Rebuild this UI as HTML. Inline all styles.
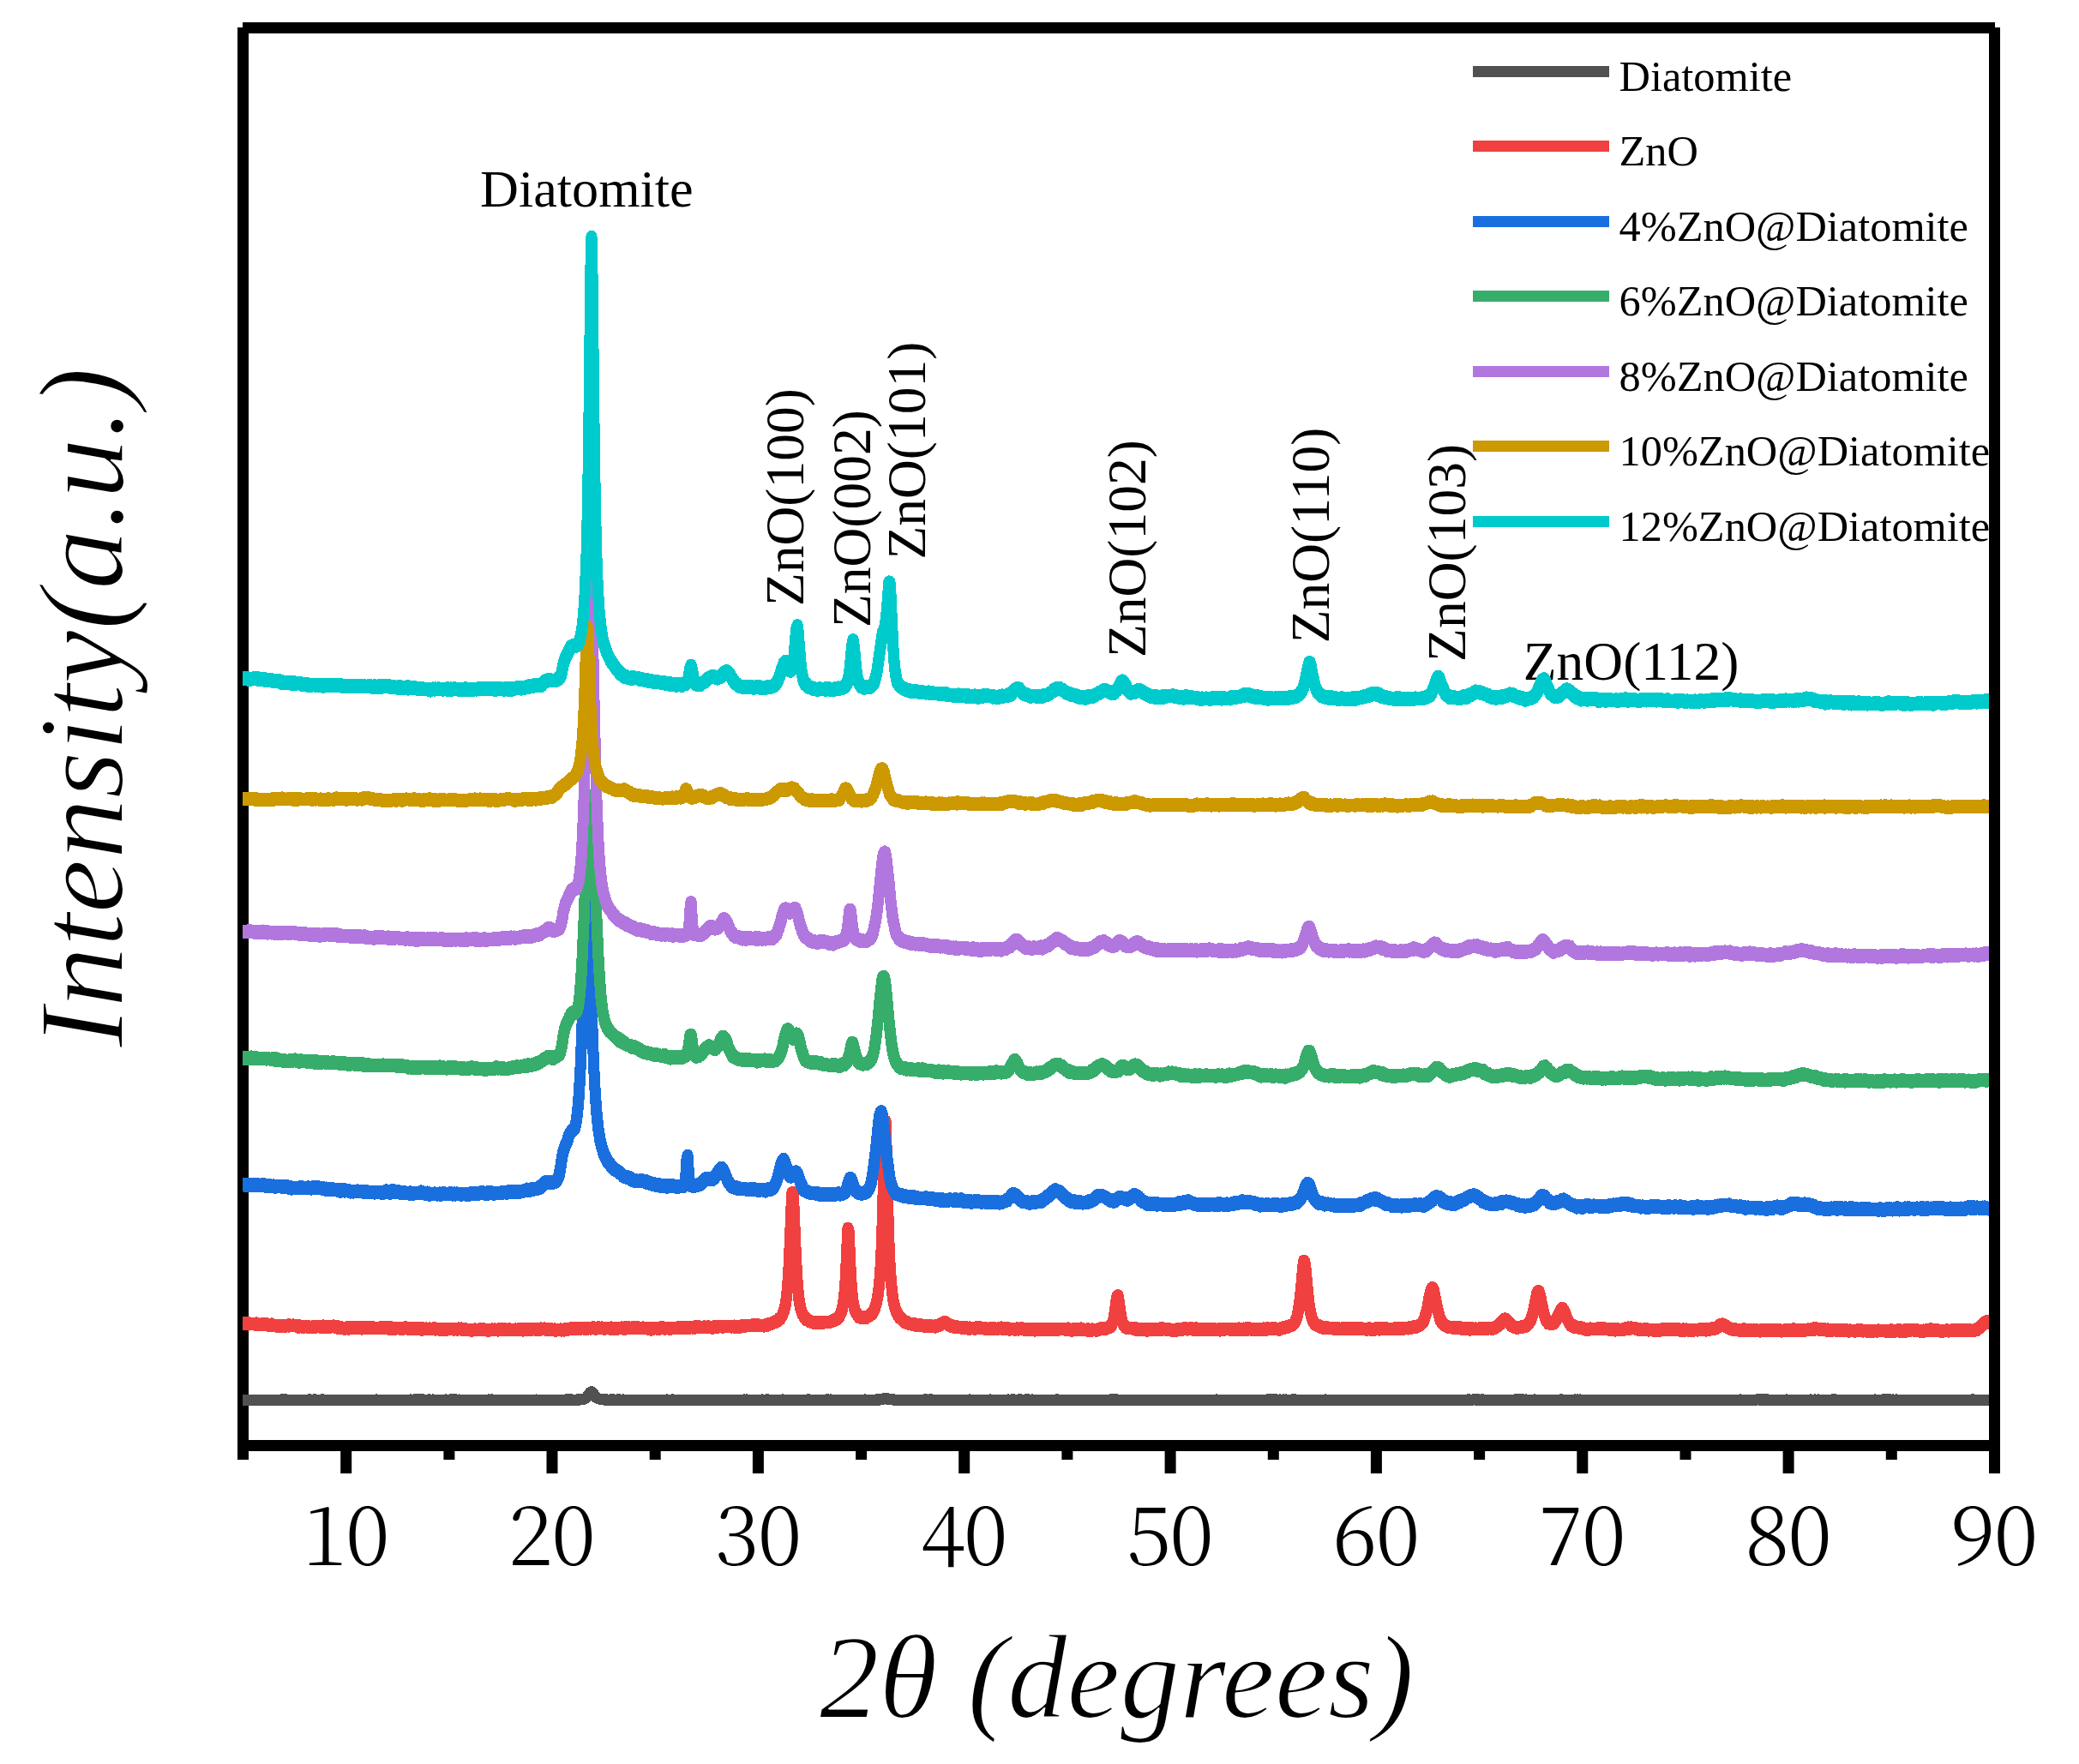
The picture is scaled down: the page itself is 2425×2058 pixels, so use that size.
<!DOCTYPE html>
<html lang="en"><head><meta charset="utf-8"><title>XRD patterns</title>
<style>
html,body{margin:0;padding:0;background:#fff}
svg{display:block}
text{font-family:"Liberation Serif",serif;fill:#000}
.tk text{font-family:"Noto Serif CJK SC","Liberation Serif",serif;font-weight:300}
.it{font-style:italic;stroke:#fff;stroke-width:2px;stroke-linejoin:round}
.ax{stroke:#000;stroke-width:13;fill:none;stroke-linecap:butt}
.cv{fill:none;stroke-width:13;stroke-linejoin:round;stroke-linecap:butt;shape-rendering:crispEdges}
</style></head><body>
<svg width="2425" height="2058" viewBox="0 0 2425 2058">
<rect x="0" y="0" width="2425" height="2058" fill="#fff"/>

<g font-size="63.5">
<text x="560" y="241.3" font-size="62.2">Diatomite</text>
<text transform="translate(937 707.1) rotate(-90)">ZnO(100)</text>
<text transform="translate(1014.6 732.1) rotate(-90)">ZnO(002)</text>
<text transform="translate(1078.5 652.6) rotate(-90)">ZnO(101)</text>
<text transform="translate(1336.2 767.1) rotate(-90)">ZnO(102)</text>
<text transform="translate(1549.5 750.3) rotate(-90)">ZnO(110)</text>
<text transform="translate(1709 771.9) rotate(-90)">ZnO(103)</text>
<text x="1776.8" y="793.3">ZnO(112)</text>
</g>

<g font-size="50.4">
<line x1="1718" x2="1877" y1="83.5" y2="83.5" stroke="#515151" stroke-width="13"/>
<text x="1888.5" y="106.0">Diatomite</text>
<line x1="1718" x2="1877" y1="170.5" y2="170.5" stroke="#F14040" stroke-width="13"/>
<text x="1888.5" y="193.0">ZnO</text>
<line x1="1718" x2="1877" y1="258.5" y2="258.5" stroke="#1A6FDF" stroke-width="13"/>
<text x="1888.5" y="281.0">4%ZnO@Diatomite</text>
<line x1="1718" x2="1877" y1="345.5" y2="345.5" stroke="#37AD6B" stroke-width="13"/>
<text x="1888.5" y="368.0">6%ZnO@Diatomite</text>
<line x1="1718" x2="1877" y1="433.5" y2="433.5" stroke="#B177DE" stroke-width="13"/>
<text x="1888.5" y="456.0">8%ZnO@Diatomite</text>
<line x1="1718" x2="1877" y1="520.5" y2="520.5" stroke="#CC9900" stroke-width="13"/>
<text x="1888.5" y="543.0">10%ZnO@Diatomite</text>
<line x1="1718" x2="1877" y1="608.5" y2="608.5" stroke="#00CBCC" stroke-width="13"/>
<text x="1888.5" y="631.0">12%ZnO@Diatomite</text>
</g>

<g class="tk" font-size="96" letter-spacing="-2" text-anchor="middle">
<text x="402.7" y="1826">10</text>
<text x="643.0" y="1826">20</text>
<text x="883.4" y="1826">30</text>
<text x="1123.7" y="1826">40</text>
<text x="1364.1" y="1826">50</text>
<text x="1604.4" y="1826">60</text>
<text x="1844.8" y="1826">70</text>
<text x="2085.1" y="1826">80</text>
<text x="2325.5" y="1826">90</text>
</g>

<text class="it" font-size="139.3" x="1302.5" y="2004" text-anchor="middle">2θ (degrees)</text>
<text class="it" font-size="141.5" transform="translate(143 825.5) rotate(-90)" text-anchor="middle">Intensity(a.u.)</text>

<g class="ax">
<path d="M283.5 32V1703M283 32.5H2327M2326.5 32V1719M283 1686.5H2327"/>
<path d="M403.7 1686V1719M644.0 1686V1719M884.4 1686V1719M1124.7 1686V1719M1365.1 1686V1719M1605.4 1686V1719M1845.8 1686V1719M2086.1 1686V1719M523.9 1686V1703M764.2 1686V1703M1004.6 1686V1703M1244.9 1686V1703M1485.3 1686V1703M1725.6 1686V1703M1966.0 1686V1703M2206.3 1686V1703"/>
</g>

<clipPath id="plotclip"><rect x="283" y="39" width="2037" height="1641"/></clipPath>
<g class="cv" clip-path="url(#plotclip)">
<path d="M281 1633.3l1 0l1 0l1 -0.3l1 0.3l1 0l1 0l1 0l1 0l1 -0.2l1 0.1l1 0l1 -0.1l1 0.3l1 0.1l1 -0.3l1 0.2l1 0.1l1 0.2l1 -0.2l1 0l1 0.2l1 -0.3l1 0.1l1 -0.1l1 -0.2l1 0.3l1 -0.3l1 0l1 -0.1l1 0.2l1 -0.2l1 -0.1l1 0.1l1 0.2l1 -0.1l1 0.1l1 -0.1l1 0.1l1 0.1l1 0l1 -0.3l1 0.3l1 -0.3l1 0.1l1 -0.1l1 -0.1l1 0.4l1 -0.6l1 0.2l1 -0.1l1 0l1 -0.1l1 0.3l1 0.1l1 0l1 -0.2l1 0.2l1 0.4l1 -0.5l1 0.2l1 0.2l1 -0.1l1 0.1l1 -0.1l1 0l1 -0.1l1 0.1l1 0.1l1 0l1 -0.2l1 0.1l1 -0.2l1 0.3l1 -0.2l1 -0.1l1 0.1l1 0.1l1 0l1 -0.2l1 -0.5l1 0.4l1 0l1 0.1l1 -0.2l1 -0.1l1 0.2l1 -0.2l1 0.2l1 0l1 0.1l1 -0.1l1 0.2l1 -0.3l1 0.1l1 -0.3l1 0.3l1 0.1l1 0.1l1 -0.1l1 0.2l1 -0.3l1 0l1 0.2l1 -0.1l1 0.1l1 0.3l1 -0.3l1 0.1l1 0.2l1 -0.2l1 -0.1l1 0.1l1 -0.1l1 0.3l1 -0.2l1 0.1l1 -0.1l1 -0.1l1 -0.1l1 0.1l1 0l1 -0.1l1 0.1l1 -0.2l1 0.3l1 -0.2l1 0.1l1 -0.1l1 0l1 0l1 0l1 -0.1l1 0.2l1 0l1 -0.1l1 0.1l1 0l1 -0.2l1 0l1 0l1 0l1 0.1l1 0l1 0l1 -0.1l1 0.1l1 -0.1l1 0.1l1 0l1 0.1l1 -0.3l1 0.2l1 0l1 0l1 0.1l1 -0.1l1 -0.1l1 -0.2l1 0.2l1 0.1l1 -0.1l1 0l1 0.1l1 0l1 0.1l1 0l1 0.2l1 -0.2l1 0l1 0.1l1 -0.1l1 0.1l1 -0.2l1 0.1l1 -0.1l1 0.1l1 0.1l1 -0.2l1 0.1l1 -0.1l1 0l1 -0.2l1 0.1l1 0.2l1 -0.3l1 0.1l1 0.1l1 -0.1l1 0.2l1 -0.1l1 -0.1l1 0.3l1 -0.3l1 -0.1l1 0.2l1 0l1 -0.2l1 0l1 0l1 0.1l1 -0.1l1 0l1 0l1 -0.1l1 0.1l1 -0.1l1 0l1 0.1l1 0l1 -0.2l1 0.4l1 -0.2l1 -0.1l1 0.2l1 0l1 0l1 0l1 0l1 -0.2l1 0l1 0.1l1 0l1 0.2l1 -0.3l1 0.3l1 -0.1l1 -0.1l1 0.2l1 -0.1l1 0.2l1 -0.1l1 0.1l1 0l1 0l1 -0.1l1 -0.2l1 0.2l1 0l1 -0.3l1 0.2l1 -0.1l1 0.2l1 -0.2l1 0l1 0l1 0.2l1 -0.4l1 0.1l1 0.2l1 -0.3l1 0.3l1 0l1 0l1 -0.1l1 0l1 0.1l1 0l1 0.1l1 -0.2l1 0.1l1 0.2l1 0l1 -0.1l1 0.1l1 0l1 -0.2l1 0.1l1 -0.1l1 0.1l1 0.1l1 -0.2l1 0.1l1 0l1 -0.2l1 0.2l1 -0.1l1 0.2l1 0.1l1 -0.3l1 0.3l1 0l1 -0.1l1 -0.2l1 0.1l1 -0.1l1 0.3l1 -0.1l1 0l1 -0.4l1 0.2l1 0.1l1 -0.3l1 0l1 0.3l1 -0.2l1 0.1l1 0.3l1 -0.2l1 0l1 -0.1l1 0.1l1 -0.2l1 0.3l1 -0.1l1 -0.2l1 0.2l1 -0.2l1 0.5l1 0.1l1 -0.5l1 0.2l1 0.1l1 -0.1l1 0.1l1 -0.1l1 0.2l1 -0.3l1 0.1l1 0l1 0l1 -0.2l1 0.1l1 0l1 -0.1l1 0.2l1 0l1 -0.2l1 0.1l1 0l1 0l1 0.1l1 0.1l1 0.1l1 -0.3l1 0l1 -0.1l1 0.1l1 0.1l1 -0.1l1 -0.1l1 0.1l1 0l1 -0.1l1 -0.1l1 0l1 0.2l1 0.1l1 0.1l1 -0.1l1 0l1 -0.2l1 0.1l1 0l1 0.1l1 0.1l1 -0.2l1 0l1 0.3l1 -0.1l1 -0.1l1 -0.2l1 0.3l1 -0.1l1 -0.1l1 0.1l1 -0.2l1 0.1l1 -0.2l1 0.2l1 -0.2l1 0l1 0.1l1 0l1 0l1 -0.1l1 0.1l1 -0.1l1 0.1l1 -0.2l1 -0.1l1 0l1 0.1l1 -0.1l1 0.3l1 0l1 -0.2l1 0.1l1 0l1 0l1 0.1l1 -0.1l1 -0.1l1 0.1l1 0l1 -0.2l1 0l1 -0.2l1 -0.1l1 -0.2l1 -0.2l1 -0.4l1 -0.5l1 -0.8l1 -1l1 -1.5l1 -1.4l1 -1.4l1 -1.1l1 -0.4l1 0.7l1 1.5l1 1.3l1 1.4l1 1.2l1 1l1 0.5l1 0.6l1 0.1l1 0.3l1 0.2l1 -0.1l1 0.3l1 0.1l1 0.2l1 0l1 0.1l1 -0.1l1 0.2l1 0.1l1 -0.2l1 -0.1l1 0.3l1 -0.4l1 0.3l1 -0.2l1 0.2l1 -0.1l1 0l1 -0.1l1 0l1 -0.1l1 0.4l1 -0.2l1 0l1 0.2l1 -0.3l1 0.1l1 0.1l1 -0.1l1 0.2l1 0l1 0.1l1 -0.1l1 -0.2l1 0.1l1 0.1l1 -0.1l1 -0.1l1 0.2l1 0l1 -0.1l1 0.1l1 0l1 0.2l1 -0.4l1 0.2l1 -0.1l1 0.1l1 0.2l1 -0.1l1 -0.2l1 0.3l1 -0.2l1 0l1 0.1l1 -0.1l1 0.1l1 -0.1l1 -0.1l1 0.2l1 -0.1l1 -0.1l1 0l1 0.1l1 0l1 0l1 0.1l1 -0.2l1 0.2l1 0l1 -0.1l1 0.1l1 -0.1l1 0l1 0l1 -0.2l1 -0.1l1 0.1l1 0l1 0l1 0l1 0l1 -0.1l1 0l1 0.2l1 0.1l1 -0.2l1 0l1 0.1l1 0.1l1 0l1 -0.1l1 0.2l1 0l1 -0.1l1 0l1 0l1 0.3l1 0l1 -0.2l1 0.2l1 -0.2l1 0l1 0l1 -0.1l1 0l1 0l1 0.1l1 -0.1l1 0l1 0l1 0l1 0.1l1 -0.1l1 0.2l1 -0.1l1 -0.1l1 0.2l1 -0.1l1 -0.1l1 0.5l1 -0.4l1 -0.2l1 0.1l1 0.2l1 0l1 -0.2l1 0.2l1 0.1l1 0l1 -0.1l1 -0.1l1 0l1 -0.1l1 0.2l1 -0.2l1 0l1 -0.1l1 0.3l1 -0.3l1 0.1l1 0l1 0.1l1 0l1 0l1 -0.3l1 0l1 0.3l1 0l1 -0.2l1 0.1l1 -0.1l1 0.3l1 0l1 -0.1l1 0l1 -0.1l1 0.1l1 -0.2l1 0.2l1 0l1 0.1l1 -0.2l1 0l1 0.2l1 -0.3l1 -0.2l1 0.1l1 0l1 -0.1l1 0.3l1 0l1 0l1 -0.1l1 0l1 0.4l1 -0.2l1 0.2l1 -0.2l1 0.1l1 0l1 -0.4l1 0.2l1 0.1l1 -0.1l1 -0.2l1 0l1 -0.1l1 0.2l1 0l1 0l1 -0.1l1 -0.1l1 0.1l1 -0.1l1 0.2l1 0l1 0l1 0l1 0.1l1 -0.1l1 0.2l1 0l1 0l1 -0.2l1 0.2l1 -0.1l1 -0.1l1 0l1 0l1 0.1l1 -0.3l1 0.3l1 -0.2l1 0.3l1 -0.1l1 -0.1l1 0.1l1 -0.2l1 0.1l1 0l1 0.1l1 -0.1l1 0.2l1 -0.2l1 0l1 0.1l1 -0.1l1 0l1 0.1l1 0.1l1 -0.2l1 0l1 0.1l1 0l1 -0.1l1 0l1 0.1l1 0.2l1 -0.4l1 -0.1l1 0.2l1 -0.2l1 0.4l1 -0.2l1 0l1 0.2l1 -0.1l1 0l1 -0.1l1 0.4l1 -0.3l1 -0.1l1 0l1 0l1 0l1 0.1l1 0l1 -0.1l1 0.2l1 -0.1l1 -0.1l1 0.1l1 -0.4l1 0.4l1 0l1 -0.2l1 -0.1l1 0.1l1 0.3l1 -0.2l1 0l1 0l1 0.1l1 0l1 -0.1l1 0l1 0.3l1 -0.3l1 0l1 0.2l1 -0.1l1 -0.2l1 0l1 0.1l1 0.2l1 0.1l1 0l1 -0.1l1 0l1 0l1 0.1l1 0l1 -0.2l1 0.1l1 0l1 0.1l1 0.2l1 -0.3l1 0l1 0.2l1 -0.2l1 0.3l1 -0.1l1 -0.3l1 0.1l1 -0.1l1 -0.3l1 0.4l1 -0.3l1 0l1 0.2l1 -0.1l1 -0.1l1 0.1l1 0.2l1 0l1 -0.2l1 0.2l1 -0.2l1 -0.2l1 0.3l1 -0.4l1 0.2l1 -0.5l1 -0.1l1 -0.2l1 -0.1l1 0l1 -0.3l1 0l1 -0.2l1 0.3l1 -0.1l1 0.1l1 0.3l1 0l1 0.3l1 0.1l1 0.2l1 0l1 0.3l1 0.1l1 -0.1l1 0l1 0.1l1 0.1l1 0l1 -0.1l1 0.2l1 0l1 -0.3l1 0.1l1 0.1l1 -0.1l1 0l1 0l1 -0.1l1 0l1 0.1l1 -0.2l1 0.3l1 -0.2l1 0.1l1 -0.2l1 0.4l1 0l1 0l1 -0.2l1 -0.1l1 0l1 -0.1l1 0.2l1 0l1 -0.1l1 0l1 -0.2l1 -0.1l1 0.1l1 0l1 0.1l1 0l1 -0.1l1 0.2l1 -0.3l1 0.3l1 0.1l1 0.1l1 0.1l1 -0.3l1 0.1l1 0l1 -0.1l1 0l1 0.2l1 -0.1l1 -0.1l1 0.2l1 -0.1l1 0l1 0l1 -0.2l1 0.3l1 -0.2l1 0.1l1 0l1 -0.1l1 0.2l1 0l1 -0.2l1 -0.1l1 0.2l1 0.1l1 -0.2l1 -0.1l1 0.4l1 0l1 0l1 0l1 0l1 0l1 -0.4l1 0.3l1 0l1 -0.3l1 0.1l1 0.2l1 -0.1l1 -0.1l1 -0.2l1 0.2l1 0.2l1 -0.2l1 0.1l1 -0.1l1 -0.1l1 0.1l1 0.1l1 0.1l1 0.2l1 -0.1l1 -0.2l1 0l1 0.1l1 -0.1l1 0l1 0.1l1 -0.1l1 0.1l1 0l1 -0.1l1 0l1 0l1 -0.3l1 0.2l1 0.2l1 -0.2l1 0.1l1 0l1 0l1 0l1 0.2l1 -0.3l1 0l1 0l1 0l1 0.1l1 -0.2l1 0.2l1 -0.1l1 0.2l1 -0.3l1 0.1l1 0.1l1 -0.3l1 0.1l1 0.1l1 -0.1l1 -0.1l1 0.3l1 -0.4l1 0.1l1 0.1l1 0.1l1 -0.1l1 0l1 0l1 -0.2l1 0.1l1 0l1 0.2l1 0l1 -0.1l1 0.1l1 -0.1l1 -0.2l1 0.2l1 -0.2l1 0.2l1 0l1 0.3l1 -0.2l1 -0.2l1 0.2l1 -0.1l1 0l1 0.1l1 0.2l1 -0.1l1 -0.1l1 0l1 0.1l1 0l1 -0.2l1 0.3l1 -0.2l1 -0.1l1 0l1 0.2l1 -0.2l1 0l1 0.2l1 0l1 0.1l1 -0.2l1 0l1 -0.1l1 0l1 0.2l1 -0.1l1 0.1l1 -0.4l1 0.2l1 0.1l1 0l1 0.3l1 -0.2l1 0.1l1 -0.2l1 0.2l1 0l1 -0.3l1 0.3l1 -0.3l1 0.1l1 0.2l1 -0.1l1 0.2l1 0l1 -0.1l1 -0.1l1 0.2l1 0l1 0l1 -0.1l1 0l1 0.4l1 0l1 -0.1l1 -0.2l1 0.2l1 0l1 0l1 -0.2l1 0.1l1 -0.1l1 0l1 -0.2l1 0l1 0l1 -0.1l1 0.1l1 0l1 0l1 0l1 0.2l1 -0.1l1 -0.1l1 0.2l1 -0.2l1 0l1 0.2l1 -0.2l1 0l1 0l1 0l1 0l1 0.1l1 -0.1l1 0l1 0l1 0l1 0l1 -0.3l1 0.1l1 0.1l1 -0.3l1 0l1 0.1l1 0.3l1 -0.4l1 0.4l1 -0.1l1 0l1 0l1 0.1l1 -0.1l1 0.1l1 0l1 0.2l1 0l1 -0.2l1 0l1 -0.1l1 0.1l1 0.2l1 0l1 0.1l1 -0.1l1 0l1 0l1 -0.1l1 0l1 -0.1l1 0.2l1 -0.4l1 0.2l1 0.2l1 -0.1l1 0.1l1 -0.1l1 -0.2l1 0.2l1 -0.1l1 -0.1l1 0.2l1 0.1l1 -0.1l1 -0.2l1 0.1l1 0l1 0.2l1 -0.1l1 -0.2l1 0.2l1 0l1 -0.3l1 0.4l1 -0.2l1 0.1l1 -0.1l1 0.3l1 -0.2l1 -0.2l1 0.2l1 -0.2l1 0.1l1 0l1 0.1l1 -0.1l1 0l1 0.1l1 -0.2l1 0.1l1 0.1l1 0l1 -0.1l1 0.1l1 0l1 -0.1l1 0.1l1 0l1 0.1l1 0l1 0l1 0l1 0l1 0l1 0l1 0l1 0.1l1 -0.1l1 0l1 0.1l1 -0.1l1 -0.4l1 0.3l1 -0.2l1 0.2l1 -0.2l1 0l1 0.1l1 -0.1l1 0.1l1 0l1 0.1l1 -0.1l1 0l1 -0.1l1 -0.1l1 0.2l1 0.1l1 0l1 -0.2l1 0.1l1 0.1l1 -0.1l1 -0.1l1 0l1 -0.1l1 0.1l1 0l1 -0.1l1 0l1 0.1l1 0l1 0.2l1 -0.4l1 0.4l1 0l1 0l1 -0.2l1 0.2l1 0l1 0l1 -0.1l1 0.1l1 -0.1l1 0.2l1 0.2l1 -0.5l1 0.3l1 0l1 -0.1l1 -0.2l1 0l1 0.2l1 0.2l1 -0.2l1 -0.3l1 0.1l1 0.3l1 -0.2l1 0.2l1 0.1l1 -0.2l1 -0.1l1 0.1l1 0l1 -0.1l1 0l1 0.1l1 -0.3l1 0.2l1 -0.1l1 0.1l1 0.1l1 0l1 -0.1l1 -0.1l1 0.2l1 0.1l1 -0.3l1 0.2l1 -0.1l1 0.2l1 -0.2l1 0.1l1 0l1 -0.1l1 0.1l1 0.1l1 -0.2l1 -0.1l1 0.1l1 -0.1l1 -0.2l1 0.2l1 -0.2l1 -0.1l1 0.1l1 -0.1l1 0.1l1 0l1 0.1l1 0.2l1 -0.4l1 0.2l1 0.4l1 -0.3l1 0l1 -0.2l1 0.4l1 -0.1l1 -0.1l1 -0.2l1 0.1l1 0.2l1 -0.3l1 0.1l1 0l1 0.1l1 0l1 -0.1l1 0.1l1 0l1 -0.3l1 0.4l1 -0.1l1 -0.2l1 0.3l1 0.1l1 -0.2l1 0l1 0l1 -0.1l1 0.1l1 0l1 0l1 0.3l1 -0.2l1 0.1l1 -0.1l1 0.3l1 -0.4l1 0l1 0l1 0l1 0.2l1 0l1 -0.1l1 -0.1l1 -0.1l1 0.2l1 -0.2l1 0.1l1 0.1l1 0.1l1 0l1 0l1 0l1 -0.3l1 0.2l1 0.1l1 -0.4l1 0.5l1 -0.3l1 0.1l1 0.1l1 -0.1l1 -0.1l1 0.1l1 0l1 0.1l1 0l1 0l1 -0.2l1 0.1l1 0.1l1 -0.1l1 0.1l1 0l1 0l1 -0.1l1 0l1 0l1 0.1l1 -0.2l1 0.3l1 -0.1l1 -0.2l1 0l1 0l1 0.2l1 0.1l1 -0.2l1 0l1 0.2l1 0l1 -0.1l1 0.2l1 -0.1l1 -0.1l1 0.1l1 -0.1l1 -0.1l1 0l1 0.1l1 -0.1l1 0l1 0.1l1 0l1 -0.2l1 0.2l1 -0.1l1 -0.1l1 0.2l1 -0.1l1 0l1 0l1 0.1l1 -0.1l1 0.2l1 0l1 -0.1l1 -0.1l1 0.2l1 -0.3l1 0.1l1 0l1 -0.1l1 0.1l1 0l1 0.2l1 -0.3l1 0.2l1 -0.1l1 0.1l1 0.1l1 -0.1l1 0l1 0.1l1 -0.1l1 0.1l1 0l1 -0.2l1 0.3l1 -0.2l1 -0.2l1 0.3l1 0.1l1 -0.1l1 -0.1l1 -0.2l1 0.3l1 0.1l1 -0.5l1 0.3l1 -0.2l1 0.2l1 -0.3l1 0.3l1 -0.2l1 0.2l1 0l1 0.1l1 -0.2l1 0.1l1 0l1 0l1 0.2l1 -0.1l1 0.1l1 -0.1l1 -0.1l1 0l1 0.1l1 -0.2l1 0.1l1 0l1 0.1l1 0.1l1 -0.3l1 -0.1l1 0.2l1 0l1 -0.1l1 0l1 -0.2l1 0.1l1 0.1l1 0.1l1 0l1 0l1 -0.2l1 0.1l1 0.1l1 -0.1l1 0l1 0.1l1 0.2l1 -0.3l1 0l1 0.1l1 -0.1l1 -0.1l1 0.3l1 -0.2l1 0.2l1 -0.2l1 0.1l1 -0.2l1 0.2l1 0l1 0l1 0l1 0l1 0l1 0l1 0.3l1 -0.4l1 0.2l1 0l1 -0.2l1 0.2l1 -0.2l1 0.1l1 -0.1l1 -0.2l1 0.3l1 -0.1l1 -0.4l1 0.1l1 0.2l1 0l1 0l1 -0.2l1 -0.1l1 -0.1l1 0.2l1 -0.1l1 0l1 0.1l1 0l1 0.1l1 0l1 -0.1l1 0l1 0l1 0.2l1 0l1 0.1l1 0l1 -0.1l1 -0.1l1 0.3l1 0.1l1 -0.3l1 0.2l1 0.3l1 -0.4l1 0l1 0l1 0.1l1 -0.1l1 0.1l1 0.1l1 -0.3l1 0.1l1 0l1 0.2l1 -0.2l1 0.1l1 -0.3l1 0.4l1 -0.2l1 0l1 -0.1l1 0l1 0.1l1 -0.1l1 0l1 -0.1l1 0.1l1 -0.1l1 -0.1l1 0l1 0.1l1 -0.2l1 0l1 0l1 0.2l1 0.2l1 0l1 -0.4l1 0.4l1 -0.1l1 -0.1l1 -0.1l1 0.2l1 0.1l1 0l1 -0.2l1 0l1 0.2l1 -0.2l1 0.1l1 0.1l1 -0.3l1 0.2l1 0.3l1 -0.1l1 -0.3l1 0.3l1 -0.1l1 -0.1l1 0l1 0.1l1 0.1l1 0.1l1 -0.2l1 0l1 0.1l1 -0.1l1 0.2l1 -0.1l1 0.2l1 -0.1l1 0.1l1 0l1 0l1 -0.2l1 0.1l1 -0.1l1 0.1l1 -0.3l1 0.1l1 -0.2l1 0l1 -0.3l1 0.3l1 0.1l1 0l1 -0.1l1 0.1l1 0.1l1 -0.1l1 0.3l1 0l1 0l1 -0.2l1 0.2l1 0.1l1 -0.4l1 0.2l1 -0.4l1 0.2l1 0.1l1 -0.3l1 0.3l1 -0.2l1 0l1 0l1 0.1l1 0.2l1 -0.1l1 -0.2l1 0.3l1 -0.2l1 0l1 0l1 0l1 -0.1l1 0.1l1 0l1 0.1l1 0.1l1 0l1 0l1 -0.1l1 0.1l1 0.2l1 -0.3l1 0.1l1 -0.2l1 0.2l1 0.1l1 -0.1l1 0l1 0.1l1 -0.2l1 0.1l1 0.3l1 -0.2l1 -0.2l1 0.1l1 -0.2l1 0.3l1 -0.3l1 0.1l1 0.1l1 -0.1l1 0.3l1 -0.1l1 -0.1l1 0.1l1 -0.1l1 0l1 0.1l1 0.2l1 -0.2l1 0l1 0l1 -0.2l1 0.4l1 -0.2l1 0l1 0l1 0l1 -0.1l1 -0.1l1 0.1l1 0.1l1 0l1 0l1 0l1 0l1 0l1 -0.1l1 0.2l1 0.1l1 -0.2l1 0l1 -0.1l1 0l1 0.1l1 -0.2l1 -0.1l1 0.1l1 -0.2l1 0.1l1 0.2l1 -0.1l1 0l1 0l1 -0.1l1 0.1l1 -0.2l1 0l1 0.1l1 0l1 0.2l1 0l1 -0.1l1 -0.1l1 0.3l1 -0.3l1 0.3l1 0l1 -0.2l1 -0.1l1 0.2l1 -0.2l1 0l1 0l1 -0.1l1 0.2l1 -0.1l1 0l1 0l1 0l1 0l1 0.1l1 -0.2l1 0.2l1 0l1 -0.1l1 0.3l1 -0.1l1 0l1 0.1l1 -0.1l1 0.2l1 -0.2l1 0.1l1 0.1l1 -0.2l1 -0.1l1 0.1l1 0.2l1 -0.1l1 0l1 -0.1l1 0l1 -0.1l1 0.1l1 -0.2l1 0.1l1 0l1 0.2l1 -0.2l1 0.2l1 -0.1l1 -0.1l1 0.1l1 -0.1l1 0.2l1 -0.2l1 0l1 0.2l1 -0.2l1 0l1 0.1l1 -0.1l1 0l1 -0.2l1 0l1 0l1 0.3l1 -0.1l1 0l1 0.2l1 -0.1l1 -0.2l1 0.2l1 -0.3l1 0.3l1 -0.1l1 0.1l1 -0.1l1 0.1l1 0.1l1 -0.1l1 -0.1l1 0l1 0.1l1 0l1 0l1 0l1 0.1l1 -0.1l1 -0.1l1 0l1 -0.1l1 0.2l1 -0.1l1 0.2l1 -0.3l1 -0.2l1 0.1l1 0.2l1 -0.1l1 -0.1l1 0.3l1 0l1 -0.2l1 0l1 0l1 0.1l1 0.2l1 -0.3l1 -0.1l1 0.1l1 -0.1l1 0l1 0l1 0.2l1 -0.3l1 -0.1l1 -0.1l1 0l1 0.4l1 0l1 -0.3l1 0l1 0.2l1 -0.2l1 0.1l1 0.1l1 -0.1l1 0l1 0.2l1 0.1l1 -0.2l1 0l1 0.2l1 0l1 -0.2l1 0.1l1 0.1l1 0l1 0l1 0.2l1 -0.2l1 -0.2l1 0l1 0l1 0.2l1 0l1 0l1 0.1l1 0l1 -0.4l1 0.4l1 -0.2l1 0l1 0l1 0.2l1 -0.1l1 -0.1l1 0l1 0l1 0.1l1 0l1 0.1l1 -0.1l1 -0.1l1 0.2l1 0.2l1 0l1 -0.2l1 0.1l1 -0.2l1 0.1l1 -0.2l1 0.1l1 0.2l1 -0.3l1 0.1l1 -0.2l1 -0.1l1 0.3l1 0l1 0l1 -0.1l1 -0.2l1 0.3l1 0.3l1 -0.3l1 -0.3l1 0.2l1 0.1l1 0l1 0l1 -0.2l1 0.3l1 0l1 -0.1l1 -0.1l1 0l1 0l1 0.2l1 -0.3l1 0.1l1 -0.1l1 -0.1l1 0.1l1 0.1l1 -0.3l1 0.1l1 0.1l1 0l1 0.1l1 0l1 0.3l1 -0.3l1 0l1 0.2l1 0.1l1 -0.1l1 -0.2l1 0.1l1 0.2l1 -0.1l1 0l1 -0.1l1 -0.2l1 0.3l1 0.2l1 0l1 -0.1l1 -0.1l1 0l1 0.2l1 0.2l1 -0.3l1 0l1 0.1l1 0.1l1 0l1 -0.2l1 0.1l1 0l1 -0.3l1 0.2l1 -0.1l1 -0.2l1 0.2l1 -0.2l1 -0.1l1 0.1l1 0l1 -0.1l1 0l1 0.1l1 -0.2l1 0.1l1 0.3l1 -0.3l1 0l1 0.2l1 -0.1l1 0l1 0l1 -0.2l1 0l1 0.3l1 -0.3l1 0.1l1 -0.1l1 0.2l1 -0.2l1 -0.1l1 0.2l1 0l1 0l1 -0.1l1 0.2l1 0l1 0.1l1 -0.3l1 0.4l1 0l1 -0.1l1 -0.2l1 0.4l1 -0.1l1 0.1l1 -0.2l1 0.2l1 0l1 -0.1l1 -0.1l1 -0.1l1 0l1 0l1 0.2l1 -0.1l1 -0.1l1 0l1 0l1 0l1 0l1 0l1 0l1 0.1l1 0.2l1 -0.1l1 -0.1l1 -0.2l1 0.3l1 0l1 0l1 -0.1l1 0.1l1 0l1 -0.2l1 -0.1l1 0.2l1 -0.2l1 0.1l1 -0.1l1 0l1 0l1 0.3l1 -0.3l1 0.1l1 0.1l1 0l1 -0.2l1 0l1 0.1l1 0l1 -0.1l1 0.2l1 0.1l1 -0.2l1 -0.1l1 0.1l1 -0.1l1 0.3l1 0l1 0l1 0l1 0.1l1 0l1 -0.1l1 0.2l1 0l1 0l1 0.1l1 -0.1l1 0l1 0.1l1 -0.1l1 0l1 -0.1l1 0l1 0.3l1 -0.2l1 -0.2l1 0.2l1 -0.2l1 -0.2l1 0.1l1 -0.1l1 0l1 0.1l1 -0.3l1 0.1l1 -0.1l1 0.2l1 0.1l1 0.1l1 0l1 0l1 -0.1l1 -0.1l1 0.4l1 -0.1l1 -0.2l1 0.2l1 -0.1l1 0.1l1 0l1 0l1 0l1 0l1 -0.2l1 0l1 0M281 1633.5l1 0l1 0l1 -0.3l1 0.3l1 0l1 0l1 0l1 0l1 -0.2l1 0.1l1 0l1 -0.1l1 0.3l1 0.1l1 -0.3l1 0.2l1 0.1l1 0.2l1 -0.2l1 0l1 0.2l1 -0.3l1 0.1l1 -0.1l1 -0.2l1 0.3l1 -0.3l1 0l1 -0.1l1 0.2l1 -0.2l1 -0.1l1 0.1l1 0.2l1 -0.1l1 0.1l1 -0.1l1 0.1l1 0.1l1 0l1 -0.3l1 0.3l1 -0.3l1 0.1l1 -0.1l1 -0.1l1 0.4l1 -0.6l1 0.2l1 -0.1l1 0l1 -0.1l1 0.3l1 0.1l1 0l1 -0.2l1 0.2l1 0.4l1 -0.5l1 0.2l1 0.2l1 -0.1l1 0.1l1 -0.1l1 0l1 -0.1l1 0.1l1 0.1l1 0l1 -0.2l1 0.1l1 -0.2l1 0.3l1 -0.2l1 -0.1l1 0.1l1 0.1l1 0l1 -0.2l1 -0.5l1 0.4l1 0l1 0.1l1 -0.2l1 -0.1l1 0.2l1 -0.2l1 0.2l1 0l1 0.1l1 -0.1l1 0.2l1 -0.3l1 0.1l1 -0.3l1 0.3l1 0.1l1 0.1l1 -0.1l1 0.2l1 -0.3l1 0l1 0.2l1 -0.1l1 0.1l1 0.3l1 -0.3l1 0.1l1 0.2l1 -0.2l1 -0.1l1 0.1l1 -0.1l1 0.3l1 -0.2l1 0.1l1 -0.1l1 -0.1l1 -0.1l1 0.1l1 0l1 -0.1l1 0.1l1 -0.2l1 0.3l1 -0.2l1 0.1l1 -0.1l1 0l1 0l1 0l1 -0.1l1 0.2l1 0l1 -0.1l1 0.1l1 0l1 -0.2l1 0l1 0l1 0l1 0.1l1 0l1 0l1 -0.1l1 0.1l1 -0.1l1 0.1l1 0l1 0.1l1 -0.3l1 0.2l1 0l1 0l1 0.1l1 -0.1l1 -0.1l1 -0.2l1 0.2l1 0.1l1 -0.1l1 0l1 0.1l1 0l1 0.1l1 0l1 0.2l1 -0.2l1 0l1 0.1l1 -0.1l1 0.1l1 -0.2l1 0.1l1 -0.1l1 0.1l1 0.1l1 -0.2l1 0.1l1 -0.1l1 0l1 -0.2l1 0.1l1 0.2l1 -0.3l1 0.1l1 0.1l1 -0.1l1 0.2l1 -0.1l1 -0.1l1 0.3l1 -0.3l1 -0.1l1 0.2l1 0l1 -0.2l1 0l1 0l1 0.1l1 -0.1l1 0l1 0l1 -0.1l1 0.1l1 -0.1l1 0l1 0.1l1 0l1 -0.2l1 0.4l1 -0.2l1 -0.1l1 0.2l1 0l1 0l1 0l1 0l1 -0.2l1 0l1 0.1l1 0l1 0.2l1 -0.3l1 0.3l1 -0.1l1 -0.1l1 0.2l1 -0.1l1 0.2l1 -0.1l1 0.1l1 0l1 0l1 -0.1l1 -0.2l1 0.2l1 0l1 -0.3l1 0.2l1 -0.1l1 0.2l1 -0.2l1 0l1 0l1 0.2l1 -0.4l1 0.1l1 0.2l1 -0.3l1 0.3l1 0l1 0l1 -0.1l1 0l1 0.1l1 0l1 0.1l1 -0.2l1 0.1l1 0.2l1 0l1 -0.1l1 0.1l1 0l1 -0.2l1 0.1l1 -0.1l1 0.1l1 0.1l1 -0.2l1 0.1l1 0l1 -0.2l1 0.2l1 -0.1l1 0.2l1 0.1l1 -0.3l1 0.3l1 0l1 -0.1l1 -0.2l1 0.1l1 -0.1l1 0.3l1 -0.1l1 0l1 -0.4l1 0.2l1 0.1l1 -0.3l1 0l1 0.3l1 -0.2l1 0.1l1 0.3l1 -0.2l1 0l1 -0.1l1 0.1l1 -0.2l1 0.3l1 -0.1l1 -0.2l1 0.2l1 -0.2l1 0.5l1 0.1l1 -0.5l1 0.2l1 0.1l1 -0.1l1 0.1l1 -0.1l1 0.2l1 -0.3l1 0.1l1 0l1 0l1 -0.2l1 0.1l1 0l1 -0.1l1 0.2l1 0l1 -0.2l1 0.1l1 0l1 0l1 0.1l1 0.1l1 0.1l1 -0.3l1 0l1 -0.1l1 0.1l1 0.1l1 -0.1l1 -0.1l1 0.1l1 0l1 -0.1l1 -0.1l1 0l1 0.2l1 0.1l1 0.1l1 -0.1l1 0l1 -0.2l1 0.1l1 0l1 0.1l1 0.1l1 -0.2l1 0l1 0.3l1 -0.1l1 -0.1l1 -0.2l1 0.3l1 -0.1l1 -0.1l1 0.1l1 -0.2l1 0.1l1 -0.2l1 0.2l1 -0.2l1 0l1 0.1l1 0l1 0l1 -0.1l1 0.1l1 -0.1l1 0.1l1 -0.2l1 -0.1l1 0l1 0.1l1 -0.1l1 0.3l1 0l1 -0.2l1 0.1l1 0l1 0l1 0.1l1 -0.1l1 -0.1l1 0.1l1 0l1 -0.2l1 0l1 -0.2l1 -0.1l1 -0.2l1 -0.2l1 -0.4l1 -0.5l1 -0.8l1 -1l1 -1.5l1 -1.4l1 -1.4l1 -1.1l1 -0.4l1 0.7l1 1.5l1 1.3l1 1.4l1 1.2l1 1l1 0.5l1 0.6l1 0.1l1 0.3l1 0.2l1 -0.1l1 0.3l1 0.1l1 0.2l1 0l1 0.1l1 -0.1l1 0.2l1 0.1l1 -0.2l1 -0.1l1 0.3l1 -0.4l1 0.3l1 -0.2l1 0.2l1 -0.1l1 0l1 -0.1l1 0l1 -0.1l1 0.4l1 -0.2l1 0l1 0.2l1 -0.3l1 0.1l1 0.1l1 -0.1l1 0.2l1 0l1 0.1l1 -0.1l1 -0.2l1 0.1l1 0.1l1 -0.1l1 -0.1l1 0.2l1 0l1 -0.1l1 0.1l1 0l1 0.2l1 -0.4l1 0.2l1 -0.1l1 0.1l1 0.2l1 -0.1l1 -0.2l1 0.3l1 -0.2l1 0l1 0.1l1 -0.1l1 0.1l1 -0.1l1 -0.1l1 0.2l1 -0.1l1 -0.1l1 0l1 0.1l1 0l1 0l1 0.1l1 -0.2l1 0.2l1 0l1 -0.1l1 0.1l1 -0.1l1 0l1 0l1 -0.2l1 -0.1l1 0.1l1 0l1 0l1 0l1 0l1 -0.1l1 0l1 0.2l1 0.1l1 -0.2l1 0l1 0.1l1 0.1l1 0l1 -0.1l1 0.2l1 0l1 -0.1l1 0l1 0l1 0.3l1 0l1 -0.2l1 0.2l1 -0.2l1 0l1 0l1 -0.1l1 0l1 0l1 0.1l1 -0.1l1 0l1 0l1 0l1 0.1l1 -0.1l1 0.2l1 -0.1l1 -0.1l1 0.2l1 -0.1l1 -0.1l1 0.5l1 -0.4l1 -0.2l1 0.1l1 0.2l1 0l1 -0.2l1 0.2l1 0.1l1 0l1 -0.1l1 -0.1l1 0l1 -0.1l1 0.2l1 -0.2l1 0l1 -0.1l1 0.3l1 -0.3l1 0.1l1 0l1 0.1l1 0l1 0l1 -0.3l1 0l1 0.3l1 0l1 -0.2l1 0.1l1 -0.1l1 0.3l1 0l1 -0.1l1 0l1 -0.1l1 0.1l1 -0.2l1 0.2l1 0l1 0.1l1 -0.2l1 0l1 0.2l1 -0.3l1 -0.2l1 0.1l1 0l1 -0.1l1 0.3l1 0l1 0l1 -0.1l1 0l1 0.4l1 -0.2l1 0.2l1 -0.2l1 0.1l1 0l1 -0.4l1 0.2l1 0.1l1 -0.1l1 -0.2l1 0l1 -0.1l1 0.2l1 0l1 0l1 -0.1l1 -0.1l1 0.1l1 -0.1l1 0.2l1 0l1 0l1 0l1 0.1l1 -0.1l1 0.2l1 0l1 0l1 -0.2l1 0.2l1 -0.1l1 -0.1l1 0l1 0l1 0.1l1 -0.3l1 0.3l1 -0.2l1 0.3l1 -0.1l1 -0.1l1 0.1l1 -0.2l1 0.1l1 0l1 0.1l1 -0.1l1 0.2l1 -0.2l1 0l1 0.1l1 -0.1l1 0l1 0.1l1 0.1l1 -0.2l1 0l1 0.1l1 0l1 -0.1l1 0l1 0.1l1 0.2l1 -0.4l1 -0.1l1 0.2l1 -0.2l1 0.4l1 -0.2l1 0l1 0.2l1 -0.1l1 0l1 -0.1l1 0.4l1 -0.3l1 -0.1l1 0l1 0l1 0l1 0.1l1 0l1 -0.1l1 0.2l1 -0.1l1 -0.1l1 0.1l1 -0.4l1 0.4l1 0l1 -0.2l1 -0.1l1 0.1l1 0.3l1 -0.2l1 0l1 0l1 0.1l1 0l1 -0.1l1 0l1 0.3l1 -0.3l1 0l1 0.2l1 -0.1l1 -0.2l1 0l1 0.1l1 0.2l1 0.1l1 0l1 -0.1l1 0l1 0l1 0.1l1 0l1 -0.2l1 0.1l1 0l1 0.1l1 0.2l1 -0.3l1 0l1 0.2l1 -0.2l1 0.3l1 -0.1l1 -0.3l1 0.1l1 -0.1l1 -0.3l1 0.4l1 -0.3l1 0l1 0.2l1 -0.1l1 -0.1l1 0.1l1 0.2l1 0l1 -0.2l1 0.2l1 -0.2l1 -0.2l1 0.3l1 -0.4l1 0.2l1 -0.5l1 -0.1l1 -0.2l1 -0.1l1 0l1 -0.3l1 0l1 -0.2l1 0.3l1 -0.1l1 0.1l1 0.3l1 0l1 0.3l1 0.1l1 0.2l1 0l1 0.3l1 0.1l1 -0.1l1 0l1 0.1l1 0.1l1 0l1 -0.1l1 0.2l1 0l1 -0.3l1 0.1l1 0.1l1 -0.1l1 0l1 0l1 -0.1l1 0l1 0.1l1 -0.2l1 0.3l1 -0.2l1 0.1l1 -0.2l1 0.4l1 0l1 0l1 -0.2l1 -0.1l1 0l1 -0.1l1 0.2l1 0l1 -0.1l1 0l1 -0.2l1 -0.1l1 0.1l1 0l1 0.1l1 0l1 -0.1l1 0.2l1 -0.3l1 0.3l1 0.1l1 0.1l1 0.1l1 -0.3l1 0.1l1 0l1 -0.1l1 0l1 0.2l1 -0.1l1 -0.1l1 0.2l1 -0.1l1 0l1 0l1 -0.2l1 0.3l1 -0.2l1 0.1l1 0l1 -0.1l1 0.2l1 0l1 -0.2l1 -0.1l1 0.2l1 0.1l1 -0.2l1 -0.1l1 0.4l1 0l1 0l1 0l1 0l1 0l1 -0.4l1 0.3l1 0l1 -0.3l1 0.1l1 0.2l1 -0.1l1 -0.1l1 -0.2l1 0.2l1 0.2l1 -0.2l1 0.1l1 -0.1l1 -0.1l1 0.1l1 0.1l1 0.1l1 0.2l1 -0.1l1 -0.2l1 0l1 0.1l1 -0.1l1 0l1 0.1l1 -0.1l1 0.1l1 0l1 -0.1l1 0l1 0l1 -0.3l1 0.2l1 0.2l1 -0.2l1 0.1l1 0l1 0l1 0l1 0.2l1 -0.3l1 0l1 0l1 0l1 0.1l1 -0.2l1 0.2l1 -0.1l1 0.2l1 -0.3l1 0.1l1 0.1l1 -0.3l1 0.1l1 0.1l1 -0.1l1 -0.1l1 0.3l1 -0.4l1 0.1l1 0.1l1 0.1l1 -0.1l1 0l1 0l1 -0.2l1 0.1l1 0l1 0.2l1 0l1 -0.1l1 0.1l1 -0.1l1 -0.2l1 0.2l1 -0.2l1 0.2l1 0l1 0.3l1 -0.2l1 -0.2l1 0.2l1 -0.1l1 0l1 0.1l1 0.2l1 -0.1l1 -0.1l1 0l1 0.1l1 0l1 -0.2l1 0.3l1 -0.2l1 -0.1l1 0l1 0.2l1 -0.2l1 0l1 0.2l1 0l1 0.1l1 -0.2l1 0l1 -0.1l1 0l1 0.2l1 -0.1l1 0.1l1 -0.4l1 0.2l1 0.1l1 0l1 0.3l1 -0.2l1 0.1l1 -0.2l1 0.2l1 0l1 -0.3l1 0.3l1 -0.3l1 0.1l1 0.2l1 -0.1l1 0.2l1 0l1 -0.1l1 -0.1l1 0.2l1 0l1 0l1 -0.1l1 0l1 0.4l1 0l1 -0.1l1 -0.2l1 0.2l1 0l1 0l1 -0.2l1 0.1l1 -0.1l1 0l1 -0.2l1 0l1 0l1 -0.1l1 0.1l1 0l1 0l1 0l1 0.2l1 -0.1l1 -0.1l1 0.2l1 -0.2l1 0l1 0.2l1 -0.2l1 0l1 0l1 0l1 0l1 0.1l1 -0.1l1 0l1 0l1 0l1 0l1 -0.3l1 0.1l1 0.1l1 -0.3l1 0l1 0.1l1 0.3l1 -0.4l1 0.4l1 -0.1l1 0l1 0l1 0.1l1 -0.1l1 0.1l1 0l1 0.2l1 0l1 -0.2l1 0l1 -0.1l1 0.1l1 0.2l1 0l1 0.1l1 -0.1l1 0l1 0l1 -0.1l1 0l1 -0.1l1 0.2l1 -0.4l1 0.2l1 0.2l1 -0.1l1 0.1l1 -0.1l1 -0.2l1 0.2l1 -0.1l1 -0.1l1 0.2l1 0.1l1 -0.1l1 -0.2l1 0.1l1 0l1 0.2l1 -0.1l1 -0.2l1 0.2l1 0l1 -0.3l1 0.4l1 -0.2l1 0.1l1 -0.1l1 0.3l1 -0.2l1 -0.2l1 0.2l1 -0.2l1 0.1l1 0l1 0.1l1 -0.1l1 0l1 0.1l1 -0.2l1 0.1l1 0.1l1 0l1 -0.1l1 0.1l1 0l1 -0.1l1 0.1l1 0l1 0.1l1 0l1 0l1 0l1 0l1 0l1 0l1 0l1 0.1l1 -0.1l1 0l1 0.1l1 -0.1l1 -0.4l1 0.3l1 -0.2l1 0.2l1 -0.2l1 0l1 0.1l1 -0.1l1 0.1l1 0l1 0.1l1 -0.1l1 0l1 -0.1l1 -0.1l1 0.2l1 0.1l1 0l1 -0.2l1 0.1l1 0.1l1 -0.1l1 -0.1l1 0l1 -0.1l1 0.1l1 0l1 -0.1l1 0l1 0.1l1 0l1 0.2l1 -0.4l1 0.4l1 0l1 0l1 -0.2l1 0.2l1 0l1 0l1 -0.1l1 0.1l1 -0.1l1 0.2l1 0.2l1 -0.5l1 0.3l1 0l1 -0.1l1 -0.2l1 0l1 0.2l1 0.2l1 -0.2l1 -0.3l1 0.1l1 0.3l1 -0.2l1 0.2l1 0.1l1 -0.2l1 -0.1l1 0.1l1 0l1 -0.1l1 0l1 0.1l1 -0.3l1 0.2l1 -0.1l1 0.1l1 0.1l1 0l1 -0.1l1 -0.1l1 0.2l1 0.1l1 -0.3l1 0.2l1 -0.1l1 0.2l1 -0.2l1 0.1l1 0l1 -0.1l1 0.1l1 0.1l1 -0.2l1 -0.1l1 0.1l1 -0.1l1 -0.2l1 0.2l1 -0.2l1 -0.1l1 0.1l1 -0.1l1 0.1l1 0l1 0.1l1 0.2l1 -0.4l1 0.2l1 0.4l1 -0.3l1 0l1 -0.2l1 0.4l1 -0.1l1 -0.1l1 -0.2l1 0.1l1 0.2l1 -0.3l1 0.1l1 0l1 0.1l1 0l1 -0.1l1 0.1l1 0l1 -0.3l1 0.4l1 -0.1l1 -0.2l1 0.3l1 0.1l1 -0.2l1 0l1 0l1 -0.1l1 0.1l1 0l1 0l1 0.3l1 -0.2l1 0.1l1 -0.1l1 0.3l1 -0.4l1 0l1 0l1 0l1 0.2l1 0l1 -0.1l1 -0.1l1 -0.1l1 0.2l1 -0.2l1 0.1l1 0.1l1 0.1l1 0l1 0l1 0l1 -0.3l1 0.2l1 0.1l1 -0.4l1 0.5l1 -0.3l1 0.1l1 0.1l1 -0.1l1 -0.1l1 0.1l1 0l1 0.1l1 0l1 0l1 -0.2l1 0.1l1 0.1l1 -0.1l1 0.1l1 0l1 0l1 -0.1l1 0l1 0l1 0.1l1 -0.2l1 0.3l1 -0.1l1 -0.2l1 0l1 0l1 0.2l1 0.1l1 -0.2l1 0l1 0.2l1 0l1 -0.1l1 0.2l1 -0.1l1 -0.1l1 0.1l1 -0.1l1 -0.1l1 0l1 0.1l1 -0.1l1 0l1 0.1l1 0l1 -0.2l1 0.2l1 -0.1l1 -0.1l1 0.2l1 -0.1l1 0l1 0l1 0.1l1 -0.1l1 0.2l1 0l1 -0.1l1 -0.1l1 0.2l1 -0.3l1 0.1l1 0l1 -0.1l1 0.1l1 0l1 0.2l1 -0.3l1 0.2l1 -0.1l1 0.1l1 0.1l1 -0.1l1 0l1 0.1l1 -0.1l1 0.1l1 0l1 -0.2l1 0.3l1 -0.2l1 -0.2l1 0.3l1 0.1l1 -0.1l1 -0.1l1 -0.2l1 0.3l1 0.1l1 -0.5l1 0.3l1 -0.2l1 0.2l1 -0.3l1 0.3l1 -0.2l1 0.2l1 0l1 0.1l1 -0.2l1 0.1l1 0l1 0l1 0.2l1 -0.1l1 0.1l1 -0.1l1 -0.1l1 0l1 0.1l1 -0.2l1 0.1l1 0l1 0.1l1 0.1l1 -0.3l1 -0.1l1 0.2l1 0l1 -0.1l1 0l1 -0.2l1 0.1l1 0.1l1 0.1l1 0l1 0l1 -0.2l1 0.1l1 0.1l1 -0.1l1 0l1 0.1l1 0.2l1 -0.3l1 0l1 0.1l1 -0.1l1 -0.1l1 0.3l1 -0.2l1 0.2l1 -0.2l1 0.1l1 -0.2l1 0.2l1 0l1 0l1 0l1 0l1 0l1 0l1 0.3l1 -0.4l1 0.2l1 0l1 -0.2l1 0.2l1 -0.2l1 0.1l1 -0.1l1 -0.2l1 0.3l1 -0.1l1 -0.4l1 0.1l1 0.2l1 0l1 0l1 -0.2l1 -0.1l1 -0.1l1 0.2l1 -0.1l1 0l1 0.1l1 0l1 0.1l1 0l1 -0.1l1 0l1 0l1 0.2l1 0l1 0.1l1 0l1 -0.1l1 -0.1l1 0.3l1 0.1l1 -0.3l1 0.2l1 0.3l1 -0.4l1 0l1 0l1 0.1l1 -0.1l1 0.1l1 0.1l1 -0.3l1 0.1l1 0l1 0.2l1 -0.2l1 0.1l1 -0.3l1 0.4l1 -0.2l1 0l1 -0.1l1 0l1 0.1l1 -0.1l1 0l1 -0.1l1 0.1l1 -0.1l1 -0.1l1 0l1 0.1l1 -0.2l1 0l1 0l1 0.2l1 0.2l1 0l1 -0.4l1 0.4l1 -0.1l1 -0.1l1 -0.1l1 0.2l1 0.1l1 0l1 -0.2l1 0l1 0.2l1 -0.2l1 0.1l1 0.1l1 -0.3l1 0.2l1 0.3l1 -0.1l1 -0.3l1 0.3l1 -0.1l1 -0.1l1 0l1 0.1l1 0.1l1 0.1l1 -0.2l1 0l1 0.1l1 -0.1l1 0.2l1 -0.1l1 0.2l1 -0.1l1 0.1l1 0l1 0l1 -0.2l1 0.1l1 -0.1l1 0.1l1 -0.3l1 0.1l1 -0.2l1 0l1 -0.3l1 0.3l1 0.1l1 0l1 -0.1l1 0.1l1 0.1l1 -0.1l1 0.3l1 0l1 0l1 -0.2l1 0.2l1 0.1l1 -0.4l1 0.2l1 -0.4l1 0.2l1 0.1l1 -0.3l1 0.3l1 -0.2l1 0l1 0l1 0.1l1 0.2l1 -0.1l1 -0.2l1 0.3l1 -0.2l1 0l1 0l1 0l1 -0.1l1 0.1l1 0l1 0.1l1 0.1l1 0l1 0l1 -0.1l1 0.1l1 0.2l1 -0.3l1 0.1l1 -0.2l1 0.2l1 0.1l1 -0.1l1 0l1 0.1l1 -0.2l1 0.1l1 0.3l1 -0.2l1 -0.2l1 0.1l1 -0.2l1 0.3l1 -0.3l1 0.1l1 0.1l1 -0.1l1 0.3l1 -0.1l1 -0.1l1 0.1l1 -0.1l1 0l1 0.1l1 0.2l1 -0.2l1 0l1 0l1 -0.2l1 0.4l1 -0.2l1 0l1 0l1 0l1 -0.1l1 -0.1l1 0.1l1 0.1l1 0l1 0l1 0l1 0l1 0l1 -0.1l1 0.2l1 0.1l1 -0.2l1 0l1 -0.1l1 0l1 0.1l1 -0.2l1 -0.1l1 0.1l1 -0.2l1 0.1l1 0.2l1 -0.1l1 0l1 0l1 -0.1l1 0.1l1 -0.2l1 0l1 0.1l1 0l1 0.2l1 0l1 -0.1l1 -0.1l1 0.3l1 -0.3l1 0.3l1 0l1 -0.2l1 -0.1l1 0.2l1 -0.2l1 0l1 0l1 -0.1l1 0.2l1 -0.1l1 0l1 0l1 0l1 0l1 0.1l1 -0.2l1 0.2l1 0l1 -0.1l1 0.3l1 -0.1l1 0l1 0.1l1 -0.1l1 0.2l1 -0.2l1 0.1l1 0.1l1 -0.2l1 -0.1l1 0.1l1 0.2l1 -0.1l1 0l1 -0.1l1 0l1 -0.1l1 0.1l1 -0.2l1 0.1l1 0l1 0.2l1 -0.2l1 0.2l1 -0.1l1 -0.1l1 0.1l1 -0.1l1 0.2l1 -0.2l1 0l1 0.2l1 -0.2l1 0l1 0.1l1 -0.1l1 0l1 -0.2l1 0l1 0l1 0.3l1 -0.1l1 0l1 0.2l1 -0.1l1 -0.2l1 0.2l1 -0.3l1 0.3l1 -0.1l1 0.1l1 -0.1l1 0.1l1 0.1l1 -0.1l1 -0.1l1 0l1 0.1l1 0l1 0l1 0l1 0.1l1 -0.1l1 -0.1l1 0l1 -0.1l1 0.2l1 -0.1l1 0.2l1 -0.3l1 -0.2l1 0.1l1 0.2l1 -0.1l1 -0.1l1 0.3l1 0l1 -0.2l1 0l1 0l1 0.1l1 0.2l1 -0.3l1 -0.1l1 0.1l1 -0.1l1 0l1 0l1 0.2l1 -0.3l1 -0.1l1 -0.1l1 0l1 0.4l1 0l1 -0.3l1 0l1 0.2l1 -0.2l1 0.1l1 0.1l1 -0.1l1 0l1 0.2l1 0.1l1 -0.2l1 0l1 0.2l1 0l1 -0.2l1 0.1l1 0.1l1 0l1 0l1 0.2l1 -0.2l1 -0.2l1 0l1 0l1 0.2l1 0l1 0l1 0.1l1 0l1 -0.4l1 0.4l1 -0.2l1 0l1 0l1 0.2l1 -0.1l1 -0.1l1 0l1 0l1 0.1l1 0l1 0.1l1 -0.1l1 -0.1l1 0.2l1 0.2l1 0l1 -0.2l1 0.1l1 -0.2l1 0.1l1 -0.2l1 0.1l1 0.2l1 -0.3l1 0.1l1 -0.2l1 -0.1l1 0.3l1 0l1 0l1 -0.1l1 -0.2l1 0.3l1 0.3l1 -0.3l1 -0.3l1 0.2l1 0.1l1 0l1 0l1 -0.2l1 0.3l1 0l1 -0.1l1 -0.1l1 0l1 0l1 0.2l1 -0.3l1 0.1l1 -0.1l1 -0.1l1 0.1l1 0.1l1 -0.3l1 0.1l1 0.1l1 0l1 0.1l1 0l1 0.3l1 -0.3l1 0l1 0.2l1 0.1l1 -0.1l1 -0.2l1 0.1l1 0.2l1 -0.1l1 0l1 -0.1l1 -0.2l1 0.3l1 0.2l1 0l1 -0.1l1 -0.1l1 0l1 0.2l1 0.2l1 -0.3l1 0l1 0.1l1 0.1l1 0l1 -0.2l1 0.1l1 0l1 -0.3l1 0.2l1 -0.1l1 -0.2l1 0.2l1 -0.2l1 -0.1l1 0.1l1 0l1 -0.1l1 0l1 0.1l1 -0.2l1 0.1l1 0.3l1 -0.3l1 0l1 0.2l1 -0.1l1 0l1 0l1 -0.2l1 0l1 0.3l1 -0.3l1 0.1l1 -0.1l1 0.2l1 -0.2l1 -0.1l1 0.2l1 0l1 0l1 -0.1l1 0.2l1 0l1 0.1l1 -0.3l1 0.4l1 0l1 -0.1l1 -0.2l1 0.4l1 -0.1l1 0.1l1 -0.2l1 0.2l1 0l1 -0.1l1 -0.1l1 -0.1l1 0l1 0l1 0.2l1 -0.1l1 -0.1l1 0l1 0l1 0l1 0l1 0l1 0l1 0.1l1 0.2l1 -0.1l1 -0.1l1 -0.2l1 0.3l1 0l1 0l1 -0.1l1 0.1l1 0l1 -0.2l1 -0.1l1 0.2l1 -0.2l1 0.1l1 -0.1l1 0l1 0l1 0.3l1 -0.3l1 0.1l1 0.1l1 0l1 -0.2l1 0l1 0.1l1 0l1 -0.1l1 0.2l1 0.1l1 -0.2l1 -0.1l1 0.1l1 -0.1l1 0.3l1 0l1 0l1 0l1 0.1l1 0l1 -0.1l1 0.2l1 0l1 0l1 0.1l1 -0.1l1 0l1 0.1l1 -0.1l1 0l1 -0.1l1 0l1 0.3l1 -0.2l1 -0.2l1 0.2l1 -0.2l1 -0.2l1 0.1l1 -0.1l1 0l1 0.1l1 -0.3l1 0.1l1 -0.1l1 0.2l1 0.1l1 0.1l1 0l1 0l1 -0.1l1 -0.1l1 0.4l1 -0.1l1 -0.2l1 0.2l1 -0.1l1 0.1l1 0l1 0l1 0l1 0l1 -0.2l1 0l1 0" stroke="#515151"/>
<path d="M281 1542.8l1 0l1 0l1 0.4l1 0l1 -0.6l1 0.3l1 -0.3l1 0l1 1.2l1 -0.8l1 0.5l1 -0.1l1 -0.1l1 -0.3l1 0.1l1 0.5l1 0.3l1 -1l1 0.4l1 0.3l1 0.5l1 -0.1l1 0.1l1 -0.1l1 -0.4l1 0.3l1 0.6l1 -0.4l1 -0.5l1 1l1 -0.2l1 0.2l1 0.6l1 -0.8l1 0.1l1 -0.5l1 1l1 0.3l1 -0.1l1 0.1l1 0.4l1 -0.1l1 0.1l1 -0.2l1 0.1l1 0.4l1 -0.3l1 -0.1l1 0l1 0.2l1 0.1l1 0l1 -0.2l1 -0.3l1 -0.5l1 0.7l1 -0.7l1 0.3l1 0.4l1 -0.5l1 -0.2l1 0.6l1 -0.2l1 0l1 0.7l1 -0.1l1 1l1 -1.4l1 0.5l1 0.3l1 0.4l1 -0.5l1 0.8l1 -0.5l1 -0.2l1 0.3l1 0.1l1 0.1l1 -0.1l1 0.2l1 0.4l1 -0.1l1 0.3l1 -1l1 -0.2l1 1.1l1 -0.7l1 0l1 -0.6l1 0.4l1 -0.1l1 0.1l1 0.4l1 -0.7l1 0.4l1 -0.6l1 0.8l1 -0.5l1 1l1 -1.1l1 1.1l1 -0.9l1 -0.2l1 0.6l1 0l1 -0.4l1 -0.1l1 -0.4l1 0.7l1 0.3l1 -0.7l1 1l1 0.7l1 -1l1 1l1 0.2l1 -0.3l1 0.5l1 -0.3l1 0.7l1 0.4l1 -0.8l1 -0.2l1 -0.6l1 1.3l1 0l1 -1l1 0.2l1 -0.2l1 0.4l1 -1l1 0.9l1 -1l1 1l1 -0.4l1 0.7l1 -0.2l1 -0.4l1 0l1 -0.1l1 1l1 -0.3l1 -0.6l1 -0.3l1 0.7l1 -0.2l1 -0.2l1 0.2l1 0.1l1 -0.2l1 0.2l1 -0.2l1 0.2l1 -0.3l1 0.6l1 -0.2l1 -0.1l1 0.2l1 -0.1l1 0l1 0.3l1 0.1l1 -0.9l1 0.5l1 0.1l1 -0.5l1 0.6l1 -0.2l1 -0.2l1 -0.4l1 0.1l1 0.6l1 0.7l1 -0.8l1 -0.5l1 1.2l1 -0.3l1 0.4l1 -0.6l1 0.6l1 -0.3l1 -0.6l1 0.3l1 0.2l1 -0.4l1 0.7l1 -0.6l1 0.5l1 -0.5l1 0.3l1 0l1 -0.8l1 0.6l1 0.4l1 -0.4l1 0.7l1 0l1 -0.7l1 0.4l1 0.1l1 -0.4l1 0.9l1 -0.2l1 -0.2l1 -0.3l1 0l1 0.1l1 0.6l1 -0.6l1 0.7l1 0.5l1 -1.3l1 0.3l1 0.6l1 -0.3l1 -0.4l1 0.3l1 0l1 0.3l1 -0.6l1 0.3l1 0l1 0.2l1 -0.2l1 -0.5l1 0.1l1 0.9l1 -0.6l1 0.2l1 0l1 0.2l1 0.4l1 -0.5l1 0.4l1 -0.1l1 0l1 -0.5l1 0.3l1 0.6l1 -0.4l1 -0.1l1 0l1 -0.4l1 0.1l1 0.3l1 -0.4l1 -0.2l1 0.7l1 0l1 -0.4l1 -0.3l1 0.8l1 -0.2l1 -0.7l1 0.3l1 -0.1l1 -0.2l1 1.2l1 0.1l1 -1.2l1 1l1 -0.2l1 0.3l1 0.2l1 0.1l1 -0.2l1 -0.2l1 0.5l1 0.5l1 -1l1 0.1l1 0.2l1 -0.4l1 0.2l1 0.4l1 -0.3l1 -0.2l1 -0.1l1 -0.3l1 0.5l1 -0.4l1 -0.2l1 0.3l1 0.2l1 0.6l1 -0.5l1 -0.1l1 0.9l1 -0.7l1 0.5l1 -0.3l1 0.1l1 -0.6l1 0.5l1 -0.3l1 -0.2l1 0.5l1 -0.2l1 0.1l1 0.4l1 -1.2l1 0.9l1 -0.7l1 -0.1l1 0.6l1 -0.2l1 -0.7l1 0.8l1 0l1 0.4l1 -0.1l1 -0.3l1 -0.6l1 0.5l1 0.3l1 0l1 0.1l1 -0.2l1 0.1l1 -0.4l1 0.1l1 0.3l1 0.1l1 -0.8l1 0.2l1 0.1l1 0.3l1 -0.3l1 0.8l1 -0.8l1 -0.3l1 0.1l1 -0.2l1 0.2l1 0.1l1 0.4l1 -0.1l1 -0.3l1 -0.6l1 0.5l1 -0.5l1 0.3l1 0.2l1 -0.2l1 0.8l1 -0.7l1 -0.1l1 0l1 0.4l1 -0.9l1 0.4l1 -0.2l1 0.3l1 -0.6l1 0.5l1 0.4l1 -0.6l1 0.7l1 -0.7l1 0.2l1 -0.3l1 0.8l1 0.1l1 0l1 0.4l1 -0.4l1 0.9l1 -0.5l1 -0.2l1 0.3l1 0l1 -0.5l1 -0.1l1 0.8l1 -0.5l1 0.1l1 0.4l1 -0.8l1 -0.6l1 0.5l1 -0.6l1 0.5l1 -0.2l1 0.1l1 -0.8l1 -0.4l1 0.7l1 0l1 -0.3l1 -0.2l1 0l1 -0.1l1 0.4l1 -0.7l1 0.4l1 0.3l1 -0.3l1 -0.2l1 0.1l1 0.2l1 0.2l1 -0.9l1 1.3l1 -0.6l1 -0.2l1 -0.4l1 0.1l1 0.5l1 -0.1l1 -0.8l1 0.3l1 0.2l1 -0.3l1 1l1 -0.3l1 -0.5l1 -0.5l1 0.6l1 -0.2l1 0l1 -0.2l1 0.6l1 -0.2l1 0.5l1 -0.1l1 -0.4l1 0.2l1 -0.2l1 0.3l1 -0.3l1 0.6l1 -1l1 0.9l1 -0.2l1 0.3l1 -0.6l1 0.4l1 0.2l1 -0.2l1 0l1 -0.1l1 -0.2l1 -0.1l1 -0.4l1 0.6l1 -0.2l1 0.5l1 -0.9l1 0.8l1 -0.2l1 -1.2l1 0.7l1 0.5l1 -0.5l1 0.2l1 0.1l1 -0.6l1 0.4l1 -0.3l1 0.5l1 -1.3l1 0.8l1 -0.2l1 0.4l1 0.2l1 0l1 -0.1l1 0.4l1 -0.6l1 0.6l1 -0.1l1 -0.4l1 0.6l1 0.1l1 0l1 -0.4l1 0.5l1 0.9l1 0l1 -0.9l1 0.1l1 -0.2l1 -0.4l1 -0.2l1 0.4l1 0.4l1 -0.3l1 0l1 0.2l1 -1.1l1 0.3l1 -0.4l1 0.5l1 0.4l1 0.3l1 -0.7l1 0.3l1 0.2l1 0.1l1 -0.4l1 0.7l1 -0.5l1 -0.1l1 -0.2l1 0.1l1 -0.3l1 0.1l1 0.3l1 -0.5l1 0l1 -0.1l1 -0.5l1 -0.2l1 0.8l1 -0.4l1 0.1l1 -0.1l1 -0.3l1 1l1 0.4l1 -0.5l1 -0.9l1 0.2l1 0.3l1 -0.6l1 0.3l1 0.2l1 0.5l1 -1.2l1 0.5l1 -0.4l1 -0.5l1 1l1 -0.9l1 0.5l1 0.4l1 -0.2l1 -0.2l1 0.4l1 -0.6l1 0l1 0.7l1 -0.4l1 -0.3l1 -0.1l1 0.2l1 0.6l1 -0.5l1 0.2l1 0.5l1 -0.1l1 -1l1 0.8l1 -1.4l1 1.1l1 -0.8l1 0.1l1 0l1 -0.1l1 0.1l1 -0.1l1 0.7l1 -0.8l1 -0.3l1 0.4l1 -0.3l1 0.2l1 -0.2l1 0.1l1 0.1l1 0.2l1 0.2l1 -0.1l1 -0.3l1 -0.1l1 -0.2l1 1l1 -0.6l1 0l1 0.3l1 0.1l1 0.1l1 -0.5l1 -0.7l1 0.5l1 -0.4l1 -0.2l1 0.4l1 -0.5l1 -0.1l1 0.2l1 -0.1l1 0l1 -0.2l1 -0.3l1 -0.1l1 0.1l1 0l1 0.3l1 -0.9l1 0.6l1 -0.8l1 1.3l1 -0.1l1 -0.4l1 0.1l1 0.2l1 -0.3l1 0.4l1 0.3l1 -0.9l1 0.2l1 -0.6l1 0.5l1 -1.3l1 0.1l1 -0.1l1 -0.4l1 -0.6l1 0l1 -0.7l1 0l1 -1.2l1 -0.3l1 0l1 -0.6l1 -0.8l1 -1.8l1 0.3l1 -2.3l1 -0.7l1 -2.5l1 -3l1 -2.6l1 -4.7l1 -6l1 -9.1l1 -11.9l1 -16.3l1 -21.4l1 -24.4l1 -25.1l1 -16.7l1 -0.7l1 16.6l1 24.2l1 24.2l1 21.4l1 17l1 12.2l1 9l1 6.1l1 4.9l1 3.3l1 2.8l1 1.6l1 2.1l1 0.6l1 1.4l1 1.2l1 -0.4l1 1l1 1l1 -0.1l1 0.3l1 1l1 0.2l1 -0.2l1 -0.1l1 0.5l1 -0.3l1 0.8l1 -1l1 0l1 -0.1l1 0.4l1 0.5l1 -0.5l1 0.3l1 -0.3l1 -0.1l1 -0.1l1 -0.2l1 -0.3l1 0.3l1 -0.2l1 -0.1l1 -0.5l1 -0.1l1 -0.7l1 0.1l1 -0.9l1 -0.6l1 0.4l1 -1.1l1 -0.6l1 -1.1l1 -1.2l1 -2.6l1 -1.6l1 -3l1 -4.6l1 -6l1 -9.4l1 -13.3l1 -19.1l1 -24.1l1 -18.9l1 2.8l1 20.3l1 23l1 18.1l1 12.1l1 8.8l1 5.7l1 4l1 2.5l1 1.4l1 1.6l1 1.4l1 1.6l1 -0.2l1 0.7l1 0l1 0.4l1 -0.1l1 -0.4l1 0.2l1 0.2l1 -1.2l1 -0.1l1 -0.3l1 -0.7l1 -0.6l1 -1.4l1 -0.1l1 -1.8l1 -1.7l1 -2l1 -3.3l1 -2.8l1 -4.7l1 -5.5l1 -7.1l1 -10.1l1 -14.5l1 -19.9l1 -27.6l1 -36.5l1 -44.3l1 -37.2l1 -5.6l1 28l1 42.9l1 40.4l1 31.6l1 23l1 15.6l1 11.3l1 9.5l1 6.9l1 3.9l1 4.3l1 2.9l1 2.5l1 1.9l1 1.9l1 1.8l1 1l1 0.1l1 1.2l1 1.1l1 1.1l1 0.7l1 0.9l1 0.3l1 -0.7l1 0.9l1 0.9l1 0.3l1 -0.3l1 0.7l1 0.2l1 -0.2l1 0l1 0.8l1 -0.7l1 0.5l1 0.6l1 -0.5l1 -0.4l1 0.8l1 -0.3l1 0.3l1 0.2l1 0.4l1 0.4l1 -0.7l1 0l1 0.4l1 0.8l1 -0.3l1 -0.8l1 0.5l1 -0.1l1 0.2l1 0.1l1 0l1 0.1l1 0.6l1 -1.3l1 -0.2l1 0.5l1 -0.7l1 0l1 -1.2l1 -0.6l1 -0.5l1 -0.7l1 -0.2l1 0.4l1 -0.5l1 0.7l1 1.2l1 0.3l1 0.8l1 0.8l1 0.5l1 0.1l1 0.1l1 -0.3l1 1l1 0.3l1 0.1l1 -0.7l1 0.7l1 0.3l1 -0.1l1 -0.5l1 0.3l1 -0.1l1 1l1 0.3l1 -0.6l1 -0.4l1 0.4l1 0.7l1 -0.2l1 0.4l1 -0.8l1 0.7l1 -0.5l1 0.2l1 0.2l1 -0.3l1 0.5l1 -0.8l1 0l1 -0.7l1 0.6l1 -0.5l1 0.8l1 -0.3l1 0.5l1 -0.1l1 0l1 -0.1l1 0.4l1 0.9l1 -0.6l1 0.2l1 0.4l1 0l1 -0.7l1 -0.4l1 -0.3l1 1.1l1 -0.8l1 0.7l1 0.1l1 -0.2l1 0.5l1 -0.4l1 -0.6l1 0.1l1 -0.1l1 -0.5l1 1l1 -0.2l1 0.2l1 -0.4l1 0.1l1 -0.1l1 0.5l1 -0.4l1 0.7l1 0.4l1 -0.3l1 -0.3l1 0.3l1 -0.2l1 0.1l1 0.5l1 -0.6l1 -0.4l1 0l1 0.8l1 -0.5l1 0.1l1 -0.5l1 0.2l1 -0.2l1 0.9l1 -0.6l1 0.9l1 -0.6l1 0.4l1 -0.3l1 -0.2l1 0.6l1 -0.2l1 -0.2l1 0.6l1 0l1 -0.5l1 1l1 -0.5l1 -0.7l1 1.1l1 -0.4l1 -0.4l1 0l1 0.5l1 0.1l1 -0.9l1 0.4l1 -0.4l1 0.8l1 -1l1 0l1 0.5l1 0.5l1 -0.4l1 0.3l1 -0.3l1 0l1 0.4l1 -0.2l1 0.2l1 -0.4l1 0.4l1 -0.1l1 -0.1l1 -0.2l1 -0.6l1 0.3l1 -0.2l1 0.1l1 0l1 -0.2l1 0.6l1 0.1l1 -0.4l1 0.2l1 -0.8l1 1.1l1 -0.2l1 0.8l1 0.4l1 -1.1l1 0.2l1 -0.3l1 -0.1l1 0.7l1 -0.5l1 -0.2l1 0.1l1 0.3l1 -0.1l1 -1.1l1 0.9l1 -0.1l1 0.5l1 -0.2l1 0.3l1 -0.3l1 0.7l1 -0.8l1 0.9l1 -0.6l1 0.1l1 0.5l1 -0.9l1 0.2l1 -0.1l1 0l1 0.5l1 0.5l1 -1l1 0.4l1 -1.2l1 0.3l1 -0.5l1 -0.7l1 0.7l1 -0.3l1 0.5l1 0.1l1 -0.9l1 0l1 -0.7l1 -0.2l1 -0.1l1 -1.7l1 0.6l1 -2.5l1 -3.1l1 -3l1 -5.7l1 -7.1l1 -8l1 -5.8l1 -0.5l1 5.5l1 7.8l1 6.7l1 6.6l1 4l1 2.2l1 1.5l1 0.9l1 1.6l1 -0.1l1 1l1 0.1l1 0l1 -0.1l1 0l1 -0.3l1 0.8l1 -0.2l1 0.5l1 0.2l1 -0.6l1 1.4l1 -0.5l1 0.3l1 -0.6l1 0.7l1 0l1 -0.2l1 0.1l1 0.3l1 0.2l1 -1.1l1 0.7l1 0.8l1 -0.5l1 -0.4l1 -0.7l1 0.7l1 -0.3l1 -0.2l1 1.1l1 -0.7l1 -0.1l1 0.4l1 -0.9l1 0.1l1 0.2l1 0.4l1 -0.1l1 -0.9l1 0.7l1 0.2l1 -0.9l1 0.6l1 0.3l1 0l1 -0.7l1 0.2l1 0.6l1 -0.2l1 0.2l1 0.5l1 0.4l1 0.2l1 -1l1 0l1 0.2l1 0.6l1 -1.2l1 -0.5l1 0.6l1 0l1 -0.3l1 0l1 0.5l1 -0.3l1 -0.6l1 -0.6l1 1l1 -0.3l1 0.6l1 -0.2l1 -0.3l1 -0.7l1 0.8l1 0.2l1 -0.6l1 1l1 -0.7l1 -0.3l1 -0.2l1 1.5l1 -1l1 0.8l1 -0.8l1 1.2l1 0.2l1 -1.2l1 0l1 0.7l1 -0.4l1 0.1l1 -0.5l1 0.5l1 -0.4l1 0.8l1 -1l1 0.3l1 0.8l1 -0.5l1 -0.2l1 0.3l1 -0.1l1 0.1l1 0.4l1 -0.1l1 -0.2l1 -0.3l1 1l1 -0.6l1 -0.2l1 -0.2l1 0.1l1 -0.1l1 0l1 -0.1l1 -0.2l1 0.2l1 -0.2l1 0.1l1 0.3l1 -0.1l1 -0.2l1 0.6l1 0l1 -0.4l1 0.4l1 0l1 -0.3l1 0.3l1 -1.2l1 0.7l1 -0.4l1 -0.1l1 0.8l1 0.7l1 -1.5l1 0.4l1 0.3l1 -1.1l1 0.9l1 0.2l1 -1.3l1 1.2l1 0l1 -0.3l1 0.4l1 -0.6l1 0.2l1 0.3l1 -0.1l1 0.2l1 -0.5l1 0.1l1 -0.1l1 0.6l1 0.2l1 0.4l1 -0.2l1 -1.4l1 0.6l1 0.6l1 -1.3l1 0.7l1 -0.9l1 0.4l1 0.1l1 0.3l1 -0.4l1 -0.3l1 -0.5l1 0.2l1 1l1 -0.3l1 -0.1l1 0.2l1 0.1l1 0.5l1 -1l1 0.2l1 -0.4l1 -0.3l1 -0.6l1 0.3l1 -0.8l1 -0.3l1 0.6l1 -1l1 -0.5l1 -0.1l1 -0.2l1 -0.8l1 0.2l1 -0.9l1 -0.9l1 -1.1l1 -2.2l1 -1.8l1 -3.7l1 -4.5l1 -6.1l1 -7.1l1 -9.6l1 -10.1l1 -11.4l1 -10.3l1 -5.4l1 2l1 6.9l1 10.9l1 11.2l1 10.4l1 8.5l1 6.9l1 5.2l1 3.9l1 2.9l1 1.9l1 1.7l1 1.6l1 0.6l1 0l1 0.8l1 0.6l1 -0.4l1 0.6l1 1l1 -0.1l1 0.8l1 -0.6l1 0.7l1 -0.3l1 -0.3l1 0.6l1 0.3l1 -0.2l1 0l1 0.4l1 -0.5l1 0.4l1 0l1 0.7l1 -0.6l1 0.6l1 -0.2l1 -0.6l1 1l1 -0.4l1 0.3l1 0.2l1 0.2l1 -0.9l1 0.3l1 0.6l1 -0.4l1 -0.5l1 0.4l1 0.2l1 -0.2l1 -0.6l1 0.6l1 -0.3l1 0l1 0.2l1 0l1 -0.2l1 0.2l1 0.2l1 -0.8l1 0.2l1 0.9l1 0l1 -0.3l1 -0.6l1 0.9l1 -0.2l1 0.2l1 -0.2l1 -0.2l1 0.7l1 -0.6l1 0.3l1 -0.8l1 0.6l1 0.6l1 -0.5l1 0.1l1 0.1l1 0.2l1 -0.6l1 -0.4l1 0.7l1 -0.8l1 0.1l1 0.8l1 -0.9l1 0.1l1 0.4l1 -0.7l1 0.3l1 0.5l1 -0.5l1 -0.1l1 0.2l1 0.7l1 -0.4l1 0.3l1 -0.1l1 -0.1l1 -0.1l1 0.1l1 -0.4l1 0.7l1 -0.1l1 -0.8l1 0.1l1 0.4l1 0.1l1 -0.5l1 0.1l1 0.2l1 0.2l1 -0.8l1 0.2l1 -0.5l1 0.2l1 -0.3l1 0.5l1 -0.8l1 -0.1l1 -0.4l1 0.3l1 0.2l1 -0.8l1 -0.4l1 0.4l1 -0.8l1 0.7l1 -1.1l1 0l1 -0.4l1 -0.7l1 -0.5l1 -0.9l1 -1.2l1 -1.4l1 -2l1 -3.1l1 -3.1l1 -3.8l1 -4.2l1 -5.4l1 -6.5l1 -3.7l1 -4.5l1 -2.5l1 -0.5l1 1.6l1 4.9l1 4.7l1 5.3l1 4.5l1 4.9l1 3.8l1 3.4l1 4.2l1 0.8l1 2.2l1 1.3l1 0.6l1 1.1l1 1l1 0.1l1 0.8l1 0.5l1 0.2l1 0.2l1 0.1l1 -0.1l1 -0.2l1 0.7l1 0.2l1 -0.4l1 0l1 0.2l1 -0.2l1 -0.7l1 0.5l1 0l1 0.8l1 0.5l1 -0.5l1 0.8l1 -0.6l1 0.2l1 -0.1l1 -0.2l1 0.5l1 0.2l1 -0.2l1 0.9l1 -1.1l1 0.4l1 -0.3l1 0.2l1 -0.1l1 -0.1l1 0.1l1 0.1l1 -0.1l1 0.1l1 0.1l1 -0.9l1 1.1l1 -0.5l1 -0.8l1 0.4l1 0l1 0.8l1 -0.1l1 -0.4l1 -0.4l1 0.1l1 -0.4l1 0.4l1 0.5l1 -0.1l1 -0.8l1 0.1l1 -0.5l1 -0.5l1 -1.1l1 -0.2l1 -1.3l1 -0.7l1 -0.3l1 -2l1 -0.8l1 -1l1 -1.6l1 -0.3l1 -0.1l1 0.9l1 0.6l1 0.9l1 1.5l1 0.7l1 1.4l1 1.8l1 -0.4l1 0.9l1 0.8l1 0.5l1 0.1l1 0.4l1 -0.2l1 0l1 -0.1l1 -0.4l1 0l1 -0.4l1 0.1l1 -0.9l1 0l1 0.5l1 -1l1 -0.8l1 -0.3l1 -1l1 -2.1l1 -1.1l1 -3.1l1 -2.6l1 -3l1 -4.8l1 -4.9l1 -4.7l1 -5.4l1 -4.7l1 -1.5l1 0.2l1 3.2l1 3.6l1 5.7l1 4.8l1 5l1 3.5l1 3.3l1 2.8l1 2.1l1 1.2l1 1.7l1 -0.1l1 0.6l1 0.4l1 -0.3l1 -0.4l1 -1l1 0.2l1 -2.1l1 -0.8l1 -2.1l1 -2.3l1 -1.9l1 -2.5l1 -2.3l1 -1.4l1 -1.2l1 0.5l1 1.8l1 2.3l1 1.8l1 3l1 2.4l1 1.8l1 2.3l1 1.6l1 1.4l1 1.3l1 -0.3l1 1l1 -0.5l1 1.5l1 -0.3l1 -0.1l1 0.5l1 0.2l1 0.1l1 0.7l1 -0.6l1 0.1l1 0.2l1 0.8l1 0.2l1 0.4l1 0.6l1 -0.1l1 -0.4l1 0l1 0.1l1 -0.7l1 0.5l1 -0.1l1 -0.1l1 0.1l1 -0.4l1 0.3l1 0.1l1 -0.4l1 -0.5l1 0.1l1 0.3l1 0.7l1 -0.3l1 -0.5l1 0.2l1 -0.5l1 0.7l1 -0.1l1 -0.1l1 0.6l1 -0.3l1 0.7l1 0.2l1 0.2l1 -0.6l1 0l1 0.3l1 -0.2l1 0.9l1 -0.9l1 -0.5l1 0.6l1 -0.1l1 0.4l1 0.1l1 -0.2l1 -0.3l1 0.2l1 -0.6l1 0.2l1 -0.7l1 -0.6l1 0.5l1 -1l1 0.1l1 0.8l1 -0.9l1 0l1 0.2l1 0.3l1 0.1l1 0l1 0.4l1 0.7l1 -0.1l1 0.2l1 0.7l1 -0.9l1 0.6l1 0.1l1 -0.2l1 -0.1l1 0.3l1 0.1l1 -0.7l1 1l1 -0.3l1 0.4l1 -0.2l1 0l1 -0.2l1 0.3l1 0.1l1 -0.4l1 0.8l1 -0.5l1 0.1l1 0.1l1 -0.5l1 0.1l1 0.6l1 -0.4l1 -0.7l1 0.1l1 0.3l1 -0.8l1 0.8l1 0l1 -0.4l1 0.2l1 -0.4l1 0.1l1 0.4l1 -0.5l1 -0.1l1 0.4l1 0.2l1 -0.4l1 0.2l1 0.4l1 0l1 -1.3l1 1.3l1 0.4l1 -0.1l1 -0.4l1 0.6l1 -1l1 0.6l1 0l1 0.3l1 -0.9l1 0.5l1 0.1l1 0.5l1 -0.3l1 0l1 -0.2l1 0.2l1 0.3l1 -0.5l1 -0.2l1 -0.1l1 0.4l1 0.1l1 -0.6l1 0.2l1 -0.5l1 0.6l1 -0.1l1 -0.7l1 0.4l1 0.1l1 -0.6l1 1.1l1 -0.6l1 -0.7l1 -0.2l1 0.7l1 -0.3l1 0.1l1 -0.3l1 -0.8l1 0.7l1 -0.3l1 0l1 -1.1l1 -0.3l1 -0.6l1 -1.1l1 -0.9l1 -0.6l1 0l1 -0.4l1 0.6l1 0.5l1 0.4l1 0.8l1 0.2l1 1.2l1 0.2l1 0.8l1 0l1 1l1 -0.2l1 0.6l1 -0.6l1 0.2l1 0.4l1 -0.1l1 0.7l1 -0.4l1 0.1l1 0.5l1 0.2l1 0.4l1 -0.8l1 -0.1l1 -0.8l1 1.2l1 -0.4l1 0.6l1 0l1 -0.1l1 -0.6l1 0.2l1 0.1l1 0.4l1 -0.3l1 0l1 0.2l1 -0.1l1 -0.1l1 0.6l1 -0.5l1 0.1l1 0l1 0.7l1 -1.2l1 0.7l1 -0.1l1 -0.2l1 0.1l1 0l1 0.3l1 -0.8l1 0.4l1 -0.8l1 0.3l1 0.8l1 0.1l1 -1l1 -0.3l1 0.2l1 0.4l1 0.7l1 -0.9l1 0.2l1 0.3l1 0l1 -0.2l1 0.2l1 0.7l1 -0.6l1 0.1l1 -0.2l1 0.1l1 -0.2l1 0.1l1 0.1l1 0.3l1 -0.8l1 0.7l1 -0.4l1 -0.6l1 0.2l1 -0.6l1 1.5l1 -1.3l1 0.7l1 0.3l1 0.1l1 0l1 -0.1l1 -0.7l1 0.8l1 0.3l1 -0.2l1 0.1l1 -0.8l1 -0.4l1 0.2l1 -0.1l1 -0.3l1 0.4l1 0.2l1 -0.2l1 -0.2l1 0.1l1 -1.3l1 0.9l1 -0.1l1 -1l1 0.9l1 -0.1l1 -0.3l1 0.8l1 0l1 0.4l1 -0.6l1 0.6l1 -1.1l1 1.3l1 -0.7l1 0.9l1 -0.3l1 -0.6l1 0.9l1 -0.4l1 -0.3l1 0.2l1 0.5l1 -0.6l1 0.2l1 0.2l1 0.1l1 0.2l1 -0.1l1 0.7l1 -0.5l1 -0.5l1 0.4l1 0.7l1 -0.2l1 -0.4l1 0.1l1 -0.7l1 0.5l1 -0.1l1 0.1l1 0.8l1 0l1 -0.8l1 0.3l1 0.4l1 -0.1l1 -0.4l1 0.6l1 0l1 -0.4l1 -0.4l1 0.3l1 0.1l1 -0.8l1 0.8l1 -0.1l1 -0.3l1 0.7l1 -0.6l1 0.1l1 0.1l1 -0.1l1 0.8l1 0.1l1 0.3l1 -0.1l1 -0.7l1 0.5l1 0.2l1 -0.8l1 0l1 -0.2l1 0.3l1 0.3l1 0l1 -0.8l1 0.5l1 -0.1l1 -0.3l1 -0.1l1 0.5l1 -0.5l1 0.2l1 0.6l1 0.2l1 -0.2l1 0.2l1 -0.4l1 0.2l1 -0.6l1 -0.5l1 1.3l1 -0.5l1 0.6l1 -1l1 0.2l1 -0.2l1 0.2l1 -0.7l1 0.7l1 0.6l1 -0.9l1 0.7l1 -0.6l1 0.7l1 -0.3l1 -0.6l1 1l1 -1l1 0.1l1 -0.4l1 1l1 -0.8l1 -0.3l1 -0.1l1 0l1 0.3l1 -0.1l1 0.3l1 -0.6l1 1.1l1 -0.5l1 0.4l1 0.2l1 0.5l1 0.2l1 -0.9l1 1.3l1 -1.5l1 0.4l1 -0.2l1 -0.8l1 1l1 -0.6l1 -0.5l1 0.4l1 -1.3l1 1.1l1 0.2l1 0.1l1 0.4l1 -0.1l1 -0.9l1 0.9l1 -0.4l1 0.1l1 0.6l1 0l1 0.3l1 -0.5l1 0.6l1 -0.8l1 0.3l1 0l1 -0.2l1 -0.4l1 0.1l1 0.8l1 -0.4l1 0.3l1 -0.8l1 0.1l1 0.1l1 0l1 -0.1l1 0.3l1 -0.9l1 0.8l1 -0.4l1 0.1l1 -0.6l1 0.4l1 0.2l1 -0.8l1 1l1 -0.9l1 0.5l1 -0.3l1 0.5l1 0.4l1 -1l1 0.4l1 0.6l1 -0.2l1 0l1 0.4l1 -0.2l1 -0.5l1 -0.6l1 0.3l1 -0.1l1 -1.4l1 -0.6l1 -0.2l1 -1.4l1 -0.9l1 -1.2l1 -0.9l1 -0.6l1 -1l1 -1l1 -0.4l1 -0.3l1 -0.1l1 1.6l1 0l1 0M281 1545.2l1 0l1 0l1 0.4l1 0l1 -0.6l1 0.3l1 -0.3l1 0l1 1.2l1 -0.8l1 0.5l1 -0.1l1 -0.1l1 -0.3l1 0.1l1 0.5l1 0.3l1 -1l1 0.4l1 0.3l1 0.5l1 -0.1l1 0.1l1 -0.1l1 -0.4l1 0.3l1 0.6l1 -0.4l1 -0.5l1 1l1 -0.2l1 0.2l1 0.6l1 -0.8l1 0.1l1 -0.5l1 1l1 0.3l1 -0.1l1 0.1l1 0.4l1 -0.1l1 0.1l1 -0.2l1 0.1l1 0.4l1 -0.3l1 -0.1l1 0l1 0.2l1 0.1l1 0l1 -0.2l1 -0.3l1 -0.5l1 0.7l1 -0.7l1 0.3l1 0.4l1 -0.5l1 -0.2l1 0.6l1 -0.2l1 0l1 0.7l1 -0.1l1 1l1 -1.4l1 0.5l1 0.3l1 0.4l1 -0.5l1 0.8l1 -0.5l1 -0.2l1 0.3l1 0.1l1 0.1l1 -0.1l1 0.2l1 0.4l1 -0.1l1 0.3l1 -1l1 -0.2l1 1.1l1 -0.7l1 0l1 -0.6l1 0.4l1 -0.1l1 0.1l1 0.4l1 -0.7l1 0.4l1 -0.6l1 0.8l1 -0.5l1 1l1 -1.1l1 1.1l1 -0.9l1 -0.2l1 0.6l1 0l1 -0.4l1 -0.1l1 -0.4l1 0.7l1 0.3l1 -0.7l1 1l1 0.7l1 -1l1 1l1 0.2l1 -0.3l1 0.5l1 -0.3l1 0.7l1 0.4l1 -0.8l1 -0.2l1 -0.6l1 1.3l1 0l1 -1l1 0.2l1 -0.2l1 0.4l1 -1l1 0.9l1 -1l1 1l1 -0.4l1 0.7l1 -0.2l1 -0.4l1 0l1 -0.1l1 1l1 -0.3l1 -0.6l1 -0.3l1 0.7l1 -0.2l1 -0.2l1 0.2l1 0.1l1 -0.2l1 0.2l1 -0.2l1 0.2l1 -0.3l1 0.6l1 -0.2l1 -0.1l1 0.2l1 -0.1l1 0l1 0.3l1 0.1l1 -0.9l1 0.5l1 0.1l1 -0.5l1 0.6l1 -0.2l1 -0.2l1 -0.4l1 0.1l1 0.6l1 0.7l1 -0.8l1 -0.5l1 1.2l1 -0.3l1 0.4l1 -0.6l1 0.6l1 -0.3l1 -0.6l1 0.3l1 0.2l1 -0.4l1 0.7l1 -0.6l1 0.5l1 -0.5l1 0.3l1 0l1 -0.8l1 0.6l1 0.4l1 -0.4l1 0.7l1 0l1 -0.7l1 0.4l1 0.1l1 -0.4l1 0.9l1 -0.2l1 -0.2l1 -0.3l1 0l1 0.1l1 0.6l1 -0.6l1 0.7l1 0.5l1 -1.3l1 0.3l1 0.6l1 -0.3l1 -0.4l1 0.3l1 0l1 0.3l1 -0.6l1 0.3l1 0l1 0.2l1 -0.2l1 -0.5l1 0.1l1 0.9l1 -0.6l1 0.2l1 0l1 0.2l1 0.4l1 -0.5l1 0.4l1 -0.1l1 0l1 -0.5l1 0.3l1 0.6l1 -0.4l1 -0.1l1 0l1 -0.4l1 0.1l1 0.3l1 -0.4l1 -0.2l1 0.7l1 0l1 -0.4l1 -0.3l1 0.8l1 -0.2l1 -0.7l1 0.3l1 -0.1l1 -0.2l1 1.2l1 0.1l1 -1.2l1 1l1 -0.2l1 0.3l1 0.2l1 0.1l1 -0.2l1 -0.2l1 0.5l1 0.5l1 -1l1 0.1l1 0.2l1 -0.4l1 0.2l1 0.4l1 -0.3l1 -0.2l1 -0.1l1 -0.3l1 0.5l1 -0.4l1 -0.2l1 0.3l1 0.2l1 0.6l1 -0.5l1 -0.1l1 0.9l1 -0.7l1 0.5l1 -0.3l1 0.1l1 -0.6l1 0.5l1 -0.3l1 -0.2l1 0.5l1 -0.2l1 0.1l1 0.4l1 -1.2l1 0.9l1 -0.7l1 -0.1l1 0.6l1 -0.2l1 -0.7l1 0.8l1 0l1 0.4l1 -0.1l1 -0.3l1 -0.6l1 0.5l1 0.3l1 0l1 0.1l1 -0.2l1 0.1l1 -0.4l1 0.1l1 0.3l1 0.1l1 -0.8l1 0.2l1 0.1l1 0.3l1 -0.3l1 0.8l1 -0.8l1 -0.3l1 0.1l1 -0.2l1 0.2l1 0.1l1 0.4l1 -0.1l1 -0.3l1 -0.6l1 0.5l1 -0.5l1 0.3l1 0.2l1 -0.2l1 0.8l1 -0.7l1 -0.1l1 0l1 0.4l1 -0.9l1 0.4l1 -0.2l1 0.3l1 -0.6l1 0.5l1 0.4l1 -0.6l1 0.7l1 -0.7l1 0.2l1 -0.3l1 0.8l1 0.1l1 0l1 0.4l1 -0.4l1 0.9l1 -0.5l1 -0.2l1 0.3l1 0l1 -0.5l1 -0.1l1 0.8l1 -0.5l1 0.1l1 0.4l1 -0.8l1 -0.6l1 0.5l1 -0.6l1 0.5l1 -0.2l1 0.1l1 -0.8l1 -0.4l1 0.7l1 0l1 -0.3l1 -0.2l1 0l1 -0.1l1 0.4l1 -0.7l1 0.4l1 0.3l1 -0.3l1 -0.2l1 0.1l1 0.2l1 0.2l1 -0.9l1 1.3l1 -0.6l1 -0.2l1 -0.4l1 0.1l1 0.5l1 -0.1l1 -0.8l1 0.3l1 0.2l1 -0.3l1 1l1 -0.3l1 -0.5l1 -0.5l1 0.6l1 -0.2l1 0l1 -0.2l1 0.6l1 -0.2l1 0.5l1 -0.1l1 -0.4l1 0.2l1 -0.2l1 0.3l1 -0.3l1 0.6l1 -1l1 0.9l1 -0.2l1 0.3l1 -0.6l1 0.4l1 0.2l1 -0.2l1 0l1 -0.1l1 -0.2l1 -0.1l1 -0.4l1 0.6l1 -0.2l1 0.5l1 -0.9l1 0.8l1 -0.2l1 -1.2l1 0.7l1 0.5l1 -0.5l1 0.2l1 0.1l1 -0.6l1 0.4l1 -0.3l1 0.5l1 -1.3l1 0.8l1 -0.2l1 0.4l1 0.2l1 0l1 -0.1l1 0.4l1 -0.6l1 0.6l1 -0.1l1 -0.4l1 0.6l1 0.1l1 0l1 -0.4l1 0.5l1 0.9l1 0l1 -0.9l1 0.1l1 -0.2l1 -0.4l1 -0.2l1 0.4l1 0.4l1 -0.3l1 0l1 0.2l1 -1.1l1 0.3l1 -0.4l1 0.5l1 0.4l1 0.3l1 -0.7l1 0.3l1 0.2l1 0.1l1 -0.4l1 0.7l1 -0.5l1 -0.1l1 -0.2l1 0.1l1 -0.3l1 0.1l1 0.3l1 -0.5l1 0l1 -0.1l1 -0.5l1 -0.2l1 0.8l1 -0.4l1 0.1l1 -0.1l1 -0.3l1 1l1 0.4l1 -0.5l1 -0.9l1 0.2l1 0.3l1 -0.6l1 0.3l1 0.2l1 0.5l1 -1.2l1 0.5l1 -0.4l1 -0.5l1 1l1 -0.9l1 0.5l1 0.4l1 -0.2l1 -0.2l1 0.4l1 -0.6l1 0l1 0.7l1 -0.4l1 -0.3l1 -0.1l1 0.2l1 0.6l1 -0.5l1 0.2l1 0.5l1 -0.1l1 -1l1 0.8l1 -1.4l1 1.1l1 -0.8l1 0.1l1 0l1 -0.1l1 0.1l1 -0.1l1 0.7l1 -0.8l1 -0.3l1 0.4l1 -0.3l1 0.2l1 -0.2l1 0.1l1 0.1l1 0.2l1 0.2l1 -0.1l1 -0.3l1 -0.1l1 -0.2l1 1l1 -0.6l1 0l1 0.3l1 0.1l1 0.1l1 -0.5l1 -0.7l1 0.5l1 -0.4l1 -0.2l1 0.4l1 -0.5l1 -0.1l1 0.2l1 -0.1l1 0l1 -0.2l1 -0.3l1 -0.1l1 0.1l1 0l1 0.3l1 -0.9l1 0.6l1 -0.8l1 1.3l1 -0.1l1 -0.4l1 0.1l1 0.2l1 -0.3l1 0.4l1 0.3l1 -0.9l1 0.2l1 -0.6l1 0.5l1 -1.3l1 0.1l1 -0.1l1 -0.4l1 -0.6l1 0l1 -0.7l1 0l1 -1.2l1 -0.3l1 0l1 -0.6l1 -0.8l1 -1.8l1 0.3l1 -2.3l1 -0.7l1 -2.5l1 -3l1 -2.6l1 -4.7l1 -6l1 -9.1l1 -11.9l1 -16.3l1 -21.4l1 -24.4l1 -25.1l1 -16.7l1 -0.7l1 16.6l1 24.2l1 24.2l1 21.4l1 17l1 12.2l1 9l1 6.1l1 4.9l1 3.3l1 2.8l1 1.6l1 2.1l1 0.6l1 1.4l1 1.2l1 -0.4l1 1l1 1l1 -0.1l1 0.3l1 1l1 0.2l1 -0.2l1 -0.1l1 0.5l1 -0.3l1 0.8l1 -1l1 0l1 -0.1l1 0.4l1 0.5l1 -0.5l1 0.3l1 -0.3l1 -0.1l1 -0.1l1 -0.2l1 -0.3l1 0.3l1 -0.2l1 -0.1l1 -0.5l1 -0.1l1 -0.7l1 0.1l1 -0.9l1 -0.6l1 0.4l1 -1.1l1 -0.6l1 -1.1l1 -1.2l1 -2.6l1 -1.6l1 -3l1 -4.6l1 -6l1 -9.4l1 -13.3l1 -19.1l1 -24.1l1 -18.9l1 2.8l1 20.3l1 23l1 18.1l1 12.1l1 8.8l1 5.7l1 4l1 2.5l1 1.4l1 1.6l1 1.4l1 1.6l1 -0.2l1 0.7l1 0l1 0.4l1 -0.1l1 -0.4l1 0.2l1 0.2l1 -1.2l1 -0.1l1 -0.3l1 -0.7l1 -0.6l1 -1.4l1 -0.1l1 -1.8l1 -1.7l1 -2l1 -3.3l1 -2.8l1 -4.7l1 -5.5l1 -7.1l1 -10.1l1 -14.5l1 -19.9l1 -27.6l1 -36.5l1 -44.3l1 -37.2l1 -5.6l1 28l1 42.9l1 40.4l1 31.6l1 23l1 15.6l1 11.3l1 9.5l1 6.9l1 3.9l1 4.3l1 2.9l1 2.5l1 1.9l1 1.9l1 1.8l1 1l1 0.1l1 1.2l1 1.1l1 1.1l1 0.7l1 0.9l1 0.3l1 -0.7l1 0.9l1 0.9l1 0.3l1 -0.3l1 0.7l1 0.2l1 -0.2l1 0l1 0.8l1 -0.7l1 0.5l1 0.6l1 -0.5l1 -0.4l1 0.8l1 -0.3l1 0.3l1 0.2l1 0.4l1 0.4l1 -0.7l1 0l1 0.4l1 0.8l1 -0.3l1 -0.8l1 0.5l1 -0.1l1 0.2l1 0.1l1 0l1 0.1l1 0.6l1 -1.3l1 -0.2l1 0.5l1 -0.7l1 0l1 -1.2l1 -0.6l1 -0.5l1 -0.7l1 -0.2l1 0.4l1 -0.5l1 0.7l1 1.2l1 0.3l1 0.8l1 0.8l1 0.5l1 0.1l1 0.1l1 -0.3l1 1l1 0.3l1 0.1l1 -0.7l1 0.7l1 0.3l1 -0.1l1 -0.5l1 0.3l1 -0.1l1 1l1 0.3l1 -0.6l1 -0.4l1 0.4l1 0.7l1 -0.2l1 0.4l1 -0.8l1 0.7l1 -0.5l1 0.2l1 0.2l1 -0.3l1 0.5l1 -0.8l1 0l1 -0.7l1 0.6l1 -0.5l1 0.8l1 -0.3l1 0.5l1 -0.1l1 0l1 -0.1l1 0.4l1 0.9l1 -0.6l1 0.2l1 0.4l1 0l1 -0.7l1 -0.4l1 -0.3l1 1.1l1 -0.8l1 0.7l1 0.1l1 -0.2l1 0.5l1 -0.4l1 -0.6l1 0.1l1 -0.1l1 -0.5l1 1l1 -0.2l1 0.2l1 -0.4l1 0.1l1 -0.1l1 0.5l1 -0.4l1 0.7l1 0.4l1 -0.3l1 -0.3l1 0.3l1 -0.2l1 0.1l1 0.5l1 -0.6l1 -0.4l1 0l1 0.8l1 -0.5l1 0.1l1 -0.5l1 0.2l1 -0.2l1 0.9l1 -0.6l1 0.9l1 -0.6l1 0.4l1 -0.3l1 -0.2l1 0.6l1 -0.2l1 -0.2l1 0.6l1 0l1 -0.5l1 1l1 -0.5l1 -0.7l1 1.1l1 -0.4l1 -0.4l1 0l1 0.5l1 0.1l1 -0.9l1 0.4l1 -0.4l1 0.8l1 -1l1 0l1 0.5l1 0.5l1 -0.4l1 0.3l1 -0.3l1 0l1 0.4l1 -0.2l1 0.2l1 -0.4l1 0.4l1 -0.1l1 -0.1l1 -0.2l1 -0.6l1 0.3l1 -0.2l1 0.1l1 0l1 -0.2l1 0.6l1 0.1l1 -0.4l1 0.2l1 -0.8l1 1.1l1 -0.2l1 0.8l1 0.4l1 -1.1l1 0.2l1 -0.3l1 -0.1l1 0.7l1 -0.5l1 -0.2l1 0.1l1 0.3l1 -0.1l1 -1.1l1 0.9l1 -0.1l1 0.5l1 -0.2l1 0.3l1 -0.3l1 0.7l1 -0.8l1 0.9l1 -0.6l1 0.1l1 0.5l1 -0.9l1 0.2l1 -0.1l1 0l1 0.5l1 0.5l1 -1l1 0.4l1 -1.2l1 0.3l1 -0.5l1 -0.7l1 0.7l1 -0.3l1 0.5l1 0.1l1 -0.9l1 0l1 -0.7l1 -0.2l1 -0.1l1 -1.7l1 0.6l1 -2.5l1 -3.1l1 -3l1 -5.7l1 -7.1l1 -8l1 -5.8l1 -0.5l1 5.5l1 7.8l1 6.7l1 6.6l1 4l1 2.2l1 1.5l1 0.9l1 1.6l1 -0.1l1 1l1 0.1l1 0l1 -0.1l1 0l1 -0.3l1 0.8l1 -0.2l1 0.5l1 0.2l1 -0.6l1 1.4l1 -0.5l1 0.3l1 -0.6l1 0.7l1 0l1 -0.2l1 0.1l1 0.3l1 0.2l1 -1.1l1 0.7l1 0.8l1 -0.5l1 -0.4l1 -0.7l1 0.7l1 -0.3l1 -0.2l1 1.1l1 -0.7l1 -0.1l1 0.4l1 -0.9l1 0.1l1 0.2l1 0.4l1 -0.1l1 -0.9l1 0.7l1 0.2l1 -0.9l1 0.6l1 0.3l1 0l1 -0.7l1 0.2l1 0.6l1 -0.2l1 0.2l1 0.5l1 0.4l1 0.2l1 -1l1 0l1 0.2l1 0.6l1 -1.2l1 -0.5l1 0.6l1 0l1 -0.3l1 0l1 0.5l1 -0.3l1 -0.6l1 -0.6l1 1l1 -0.3l1 0.6l1 -0.2l1 -0.3l1 -0.7l1 0.8l1 0.2l1 -0.6l1 1l1 -0.7l1 -0.3l1 -0.2l1 1.5l1 -1l1 0.8l1 -0.8l1 1.2l1 0.2l1 -1.2l1 0l1 0.7l1 -0.4l1 0.1l1 -0.5l1 0.5l1 -0.4l1 0.8l1 -1l1 0.3l1 0.8l1 -0.5l1 -0.2l1 0.3l1 -0.1l1 0.1l1 0.4l1 -0.1l1 -0.2l1 -0.3l1 1l1 -0.6l1 -0.2l1 -0.2l1 0.1l1 -0.1l1 0l1 -0.1l1 -0.2l1 0.2l1 -0.2l1 0.1l1 0.3l1 -0.1l1 -0.2l1 0.6l1 0l1 -0.4l1 0.4l1 0l1 -0.3l1 0.3l1 -1.2l1 0.7l1 -0.4l1 -0.1l1 0.8l1 0.7l1 -1.5l1 0.4l1 0.3l1 -1.1l1 0.9l1 0.2l1 -1.3l1 1.2l1 0l1 -0.3l1 0.4l1 -0.6l1 0.2l1 0.3l1 -0.1l1 0.2l1 -0.5l1 0.1l1 -0.1l1 0.6l1 0.2l1 0.4l1 -0.2l1 -1.4l1 0.6l1 0.6l1 -1.3l1 0.7l1 -0.9l1 0.4l1 0.1l1 0.3l1 -0.4l1 -0.3l1 -0.5l1 0.2l1 1l1 -0.3l1 -0.1l1 0.2l1 0.1l1 0.5l1 -1l1 0.2l1 -0.4l1 -0.3l1 -0.6l1 0.3l1 -0.8l1 -0.3l1 0.6l1 -1l1 -0.5l1 -0.1l1 -0.2l1 -0.8l1 0.2l1 -0.9l1 -0.9l1 -1.1l1 -2.2l1 -1.8l1 -3.7l1 -4.5l1 -6.1l1 -7.1l1 -9.6l1 -10.1l1 -11.4l1 -10.3l1 -5.4l1 2l1 6.9l1 10.9l1 11.2l1 10.4l1 8.5l1 6.9l1 5.2l1 3.9l1 2.9l1 1.9l1 1.7l1 1.6l1 0.6l1 0l1 0.8l1 0.6l1 -0.4l1 0.6l1 1l1 -0.1l1 0.8l1 -0.6l1 0.7l1 -0.3l1 -0.3l1 0.6l1 0.3l1 -0.2l1 0l1 0.4l1 -0.5l1 0.4l1 0l1 0.7l1 -0.6l1 0.6l1 -0.2l1 -0.6l1 1l1 -0.4l1 0.3l1 0.2l1 0.2l1 -0.9l1 0.3l1 0.6l1 -0.4l1 -0.5l1 0.4l1 0.2l1 -0.2l1 -0.6l1 0.6l1 -0.3l1 0l1 0.2l1 0l1 -0.2l1 0.2l1 0.2l1 -0.8l1 0.2l1 0.9l1 0l1 -0.3l1 -0.6l1 0.9l1 -0.2l1 0.2l1 -0.2l1 -0.2l1 0.7l1 -0.6l1 0.3l1 -0.8l1 0.6l1 0.6l1 -0.5l1 0.1l1 0.1l1 0.2l1 -0.6l1 -0.4l1 0.7l1 -0.8l1 0.1l1 0.8l1 -0.9l1 0.1l1 0.4l1 -0.7l1 0.3l1 0.5l1 -0.5l1 -0.1l1 0.2l1 0.7l1 -0.4l1 0.3l1 -0.1l1 -0.1l1 -0.1l1 0.1l1 -0.4l1 0.7l1 -0.1l1 -0.8l1 0.1l1 0.4l1 0.1l1 -0.5l1 0.1l1 0.2l1 0.2l1 -0.8l1 0.2l1 -0.5l1 0.2l1 -0.3l1 0.5l1 -0.8l1 -0.1l1 -0.4l1 0.3l1 0.2l1 -0.8l1 -0.4l1 0.4l1 -0.8l1 0.7l1 -1.1l1 0l1 -0.4l1 -0.7l1 -0.5l1 -0.9l1 -1.2l1 -1.4l1 -2l1 -3.1l1 -3.1l1 -3.8l1 -4.2l1 -5.4l1 -6.5l1 -3.7l1 -4.5l1 -2.5l1 -0.5l1 1.6l1 4.9l1 4.7l1 5.3l1 4.5l1 4.9l1 3.8l1 3.4l1 4.2l1 0.8l1 2.2l1 1.3l1 0.6l1 1.1l1 1l1 0.1l1 0.8l1 0.5l1 0.2l1 0.2l1 0.1l1 -0.1l1 -0.2l1 0.7l1 0.2l1 -0.4l1 0l1 0.2l1 -0.2l1 -0.7l1 0.5l1 0l1 0.8l1 0.5l1 -0.5l1 0.8l1 -0.6l1 0.2l1 -0.1l1 -0.2l1 0.5l1 0.2l1 -0.2l1 0.9l1 -1.1l1 0.4l1 -0.3l1 0.2l1 -0.1l1 -0.1l1 0.1l1 0.1l1 -0.1l1 0.1l1 0.1l1 -0.9l1 1.1l1 -0.5l1 -0.8l1 0.4l1 0l1 0.8l1 -0.1l1 -0.4l1 -0.4l1 0.1l1 -0.4l1 0.4l1 0.5l1 -0.1l1 -0.8l1 0.1l1 -0.5l1 -0.5l1 -1.1l1 -0.2l1 -1.3l1 -0.7l1 -0.3l1 -2l1 -0.8l1 -1l1 -1.6l1 -0.3l1 -0.1l1 0.9l1 0.6l1 0.9l1 1.5l1 0.7l1 1.4l1 1.8l1 -0.4l1 0.9l1 0.8l1 0.5l1 0.1l1 0.4l1 -0.2l1 0l1 -0.1l1 -0.4l1 0l1 -0.4l1 0.1l1 -0.9l1 0l1 0.5l1 -1l1 -0.8l1 -0.3l1 -1l1 -2.1l1 -1.1l1 -3.1l1 -2.6l1 -3l1 -4.8l1 -4.9l1 -4.7l1 -5.4l1 -4.7l1 -1.5l1 0.2l1 3.2l1 3.6l1 5.7l1 4.8l1 5l1 3.5l1 3.3l1 2.8l1 2.1l1 1.2l1 1.7l1 -0.1l1 0.6l1 0.4l1 -0.3l1 -0.4l1 -1l1 0.2l1 -2.1l1 -0.8l1 -2.1l1 -2.3l1 -1.9l1 -2.5l1 -2.3l1 -1.4l1 -1.2l1 0.5l1 1.8l1 2.3l1 1.8l1 3l1 2.4l1 1.8l1 2.3l1 1.6l1 1.4l1 1.3l1 -0.3l1 1l1 -0.5l1 1.5l1 -0.3l1 -0.1l1 0.5l1 0.2l1 0.1l1 0.7l1 -0.6l1 0.1l1 0.2l1 0.8l1 0.2l1 0.4l1 0.6l1 -0.1l1 -0.4l1 0l1 0.1l1 -0.7l1 0.5l1 -0.1l1 -0.1l1 0.1l1 -0.4l1 0.3l1 0.1l1 -0.4l1 -0.5l1 0.1l1 0.3l1 0.7l1 -0.3l1 -0.5l1 0.2l1 -0.5l1 0.7l1 -0.1l1 -0.1l1 0.6l1 -0.3l1 0.7l1 0.2l1 0.2l1 -0.6l1 0l1 0.3l1 -0.2l1 0.9l1 -0.9l1 -0.5l1 0.6l1 -0.1l1 0.4l1 0.1l1 -0.2l1 -0.3l1 0.2l1 -0.6l1 0.2l1 -0.7l1 -0.6l1 0.5l1 -1l1 0.1l1 0.8l1 -0.9l1 0l1 0.2l1 0.3l1 0.1l1 0l1 0.4l1 0.7l1 -0.1l1 0.2l1 0.7l1 -0.9l1 0.6l1 0.1l1 -0.2l1 -0.1l1 0.3l1 0.1l1 -0.7l1 1l1 -0.3l1 0.4l1 -0.2l1 0l1 -0.2l1 0.3l1 0.1l1 -0.4l1 0.8l1 -0.5l1 0.1l1 0.1l1 -0.5l1 0.1l1 0.6l1 -0.4l1 -0.7l1 0.1l1 0.3l1 -0.8l1 0.8l1 0l1 -0.4l1 0.2l1 -0.4l1 0.1l1 0.4l1 -0.5l1 -0.1l1 0.4l1 0.2l1 -0.4l1 0.2l1 0.4l1 0l1 -1.3l1 1.3l1 0.4l1 -0.1l1 -0.4l1 0.6l1 -1l1 0.6l1 0l1 0.3l1 -0.9l1 0.5l1 0.1l1 0.5l1 -0.3l1 0l1 -0.2l1 0.2l1 0.3l1 -0.5l1 -0.2l1 -0.1l1 0.4l1 0.1l1 -0.6l1 0.2l1 -0.5l1 0.6l1 -0.1l1 -0.7l1 0.4l1 0.1l1 -0.6l1 1.1l1 -0.6l1 -0.7l1 -0.2l1 0.7l1 -0.3l1 0.1l1 -0.3l1 -0.8l1 0.7l1 -0.3l1 0l1 -1.1l1 -0.3l1 -0.6l1 -1.1l1 -0.9l1 -0.6l1 0l1 -0.4l1 0.6l1 0.5l1 0.4l1 0.8l1 0.2l1 1.2l1 0.2l1 0.8l1 0l1 1l1 -0.2l1 0.6l1 -0.6l1 0.2l1 0.4l1 -0.1l1 0.7l1 -0.4l1 0.1l1 0.5l1 0.2l1 0.4l1 -0.8l1 -0.1l1 -0.8l1 1.2l1 -0.4l1 0.6l1 0l1 -0.1l1 -0.6l1 0.2l1 0.1l1 0.4l1 -0.3l1 0l1 0.2l1 -0.1l1 -0.1l1 0.6l1 -0.5l1 0.1l1 0l1 0.7l1 -1.2l1 0.7l1 -0.1l1 -0.2l1 0.1l1 0l1 0.3l1 -0.8l1 0.4l1 -0.8l1 0.3l1 0.8l1 0.1l1 -1l1 -0.3l1 0.2l1 0.4l1 0.7l1 -0.9l1 0.2l1 0.3l1 0l1 -0.2l1 0.2l1 0.7l1 -0.6l1 0.1l1 -0.2l1 0.1l1 -0.2l1 0.1l1 0.1l1 0.3l1 -0.8l1 0.7l1 -0.4l1 -0.6l1 0.2l1 -0.6l1 1.5l1 -1.3l1 0.7l1 0.3l1 0.1l1 0l1 -0.1l1 -0.7l1 0.8l1 0.3l1 -0.2l1 0.1l1 -0.8l1 -0.4l1 0.2l1 -0.1l1 -0.3l1 0.4l1 0.2l1 -0.2l1 -0.2l1 0.1l1 -1.3l1 0.9l1 -0.1l1 -1l1 0.9l1 -0.1l1 -0.3l1 0.8l1 0l1 0.4l1 -0.6l1 0.6l1 -1.1l1 1.3l1 -0.7l1 0.9l1 -0.3l1 -0.6l1 0.9l1 -0.4l1 -0.3l1 0.2l1 0.5l1 -0.6l1 0.2l1 0.2l1 0.1l1 0.2l1 -0.1l1 0.7l1 -0.5l1 -0.5l1 0.4l1 0.7l1 -0.2l1 -0.4l1 0.1l1 -0.7l1 0.5l1 -0.1l1 0.1l1 0.8l1 0l1 -0.8l1 0.3l1 0.4l1 -0.1l1 -0.4l1 0.6l1 0l1 -0.4l1 -0.4l1 0.3l1 0.1l1 -0.8l1 0.8l1 -0.1l1 -0.3l1 0.7l1 -0.6l1 0.1l1 0.1l1 -0.1l1 0.8l1 0.1l1 0.3l1 -0.1l1 -0.7l1 0.5l1 0.2l1 -0.8l1 0l1 -0.2l1 0.3l1 0.3l1 0l1 -0.8l1 0.5l1 -0.1l1 -0.3l1 -0.1l1 0.5l1 -0.5l1 0.2l1 0.6l1 0.2l1 -0.2l1 0.2l1 -0.4l1 0.2l1 -0.6l1 -0.5l1 1.3l1 -0.5l1 0.6l1 -1l1 0.2l1 -0.2l1 0.2l1 -0.7l1 0.7l1 0.6l1 -0.9l1 0.7l1 -0.6l1 0.7l1 -0.3l1 -0.6l1 1l1 -1l1 0.1l1 -0.4l1 1l1 -0.8l1 -0.3l1 -0.1l1 0l1 0.3l1 -0.1l1 0.3l1 -0.6l1 1.1l1 -0.5l1 0.4l1 0.2l1 0.5l1 0.2l1 -0.9l1 1.3l1 -1.5l1 0.4l1 -0.2l1 -0.8l1 1l1 -0.6l1 -0.5l1 0.4l1 -1.3l1 1.1l1 0.2l1 0.1l1 0.4l1 -0.1l1 -0.9l1 0.9l1 -0.4l1 0.1l1 0.6l1 0l1 0.3l1 -0.5l1 0.6l1 -0.8l1 0.3l1 0l1 -0.2l1 -0.4l1 0.1l1 0.8l1 -0.4l1 0.3l1 -0.8l1 0.1l1 0.1l1 0l1 -0.1l1 0.3l1 -0.9l1 0.8l1 -0.4l1 0.1l1 -0.6l1 0.4l1 0.2l1 -0.8l1 1l1 -0.9l1 0.5l1 -0.3l1 0.5l1 0.4l1 -1l1 0.4l1 0.6l1 -0.2l1 0l1 0.4l1 -0.2l1 -0.5l1 -0.6l1 0.3l1 -0.1l1 -1.4l1 -0.6l1 -0.2l1 -1.4l1 -0.9l1 -1.2l1 -0.9l1 -0.6l1 -1l1 -1l1 -0.4l1 -0.3l1 -0.1l1 1.6l1 0l1 0" stroke="#F14040"/>
<path d="M281 1380.5l1 0l1 0l1 0.1l1 0l1 0.2l1 0.7l1 -0.1l1 0l1 -0.7l1 0l1 0.8l1 -0.2l1 -0.6l1 0.4l1 -0.6l1 1.1l1 -1.2l1 0.6l1 -0.4l1 0.2l1 0.5l1 0.2l1 -0.1l1 0l1 -0.7l1 0.9l1 -0.8l1 0.6l1 -0.2l1 1.2l1 0.1l1 -1.2l1 0.3l1 0l1 0.5l1 0.3l1 0.3l1 -0.9l1 0.9l1 0.3l1 -0.5l1 0.3l1 -0.2l1 0.2l1 -0.4l1 0.4l1 0.1l1 -0.2l1 0.3l1 -0.5l1 0.4l1 0l1 0.4l1 -0.8l1 1.4l1 -0.4l1 -0.3l1 0.5l1 1l1 -0.7l1 0l1 0.1l1 0.3l1 0.3l1 -0.2l1 0l1 -0.5l1 0.1l1 -0.3l1 0l1 -0.2l1 0.3l1 0.9l1 -0.4l1 -0.1l1 -0.3l1 0.3l1 -0.3l1 -0.2l1 0.9l1 -0.1l1 0.3l1 -1.1l1 0.8l1 -0.3l1 0.4l1 -1.3l1 0.4l1 -0.3l1 0.3l1 0.4l1 0.4l1 0.1l1 0.1l1 0.3l1 -0.4l1 0.6l1 0.6l1 -0.9l1 0.2l1 1l1 -0.7l1 0l1 0.6l1 0.1l1 0.4l1 -1l1 0.3l1 0.1l1 0.4l1 0.4l1 -0.8l1 1.2l1 -0.2l1 -0.8l1 1.8l1 -0.3l1 -0.9l1 0.5l1 -0.9l1 1.5l1 -0.6l1 -0.2l1 0.6l1 -0.4l1 0.4l1 0.5l1 0.7l1 -0.3l1 -0.2l1 0.5l1 -0.7l1 0l1 0.5l1 -0.6l1 -0.2l1 0.8l1 -0.6l1 0.4l1 -0.3l1 -0.1l1 0.8l1 -0.3l1 0.6l1 -0.5l1 0.5l1 0.1l1 -0.4l1 0.3l1 0.2l1 -0.3l1 0.4l1 -0.1l1 -0.2l1 0.4l1 0.3l1 -0.6l1 0.2l1 -0.4l1 0.1l1 0.1l1 -0.1l1 0.2l1 0.3l1 0.8l1 -1l1 -0.2l1 -0.5l1 0.8l1 -1.7l1 0.4l1 0.4l1 0.4l1 0.8l1 -0.9l1 -0.3l1 -1.6l1 2.1l1 -0.9l1 -0.2l1 0.5l1 0.8l1 -0.9l1 0.1l1 0.6l1 0.1l1 1.1l1 -0.7l1 -0.2l1 0.8l1 -0.7l1 0.6l1 0.4l1 0.1l1 0l1 0.2l1 -1l1 -0.1l1 1.3l1 -0.9l1 1.1l1 -0.6l1 0l1 0.1l1 -0.4l1 0.2l1 -0.3l1 -0.2l1 0l1 -1.1l1 0.4l1 0.6l1 -0.1l1 0.5l1 0.8l1 -0.6l1 -0.5l1 1.2l1 -0.5l1 1.2l1 -0.4l1 -0.5l1 0.1l1 0.6l1 -0.1l1 -0.8l1 0.2l1 0.4l1 0.4l1 -0.1l1 -0.5l1 -0.4l1 1.3l1 -0.8l1 -0.5l1 0.5l1 -0.8l1 0.5l1 0.5l1 -0.6l1 0.3l1 0.1l1 0.2l1 -0.8l1 0.6l1 -0.4l1 0.9l1 -0.3l1 -0.7l1 1.1l1 -0.8l1 -0.3l1 0.3l1 0.5l1 -0.6l1 0.3l1 0.8l1 -0.8l1 0.2l1 0l1 0.2l1 0l1 0.4l1 -0.4l1 0.1l1 0.2l1 -0.4l1 -0.3l1 -0.9l1 1.2l1 0l1 -0.5l1 -0.6l1 0.5l1 -0.4l1 0.9l1 -0.5l1 -0.9l1 0.6l1 -0.4l1 -0.9l1 0.8l1 -0.4l1 0.3l1 0.9l1 -0.1l1 -1.2l1 1.4l1 -1.3l1 0.2l1 0.3l1 -0.6l1 0.9l1 -0.3l1 0.7l1 -0.8l1 0.3l1 -0.3l1 -0.1l1 0.3l1 0.1l1 0l1 -0.6l1 0.1l1 -0.9l1 0.8l1 -0.4l1 -0.1l1 0.4l1 0.3l1 -1.4l1 0.7l1 -0.5l1 0.6l1 -0.9l1 -0.6l1 0.3l1 1l1 -0.3l1 0.3l1 -0.8l1 0.3l1 0.3l1 -1.1l1 0.3l1 0.5l1 -0.8l1 0.6l1 -0.9l1 0l1 0l1 -0.3l1 -0.2l1 -1.2l1 0.6l1 0.9l1 -0.7l1 -0.7l1 -0.5l1 0.8l1 -0.7l1 -0.3l1 0.2l1 -0.3l1 -0.4l1 0l1 -0.1l1 -1.6l1 0.7l1 -0.7l1 -1.2l1 -1.9l1 -0.3l1 -0.8l1 -1.5l1 -0.4l1 0.3l1 0.4l1 0.2l1 -0.1l1 -0.1l1 -0.3l1 0.6l1 0.1l1 -1.2l1 0.3l1 -0.3l1 -1.5l1 -0.9l1 -2.1l1 -3l1 -4.3l1 -5.8l1 -6.9l1 -6.1l1 -5l1 -2.8l1 -3.1l1 -1.8l1 -2.6l1 -1.8l1 -4.6l1 -2.2l1 -2.1l1 -1.3l1 -1.6l1 -1.1l1 -0.5l1 -0.4l1 -3.4l1 -5l1 -6.6l1 -9l1 -11.8l1 -16.2l1 -18.4l1 -24l1 -27.1l1 -30.2l1 -33.4l1 -34l1 -29.3l1 -18.5l1 -6l1 7.8l1 22.6l1 30.6l1 33.8l1 32.6l1 30.2l1 26.4l1 22.8l1 19.4l1 15.3l1 13.2l1 9.6l1 9.2l1 6.4l1 6.1l1 4l1 4l1 3.1l1 3.6l1 2.7l1 1.8l1 2.1l1 1.9l1 2l1 1.2l1 0.9l1 1.1l1 1.8l1 1.4l1 1l1 0.2l1 1.4l1 0.5l1 0.5l1 0.4l1 0.9l1 0.7l1 1.1l1 0.6l1 0.8l1 1l1 1.4l1 0.3l1 -0.1l1 0.9l1 -0.6l1 1.2l1 -0.5l1 0.9l1 -0.2l1 1.4l1 1.1l1 -0.4l1 0.7l1 0.7l1 0.3l1 -0.7l1 0.2l1 0.3l1 -0.1l1 0.2l1 -0.8l1 1.2l1 -0.7l1 -0.2l1 0.5l1 0.8l1 0l1 -0.3l1 1.7l1 0l1 -0.1l1 0.7l1 -0.6l1 0.5l1 0.9l1 -0.8l1 0.6l1 0.8l1 -0.4l1 1.5l1 -1.6l1 1l1 0.5l1 -0.8l1 1.4l1 -0.5l1 0.5l1 -0.7l1 0.2l1 -0.5l1 0.5l1 1.5l1 -0.7l1 -0.4l1 -0.7l1 1l1 -0.2l1 -1l1 1.6l1 -0.6l1 -0.1l1 0.8l1 0l1 0.6l1 -1.2l1 0.3l1 -0.6l1 0.1l1 0.2l1 0.1l1 0.1l1 -2.1l1 -2.8l1 -8.6l1 -16.9l1 -4.9l1 15.4l1 12.4l1 4.7l1 1.1l1 1.3l1 -0.1l1 0.6l1 -0.7l1 0.1l1 -0.4l1 -0.1l1 -0.4l1 -0.9l1 -0.3l1 0.2l1 -1.5l1 -0.7l1 -1l1 -0.4l1 -1l1 -2l1 0.6l1 -1l1 0.2l1 0.7l1 0.3l1 -0.6l1 0.4l1 0.6l1 -2l1 0.3l1 -1.2l1 -1.4l1 -1.9l1 -1.8l1 -1.1l1 -2.2l1 -0.6l1 -1.5l1 0.1l1 0.9l1 2.5l1 1.9l1 2.5l1 1.9l1 3.1l1 2.5l1 1.4l1 0.9l1 1.5l1 1.9l1 -0.1l1 1.1l1 -0.4l1 1.1l1 -0.5l1 1.4l1 -0.7l1 1l1 -0.5l1 0.6l1 0.4l1 -0.7l1 0.4l1 0.3l1 -0.3l1 -0.2l1 0.4l1 0.4l1 -0.1l1 0.2l1 0l1 0.2l1 -1.1l1 0.8l1 -0.3l1 0.5l1 -0.7l1 0.6l1 -0.1l1 0.2l1 0.8l1 0.5l1 -1.3l1 0.1l1 0.1l1 -0.2l1 0.6l1 -0.3l1 0.8l1 0.4l1 -1.4l1 -0.5l1 0l1 0.5l1 0.1l1 -0.5l1 -0.9l1 0l1 -1.5l1 -0.8l1 -2.3l1 -1.9l1 -2.6l1 -3.5l1 -3.5l1 -4.2l1 -4.4l1 -3.1l1 -3.2l1 -1l1 -1.9l1 2.3l1 2.7l1 2.9l1 3.3l1 2.7l1 2.7l1 2.2l1 1l1 -0.2l1 -0.2l1 -2.2l1 -0.3l1 -1.5l1 -0.8l1 0.3l1 1.2l1 3.5l1 1.7l1 3.3l1 2.4l1 2.8l1 1.7l1 3.4l1 0.7l1 0.9l1 0.5l1 -0.1l1 1.1l1 0.4l1 0.2l1 0.5l1 0l1 0l1 0l1 0.4l1 -0.1l1 -0.4l1 0.9l1 -0.2l1 0l1 -0.1l1 1.5l1 -1.1l1 0.6l1 0.4l1 -0.4l1 0.4l1 0l1 0.4l1 -1.4l1 0.5l1 0.2l1 -0.9l1 1.3l1 -1l1 0.8l1 -0.4l1 -0.5l1 1.4l1 -0.8l1 -0.5l1 0.5l1 -0.7l1 -0.4l1 1.1l1 0.1l1 -0.6l1 0.4l1 -1l1 -0.3l1 -0.2l1 -1.1l1 -2l1 -2.8l1 -4.3l1 -3l1 -3.3l1 -0.3l1 0.5l1 3l1 3.7l1 2.4l1 3l1 1.9l1 0.5l1 1.4l1 -0.1l1 0.7l1 -0.4l1 0.9l1 0.2l1 -0.4l1 0l1 -1.1l1 0.8l1 -1.6l1 0.2l1 -1.6l1 -1.2l1 -1.6l1 -2.4l1 -3.3l1 -5.2l1 -5.7l1 -7.4l1 -7.7l1 -8.7l1 -9.2l1 -9.6l1 -10l1 -9l1 -6.7l1 -3l1 -1.1l1 2.9l1 5.9l1 8l1 9.7l1 8.7l1 11.1l1 9l1 7.9l1 7.9l1 6.8l1 4.8l1 3.3l1 2.3l1 2.8l1 1.5l1 1.1l1 1.7l1 0.5l1 0.1l1 0l1 0.7l1 0.6l1 -0.4l1 0.3l1 0.5l1 0.4l1 0.7l1 -0.5l1 -0.1l1 0.7l1 -0.3l1 0.8l1 -0.7l1 0.6l1 1l1 -1.4l1 0.8l1 0.1l1 -0.4l1 1l1 -0.6l1 0.6l1 0.3l1 -0.2l1 -0.1l1 0.3l1 -0.3l1 0.3l1 -0.3l1 0l1 0.6l1 -1l1 1.4l1 -0.3l1 0.2l1 -0.4l1 0.6l1 0l1 -0.5l1 0.9l1 -0.5l1 0.8l1 -0.5l1 0.8l1 0.1l1 -0.3l1 -0.4l1 1.3l1 -0.7l1 1.5l1 -2.1l1 0.9l1 0.3l1 0.6l1 0.1l1 -0.6l1 0.1l1 0.3l1 -0.2l1 -1.3l1 0.6l1 0.5l1 0l1 -0.4l1 -0.4l1 1.6l1 -1.1l1 -0.5l1 1l1 0.3l1 -0.5l1 0.5l1 -1.6l1 1.6l1 -0.8l1 1.8l1 -0.8l1 0.9l1 -0.1l1 -1.3l1 1.5l1 0.1l1 -0.6l1 -0.4l1 1.5l1 -0.7l1 0.2l1 -0.4l1 -0.6l1 0.4l1 0.7l1 -1.3l1 1.4l1 -0.7l1 0.1l1 -0.1l1 0.9l1 -0.7l1 0.4l1 -0.2l1 0.2l1 0.4l1 -0.9l1 0l1 0.9l1 -0.4l1 0.2l1 -0.2l1 -0.2l1 0.5l1 -0.7l1 0.4l1 0l1 1l1 -0.9l1 -0.3l1 0.6l1 0.8l1 -0.3l1 -0.6l1 -0.2l1 0.1l1 -0.8l1 -0.2l1 -0.1l1 -1.3l1 0.3l1 -1.9l1 -0.3l1 -1.2l1 -0.3l1 -2.9l1 0.5l1 -1.3l1 0.7l1 0.1l1 0.4l1 1.7l1 0.2l1 1.2l1 1.1l1 0.8l1 1.3l1 0.4l1 1l1 -0.1l1 0l1 0.1l1 0.6l1 -0.2l1 0.7l1 -0.2l1 0.9l1 -1l1 0.2l1 -0.7l1 0l1 0.7l1 0.4l1 -1l1 -0.2l1 0.3l1 -0.4l1 -0.4l1 0l1 -0.7l1 0.7l1 -0.7l1 -1.2l1 -1.2l1 0.1l1 -1l1 -1.5l1 -0.5l1 0.2l1 -1.4l1 -0.8l1 -1.5l1 -0.4l1 -1.4l1 0l1 -1.2l1 -0.8l1 0.8l1 0.2l1 0.2l1 0.8l1 -0.1l1 1.6l1 0.8l1 1.3l1 1.4l1 0.2l1 1.6l1 0.1l1 1.1l1 0.6l1 0l1 1.7l1 0.8l1 0.2l1 0l1 0.7l1 -0.2l1 -0.6l1 1.2l1 -1l1 1.4l1 -0.4l1 0l1 0.2l1 -0.7l1 0.7l1 -0.2l1 0.7l1 -0.6l1 0.3l1 -0.2l1 -0.1l1 0.5l1 -1l1 -0.9l1 0.6l1 -0.5l1 -1l1 -0.2l1 -0.4l1 -0.3l1 -1l1 -1l1 -1.3l1 0.4l1 -1.8l1 0.3l1 -0.4l1 0.1l1 0.1l1 0.1l1 0.5l1 0.6l1 0.4l1 0.6l1 0.7l1 0.9l1 0.6l1 0l1 1.3l1 0.5l1 -0.7l1 1l1 -0.2l1 0.3l1 -0.9l1 -0.8l1 -0.6l1 -0.9l1 -1.2l1 -0.2l1 0.2l1 0.1l1 0.1l1 0.6l1 0.4l1 0.4l1 0.5l1 -0.8l1 1.3l1 -0.8l1 -0.3l1 -0.9l1 -1l1 -0.3l1 -1.1l1 -0.8l1 -0.6l1 0.2l1 1.7l1 -0.7l1 1.2l1 0.2l1 1.7l1 0.3l1 2.3l1 0.2l1 0.9l1 -0.4l1 1l1 0.3l1 1l1 -0.4l1 1.4l1 -0.4l1 -0.5l1 0.8l1 -0.4l1 0.4l1 0.2l1 -0.4l1 -0.2l1 0.7l1 -1.2l1 1.7l1 -1.1l1 0.4l1 -0.1l1 0.2l1 0.2l1 0.1l1 0.6l1 -0.5l1 0.8l1 -1.5l1 1.5l1 0.2l1 -1.3l1 1.2l1 -0.3l1 0.2l1 -0.8l1 -0.2l1 0.1l1 0.5l1 -0.5l1 -0.3l1 0.1l1 -0.9l1 -0.9l1 -0.1l1 1.5l1 -1l1 0.3l1 -1.5l1 -0.2l1 0.5l1 0.7l1 -1.5l1 -0.4l1 -0.5l1 2l1 -0.6l1 0.8l1 0.2l1 -0.1l1 0.9l1 0.1l1 0.6l1 0.4l1 -0.5l1 0.9l1 -0.4l1 0l1 0.2l1 0.1l1 -0.5l1 0.3l1 0.3l1 0.3l1 -0.8l1 0.1l1 0.1l1 0.6l1 -1l1 0.5l1 -0.6l1 0.2l1 -0.1l1 0.1l1 -0.1l1 1.1l1 -0.9l1 -0.1l1 -0.3l1 -0.6l1 1.4l1 -0.2l1 -1l1 0.9l1 0l1 0.4l1 -1l1 1.4l1 -1.2l1 -0.5l1 1.6l1 -0.7l1 -0.7l1 0.6l1 -0.7l1 -0.2l1 0.6l1 -1.1l1 0.3l1 -1.4l1 0.9l1 -0.4l1 0.4l1 -0.5l1 -0.1l1 -0.2l1 0.3l1 -1.8l1 1.2l1 0.5l1 -1.2l1 1l1 -0.8l1 0.6l1 -0.5l1 0.1l1 -0.1l1 1.1l1 -0.5l1 0.6l1 -0.4l1 0.6l1 1.2l1 -0.8l1 0.2l1 0.6l1 0l1 0.9l1 0.8l1 0l1 -1.2l1 0.1l1 0.9l1 -0.4l1 0.4l1 -1.1l1 -0.3l1 0.8l1 0.1l1 0l1 0.4l1 -0.3l1 -0.3l1 -0.4l1 0.9l1 0l1 -0.3l1 -0.4l1 0l1 0.4l1 0.7l1 -0.6l1 0.3l1 0.6l1 -1l1 -0.8l1 1.4l1 -1.7l1 1l1 -0.6l1 0.1l1 -0.1l1 0.1l1 -1l1 0.1l1 0.2l1 -0.1l1 0l1 -0.7l1 -0.4l1 -0.8l1 0.6l1 -2.2l1 -0.7l1 -0.8l1 -0.8l1 -1.5l1 -2.6l1 -2.1l1 -3l1 -2.9l1 -2.4l1 -2l1 -1.2l1 1.5l1 -0.5l1 3.1l1 2.4l1 3.2l1 3l1 3.3l1 0.9l1 2l1 0.5l1 1l1 0.4l1 2l1 -0.5l1 0.8l1 0l1 0.2l1 -0.8l1 1.3l1 0.7l1 -0.6l1 0.6l1 -0.6l1 -0.3l1 0.3l1 0l1 0.6l1 0.4l1 0.2l1 0.3l1 -0.8l1 1.4l1 -0.2l1 -0.5l1 -0.2l1 0.5l1 -0.1l1 0.5l1 -0.4l1 0.7l1 -1.2l1 0.8l1 0.4l1 -0.7l1 0.5l1 -1.1l1 1l1 -0.6l1 0.4l1 -0.6l1 0.5l1 -0.4l1 0.3l1 0.1l1 -0.5l1 0l1 -0.3l1 0l1 -0.2l1 0.2l1 -0.8l1 0.7l1 -1.8l1 0.6l1 -0.8l1 -0.5l1 -0.2l1 -1.2l1 0.4l1 -1.3l1 0l1 -0.3l1 -0.8l1 -0.6l1 0.4l1 -0.9l1 0.1l1 -0.5l1 0.8l1 1.2l1 -1.8l1 0.8l1 1.3l1 -0.3l1 0.5l1 0.4l1 0.6l1 0.8l1 0.5l1 0.2l1 1.5l1 -0.9l1 1.1l1 -0.6l1 1l1 0l1 0.5l1 -0.1l1 1l1 -0.5l1 -0.5l1 1.1l1 -0.1l1 -1l1 0.4l1 0.6l1 0.6l1 -0.6l1 -0.3l1 0.9l1 -0.8l1 0.4l1 -1.2l1 1l1 0.4l1 -0.3l1 -1.2l1 0.2l1 0.8l1 -0.6l1 -0.2l1 0.1l1 -0.4l1 0.5l1 -0.9l1 0l1 0.3l1 0.3l1 0.4l1 -0.4l1 -0.5l1 0.4l1 -0.2l1 1.1l1 -0.2l1 -0.6l1 0.6l1 -1.1l1 -0.9l1 -0.4l1 -0.5l1 -0.7l1 -1.1l1 -0.1l1 -1.5l1 0.4l1 -2.1l1 -1l1 -0.1l1 -1l1 0.7l1 -0.5l1 0.9l1 -0.4l1 0.8l1 0.7l1 1.2l1 1.8l1 0.8l1 0.4l1 0.1l1 -0.4l1 1.6l1 -0.6l1 0.5l1 -0.9l1 0.7l1 -0.2l1 1.6l1 -1l1 -0.3l1 0.8l1 -0.9l1 -1l1 -0.3l1 -0.3l1 0.4l1 -0.1l1 -1.8l1 0.3l1 -0.5l1 -0.2l1 -0.9l1 -0.3l1 -1.1l1 -0.7l1 -0.6l1 -0.5l1 -0.1l1 -0.5l1 -0.8l1 0l1 0.3l1 -0.6l1 0.5l1 0.1l1 0.5l1 1l1 0.2l1 1.4l1 -0.4l1 1.4l1 0.9l1 0.2l1 2l1 0l1 0l1 -0.1l1 1.5l1 0.6l1 -0.2l1 0.1l1 0.2l1 0.8l1 0.3l1 -0.3l1 0l1 -0.3l1 -0.4l1 0l1 0l1 0.2l1 -1.1l1 0.5l1 -0.1l1 0.2l1 -2.4l1 0.9l1 -0.2l1 -0.3l1 -0.2l1 -0.4l1 0.7l1 -0.2l1 0l1 0.4l1 1l1 -0.2l1 -0.3l1 1.1l1 0.2l1 0.2l1 0.5l1 0l1 1.2l1 -0.8l1 0.3l1 1.2l1 -1.1l1 0.2l1 0.7l1 0.2l1 -0.2l1 1.2l1 -0.3l1 -0.3l1 -0.9l1 0.5l1 -0.8l1 0.9l1 -0.6l1 0l1 -0.6l1 -0.1l1 -2.1l1 0.4l1 -1.2l1 -0.9l1 -1.6l1 -0.7l1 -1.7l1 -1.4l1 -1.1l1 -0.4l1 0.6l1 -0.1l1 1.1l1 1.5l1 1.8l1 0.4l1 0.1l1 2.2l1 0.9l1 -1.1l1 1.5l1 -0.3l1 0.5l1 -0.6l1 0l1 0.1l1 -0.1l1 -1.4l1 0l1 0.2l1 -0.4l1 -0.7l1 -1.1l1 -0.1l1 -0.4l1 0.9l1 0.9l1 -0.2l1 1.4l1 0.3l1 1.2l1 0.4l1 0.9l1 0.3l1 0.8l1 -0.4l1 0.7l1 0.2l1 0.5l1 1l1 -0.5l1 0.2l1 -1.2l1 0.8l1 0.5l1 0.7l1 -0.9l1 -1.4l1 1l1 -0.5l1 -0.8l1 0.5l1 -0.9l1 1.5l1 -0.5l1 1.2l1 -1.2l1 -0.3l1 0.9l1 -1.1l1 0.9l1 -0.5l1 0.1l1 0.1l1 -0.2l1 0.8l1 0.2l1 -0.4l1 -0.4l1 0.4l1 0.4l1 -0.3l1 0.1l1 0.5l1 -0.7l1 0.6l1 -1l1 -0.6l1 0.3l1 0.2l1 -0.3l1 -0.3l1 -0.7l1 0.5l1 0.1l1 0.2l1 -1.1l1 0.1l1 -0.5l1 0.1l1 0.7l1 -1.7l1 0.9l1 0.1l1 -0.7l1 -0.4l1 0.6l1 -0.2l1 -0.2l1 1l1 1.2l1 -1l1 -0.3l1 0.3l1 0.5l1 1.2l1 0l1 0l1 0.4l1 -0.3l1 0l1 -0.1l1 0.3l1 0.2l1 1l1 -0.9l1 -0.1l1 0.8l1 -0.1l1 0.2l1 0.4l1 -0.5l1 0.7l1 -0.9l1 -0.1l1 -0.1l1 -0.5l1 0.1l1 0.1l1 -0.1l1 0.6l1 -0.6l1 -0.1l1 -0.3l1 0.1l1 0.9l1 -0.3l1 0.1l1 0.7l1 -0.4l1 0.2l1 0.1l1 0.9l1 -1.2l1 -0.1l1 -0.3l1 1.2l1 -1.7l1 0.4l1 0.1l1 0.1l1 0.1l1 -0.1l1 0.6l1 -1.2l1 0.3l1 0.7l1 -0.5l1 1l1 0.4l1 -1.8l1 0.7l1 0.8l1 -0.3l1 -0.6l1 0.1l1 0.6l1 0l1 -0.1l1 0.5l1 -0.5l1 0.3l1 -0.1l1 -0.6l1 -0.5l1 1.9l1 -2l1 0.9l1 0l1 -0.1l1 -0.9l1 0.8l1 1.1l1 -1.3l1 -0.2l1 1.1l1 0l1 -0.1l1 0l1 0l1 -0.6l1 0.5l1 1.1l1 -1.1l1 -0.5l1 0.4l1 -0.4l1 -0.4l1 0.7l1 0l1 -0.4l1 -1.1l1 0.7l1 -1.2l1 0.2l1 -0.1l1 0.1l1 0.6l1 -1.5l1 0l1 0.3l1 -0.1l1 0.2l1 -0.3l1 -0.2l1 0.1l1 0.4l1 -0.8l1 1.1l1 0.2l1 0.3l1 -0.4l1 -0.1l1 0.6l1 0.1l1 -0.1l1 0.3l1 0.2l1 0.2l1 0l1 -0.6l1 1l1 -0.6l1 0.6l1 0.5l1 0.6l1 -0.9l1 1l1 -0.3l1 -0.7l1 0.7l1 -0.4l1 0.6l1 -0.1l1 -0.2l1 0.2l1 -0.5l1 0.3l1 0.6l1 -0.7l1 0l1 -0.2l1 0.4l1 0.5l1 -0.3l1 0.5l1 -0.2l1 0.6l1 -0.6l1 0.4l1 0.4l1 0.5l1 -1.8l1 0.3l1 0.1l1 -0.7l1 0.3l1 0.8l1 -0.7l1 -0.6l1 -0.5l1 -0.1l1 0.1l1 -0.8l1 1.4l1 -0.8l1 1l1 0.4l1 0.9l1 -2.3l1 0.1l1 0.7l1 -0.3l1 -0.9l1 -0.3l1 0l1 -0.5l1 -0.2l1 -1.7l1 -0.5l1 0.9l1 -1.3l1 0.9l1 -0.6l1 0.9l1 -0.3l1 -0.6l1 0.8l1 -0.6l1 1.8l1 -0.9l1 0.2l1 0.2l1 0.3l1 -0.3l1 -1.4l1 1.4l1 -0.4l1 0.1l1 -0.5l1 0.3l1 0.7l1 -0.4l1 0.1l1 1.1l1 0.8l1 -0.6l1 0.8l1 0.5l1 0.4l1 1l1 -0.4l1 0.2l1 -0.2l1 0.6l1 0.4l1 -0.2l1 0.1l1 0.7l1 0.3l1 -0.8l1 -0.2l1 0.6l1 -0.8l1 0.1l1 0.4l1 -1l1 0.5l1 -0.2l1 0.2l1 -0.5l1 -0.7l1 0.8l1 0.9l1 -0.8l1 -0.6l1 0l1 0.5l1 0.5l1 -0.6l1 0.2l1 0.7l1 -1l1 0.1l1 1.3l1 -0.1l1 -0.1l1 -0.4l1 -0.4l1 -1.2l1 2.1l1 0.6l1 -0.8l1 -0.2l1 0.7l1 -0.7l1 -0.1l1 0.3l1 0.1l1 0.6l1 -0.2l1 -0.5l1 -0.7l1 0.5l1 0.4l1 -0.7l1 0.7l1 0l1 -0.2l1 -0.1l1 -0.2l1 1l1 -0.4l1 -0.1l1 0.6l1 -0.4l1 0.3l1 -0.4l1 0.2l1 0l1 0.4l1 0.3l1 -0.7l1 -0.6l1 0.2l1 0.5l1 0.3l1 0.7l1 -1l1 0.2l1 0.1l1 -1l1 -0.3l1 0.5l1 0.2l1 -0.4l1 0.5l1 0.5l1 -0.8l1 0.4l1 -0.9l1 -0.2l1 0.2l1 -0.6l1 1.2l1 0.6l1 -1.2l1 1l1 -0.3l1 0.3l1 -0.6l1 0.9l1 -1.9l1 1l1 0.9l1 -1l1 -1.1l1 1.2l1 -0.7l1 0l1 0.4l1 -0.5l1 0.7l1 0.2l1 -0.1l1 -0.3l1 -0.7l1 0.2l1 0.2l1 0.1l1 -0.5l1 1.5l1 -1.7l1 1.2l1 -1l1 0.1l1 1.5l1 0.1l1 -1.9l1 0.4l1 0.5l1 -0.4l1 -0.2l1 0l1 0.1l1 -0.1l1 0.4l1 -1.2l1 1.1l1 0.1l1 -0.6l1 0.6l1 -0.5l1 0.5l1 -1.3l1 0.9l1 0.3l1 -0.4l1 1.1l1 -0.2l1 0.6l1 0.2l1 0l1 -1.5l1 0.9l1 -1.1l1 0.9l1 0.5l1 -0.1l1 -0.5l1 -0.1l1 0.5l1 -0.7l1 0.7l1 -1l1 0.8l1 -0.6l1 0.7l1 -0.9l1 0.7l1 -0.4l1 1.4l1 -0.9l1 -0.5l1 -0.1l1 -1.4l1 0.8l1 -0.8l1 0.2l1 1l1 -1.6l1 0.7l1 -0.5l1 1.9l1 -0.7l1 -0.3l1 -0.7l1 0.3l1 0.6l1 0.4l1 -0.8l1 0.2l1 -0.5l1 1.3l1 -0.7l1 -0.6l1 1.2l1 -0.6l1 0.7l1 0.4l1 -0.6l1 0l1 0M281 1383.7l1 0l1 0l1 0.1l1 0l1 0.2l1 0.7l1 -0.1l1 0l1 -0.7l1 0l1 0.8l1 -0.2l1 -0.6l1 0.4l1 -0.6l1 1.1l1 -1.2l1 0.6l1 -0.4l1 0.2l1 0.5l1 0.2l1 -0.1l1 0l1 -0.7l1 0.9l1 -0.8l1 0.6l1 -0.2l1 1.2l1 0.1l1 -1.2l1 0.3l1 0l1 0.5l1 0.3l1 0.3l1 -0.9l1 0.9l1 0.3l1 -0.5l1 0.3l1 -0.2l1 0.2l1 -0.4l1 0.4l1 0.1l1 -0.2l1 0.3l1 -0.5l1 0.4l1 0l1 0.4l1 -0.8l1 1.4l1 -0.4l1 -0.3l1 0.5l1 1l1 -0.7l1 0l1 0.1l1 0.3l1 0.3l1 -0.2l1 0l1 -0.5l1 0.1l1 -0.3l1 0l1 -0.2l1 0.3l1 0.9l1 -0.4l1 -0.1l1 -0.3l1 0.3l1 -0.3l1 -0.2l1 0.9l1 -0.1l1 0.3l1 -1.1l1 0.8l1 -0.3l1 0.4l1 -1.3l1 0.4l1 -0.3l1 0.3l1 0.4l1 0.4l1 0.1l1 0.1l1 0.3l1 -0.4l1 0.6l1 0.6l1 -0.9l1 0.2l1 1l1 -0.7l1 0l1 0.6l1 0.1l1 0.4l1 -1l1 0.3l1 0.1l1 0.4l1 0.4l1 -0.8l1 1.2l1 -0.2l1 -0.8l1 1.8l1 -0.3l1 -0.9l1 0.5l1 -0.9l1 1.5l1 -0.6l1 -0.2l1 0.6l1 -0.4l1 0.4l1 0.5l1 0.7l1 -0.3l1 -0.2l1 0.5l1 -0.7l1 0l1 0.5l1 -0.6l1 -0.2l1 0.8l1 -0.6l1 0.4l1 -0.3l1 -0.1l1 0.8l1 -0.3l1 0.6l1 -0.5l1 0.5l1 0.1l1 -0.4l1 0.3l1 0.2l1 -0.3l1 0.4l1 -0.1l1 -0.2l1 0.4l1 0.3l1 -0.6l1 0.2l1 -0.4l1 0.1l1 0.1l1 -0.1l1 0.2l1 0.3l1 0.8l1 -1l1 -0.2l1 -0.5l1 0.8l1 -1.7l1 0.4l1 0.4l1 0.4l1 0.8l1 -0.9l1 -0.3l1 -1.6l1 2.1l1 -0.9l1 -0.2l1 0.5l1 0.8l1 -0.9l1 0.1l1 0.6l1 0.1l1 1.1l1 -0.7l1 -0.2l1 0.8l1 -0.7l1 0.6l1 0.4l1 0.1l1 0l1 0.2l1 -1l1 -0.1l1 1.3l1 -0.9l1 1.1l1 -0.6l1 0l1 0.1l1 -0.4l1 0.2l1 -0.3l1 -0.2l1 0l1 -1.1l1 0.4l1 0.6l1 -0.1l1 0.5l1 0.8l1 -0.6l1 -0.5l1 1.2l1 -0.5l1 1.2l1 -0.4l1 -0.5l1 0.1l1 0.6l1 -0.1l1 -0.8l1 0.2l1 0.4l1 0.4l1 -0.1l1 -0.5l1 -0.4l1 1.3l1 -0.8l1 -0.5l1 0.5l1 -0.8l1 0.5l1 0.5l1 -0.6l1 0.3l1 0.1l1 0.2l1 -0.8l1 0.6l1 -0.4l1 0.9l1 -0.3l1 -0.7l1 1.1l1 -0.8l1 -0.3l1 0.3l1 0.5l1 -0.6l1 0.3l1 0.8l1 -0.8l1 0.2l1 0l1 0.2l1 0l1 0.4l1 -0.4l1 0.1l1 0.2l1 -0.4l1 -0.3l1 -0.9l1 1.2l1 0l1 -0.5l1 -0.6l1 0.5l1 -0.4l1 0.9l1 -0.5l1 -0.9l1 0.6l1 -0.4l1 -0.9l1 0.8l1 -0.4l1 0.3l1 0.9l1 -0.1l1 -1.2l1 1.4l1 -1.3l1 0.2l1 0.3l1 -0.6l1 0.9l1 -0.3l1 0.7l1 -0.8l1 0.3l1 -0.3l1 -0.1l1 0.3l1 0.1l1 0l1 -0.6l1 0.1l1 -0.9l1 0.8l1 -0.4l1 -0.1l1 0.4l1 0.3l1 -1.4l1 0.7l1 -0.5l1 0.6l1 -0.9l1 -0.6l1 0.3l1 1l1 -0.3l1 0.3l1 -0.8l1 0.3l1 0.3l1 -1.1l1 0.3l1 0.5l1 -0.8l1 0.6l1 -0.9l1 0l1 0l1 -0.3l1 -0.2l1 -1.2l1 0.6l1 0.9l1 -0.7l1 -0.7l1 -0.5l1 0.8l1 -0.7l1 -0.3l1 0.2l1 -0.3l1 -0.4l1 0l1 -0.1l1 -1.6l1 0.7l1 -0.7l1 -1.2l1 -1.9l1 -0.3l1 -0.8l1 -1.5l1 -0.4l1 0.3l1 0.4l1 0.2l1 -0.1l1 -0.1l1 -0.3l1 0.6l1 0.1l1 -1.2l1 0.3l1 -0.3l1 -1.5l1 -0.9l1 -2.1l1 -3l1 -4.3l1 -5.8l1 -6.9l1 -6.1l1 -5l1 -2.8l1 -3.1l1 -1.8l1 -2.6l1 -1.8l1 -4.6l1 -2.2l1 -2.1l1 -1.3l1 -1.6l1 -1.1l1 -0.5l1 -0.4l1 -3.4l1 -5l1 -6.6l1 -9l1 -11.8l1 -16.2l1 -18.4l1 -24l1 -27.1l1 -30.2l1 -33.4l1 -34l1 -29.3l1 -18.5l1 -6l1 7.8l1 22.6l1 30.6l1 33.8l1 32.6l1 30.2l1 26.4l1 22.8l1 19.4l1 15.3l1 13.2l1 9.6l1 9.2l1 6.4l1 6.1l1 4l1 4l1 3.1l1 3.6l1 2.7l1 1.8l1 2.1l1 1.9l1 2l1 1.2l1 0.9l1 1.1l1 1.8l1 1.4l1 1l1 0.2l1 1.4l1 0.5l1 0.5l1 0.4l1 0.9l1 0.7l1 1.1l1 0.6l1 0.8l1 1l1 1.4l1 0.3l1 -0.1l1 0.9l1 -0.6l1 1.2l1 -0.5l1 0.9l1 -0.2l1 1.4l1 1.1l1 -0.4l1 0.7l1 0.7l1 0.3l1 -0.7l1 0.2l1 0.3l1 -0.1l1 0.2l1 -0.8l1 1.2l1 -0.7l1 -0.2l1 0.5l1 0.8l1 0l1 -0.3l1 1.7l1 0l1 -0.1l1 0.7l1 -0.6l1 0.5l1 0.9l1 -0.8l1 0.6l1 0.8l1 -0.4l1 1.5l1 -1.6l1 1l1 0.5l1 -0.8l1 1.4l1 -0.5l1 0.5l1 -0.7l1 0.2l1 -0.5l1 0.5l1 1.5l1 -0.7l1 -0.4l1 -0.7l1 1l1 -0.2l1 -1l1 1.6l1 -0.6l1 -0.1l1 0.8l1 0l1 0.6l1 -1.2l1 0.3l1 -0.6l1 0.1l1 0.2l1 0.1l1 0.1l1 -2.1l1 -2.8l1 -8.6l1 -16.9l1 -4.9l1 15.4l1 12.4l1 4.7l1 1.1l1 1.3l1 -0.1l1 0.6l1 -0.7l1 0.1l1 -0.4l1 -0.1l1 -0.4l1 -0.9l1 -0.3l1 0.2l1 -1.5l1 -0.7l1 -1l1 -0.4l1 -1l1 -2l1 0.6l1 -1l1 0.2l1 0.7l1 0.3l1 -0.6l1 0.4l1 0.6l1 -2l1 0.3l1 -1.2l1 -1.4l1 -1.9l1 -1.8l1 -1.1l1 -2.2l1 -0.6l1 -1.5l1 0.1l1 0.9l1 2.5l1 1.9l1 2.5l1 1.9l1 3.1l1 2.5l1 1.4l1 0.9l1 1.5l1 1.9l1 -0.1l1 1.1l1 -0.4l1 1.1l1 -0.5l1 1.4l1 -0.7l1 1l1 -0.5l1 0.6l1 0.4l1 -0.7l1 0.4l1 0.3l1 -0.3l1 -0.2l1 0.4l1 0.4l1 -0.1l1 0.2l1 0l1 0.2l1 -1.1l1 0.8l1 -0.3l1 0.5l1 -0.7l1 0.6l1 -0.1l1 0.2l1 0.8l1 0.5l1 -1.3l1 0.1l1 0.1l1 -0.2l1 0.6l1 -0.3l1 0.8l1 0.4l1 -1.4l1 -0.5l1 0l1 0.5l1 0.1l1 -0.5l1 -0.9l1 0l1 -1.5l1 -0.8l1 -2.3l1 -1.9l1 -2.6l1 -3.5l1 -3.5l1 -4.2l1 -4.4l1 -3.1l1 -3.2l1 -1l1 -1.9l1 2.3l1 2.7l1 2.9l1 3.3l1 2.7l1 2.7l1 2.2l1 1l1 -0.2l1 -0.2l1 -2.2l1 -0.3l1 -1.5l1 -0.8l1 0.3l1 1.2l1 3.5l1 1.7l1 3.3l1 2.4l1 2.8l1 1.7l1 3.4l1 0.7l1 0.9l1 0.5l1 -0.1l1 1.1l1 0.4l1 0.2l1 0.5l1 0l1 0l1 0l1 0.4l1 -0.1l1 -0.4l1 0.9l1 -0.2l1 0l1 -0.1l1 1.5l1 -1.1l1 0.6l1 0.4l1 -0.4l1 0.4l1 0l1 0.4l1 -1.4l1 0.5l1 0.2l1 -0.9l1 1.3l1 -1l1 0.8l1 -0.4l1 -0.5l1 1.4l1 -0.8l1 -0.5l1 0.5l1 -0.7l1 -0.4l1 1.1l1 0.1l1 -0.6l1 0.4l1 -1l1 -0.3l1 -0.2l1 -1.1l1 -2l1 -2.8l1 -4.3l1 -3l1 -3.3l1 -0.3l1 0.5l1 3l1 3.7l1 2.4l1 3l1 1.9l1 0.5l1 1.4l1 -0.1l1 0.7l1 -0.4l1 0.9l1 0.2l1 -0.4l1 0l1 -1.1l1 0.8l1 -1.6l1 0.2l1 -1.6l1 -1.2l1 -1.6l1 -2.4l1 -3.3l1 -5.2l1 -5.7l1 -7.4l1 -7.7l1 -8.7l1 -9.2l1 -9.6l1 -10l1 -9l1 -6.7l1 -3l1 -1.1l1 2.9l1 5.9l1 8l1 9.7l1 8.7l1 11.1l1 9l1 7.9l1 7.9l1 6.8l1 4.8l1 3.3l1 2.3l1 2.8l1 1.5l1 1.1l1 1.7l1 0.5l1 0.1l1 0l1 0.7l1 0.6l1 -0.4l1 0.3l1 0.5l1 0.4l1 0.7l1 -0.5l1 -0.1l1 0.7l1 -0.3l1 0.8l1 -0.7l1 0.6l1 1l1 -1.4l1 0.8l1 0.1l1 -0.4l1 1l1 -0.6l1 0.6l1 0.3l1 -0.2l1 -0.1l1 0.3l1 -0.3l1 0.3l1 -0.3l1 0l1 0.6l1 -1l1 1.4l1 -0.3l1 0.2l1 -0.4l1 0.6l1 0l1 -0.5l1 0.9l1 -0.5l1 0.8l1 -0.5l1 0.8l1 0.1l1 -0.3l1 -0.4l1 1.3l1 -0.7l1 1.5l1 -2.1l1 0.9l1 0.3l1 0.6l1 0.1l1 -0.6l1 0.1l1 0.3l1 -0.2l1 -1.3l1 0.6l1 0.5l1 0l1 -0.4l1 -0.4l1 1.6l1 -1.1l1 -0.5l1 1l1 0.3l1 -0.5l1 0.5l1 -1.6l1 1.6l1 -0.8l1 1.8l1 -0.8l1 0.9l1 -0.1l1 -1.3l1 1.5l1 0.1l1 -0.6l1 -0.4l1 1.5l1 -0.7l1 0.2l1 -0.4l1 -0.6l1 0.4l1 0.7l1 -1.3l1 1.4l1 -0.7l1 0.1l1 -0.1l1 0.9l1 -0.7l1 0.4l1 -0.2l1 0.2l1 0.4l1 -0.9l1 0l1 0.9l1 -0.4l1 0.2l1 -0.2l1 -0.2l1 0.5l1 -0.7l1 0.4l1 0l1 1l1 -0.9l1 -0.3l1 0.6l1 0.8l1 -0.3l1 -0.6l1 -0.2l1 0.1l1 -0.8l1 -0.2l1 -0.1l1 -1.3l1 0.3l1 -1.9l1 -0.3l1 -1.2l1 -0.3l1 -2.9l1 0.5l1 -1.3l1 0.7l1 0.1l1 0.4l1 1.7l1 0.2l1 1.2l1 1.1l1 0.8l1 1.3l1 0.4l1 1l1 -0.1l1 0l1 0.1l1 0.6l1 -0.2l1 0.7l1 -0.2l1 0.9l1 -1l1 0.2l1 -0.7l1 0l1 0.7l1 0.4l1 -1l1 -0.2l1 0.3l1 -0.4l1 -0.4l1 0l1 -0.7l1 0.7l1 -0.7l1 -1.2l1 -1.2l1 0.1l1 -1l1 -1.5l1 -0.5l1 0.2l1 -1.4l1 -0.8l1 -1.5l1 -0.4l1 -1.4l1 0l1 -1.2l1 -0.8l1 0.8l1 0.2l1 0.2l1 0.8l1 -0.1l1 1.6l1 0.8l1 1.3l1 1.4l1 0.2l1 1.6l1 0.1l1 1.1l1 0.6l1 0l1 1.7l1 0.8l1 0.2l1 0l1 0.7l1 -0.2l1 -0.6l1 1.2l1 -1l1 1.4l1 -0.4l1 0l1 0.2l1 -0.7l1 0.7l1 -0.2l1 0.7l1 -0.6l1 0.3l1 -0.2l1 -0.1l1 0.5l1 -1l1 -0.9l1 0.6l1 -0.5l1 -1l1 -0.2l1 -0.4l1 -0.3l1 -1l1 -1l1 -1.3l1 0.4l1 -1.8l1 0.3l1 -0.4l1 0.1l1 0.1l1 0.1l1 0.5l1 0.6l1 0.4l1 0.6l1 0.7l1 0.9l1 0.6l1 0l1 1.3l1 0.5l1 -0.7l1 1l1 -0.2l1 0.3l1 -0.9l1 -0.8l1 -0.6l1 -0.9l1 -1.2l1 -0.2l1 0.2l1 0.1l1 0.1l1 0.6l1 0.4l1 0.4l1 0.5l1 -0.8l1 1.3l1 -0.8l1 -0.3l1 -0.9l1 -1l1 -0.3l1 -1.1l1 -0.8l1 -0.6l1 0.2l1 1.7l1 -0.7l1 1.2l1 0.2l1 1.7l1 0.3l1 2.3l1 0.2l1 0.9l1 -0.4l1 1l1 0.3l1 1l1 -0.4l1 1.4l1 -0.4l1 -0.5l1 0.8l1 -0.4l1 0.4l1 0.2l1 -0.4l1 -0.2l1 0.7l1 -1.2l1 1.7l1 -1.1l1 0.4l1 -0.1l1 0.2l1 0.2l1 0.1l1 0.6l1 -0.5l1 0.8l1 -1.5l1 1.5l1 0.2l1 -1.3l1 1.2l1 -0.3l1 0.2l1 -0.8l1 -0.2l1 0.1l1 0.5l1 -0.5l1 -0.3l1 0.1l1 -0.9l1 -0.9l1 -0.1l1 1.5l1 -1l1 0.3l1 -1.5l1 -0.2l1 0.5l1 0.7l1 -1.5l1 -0.4l1 -0.5l1 2l1 -0.6l1 0.8l1 0.2l1 -0.1l1 0.9l1 0.1l1 0.6l1 0.4l1 -0.5l1 0.9l1 -0.4l1 0l1 0.2l1 0.1l1 -0.5l1 0.3l1 0.3l1 0.3l1 -0.8l1 0.1l1 0.1l1 0.6l1 -1l1 0.5l1 -0.6l1 0.2l1 -0.1l1 0.1l1 -0.1l1 1.1l1 -0.9l1 -0.1l1 -0.3l1 -0.6l1 1.4l1 -0.2l1 -1l1 0.9l1 0l1 0.4l1 -1l1 1.4l1 -1.2l1 -0.5l1 1.6l1 -0.7l1 -0.7l1 0.6l1 -0.7l1 -0.2l1 0.6l1 -1.1l1 0.3l1 -1.4l1 0.9l1 -0.4l1 0.4l1 -0.5l1 -0.1l1 -0.2l1 0.3l1 -1.8l1 1.2l1 0.5l1 -1.2l1 1l1 -0.8l1 0.6l1 -0.5l1 0.1l1 -0.1l1 1.1l1 -0.5l1 0.6l1 -0.4l1 0.6l1 1.2l1 -0.8l1 0.2l1 0.6l1 0l1 0.9l1 0.8l1 0l1 -1.2l1 0.1l1 0.9l1 -0.4l1 0.4l1 -1.1l1 -0.3l1 0.8l1 0.1l1 0l1 0.4l1 -0.3l1 -0.3l1 -0.4l1 0.9l1 0l1 -0.3l1 -0.4l1 0l1 0.4l1 0.7l1 -0.6l1 0.3l1 0.6l1 -1l1 -0.8l1 1.4l1 -1.7l1 1l1 -0.6l1 0.1l1 -0.1l1 0.1l1 -1l1 0.1l1 0.2l1 -0.1l1 0l1 -0.7l1 -0.4l1 -0.8l1 0.6l1 -2.2l1 -0.7l1 -0.8l1 -0.8l1 -1.5l1 -2.6l1 -2.1l1 -3l1 -2.9l1 -2.4l1 -2l1 -1.2l1 1.5l1 -0.5l1 3.1l1 2.4l1 3.2l1 3l1 3.3l1 0.9l1 2l1 0.5l1 1l1 0.4l1 2l1 -0.5l1 0.8l1 0l1 0.2l1 -0.8l1 1.3l1 0.7l1 -0.6l1 0.6l1 -0.6l1 -0.3l1 0.3l1 0l1 0.6l1 0.4l1 0.2l1 0.3l1 -0.8l1 1.4l1 -0.2l1 -0.5l1 -0.2l1 0.5l1 -0.1l1 0.5l1 -0.4l1 0.7l1 -1.2l1 0.8l1 0.4l1 -0.7l1 0.5l1 -1.1l1 1l1 -0.6l1 0.4l1 -0.6l1 0.5l1 -0.4l1 0.3l1 0.1l1 -0.5l1 0l1 -0.3l1 0l1 -0.2l1 0.2l1 -0.8l1 0.7l1 -1.8l1 0.6l1 -0.8l1 -0.5l1 -0.2l1 -1.2l1 0.4l1 -1.3l1 0l1 -0.3l1 -0.8l1 -0.6l1 0.4l1 -0.9l1 0.1l1 -0.5l1 0.8l1 1.2l1 -1.8l1 0.8l1 1.3l1 -0.3l1 0.5l1 0.4l1 0.6l1 0.8l1 0.5l1 0.2l1 1.5l1 -0.9l1 1.1l1 -0.6l1 1l1 0l1 0.5l1 -0.1l1 1l1 -0.5l1 -0.5l1 1.1l1 -0.1l1 -1l1 0.4l1 0.6l1 0.6l1 -0.6l1 -0.3l1 0.9l1 -0.8l1 0.4l1 -1.2l1 1l1 0.4l1 -0.3l1 -1.2l1 0.2l1 0.8l1 -0.6l1 -0.2l1 0.1l1 -0.4l1 0.5l1 -0.9l1 0l1 0.3l1 0.3l1 0.4l1 -0.4l1 -0.5l1 0.4l1 -0.2l1 1.1l1 -0.2l1 -0.6l1 0.6l1 -1.1l1 -0.9l1 -0.4l1 -0.5l1 -0.7l1 -1.1l1 -0.1l1 -1.5l1 0.4l1 -2.1l1 -1l1 -0.1l1 -1l1 0.7l1 -0.5l1 0.9l1 -0.4l1 0.8l1 0.7l1 1.2l1 1.8l1 0.8l1 0.4l1 0.1l1 -0.4l1 1.6l1 -0.6l1 0.5l1 -0.9l1 0.7l1 -0.2l1 1.6l1 -1l1 -0.3l1 0.8l1 -0.9l1 -1l1 -0.3l1 -0.3l1 0.4l1 -0.1l1 -1.8l1 0.3l1 -0.5l1 -0.2l1 -0.9l1 -0.3l1 -1.1l1 -0.7l1 -0.6l1 -0.5l1 -0.1l1 -0.5l1 -0.8l1 0l1 0.3l1 -0.6l1 0.5l1 0.1l1 0.5l1 1l1 0.2l1 1.4l1 -0.4l1 1.4l1 0.9l1 0.2l1 2l1 0l1 0l1 -0.1l1 1.5l1 0.6l1 -0.2l1 0.1l1 0.2l1 0.8l1 0.3l1 -0.3l1 0l1 -0.3l1 -0.4l1 0l1 0l1 0.2l1 -1.1l1 0.5l1 -0.1l1 0.2l1 -2.4l1 0.9l1 -0.2l1 -0.3l1 -0.2l1 -0.4l1 0.7l1 -0.2l1 0l1 0.4l1 1l1 -0.2l1 -0.3l1 1.1l1 0.2l1 0.2l1 0.5l1 0l1 1.2l1 -0.8l1 0.3l1 1.2l1 -1.1l1 0.2l1 0.7l1 0.2l1 -0.2l1 1.2l1 -0.3l1 -0.3l1 -0.9l1 0.5l1 -0.8l1 0.9l1 -0.6l1 0l1 -0.6l1 -0.1l1 -2.1l1 0.4l1 -1.2l1 -0.9l1 -1.6l1 -0.7l1 -1.7l1 -1.4l1 -1.1l1 -0.4l1 0.6l1 -0.1l1 1.1l1 1.5l1 1.8l1 0.4l1 0.1l1 2.2l1 0.9l1 -1.1l1 1.5l1 -0.3l1 0.5l1 -0.6l1 0l1 0.1l1 -0.1l1 -1.4l1 0l1 0.2l1 -0.4l1 -0.7l1 -1.1l1 -0.1l1 -0.4l1 0.9l1 0.9l1 -0.2l1 1.4l1 0.3l1 1.2l1 0.4l1 0.9l1 0.3l1 0.8l1 -0.4l1 0.7l1 0.2l1 0.5l1 1l1 -0.5l1 0.2l1 -1.2l1 0.8l1 0.5l1 0.7l1 -0.9l1 -1.4l1 1l1 -0.5l1 -0.8l1 0.5l1 -0.9l1 1.5l1 -0.5l1 1.2l1 -1.2l1 -0.3l1 0.9l1 -1.1l1 0.9l1 -0.5l1 0.1l1 0.1l1 -0.2l1 0.8l1 0.2l1 -0.4l1 -0.4l1 0.4l1 0.4l1 -0.3l1 0.1l1 0.5l1 -0.7l1 0.6l1 -1l1 -0.6l1 0.3l1 0.2l1 -0.3l1 -0.3l1 -0.7l1 0.5l1 0.1l1 0.2l1 -1.1l1 0.1l1 -0.5l1 0.1l1 0.7l1 -1.7l1 0.9l1 0.1l1 -0.7l1 -0.4l1 0.6l1 -0.2l1 -0.2l1 1l1 1.2l1 -1l1 -0.3l1 0.3l1 0.5l1 1.2l1 0l1 0l1 0.4l1 -0.3l1 0l1 -0.1l1 0.3l1 0.2l1 1l1 -0.9l1 -0.1l1 0.8l1 -0.1l1 0.2l1 0.4l1 -0.5l1 0.7l1 -0.9l1 -0.1l1 -0.1l1 -0.5l1 0.1l1 0.1l1 -0.1l1 0.6l1 -0.6l1 -0.1l1 -0.3l1 0.1l1 0.9l1 -0.3l1 0.1l1 0.7l1 -0.4l1 0.2l1 0.1l1 0.9l1 -1.2l1 -0.1l1 -0.3l1 1.2l1 -1.7l1 0.4l1 0.1l1 0.1l1 0.1l1 -0.1l1 0.6l1 -1.2l1 0.3l1 0.7l1 -0.5l1 1l1 0.4l1 -1.8l1 0.7l1 0.8l1 -0.3l1 -0.6l1 0.1l1 0.6l1 0l1 -0.1l1 0.5l1 -0.5l1 0.3l1 -0.1l1 -0.6l1 -0.5l1 1.9l1 -2l1 0.9l1 0l1 -0.1l1 -0.9l1 0.8l1 1.1l1 -1.3l1 -0.2l1 1.1l1 0l1 -0.1l1 0l1 0l1 -0.6l1 0.5l1 1.1l1 -1.1l1 -0.5l1 0.4l1 -0.4l1 -0.4l1 0.7l1 0l1 -0.4l1 -1.1l1 0.7l1 -1.2l1 0.2l1 -0.1l1 0.1l1 0.6l1 -1.5l1 0l1 0.3l1 -0.1l1 0.2l1 -0.3l1 -0.2l1 0.1l1 0.4l1 -0.8l1 1.1l1 0.2l1 0.3l1 -0.4l1 -0.1l1 0.6l1 0.1l1 -0.1l1 0.3l1 0.2l1 0.2l1 0l1 -0.6l1 1l1 -0.6l1 0.6l1 0.5l1 0.6l1 -0.9l1 1l1 -0.3l1 -0.7l1 0.7l1 -0.4l1 0.6l1 -0.1l1 -0.2l1 0.2l1 -0.5l1 0.3l1 0.6l1 -0.7l1 0l1 -0.2l1 0.4l1 0.5l1 -0.3l1 0.5l1 -0.2l1 0.6l1 -0.6l1 0.4l1 0.4l1 0.5l1 -1.8l1 0.3l1 0.1l1 -0.7l1 0.3l1 0.8l1 -0.7l1 -0.6l1 -0.5l1 -0.1l1 0.1l1 -0.8l1 1.4l1 -0.8l1 1l1 0.4l1 0.9l1 -2.3l1 0.1l1 0.7l1 -0.3l1 -0.9l1 -0.3l1 0l1 -0.5l1 -0.2l1 -1.7l1 -0.5l1 0.9l1 -1.3l1 0.9l1 -0.6l1 0.9l1 -0.3l1 -0.6l1 0.8l1 -0.6l1 1.8l1 -0.9l1 0.2l1 0.2l1 0.3l1 -0.3l1 -1.4l1 1.4l1 -0.4l1 0.1l1 -0.5l1 0.3l1 0.7l1 -0.4l1 0.1l1 1.1l1 0.8l1 -0.6l1 0.8l1 0.5l1 0.4l1 1l1 -0.4l1 0.2l1 -0.2l1 0.6l1 0.4l1 -0.2l1 0.1l1 0.7l1 0.3l1 -0.8l1 -0.2l1 0.6l1 -0.8l1 0.1l1 0.4l1 -1l1 0.5l1 -0.2l1 0.2l1 -0.5l1 -0.7l1 0.8l1 0.9l1 -0.8l1 -0.6l1 0l1 0.5l1 0.5l1 -0.6l1 0.2l1 0.7l1 -1l1 0.1l1 1.3l1 -0.1l1 -0.1l1 -0.4l1 -0.4l1 -1.2l1 2.1l1 0.6l1 -0.8l1 -0.2l1 0.7l1 -0.7l1 -0.1l1 0.3l1 0.1l1 0.6l1 -0.2l1 -0.5l1 -0.7l1 0.5l1 0.4l1 -0.7l1 0.7l1 0l1 -0.2l1 -0.1l1 -0.2l1 1l1 -0.4l1 -0.1l1 0.6l1 -0.4l1 0.3l1 -0.4l1 0.2l1 0l1 0.4l1 0.3l1 -0.7l1 -0.6l1 0.2l1 0.5l1 0.3l1 0.7l1 -1l1 0.2l1 0.1l1 -1l1 -0.3l1 0.5l1 0.2l1 -0.4l1 0.5l1 0.5l1 -0.8l1 0.4l1 -0.9l1 -0.2l1 0.2l1 -0.6l1 1.2l1 0.6l1 -1.2l1 1l1 -0.3l1 0.3l1 -0.6l1 0.9l1 -1.9l1 1l1 0.9l1 -1l1 -1.1l1 1.2l1 -0.7l1 0l1 0.4l1 -0.5l1 0.7l1 0.2l1 -0.1l1 -0.3l1 -0.7l1 0.2l1 0.2l1 0.1l1 -0.5l1 1.5l1 -1.7l1 1.2l1 -1l1 0.1l1 1.5l1 0.1l1 -1.9l1 0.4l1 0.5l1 -0.4l1 -0.2l1 0l1 0.1l1 -0.1l1 0.4l1 -1.2l1 1.1l1 0.1l1 -0.6l1 0.6l1 -0.5l1 0.5l1 -1.3l1 0.9l1 0.3l1 -0.4l1 1.1l1 -0.2l1 0.6l1 0.2l1 0l1 -1.5l1 0.9l1 -1.1l1 0.9l1 0.5l1 -0.1l1 -0.5l1 -0.1l1 0.5l1 -0.7l1 0.7l1 -1l1 0.8l1 -0.6l1 0.7l1 -0.9l1 0.7l1 -0.4l1 1.4l1 -0.9l1 -0.5l1 -0.1l1 -1.4l1 0.8l1 -0.8l1 0.2l1 1l1 -1.6l1 0.7l1 -0.5l1 1.9l1 -0.7l1 -0.3l1 -0.7l1 0.3l1 0.6l1 0.4l1 -0.8l1 0.2l1 -0.5l1 1.3l1 -0.7l1 -0.6l1 1.2l1 -0.6l1 0.7l1 0.4l1 -0.6l1 0l1 0" stroke="#1A6FDF"/>
<path d="M281 1232.4l1 0l1 0l1 0.7l1 -0.1l1 0.4l1 -0.9l1 -0.1l1 0.2l1 -0.2l1 1.2l1 -0.4l1 -1.3l1 0.9l1 0.4l1 -1l1 1.5l1 -0.7l1 -0.2l1 0.5l1 -0.2l1 0.9l1 -0.2l1 -0.4l1 -0.2l1 0.4l1 -0.5l1 0.6l1 -0.4l1 0.5l1 0.3l1 -0.4l1 0.1l1 0.1l1 0.3l1 0l1 -0.1l1 0l1 -0.7l1 -0.4l1 0.4l1 2.3l1 -1.2l1 -0.2l1 0.8l1 0l1 0.5l1 0.3l1 -0.5l1 0.3l1 1.1l1 -1l1 0.6l1 -0.4l1 0.4l1 0.2l1 -0.7l1 0.8l1 -0.8l1 -0.1l1 0.3l1 0.1l1 -0.4l1 -1l1 1l1 0.5l1 0.1l1 -0.2l1 1.2l1 -1l1 -0.6l1 0.4l1 0.3l1 0.2l1 0.1l1 0l1 -0.4l1 1l1 0l1 -0.5l1 -0.1l1 0.6l1 -0.2l1 -0.5l1 1l1 -0.4l1 1.1l1 -2.4l1 2.1l1 -0.7l1 -0.1l1 0.6l1 1.1l1 -1.9l1 1l1 0l1 -0.3l1 -0.5l1 0.1l1 1.1l1 -1.1l1 0.3l1 0.3l1 0.3l1 0.4l1 0.2l1 -0.8l1 -0.3l1 0.9l1 -0.8l1 0.3l1 0.3l1 -0.2l1 0.3l1 0.6l1 0l1 0l1 -0.4l1 0.9l1 -0.1l1 -1.3l1 0.9l1 0.6l1 -0.5l1 0.6l1 -0.4l1 1.2l1 -1.2l1 -0.2l1 0.5l1 -0.3l1 0.2l1 -0.1l1 -0.1l1 1l1 -0.5l1 0.2l1 -0.8l1 1.4l1 -1.5l1 0.9l1 0.2l1 -0.7l1 1.6l1 -1l1 0.2l1 0.4l1 0.4l1 0l1 -0.5l1 0.5l1 -0.1l1 0.5l1 0.1l1 -0.5l1 0.1l1 0.3l1 -0.4l1 0.1l1 0.4l1 -0.4l1 0.1l1 -0.4l1 0.1l1 0.2l1 0.5l1 -1l1 0.5l1 0.3l1 0.2l1 -0.2l1 -0.3l1 0.6l1 -0.2l1 0.1l1 -0.5l1 0.5l1 -0.2l1 0l1 -0.4l1 0l1 -0.1l1 1.4l1 -0.8l1 1.2l1 -1.7l1 0.8l1 0.7l1 -1.1l1 0.1l1 0.8l1 0.2l1 -0.1l1 -0.2l1 0.4l1 1.2l1 -0.3l1 -0.3l1 -0.3l1 0.3l1 1.1l1 -0.3l1 -1.2l1 0.3l1 0.7l1 0.5l1 -1.5l1 0.7l1 0.6l1 -0.1l1 -1.2l1 0.4l1 0.5l1 -0.4l1 0.5l1 -0.3l1 0.6l1 -1.2l1 0.6l1 0.8l1 -1.1l1 0.7l1 -0.6l1 0.1l1 0.8l1 -0.2l1 0l1 -1l1 0.7l1 -0.1l1 0.4l1 0.1l1 -1.5l1 0.9l1 0.2l1 0.3l1 -0.5l1 0.1l1 0.3l1 0.2l1 0.7l1 -1.1l1 0.4l1 -0.5l1 1.1l1 -1.2l1 0.4l1 0.5l1 -1.1l1 -0.1l1 0.8l1 -0.4l1 1.1l1 -0.8l1 0l1 0.1l1 0.7l1 -0.8l1 1.2l1 0.2l1 -0.8l1 0.4l1 -0.1l1 0.7l1 -0.7l1 -0.2l1 -0.4l1 0.6l1 -0.2l1 -1.2l1 0.9l1 0.3l1 -0.1l1 0.6l1 0.1l1 -0.8l1 0.6l1 0.6l1 0.1l1 -0.1l1 0l1 -0.1l1 -0.4l1 0.8l1 -0.1l1 -0.6l1 0.8l1 -0.8l1 -0.4l1 0.1l1 0l1 0.5l1 -0.6l1 0.5l1 -0.3l1 0.6l1 -0.8l1 -0.4l1 -1l1 1.1l1 0.3l1 -0.3l1 0.1l1 0.2l1 -0.2l1 0.4l1 -0.6l1 0.4l1 -0.1l1 0.6l1 0.4l1 -0.1l1 -1.1l1 0l1 0.2l1 -0.6l1 -0.5l1 0.4l1 -0.4l1 -0.5l1 0.5l1 -0.4l1 -0.7l1 0.4l1 0.4l1 -0.2l1 -0.3l1 -0.5l1 0l1 -0.4l1 -0.1l1 -0.5l1 0.8l1 -0.9l1 0.8l1 -1.7l1 0.6l1 0.1l1 0.2l1 -0.1l1 -0.7l1 0.2l1 -0.2l1 -0.8l1 0.2l1 -1.4l1 0.1l1 0.2l1 -0.8l1 -0.3l1 -1.2l1 -0.2l1 -1.2l1 -0.9l1 -0.7l1 0.2l1 -1.4l1 0l1 -1.1l1 0.5l1 0.7l1 -0.1l1 0.1l1 -1.1l1 2.3l1 -1.3l1 -1.1l1 0.2l1 -0.7l1 0l1 -1.3l1 -0.4l1 -1.6l1 -3l1 -3.6l1 -6.1l1 -7l1 -5.7l1 -4.3l1 -3.2l1 -2.3l1 -2.3l1 -1.5l1 -2.6l1 -1.8l1 -2.2l1 -1.9l1 -0.2l1 -0.4l1 0.2l1 0.8l1 -0.7l1 -1.9l1 -3.7l1 -5l1 -8.1l1 -11.5l1 -14.1l1 -17.5l1 -21.5l1 -21.8l1 -25.8l1 -27.7l1 -24.7l1 -24.6l1 -21.4l1 -15.3l1 -7.7l1 -0.3l1 8.4l1 15.5l1 19l1 24.6l1 26.5l1 26.2l1 24.3l1 22.7l1 21.3l1 17.2l1 15l1 13.3l1 9.3l1 7.8l1 5.2l1 4.9l1 3.5l1 2.5l1 2.8l1 1.7l1 1l1 2.2l1 0.5l1 0.6l1 1.3l1 1.3l1 0.8l1 0.7l1 1.3l1 0.6l1 -0.1l1 0.9l1 2.7l1 0l1 -0.8l1 2.4l1 -0.7l1 0.7l1 0.6l1 0.8l1 1.2l1 0.5l1 0.4l1 0.1l1 0.3l1 0.2l1 0.1l1 1.7l1 -0.8l1 -0.2l1 1.6l1 -0.5l1 1.1l1 0.5l1 -0.3l1 1.2l1 0.8l1 -0.2l1 1.3l1 0.2l1 0.5l1 1l1 0l1 -0.3l1 0.2l1 1l1 -0.2l1 0.3l1 0l1 0.7l1 -0.1l1 0l1 0.6l1 0.3l1 1.1l1 -1.5l1 1.2l1 -0.7l1 0.5l1 0.5l1 -0.1l1 0.6l1 -0.2l1 0l1 0.3l1 -1.2l1 1.3l1 0.9l1 0.4l1 0l1 0.3l1 -0.3l1 1.2l1 -2.1l1 1.3l1 -0.8l1 0.8l1 0.2l1 -0.7l1 -0.3l1 0l1 0.3l1 -0.7l1 1.5l1 -0.9l1 0.7l1 -1l1 0.4l1 -0.6l1 -0.4l1 -1.1l1 -0.6l1 -4l1 -5l1 -7.1l1 -6.5l1 -0.6l1 5.5l1 8.3l1 5.1l1 3.8l1 2.1l1 0.6l1 -0.4l1 -0.3l1 -0.1l1 -0.7l1 -0.4l1 -2l1 -0.3l1 -1.9l1 -0.6l1 -2.1l1 -1.4l1 -0.3l1 -0.7l1 -0.7l1 -0.8l1 0.8l1 0.9l1 0.3l1 0.6l1 0.6l1 0.4l1 0.3l1 -0.6l1 -1.6l1 -1.9l1 -0.5l1 -3l1 -1.7l1 -2.6l1 -0.4l1 -2.2l1 0l1 1.3l1 1.6l1 1.2l1 2.6l1 3.8l1 2.9l1 2.2l1 2.1l1 1.2l1 2.9l1 -0.1l1 2.1l1 0l1 0.6l1 0.8l1 0.1l1 0.6l1 0.8l1 0l1 0l1 -0.1l1 0.4l1 0.8l1 -1.5l1 1.1l1 -0.2l1 0.6l1 -1.6l1 1.3l1 0l1 -0.7l1 0.8l1 -0.2l1 0.2l1 0.2l1 -0.7l1 0.3l1 0.4l1 1l1 -0.7l1 -0.9l1 1.1l1 -0.8l1 -0.1l1 0.1l1 0.1l1 0.1l1 -0.9l1 1l1 0.5l1 -0.6l1 0.8l1 -0.4l1 -0.4l1 1.1l1 -0.9l1 0.2l1 0.2l1 -0.3l1 -0.3l1 0.1l1 -1.2l1 -1.4l1 -0.7l1 -1.7l1 -2.3l1 -2.7l1 -3.1l1 -3.2l1 -5.9l1 -4.4l1 -3.6l1 -3.1l1 -2.6l1 -0.4l1 1.3l1 2.5l1 2.3l1 2.6l1 1.3l1 0.7l1 -0.3l1 -1.6l1 -1.8l1 -1.7l1 1.2l1 0.9l1 4.4l1 3.3l1 5.5l1 3.8l1 2.2l1 4l1 2.2l1 2.7l1 0.7l1 0.7l1 0.6l1 0l1 0.6l1 -0.5l1 0.3l1 1l1 -0.7l1 -0.6l1 1.1l1 -0.1l1 -0.6l1 0.8l1 0.3l1 -0.7l1 1.3l1 -0.9l1 1.2l1 0.2l1 0.6l1 -0.1l1 0.6l1 -0.3l1 0.2l1 0.1l1 0.1l1 0.5l1 -0.2l1 -0.1l1 0l1 -0.5l1 0.8l1 0.5l1 -1.5l1 1.4l1 -0.6l1 -0.1l1 0.4l1 1.4l1 -1l1 -0.9l1 -0.1l1 -1.6l1 1.1l1 0.2l1 -2.1l1 0.1l1 -1.5l1 -2.1l1 -4.7l1 -2.5l1 -5.6l1 -4.4l1 -2.8l1 1.1l1 4.4l1 4.1l1 3.8l1 4.2l1 2l1 2.8l1 1.3l1 -0.3l1 0.7l1 0.7l1 0.3l1 0l1 -1l1 -0.1l1 0.6l1 0l1 -1.4l1 -0.1l1 -0.9l1 -0.6l1 -1.7l1 -1.8l1 -2.9l1 -3.5l1 -5.4l1 -6.4l1 -7.2l1 -9.2l1 -9.7l1 -10.2l1 -11.6l1 -9l1 -8.9l1 -7.9l1 -2.7l1 -0.4l1 3.6l1 6.8l1 8.4l1 11.5l1 11.1l1 10.1l1 9.7l1 8.9l1 8.2l1 6.7l1 4.5l1 4.8l1 2.4l1 2.9l1 1.4l1 0.9l1 1.6l1 1.8l1 0.2l1 0.9l1 -0.1l1 0.3l1 -0.5l1 1.2l1 -0.9l1 1.1l1 0.5l1 -0.4l1 -0.8l1 1l1 -0.6l1 1.1l1 -0.3l1 -0.2l1 0.1l1 0l1 0.3l1 0l1 -0.4l1 -0.4l1 1.8l1 -0.1l1 -0.3l1 0.1l1 -1.5l1 0.8l1 0.8l1 -0.6l1 0.3l1 0.9l1 -0.4l1 -0.1l1 0.4l1 -0.2l1 0.2l1 0.2l1 0l1 0.4l1 0.8l1 -0.4l1 0.5l1 0.5l1 -0.5l1 -1.4l1 0.8l1 0.6l1 0.3l1 -1.1l1 1.7l1 -1.5l1 0.9l1 -0.4l1 0.1l1 -0.2l1 -0.2l1 0.1l1 0.7l1 -0.6l1 0.5l1 -0.4l1 1l1 -0.6l1 1.2l1 -0.6l1 -1.1l1 1l1 0.2l1 0.3l1 -0.2l1 0.8l1 -0.5l1 0.3l1 -0.5l1 0l1 0.1l1 -0.1l1 0.1l1 0.3l1 -0.5l1 0.8l1 0.4l1 -0.1l1 -0.7l1 -0.7l1 1.1l1 0l1 0.1l1 -0.6l1 0.2l1 0.3l1 -0.8l1 0.1l1 0.1l1 0.2l1 0.1l1 0.3l1 -0.5l1 -0.2l1 0.3l1 0l1 -0.3l1 0.3l1 -0.9l1 0.5l1 0.1l1 -0.5l1 0.2l1 -0.3l1 0.6l1 -0.8l1 -0.9l1 0.6l1 0l1 0.7l1 -0.5l1 -0.4l1 1l1 -0.8l1 0.3l1 0.2l1 0.2l1 -0.7l1 -0.7l1 0.1l1 -1.4l1 -1.1l1 -2l1 -2l1 -1.5l1 -1.2l1 -1.8l1 -2l1 -0.6l1 1.8l1 1.5l1 1.5l1 2.6l1 1.9l1 2l1 1l1 1.4l1 0l1 1.1l1 -0.5l1 0.6l1 0.9l1 0.4l1 -0.6l1 -0.2l1 1.3l1 -0.9l1 0l1 0.1l1 0.8l1 -1l1 0.3l1 -0.5l1 -0.6l1 0.6l1 -0.4l1 -0.1l1 -0.3l1 0.9l1 -0.9l1 0l1 -0.6l1 -0.3l1 -0.8l1 0.3l1 -0.4l1 -1.1l1 -0.2l1 -2.1l1 0.8l1 -1.4l1 -0.9l1 -0.8l1 -0.9l1 -0.3l1 -0.1l1 -0.9l1 0.3l1 0l1 -0.2l1 0.9l1 1l1 0.7l1 -0.2l1 1.8l1 0.3l1 0.7l1 0.6l1 1.4l1 -0.4l1 0.5l1 1.7l1 -0.8l1 0.7l1 0.5l1 -0.2l1 0.7l1 -0.2l1 0.6l1 -0.2l1 0.2l1 -0.2l1 0l1 0.3l1 -0.1l1 0.2l1 0.1l1 -0.5l1 -0.1l1 0.2l1 0.1l1 -0.4l1 0l1 0.1l1 -0.2l1 -0.5l1 0l1 -0.6l1 -1.8l1 0l1 -0.3l1 -0.1l1 -1.6l1 -1.3l1 -0.3l1 -0.6l1 -1l1 -0.1l1 -0.9l1 0.1l1 -0.5l1 0.6l1 1.3l1 0.3l1 0.1l1 0.4l1 2.1l1 0.1l1 1.2l1 0.1l1 1.4l1 0.2l1 -0.2l1 0.6l1 -0.2l1 0.2l1 -0.2l1 -0.4l1 -0.7l1 0.1l1 -2.3l1 -1l1 -1.6l1 0.1l1 0.3l1 -0.3l1 1.2l1 1l1 0.4l1 0.3l1 0.2l1 0.2l1 -0.9l1 -0.3l1 -1l1 -1l1 -1.2l1 -0.6l1 -0.1l1 1l1 -0.7l1 0.8l1 1.2l1 0.6l1 0.6l1 2.1l1 1.4l1 0l1 0.3l1 1.3l1 -0.6l1 1.6l1 -0.3l1 0.6l1 0.9l1 -0.6l1 0.2l1 0.4l1 0.7l1 -0.9l1 0.7l1 -0.2l1 -0.4l1 0.4l1 -0.3l1 0.2l1 0.2l1 0.8l1 -0.9l1 0.5l1 0l1 -0.4l1 -0.3l1 -0.4l1 0.4l1 -0.2l1 -0.7l1 -0.9l1 0.6l1 -0.1l1 -0.4l1 -0.2l1 0.3l1 -0.1l1 0l1 0.6l1 0.4l1 0.2l1 0.8l1 -0.5l1 0.2l1 0.7l1 1.4l1 -1.4l1 1.1l1 0l1 -1.1l1 1.3l1 -0.4l1 0.5l1 -0.8l1 0.8l1 -0.4l1 0.3l1 0.5l1 -0.7l1 0l1 0.8l1 -1.6l1 1.3l1 -1l1 1.2l1 -1.2l1 -0.4l1 1.4l1 -0.7l1 0.4l1 -0.3l1 -0.3l1 0.4l1 -0.1l1 -0.7l1 0.8l1 -0.1l1 0.1l1 -0.4l1 0.5l1 0l1 0.2l1 -0.1l1 -0.1l1 -0.4l1 1l1 -0.8l1 -0.4l1 -0.4l1 0.6l1 0.6l1 -0.2l1 -0.8l1 0.6l1 0.7l1 0l1 -0.6l1 0l1 0.9l1 -0.4l1 -1l1 -1.3l1 1l1 0.6l1 -0.8l1 0.4l1 -0.5l1 -0.2l1 -0.3l1 -0.1l1 -0.1l1 -0.6l1 -0.6l1 -0.4l1 0.7l1 -1.3l1 -0.3l1 0.8l1 -0.6l1 -1.5l1 0.1l1 0l1 0.4l1 0.8l1 -0.2l1 0l1 0.2l1 0.2l1 0.6l1 -0.5l1 1.3l1 0.3l1 -0.1l1 -0.5l1 1.5l1 0.7l1 -0.2l1 0.5l1 1.1l1 -0.9l1 -0.5l1 0.8l1 -0.9l1 0.4l1 -0.4l1 0.5l1 -0.1l1 0.5l1 -0.4l1 -0.7l1 0.2l1 1.8l1 -0.5l1 0l1 0.1l1 -1.3l1 1l1 0l1 -0.2l1 0.7l1 -0.3l1 0.5l1 -0.6l1 -0.4l1 0.3l1 -0.7l1 2.3l1 -2.4l1 0.2l1 -0.2l1 1l1 -1.2l1 -0.1l1 -0.6l1 0.4l1 -1.1l1 -0.2l1 0.3l1 -0.7l1 0.5l1 -0.8l1 -0.2l1 -0.5l1 -1l1 -0.8l1 -2l1 -0.8l1 -2.1l1 -2l1 -3.9l1 -3.9l1 -3.4l1 -2.3l1 -2.4l1 0l1 0.7l1 3.1l1 3.4l1 3.2l1 3.7l1 2.9l1 2.7l1 1.2l1 1.7l1 1.5l1 1l1 0.4l1 1l1 0.4l1 0.4l1 0.1l1 0.2l1 0.4l1 0.4l1 -0.3l1 0.4l1 -0.4l1 0.8l1 -1.3l1 0.6l1 0.4l1 -0.9l1 -0.4l1 1.5l1 0.2l1 0.3l1 0.3l1 -0.5l1 -0.7l1 0.2l1 0.5l1 -0.8l1 0.3l1 -0.1l1 0.4l1 -0.4l1 0.3l1 0.7l1 0.1l1 -0.3l1 0.2l1 0l1 0.3l1 -0.5l1 -0.9l1 1l1 -0.7l1 0.2l1 -0.4l1 -0.1l1 0.9l1 -0.6l1 1.1l1 0.1l1 -1.2l1 0.3l1 -0.1l1 -1.2l1 1l1 -0.1l1 -0.5l1 -0.9l1 -0.7l1 -0.5l1 -0.3l1 -0.3l1 -1.1l1 0l1 -0.5l1 -0.7l1 0.7l1 0.5l1 -0.3l1 0.2l1 0.1l1 0.4l1 0l1 1.2l1 0.1l1 1.1l1 -1.6l1 0.9l1 0.3l1 0.4l1 1.1l1 0.2l1 -0.1l1 -0.1l1 0.1l1 0.1l1 -0.2l1 0.8l1 0.6l1 -0.4l1 0.3l1 -0.8l1 -0.6l1 0.4l1 -0.1l1 -0.3l1 0.7l1 -0.5l1 -0.2l1 0.4l1 -0.8l1 0.5l1 0l1 -0.1l1 -0.1l1 0l1 -1.1l1 -0.1l1 -0.5l1 0l1 -0.1l1 0.4l1 0l1 -0.8l1 0l1 1.1l1 -0.8l1 0.7l1 1.3l1 -0.4l1 -0.3l1 0.5l1 0.1l1 0.5l1 -0.8l1 -0.1l1 0.7l1 -1l1 0.1l1 0.9l1 -1.5l1 -0.8l1 -0.9l1 -0.6l1 -1.1l1 -1l1 -0.4l1 -1.6l1 -1.3l1 -0.2l1 0.4l1 0.7l1 0l1 1.6l1 1.2l1 1.3l1 0.4l1 0.9l1 1.1l1 -0.2l1 1.3l1 0.6l1 -0.4l1 1.2l1 -1.1l1 1.1l1 -0.9l1 -0.7l1 0l1 -0.2l1 0.5l1 -1.1l1 0.3l1 -1l1 0.4l1 -0.3l1 0.6l1 -1l1 0.4l1 -0.4l1 0l1 -0.8l1 -0.7l1 -0.4l1 -0.4l1 0.3l1 -1.2l1 -0.8l1 0.1l1 -0.2l1 -0.6l1 0.9l1 -1.4l1 0.1l1 -0.3l1 1.4l1 0.6l1 -1.2l1 0.7l1 1.1l1 0.1l1 0l1 0.4l1 -1l1 3.1l1 -0.4l1 0.7l1 0.4l1 1l1 -0.7l1 1l1 0.2l1 0.2l1 1.5l1 -0.9l1 0.6l1 0.5l1 -0.4l1 -0.1l1 -0.6l1 0.7l1 -0.4l1 -0.1l1 -0.4l1 -0.5l1 0.6l1 -0.6l1 0.2l1 -0.6l1 -0.6l1 0.3l1 -0.9l1 1l1 -0.7l1 0l1 0.4l1 0.8l1 -0.6l1 1.5l1 -0.9l1 0.3l1 0.7l1 -0.1l1 0.8l1 0.4l1 0.2l1 -0.7l1 1.3l1 -0.4l1 -0.1l1 -0.2l1 0.7l1 -0.7l1 -0.2l1 -0.2l1 -0.2l1 0.6l1 -0.6l1 0.9l1 -0.7l1 -0.8l1 -0.2l1 0.3l1 -0.4l1 -0.8l1 -0.2l1 -1.4l1 -0.4l1 -1.6l1 0l1 -1.9l1 -0.6l1 -2.2l1 -1.4l1 0.1l1 -0.6l1 0.9l1 1l1 0.6l1 2.2l1 1.5l1 0.3l1 1.1l1 0.7l1 0.6l1 0.8l1 0.9l1 0.1l1 0.7l1 -0.8l1 0.3l1 -0.8l1 -0.1l1 -0.9l1 -0.7l1 -1.1l1 0.2l1 -1l1 0.8l1 -1.4l1 -1.1l1 0.5l1 0.3l1 -0.9l1 0.1l1 1.1l1 1.1l1 0.1l1 0.7l1 0.6l1 1.2l1 0.6l1 0.4l1 0.3l1 1.2l1 -0.5l1 0.7l1 0.6l1 -0.4l1 0.8l1 0.3l1 -0.2l1 0.1l1 -0.5l1 0.6l1 -0.8l1 0.5l1 0.2l1 -0.1l1 0.7l1 -0.1l1 -0.3l1 0.6l1 -1.4l1 0.4l1 0.5l1 0l1 -0.7l1 1.3l1 -0.6l1 0l1 0.2l1 0.7l1 -0.7l1 -0.4l1 0.1l1 0.9l1 -0.5l1 0.4l1 -0.9l1 0.1l1 0.3l1 -0.6l1 -0.4l1 1.4l1 -0.1l1 -0.5l1 -0.2l1 0.6l1 0.1l1 -0.3l1 0.2l1 -1l1 0.3l1 -0.7l1 -0.4l1 0.7l1 0.5l1 0.2l1 -0.1l1 0.1l1 -0.4l1 -0.7l1 0.7l1 1l1 -0.1l1 -1l1 0.9l1 -0.9l1 0.5l1 -0.7l1 0.6l1 -0.4l1 -0.2l1 0.1l1 -0.8l1 0.2l1 0l1 -0.7l1 0.4l1 -0.2l1 -0.1l1 -0.4l1 0.4l1 0l1 -0.3l1 1l1 -0.7l1 0.3l1 0.9l1 -0.4l1 0.5l1 0.2l1 1.2l1 -0.8l1 0l1 0.1l1 1.3l1 -0.5l1 0l1 0.5l1 -0.6l1 -0.7l1 0.8l1 -0.1l1 1.1l1 -0.9l1 -0.3l1 0l1 0l1 -0.7l1 0.7l1 -0.1l1 -0.5l1 0.8l1 0.1l1 -0.5l1 0.5l1 0l1 -0.4l1 0.5l1 -1.3l1 1.9l1 -0.8l1 0.5l1 0l1 -1.8l1 1.4l1 -0.4l1 -0.3l1 0.1l1 -0.1l1 -0.6l1 1l1 -0.5l1 0.9l1 -0.8l1 -0.9l1 2l1 -1.3l1 -0.1l1 0.4l1 -0.7l1 2.1l1 -0.6l1 -0.6l1 1.2l1 -1.4l1 0.7l1 -0.1l1 0.3l1 -0.4l1 0.8l1 -0.7l1 0.9l1 -0.1l1 -0.8l1 -0.3l1 0.7l1 -2l1 1.2l1 -0.4l1 0.7l1 -0.9l1 -0.3l1 -0.5l1 -0.2l1 1.2l1 -0.8l1 0.3l1 -0.2l1 0.3l1 -0.8l1 0l1 0.7l1 -1.2l1 1l1 0.2l1 -0.2l1 -0.2l1 0.4l1 0l1 0.4l1 0l1 0.5l1 -0.7l1 0.1l1 -0.1l1 1.1l1 -0.2l1 -1l1 0.9l1 -0.3l1 0.2l1 0.8l1 0l1 -0.3l1 -0.4l1 0.8l1 0.6l1 -0.8l1 1.3l1 -1.7l1 1.5l1 -1.1l1 0.2l1 -0.3l1 1l1 -0.1l1 -1.1l1 0.3l1 0l1 0l1 0.2l1 0.2l1 -0.6l1 -0.3l1 1.2l1 -0.1l1 -0.4l1 0.9l1 -0.2l1 -0.2l1 0.4l1 0.2l1 -0.7l1 -0.5l1 0.5l1 0l1 -0.3l1 -0.5l1 -0.2l1 0.3l1 0.3l1 -0.7l1 0.7l1 0l1 -0.7l1 0.3l1 0.2l1 0l1 0.2l1 -0.1l1 0.9l1 -0.8l1 -0.6l1 -0.6l1 0.4l1 -0.7l1 0.5l1 0.1l1 -0.7l1 0l1 -1.2l1 0.4l1 -1.2l1 0.5l1 -0.7l1 0.6l1 -1.2l1 -0.6l1 -0.2l1 -0.2l1 -0.3l1 0.3l1 -0.8l1 0.4l1 -0.6l1 0.5l1 0.4l1 -0.3l1 1l1 0l1 0.4l1 0.2l1 0.6l1 0.3l1 0l1 -0.1l1 0.1l1 0.8l1 0.2l1 -0.6l1 1.2l1 0.7l1 -0.1l1 -0.2l1 -0.1l1 0.6l1 -0.1l1 1.6l1 -1.3l1 0.7l1 0.1l1 0.5l1 0.1l1 -0.6l1 0.8l1 -0.7l1 0.3l1 1.2l1 -0.4l1 -0.2l1 -0.2l1 -0.2l1 0.3l1 0.3l1 -0.7l1 0.5l1 0.7l1 -0.6l1 0.1l1 0.2l1 -0.7l1 -0.1l1 1.4l1 -1.9l1 1.5l1 -0.5l1 0.1l1 0.4l1 -0.4l1 -0.2l1 0.3l1 -0.1l1 0.4l1 0.1l1 -0.7l1 -0.5l1 0.2l1 1l1 -0.9l1 -0.1l1 0l1 0.3l1 0.5l1 -0.5l1 0.4l1 -0.7l1 0.5l1 -0.4l1 0.6l1 0.4l1 0.4l1 -0.6l1 0.1l1 0.2l1 -0.5l1 0.6l1 0.1l1 -0.2l1 0.2l1 0.4l1 -1.2l1 0l1 0.8l1 -1l1 0.1l1 1l1 0.2l1 -1.1l1 -0.6l1 0.6l1 -0.4l1 0.7l1 0.1l1 0.2l1 -0.6l1 0.7l1 -0.2l1 -0.3l1 -0.1l1 -0.1l1 -0.5l1 0.5l1 0.7l1 -0.9l1 0.6l1 -0.1l1 0.2l1 -0.4l1 0.1l1 -1.3l1 1.3l1 -0.5l1 0.3l1 0l1 0.3l1 0.1l1 -0.2l1 0.2l1 0.3l1 -0.3l1 0.5l1 -0.5l1 -0.2l1 -0.1l1 0.3l1 -0.1l1 0l1 -1.3l1 1.1l1 -0.5l1 1l1 -1l1 0.8l1 -0.3l1 0.1l1 0.2l1 -0.5l1 -0.6l1 0.4l1 0.6l1 -1.3l1 0.3l1 0.5l1 -0.6l1 0.3l1 0.5l1 -0.4l1 1l1 -1l1 0.1l1 0.4l1 -0.9l1 1.7l1 -1.5l1 0.2l1 0.3l1 -0.7l1 0.8l1 -0.1l1 -0.1l1 -1.2l1 1.5l1 -0.6l1 0.2l1 0l1 0.8l1 -1.5l1 1.5l1 -0.5l1 -0.8l1 1.4l1 -1l1 0.5l1 -0.3l1 0.7l1 -1.3l1 0.8l1 0.4l1 -0.8l1 -0.5l1 0.8l1 -0.4l1 1l1 -0.7l1 0.5l1 -0.4l1 0.1l1 -0.4l1 0.8l1 0.4l1 0.3l1 -0.6l1 0.5l1 0.2l1 -1.3l1 0.1l1 -0.1l1 0.1l1 -0.6l1 0.1l1 0.1l1 -0.9l1 0.3l1 -0.4l1 0.3l1 -0.3l1 0.1l1 1.2l1 -0.3l1 -0.1l1 -0.2l1 0l1 0M281 1235.4l1 0l1 0l1 0.7l1 -0.1l1 0.4l1 -0.9l1 -0.1l1 0.2l1 -0.2l1 1.2l1 -0.4l1 -1.3l1 0.9l1 0.4l1 -1l1 1.5l1 -0.7l1 -0.2l1 0.5l1 -0.2l1 0.9l1 -0.2l1 -0.4l1 -0.2l1 0.4l1 -0.5l1 0.6l1 -0.4l1 0.5l1 0.3l1 -0.4l1 0.1l1 0.1l1 0.3l1 0l1 -0.1l1 0l1 -0.7l1 -0.4l1 0.4l1 2.3l1 -1.2l1 -0.2l1 0.8l1 0l1 0.5l1 0.3l1 -0.5l1 0.3l1 1.1l1 -1l1 0.6l1 -0.4l1 0.4l1 0.2l1 -0.7l1 0.8l1 -0.8l1 -0.1l1 0.3l1 0.1l1 -0.4l1 -1l1 1l1 0.5l1 0.1l1 -0.2l1 1.2l1 -1l1 -0.6l1 0.4l1 0.3l1 0.2l1 0.1l1 0l1 -0.4l1 1l1 0l1 -0.5l1 -0.1l1 0.6l1 -0.2l1 -0.5l1 1l1 -0.4l1 1.1l1 -2.4l1 2.1l1 -0.7l1 -0.1l1 0.6l1 1.1l1 -1.9l1 1l1 0l1 -0.3l1 -0.5l1 0.1l1 1.1l1 -1.1l1 0.3l1 0.3l1 0.3l1 0.4l1 0.2l1 -0.8l1 -0.3l1 0.9l1 -0.8l1 0.3l1 0.3l1 -0.2l1 0.3l1 0.6l1 0l1 0l1 -0.4l1 0.9l1 -0.1l1 -1.3l1 0.9l1 0.6l1 -0.5l1 0.6l1 -0.4l1 1.2l1 -1.2l1 -0.2l1 0.5l1 -0.3l1 0.2l1 -0.1l1 -0.1l1 1l1 -0.5l1 0.2l1 -0.8l1 1.4l1 -1.5l1 0.9l1 0.2l1 -0.7l1 1.6l1 -1l1 0.2l1 0.4l1 0.4l1 0l1 -0.5l1 0.5l1 -0.1l1 0.5l1 0.1l1 -0.5l1 0.1l1 0.3l1 -0.4l1 0.1l1 0.4l1 -0.4l1 0.1l1 -0.4l1 0.1l1 0.2l1 0.5l1 -1l1 0.5l1 0.3l1 0.2l1 -0.2l1 -0.3l1 0.6l1 -0.2l1 0.1l1 -0.5l1 0.5l1 -0.2l1 0l1 -0.4l1 0l1 -0.1l1 1.4l1 -0.8l1 1.2l1 -1.7l1 0.8l1 0.7l1 -1.1l1 0.1l1 0.8l1 0.2l1 -0.1l1 -0.2l1 0.4l1 1.2l1 -0.3l1 -0.3l1 -0.3l1 0.3l1 1.1l1 -0.3l1 -1.2l1 0.3l1 0.7l1 0.5l1 -1.5l1 0.7l1 0.6l1 -0.1l1 -1.2l1 0.4l1 0.5l1 -0.4l1 0.5l1 -0.3l1 0.6l1 -1.2l1 0.6l1 0.8l1 -1.1l1 0.7l1 -0.6l1 0.1l1 0.8l1 -0.2l1 0l1 -1l1 0.7l1 -0.1l1 0.4l1 0.1l1 -1.5l1 0.9l1 0.2l1 0.3l1 -0.5l1 0.1l1 0.3l1 0.2l1 0.7l1 -1.1l1 0.4l1 -0.5l1 1.1l1 -1.2l1 0.4l1 0.5l1 -1.1l1 -0.1l1 0.8l1 -0.4l1 1.1l1 -0.8l1 0l1 0.1l1 0.7l1 -0.8l1 1.2l1 0.2l1 -0.8l1 0.4l1 -0.1l1 0.7l1 -0.7l1 -0.2l1 -0.4l1 0.6l1 -0.2l1 -1.2l1 0.9l1 0.3l1 -0.1l1 0.6l1 0.1l1 -0.8l1 0.6l1 0.6l1 0.1l1 -0.1l1 0l1 -0.1l1 -0.4l1 0.8l1 -0.1l1 -0.6l1 0.8l1 -0.8l1 -0.4l1 0.1l1 0l1 0.5l1 -0.6l1 0.5l1 -0.3l1 0.6l1 -0.8l1 -0.4l1 -1l1 1.1l1 0.3l1 -0.3l1 0.1l1 0.2l1 -0.2l1 0.4l1 -0.6l1 0.4l1 -0.1l1 0.6l1 0.4l1 -0.1l1 -1.1l1 0l1 0.2l1 -0.6l1 -0.5l1 0.4l1 -0.4l1 -0.5l1 0.5l1 -0.4l1 -0.7l1 0.4l1 0.4l1 -0.2l1 -0.3l1 -0.5l1 0l1 -0.4l1 -0.1l1 -0.5l1 0.8l1 -0.9l1 0.8l1 -1.7l1 0.6l1 0.1l1 0.2l1 -0.1l1 -0.7l1 0.2l1 -0.2l1 -0.8l1 0.2l1 -1.4l1 0.1l1 0.2l1 -0.8l1 -0.3l1 -1.2l1 -0.2l1 -1.2l1 -0.9l1 -0.7l1 0.2l1 -1.4l1 0l1 -1.1l1 0.5l1 0.7l1 -0.1l1 0.1l1 -1.1l1 2.3l1 -1.3l1 -1.1l1 0.2l1 -0.7l1 0l1 -1.3l1 -0.4l1 -1.6l1 -3l1 -3.6l1 -6.1l1 -7l1 -5.7l1 -4.3l1 -3.2l1 -2.3l1 -2.3l1 -1.5l1 -2.6l1 -1.8l1 -2.2l1 -1.9l1 -0.2l1 -0.4l1 0.2l1 0.8l1 -0.7l1 -1.9l1 -3.7l1 -5l1 -8.1l1 -11.5l1 -14.1l1 -17.5l1 -21.5l1 -21.8l1 -25.8l1 -27.7l1 -24.7l1 -24.6l1 -21.4l1 -15.3l1 -7.7l1 -0.3l1 8.4l1 15.5l1 19l1 24.6l1 26.5l1 26.2l1 24.3l1 22.7l1 21.3l1 17.2l1 15l1 13.3l1 9.3l1 7.8l1 5.2l1 4.9l1 3.5l1 2.5l1 2.8l1 1.7l1 1l1 2.2l1 0.5l1 0.6l1 1.3l1 1.3l1 0.8l1 0.7l1 1.3l1 0.6l1 -0.1l1 0.9l1 2.7l1 0l1 -0.8l1 2.4l1 -0.7l1 0.7l1 0.6l1 0.8l1 1.2l1 0.5l1 0.4l1 0.1l1 0.3l1 0.2l1 0.1l1 1.7l1 -0.8l1 -0.2l1 1.6l1 -0.5l1 1.1l1 0.5l1 -0.3l1 1.2l1 0.8l1 -0.2l1 1.3l1 0.2l1 0.5l1 1l1 0l1 -0.3l1 0.2l1 1l1 -0.2l1 0.3l1 0l1 0.7l1 -0.1l1 0l1 0.6l1 0.3l1 1.1l1 -1.5l1 1.2l1 -0.7l1 0.5l1 0.5l1 -0.1l1 0.6l1 -0.2l1 0l1 0.3l1 -1.2l1 1.3l1 0.9l1 0.4l1 0l1 0.3l1 -0.3l1 1.2l1 -2.1l1 1.3l1 -0.8l1 0.8l1 0.2l1 -0.7l1 -0.3l1 0l1 0.3l1 -0.7l1 1.5l1 -0.9l1 0.7l1 -1l1 0.4l1 -0.6l1 -0.4l1 -1.1l1 -0.6l1 -4l1 -5l1 -7.1l1 -6.5l1 -0.6l1 5.5l1 8.3l1 5.1l1 3.8l1 2.1l1 0.6l1 -0.4l1 -0.3l1 -0.1l1 -0.7l1 -0.4l1 -2l1 -0.3l1 -1.9l1 -0.6l1 -2.1l1 -1.4l1 -0.3l1 -0.7l1 -0.7l1 -0.8l1 0.8l1 0.9l1 0.3l1 0.6l1 0.6l1 0.4l1 0.3l1 -0.6l1 -1.6l1 -1.9l1 -0.5l1 -3l1 -1.7l1 -2.6l1 -0.4l1 -2.2l1 0l1 1.3l1 1.6l1 1.2l1 2.6l1 3.8l1 2.9l1 2.2l1 2.1l1 1.2l1 2.9l1 -0.1l1 2.1l1 0l1 0.6l1 0.8l1 0.1l1 0.6l1 0.8l1 0l1 0l1 -0.1l1 0.4l1 0.8l1 -1.5l1 1.1l1 -0.2l1 0.6l1 -1.6l1 1.3l1 0l1 -0.7l1 0.8l1 -0.2l1 0.2l1 0.2l1 -0.7l1 0.3l1 0.4l1 1l1 -0.7l1 -0.9l1 1.1l1 -0.8l1 -0.1l1 0.1l1 0.1l1 0.1l1 -0.9l1 1l1 0.5l1 -0.6l1 0.8l1 -0.4l1 -0.4l1 1.1l1 -0.9l1 0.2l1 0.2l1 -0.3l1 -0.3l1 0.1l1 -1.2l1 -1.4l1 -0.7l1 -1.7l1 -2.3l1 -2.7l1 -3.1l1 -3.2l1 -5.9l1 -4.4l1 -3.6l1 -3.1l1 -2.6l1 -0.4l1 1.3l1 2.5l1 2.3l1 2.6l1 1.3l1 0.7l1 -0.3l1 -1.6l1 -1.8l1 -1.7l1 1.2l1 0.9l1 4.4l1 3.3l1 5.5l1 3.8l1 2.2l1 4l1 2.2l1 2.7l1 0.7l1 0.7l1 0.6l1 0l1 0.6l1 -0.5l1 0.3l1 1l1 -0.7l1 -0.6l1 1.1l1 -0.1l1 -0.6l1 0.8l1 0.3l1 -0.7l1 1.3l1 -0.9l1 1.2l1 0.2l1 0.6l1 -0.1l1 0.6l1 -0.3l1 0.2l1 0.1l1 0.1l1 0.5l1 -0.2l1 -0.1l1 0l1 -0.5l1 0.8l1 0.5l1 -1.5l1 1.4l1 -0.6l1 -0.1l1 0.4l1 1.4l1 -1l1 -0.9l1 -0.1l1 -1.6l1 1.1l1 0.2l1 -2.1l1 0.1l1 -1.5l1 -2.1l1 -4.7l1 -2.5l1 -5.6l1 -4.4l1 -2.8l1 1.1l1 4.4l1 4.1l1 3.8l1 4.2l1 2l1 2.8l1 1.3l1 -0.3l1 0.7l1 0.7l1 0.3l1 0l1 -1l1 -0.1l1 0.6l1 0l1 -1.4l1 -0.1l1 -0.9l1 -0.6l1 -1.7l1 -1.8l1 -2.9l1 -3.5l1 -5.4l1 -6.4l1 -7.2l1 -9.2l1 -9.7l1 -10.2l1 -11.6l1 -9l1 -8.9l1 -7.9l1 -2.7l1 -0.4l1 3.6l1 6.8l1 8.4l1 11.5l1 11.1l1 10.1l1 9.7l1 8.9l1 8.2l1 6.7l1 4.5l1 4.8l1 2.4l1 2.9l1 1.4l1 0.9l1 1.6l1 1.8l1 0.2l1 0.9l1 -0.1l1 0.3l1 -0.5l1 1.2l1 -0.9l1 1.1l1 0.5l1 -0.4l1 -0.8l1 1l1 -0.6l1 1.1l1 -0.3l1 -0.2l1 0.1l1 0l1 0.3l1 0l1 -0.4l1 -0.4l1 1.8l1 -0.1l1 -0.3l1 0.1l1 -1.5l1 0.8l1 0.8l1 -0.6l1 0.3l1 0.9l1 -0.4l1 -0.1l1 0.4l1 -0.2l1 0.2l1 0.2l1 0l1 0.4l1 0.8l1 -0.4l1 0.5l1 0.5l1 -0.5l1 -1.4l1 0.8l1 0.6l1 0.3l1 -1.1l1 1.7l1 -1.5l1 0.9l1 -0.4l1 0.1l1 -0.2l1 -0.2l1 0.1l1 0.7l1 -0.6l1 0.5l1 -0.4l1 1l1 -0.6l1 1.2l1 -0.6l1 -1.1l1 1l1 0.2l1 0.3l1 -0.2l1 0.8l1 -0.5l1 0.3l1 -0.5l1 0l1 0.1l1 -0.1l1 0.1l1 0.3l1 -0.5l1 0.8l1 0.4l1 -0.1l1 -0.7l1 -0.7l1 1.1l1 0l1 0.1l1 -0.6l1 0.2l1 0.3l1 -0.8l1 0.1l1 0.1l1 0.2l1 0.1l1 0.3l1 -0.5l1 -0.2l1 0.3l1 0l1 -0.3l1 0.3l1 -0.9l1 0.5l1 0.1l1 -0.5l1 0.2l1 -0.3l1 0.6l1 -0.8l1 -0.9l1 0.6l1 0l1 0.7l1 -0.5l1 -0.4l1 1l1 -0.8l1 0.3l1 0.2l1 0.2l1 -0.7l1 -0.7l1 0.1l1 -1.4l1 -1.1l1 -2l1 -2l1 -1.5l1 -1.2l1 -1.8l1 -2l1 -0.6l1 1.8l1 1.5l1 1.5l1 2.6l1 1.9l1 2l1 1l1 1.4l1 0l1 1.1l1 -0.5l1 0.6l1 0.9l1 0.4l1 -0.6l1 -0.2l1 1.3l1 -0.9l1 0l1 0.1l1 0.8l1 -1l1 0.3l1 -0.5l1 -0.6l1 0.6l1 -0.4l1 -0.1l1 -0.3l1 0.9l1 -0.9l1 0l1 -0.6l1 -0.3l1 -0.8l1 0.3l1 -0.4l1 -1.1l1 -0.2l1 -2.1l1 0.8l1 -1.4l1 -0.9l1 -0.8l1 -0.9l1 -0.3l1 -0.1l1 -0.9l1 0.3l1 0l1 -0.2l1 0.9l1 1l1 0.7l1 -0.2l1 1.8l1 0.3l1 0.7l1 0.6l1 1.4l1 -0.4l1 0.5l1 1.7l1 -0.8l1 0.7l1 0.5l1 -0.2l1 0.7l1 -0.2l1 0.6l1 -0.2l1 0.2l1 -0.2l1 0l1 0.3l1 -0.1l1 0.2l1 0.1l1 -0.5l1 -0.1l1 0.2l1 0.1l1 -0.4l1 0l1 0.1l1 -0.2l1 -0.5l1 0l1 -0.6l1 -1.8l1 0l1 -0.3l1 -0.1l1 -1.6l1 -1.3l1 -0.3l1 -0.6l1 -1l1 -0.1l1 -0.9l1 0.1l1 -0.5l1 0.6l1 1.3l1 0.3l1 0.1l1 0.4l1 2.1l1 0.1l1 1.2l1 0.1l1 1.4l1 0.2l1 -0.2l1 0.6l1 -0.2l1 0.2l1 -0.2l1 -0.4l1 -0.7l1 0.1l1 -2.3l1 -1l1 -1.6l1 0.1l1 0.3l1 -0.3l1 1.2l1 1l1 0.4l1 0.3l1 0.2l1 0.2l1 -0.9l1 -0.3l1 -1l1 -1l1 -1.2l1 -0.6l1 -0.1l1 1l1 -0.7l1 0.8l1 1.2l1 0.6l1 0.6l1 2.1l1 1.4l1 0l1 0.3l1 1.3l1 -0.6l1 1.6l1 -0.3l1 0.6l1 0.9l1 -0.6l1 0.2l1 0.4l1 0.7l1 -0.9l1 0.7l1 -0.2l1 -0.4l1 0.4l1 -0.3l1 0.2l1 0.2l1 0.8l1 -0.9l1 0.5l1 0l1 -0.4l1 -0.3l1 -0.4l1 0.4l1 -0.2l1 -0.7l1 -0.9l1 0.6l1 -0.1l1 -0.4l1 -0.2l1 0.3l1 -0.1l1 0l1 0.6l1 0.4l1 0.2l1 0.8l1 -0.5l1 0.2l1 0.7l1 1.4l1 -1.4l1 1.1l1 0l1 -1.1l1 1.3l1 -0.4l1 0.5l1 -0.8l1 0.8l1 -0.4l1 0.3l1 0.5l1 -0.7l1 0l1 0.8l1 -1.6l1 1.3l1 -1l1 1.2l1 -1.2l1 -0.4l1 1.4l1 -0.7l1 0.4l1 -0.3l1 -0.3l1 0.4l1 -0.1l1 -0.7l1 0.8l1 -0.1l1 0.1l1 -0.4l1 0.5l1 0l1 0.2l1 -0.1l1 -0.1l1 -0.4l1 1l1 -0.8l1 -0.4l1 -0.4l1 0.6l1 0.6l1 -0.2l1 -0.8l1 0.6l1 0.7l1 0l1 -0.6l1 0l1 0.9l1 -0.4l1 -1l1 -1.3l1 1l1 0.6l1 -0.8l1 0.4l1 -0.5l1 -0.2l1 -0.3l1 -0.1l1 -0.1l1 -0.6l1 -0.6l1 -0.4l1 0.7l1 -1.3l1 -0.3l1 0.8l1 -0.6l1 -1.5l1 0.1l1 0l1 0.4l1 0.8l1 -0.2l1 0l1 0.2l1 0.2l1 0.6l1 -0.5l1 1.3l1 0.3l1 -0.1l1 -0.5l1 1.5l1 0.7l1 -0.2l1 0.5l1 1.1l1 -0.9l1 -0.5l1 0.8l1 -0.9l1 0.4l1 -0.4l1 0.5l1 -0.1l1 0.5l1 -0.4l1 -0.7l1 0.2l1 1.8l1 -0.5l1 0l1 0.1l1 -1.3l1 1l1 0l1 -0.2l1 0.7l1 -0.3l1 0.5l1 -0.6l1 -0.4l1 0.3l1 -0.7l1 2.3l1 -2.4l1 0.2l1 -0.2l1 1l1 -1.2l1 -0.1l1 -0.6l1 0.4l1 -1.1l1 -0.2l1 0.3l1 -0.7l1 0.5l1 -0.8l1 -0.2l1 -0.5l1 -1l1 -0.8l1 -2l1 -0.8l1 -2.1l1 -2l1 -3.9l1 -3.9l1 -3.4l1 -2.3l1 -2.4l1 0l1 0.7l1 3.1l1 3.4l1 3.2l1 3.7l1 2.9l1 2.7l1 1.2l1 1.7l1 1.5l1 1l1 0.4l1 1l1 0.4l1 0.4l1 0.1l1 0.2l1 0.4l1 0.4l1 -0.3l1 0.4l1 -0.4l1 0.8l1 -1.3l1 0.6l1 0.4l1 -0.9l1 -0.4l1 1.5l1 0.2l1 0.3l1 0.3l1 -0.5l1 -0.7l1 0.2l1 0.5l1 -0.8l1 0.3l1 -0.1l1 0.4l1 -0.4l1 0.3l1 0.7l1 0.1l1 -0.3l1 0.2l1 0l1 0.3l1 -0.5l1 -0.9l1 1l1 -0.7l1 0.2l1 -0.4l1 -0.1l1 0.9l1 -0.6l1 1.1l1 0.1l1 -1.2l1 0.3l1 -0.1l1 -1.2l1 1l1 -0.1l1 -0.5l1 -0.9l1 -0.7l1 -0.5l1 -0.3l1 -0.3l1 -1.1l1 0l1 -0.5l1 -0.7l1 0.7l1 0.5l1 -0.3l1 0.2l1 0.1l1 0.4l1 0l1 1.2l1 0.1l1 1.1l1 -1.6l1 0.9l1 0.3l1 0.4l1 1.1l1 0.2l1 -0.1l1 -0.1l1 0.1l1 0.1l1 -0.2l1 0.8l1 0.6l1 -0.4l1 0.3l1 -0.8l1 -0.6l1 0.4l1 -0.1l1 -0.3l1 0.7l1 -0.5l1 -0.2l1 0.4l1 -0.8l1 0.5l1 0l1 -0.1l1 -0.1l1 0l1 -1.1l1 -0.1l1 -0.5l1 0l1 -0.1l1 0.4l1 0l1 -0.8l1 0l1 1.1l1 -0.8l1 0.7l1 1.3l1 -0.4l1 -0.3l1 0.5l1 0.1l1 0.5l1 -0.8l1 -0.1l1 0.7l1 -1l1 0.1l1 0.9l1 -1.5l1 -0.8l1 -0.9l1 -0.6l1 -1.1l1 -1l1 -0.4l1 -1.6l1 -1.3l1 -0.2l1 0.4l1 0.7l1 0l1 1.6l1 1.2l1 1.3l1 0.4l1 0.9l1 1.1l1 -0.2l1 1.3l1 0.6l1 -0.4l1 1.2l1 -1.1l1 1.1l1 -0.9l1 -0.7l1 0l1 -0.2l1 0.5l1 -1.1l1 0.3l1 -1l1 0.4l1 -0.3l1 0.6l1 -1l1 0.4l1 -0.4l1 0l1 -0.8l1 -0.7l1 -0.4l1 -0.4l1 0.3l1 -1.2l1 -0.8l1 0.1l1 -0.2l1 -0.6l1 0.9l1 -1.4l1 0.1l1 -0.3l1 1.4l1 0.6l1 -1.2l1 0.7l1 1.1l1 0.1l1 0l1 0.4l1 -1l1 3.1l1 -0.4l1 0.7l1 0.4l1 1l1 -0.7l1 1l1 0.2l1 0.2l1 1.5l1 -0.9l1 0.6l1 0.5l1 -0.4l1 -0.1l1 -0.6l1 0.7l1 -0.4l1 -0.1l1 -0.4l1 -0.5l1 0.6l1 -0.6l1 0.2l1 -0.6l1 -0.6l1 0.3l1 -0.9l1 1l1 -0.7l1 0l1 0.4l1 0.8l1 -0.6l1 1.5l1 -0.9l1 0.3l1 0.7l1 -0.1l1 0.8l1 0.4l1 0.2l1 -0.7l1 1.3l1 -0.4l1 -0.1l1 -0.2l1 0.7l1 -0.7l1 -0.2l1 -0.2l1 -0.2l1 0.6l1 -0.6l1 0.9l1 -0.7l1 -0.8l1 -0.2l1 0.3l1 -0.4l1 -0.8l1 -0.2l1 -1.4l1 -0.4l1 -1.6l1 0l1 -1.9l1 -0.6l1 -2.2l1 -1.4l1 0.1l1 -0.6l1 0.9l1 1l1 0.6l1 2.2l1 1.5l1 0.3l1 1.1l1 0.7l1 0.6l1 0.8l1 0.9l1 0.1l1 0.7l1 -0.8l1 0.3l1 -0.8l1 -0.1l1 -0.9l1 -0.7l1 -1.1l1 0.2l1 -1l1 0.8l1 -1.4l1 -1.1l1 0.5l1 0.3l1 -0.9l1 0.1l1 1.1l1 1.1l1 0.1l1 0.7l1 0.6l1 1.2l1 0.6l1 0.4l1 0.3l1 1.2l1 -0.5l1 0.7l1 0.6l1 -0.4l1 0.8l1 0.3l1 -0.2l1 0.1l1 -0.5l1 0.6l1 -0.8l1 0.5l1 0.2l1 -0.1l1 0.7l1 -0.1l1 -0.3l1 0.6l1 -1.4l1 0.4l1 0.5l1 0l1 -0.7l1 1.3l1 -0.6l1 0l1 0.2l1 0.7l1 -0.7l1 -0.4l1 0.1l1 0.9l1 -0.5l1 0.4l1 -0.9l1 0.1l1 0.3l1 -0.6l1 -0.4l1 1.4l1 -0.1l1 -0.5l1 -0.2l1 0.6l1 0.1l1 -0.3l1 0.2l1 -1l1 0.3l1 -0.7l1 -0.4l1 0.7l1 0.5l1 0.2l1 -0.1l1 0.1l1 -0.4l1 -0.7l1 0.7l1 1l1 -0.1l1 -1l1 0.9l1 -0.9l1 0.5l1 -0.7l1 0.6l1 -0.4l1 -0.2l1 0.1l1 -0.8l1 0.2l1 0l1 -0.7l1 0.4l1 -0.2l1 -0.1l1 -0.4l1 0.4l1 0l1 -0.3l1 1l1 -0.7l1 0.3l1 0.9l1 -0.4l1 0.5l1 0.2l1 1.2l1 -0.8l1 0l1 0.1l1 1.3l1 -0.5l1 0l1 0.5l1 -0.6l1 -0.7l1 0.8l1 -0.1l1 1.1l1 -0.9l1 -0.3l1 0l1 0l1 -0.7l1 0.7l1 -0.1l1 -0.5l1 0.8l1 0.1l1 -0.5l1 0.5l1 0l1 -0.4l1 0.5l1 -1.3l1 1.9l1 -0.8l1 0.5l1 0l1 -1.8l1 1.4l1 -0.4l1 -0.3l1 0.1l1 -0.1l1 -0.6l1 1l1 -0.5l1 0.9l1 -0.8l1 -0.9l1 2l1 -1.3l1 -0.1l1 0.4l1 -0.7l1 2.1l1 -0.6l1 -0.6l1 1.2l1 -1.4l1 0.7l1 -0.1l1 0.3l1 -0.4l1 0.8l1 -0.7l1 0.9l1 -0.1l1 -0.8l1 -0.3l1 0.7l1 -2l1 1.2l1 -0.4l1 0.7l1 -0.9l1 -0.3l1 -0.5l1 -0.2l1 1.2l1 -0.8l1 0.3l1 -0.2l1 0.3l1 -0.8l1 0l1 0.7l1 -1.2l1 1l1 0.2l1 -0.2l1 -0.2l1 0.4l1 0l1 0.4l1 0l1 0.5l1 -0.7l1 0.1l1 -0.1l1 1.1l1 -0.2l1 -1l1 0.9l1 -0.3l1 0.2l1 0.8l1 0l1 -0.3l1 -0.4l1 0.8l1 0.6l1 -0.8l1 1.3l1 -1.7l1 1.5l1 -1.1l1 0.2l1 -0.3l1 1l1 -0.1l1 -1.1l1 0.3l1 0l1 0l1 0.2l1 0.2l1 -0.6l1 -0.3l1 1.2l1 -0.1l1 -0.4l1 0.9l1 -0.2l1 -0.2l1 0.4l1 0.2l1 -0.7l1 -0.5l1 0.5l1 0l1 -0.3l1 -0.5l1 -0.2l1 0.3l1 0.3l1 -0.7l1 0.7l1 0l1 -0.7l1 0.3l1 0.2l1 0l1 0.2l1 -0.1l1 0.9l1 -0.8l1 -0.6l1 -0.6l1 0.4l1 -0.7l1 0.5l1 0.1l1 -0.7l1 0l1 -1.2l1 0.4l1 -1.2l1 0.5l1 -0.7l1 0.6l1 -1.2l1 -0.6l1 -0.2l1 -0.2l1 -0.3l1 0.3l1 -0.8l1 0.4l1 -0.6l1 0.5l1 0.4l1 -0.3l1 1l1 0l1 0.4l1 0.2l1 0.6l1 0.3l1 0l1 -0.1l1 0.1l1 0.8l1 0.2l1 -0.6l1 1.2l1 0.7l1 -0.1l1 -0.2l1 -0.1l1 0.6l1 -0.1l1 1.6l1 -1.3l1 0.7l1 0.1l1 0.5l1 0.1l1 -0.6l1 0.8l1 -0.7l1 0.3l1 1.2l1 -0.4l1 -0.2l1 -0.2l1 -0.2l1 0.3l1 0.3l1 -0.7l1 0.5l1 0.7l1 -0.6l1 0.1l1 0.2l1 -0.7l1 -0.1l1 1.4l1 -1.9l1 1.5l1 -0.5l1 0.1l1 0.4l1 -0.4l1 -0.2l1 0.3l1 -0.1l1 0.4l1 0.1l1 -0.7l1 -0.5l1 0.2l1 1l1 -0.9l1 -0.1l1 0l1 0.3l1 0.5l1 -0.5l1 0.4l1 -0.7l1 0.5l1 -0.4l1 0.6l1 0.4l1 0.4l1 -0.6l1 0.1l1 0.2l1 -0.5l1 0.6l1 0.1l1 -0.2l1 0.2l1 0.4l1 -1.2l1 0l1 0.8l1 -1l1 0.1l1 1l1 0.2l1 -1.1l1 -0.6l1 0.6l1 -0.4l1 0.7l1 0.1l1 0.2l1 -0.6l1 0.7l1 -0.2l1 -0.3l1 -0.1l1 -0.1l1 -0.5l1 0.5l1 0.7l1 -0.9l1 0.6l1 -0.1l1 0.2l1 -0.4l1 0.1l1 -1.3l1 1.3l1 -0.5l1 0.3l1 0l1 0.3l1 0.1l1 -0.2l1 0.2l1 0.3l1 -0.3l1 0.5l1 -0.5l1 -0.2l1 -0.1l1 0.3l1 -0.1l1 0l1 -1.3l1 1.1l1 -0.5l1 1l1 -1l1 0.8l1 -0.3l1 0.1l1 0.2l1 -0.5l1 -0.6l1 0.4l1 0.6l1 -1.3l1 0.3l1 0.5l1 -0.6l1 0.3l1 0.5l1 -0.4l1 1l1 -1l1 0.1l1 0.4l1 -0.9l1 1.7l1 -1.5l1 0.2l1 0.3l1 -0.7l1 0.8l1 -0.1l1 -0.1l1 -1.2l1 1.5l1 -0.6l1 0.2l1 0l1 0.8l1 -1.5l1 1.5l1 -0.5l1 -0.8l1 1.4l1 -1l1 0.5l1 -0.3l1 0.7l1 -1.3l1 0.8l1 0.4l1 -0.8l1 -0.5l1 0.8l1 -0.4l1 1l1 -0.7l1 0.5l1 -0.4l1 0.1l1 -0.4l1 0.8l1 0.4l1 0.3l1 -0.6l1 0.5l1 0.2l1 -1.3l1 0.1l1 -0.1l1 0.1l1 -0.6l1 0.1l1 0.1l1 -0.9l1 0.3l1 -0.4l1 0.3l1 -0.3l1 0.1l1 1.2l1 -0.3l1 -0.1l1 -0.2l1 0l1 0" stroke="#37AD6B"/>
<path d="M281 1085.1l1 0l1 0l1 0.2l1 0.4l1 -0.4l1 0.4l1 -0.2l1 0.3l1 -1.1l1 0.1l1 -0.2l1 0.9l1 -0.3l1 0.6l1 -0.2l1 0l1 1l1 -0.6l1 -0.2l1 -0.4l1 1l1 -0.1l1 -0.9l1 0.4l1 0.2l1 -0.9l1 0.7l1 0.7l1 -1.3l1 0.9l1 0.8l1 -1l1 0.2l1 0.4l1 0.3l1 0l1 -0.7l1 0.4l1 0.6l1 -0.1l1 0.6l1 -0.7l1 -0.1l1 1l1 -1l1 -0.4l1 0.4l1 -0.2l1 0.4l1 -0.2l1 -0.3l1 0l1 0l1 0.8l1 0.4l1 -0.9l1 0.3l1 -0.1l1 -0.3l1 0l1 0.1l1 -0.6l1 0.6l1 0.6l1 0.2l1 -0.4l1 0l1 0.5l1 0.7l1 -1.3l1 0.2l1 0.3l1 0.5l1 -0.5l1 0.8l1 -0.5l1 0.8l1 -0.3l1 0.1l1 0.7l1 -0.9l1 0.2l1 0.8l1 0.1l1 -0.2l1 -1.1l1 1.4l1 -0.1l1 -0.3l1 -0.6l1 1.2l1 0.4l1 -0.6l1 0.3l1 -0.9l1 0.3l1 -0.4l1 -0.2l1 0.3l1 -0.3l1 0.2l1 0l1 0.2l1 0.1l1 0.2l1 -0.6l1 0.8l1 -0.9l1 0.9l1 0l1 -1l1 1l1 0.7l1 -0.2l1 -0.3l1 0l1 0.5l1 0l1 0.4l1 -0.3l1 0.5l1 -0.2l1 -0.5l1 0l1 0.3l1 0.4l1 -0.5l1 0.9l1 -1l1 0.6l1 -0.3l1 0.6l1 -0.1l1 -0.1l1 -0.4l1 0.1l1 0.2l1 0.7l1 -0.7l1 0.5l1 0.4l1 -0.7l1 0.3l1 -0.6l1 0.9l1 0.6l1 -0.6l1 0.8l1 0.3l1 -0.1l1 -0.4l1 0.2l1 -0.4l1 0l1 1.2l1 -1.3l1 -0.2l1 0.3l1 0l1 0.2l1 -0.6l1 -0.1l1 0.1l1 0.8l1 0.2l1 -0.7l1 0.2l1 0.3l1 -0.4l1 0.3l1 0.6l1 -0.9l1 0.7l1 0.4l1 -1l1 1l1 -0.5l1 -0.2l1 0.6l1 -0.3l1 -0.1l1 -0.1l1 0l1 0.2l1 0.2l1 0.5l1 -0.4l1 0.3l1 -0.2l1 0.5l1 -0.2l1 0.6l1 -0.4l1 -0.8l1 0.8l1 -0.1l1 0.7l1 -0.4l1 0.4l1 0l1 -0.6l1 0.2l1 0.2l1 -0.5l1 2l1 -1.3l1 -0.8l1 0l1 0.7l1 -0.3l1 -0.4l1 -0.1l1 0.8l1 -0.1l1 0.4l1 -0.2l1 0.6l1 -1.3l1 1.1l1 -0.6l1 -0.1l1 0.8l1 -1.3l1 0.8l1 -0.2l1 0.7l1 -1.2l1 0.7l1 0l1 -0.2l1 0.2l1 -0.1l1 -0.4l1 0.5l1 -0.5l1 1.4l1 0.1l1 -1l1 1.3l1 -0.5l1 -0.7l1 0.4l1 0.5l1 -0.4l1 -0.4l1 0.7l1 -0.5l1 -0.1l1 -0.4l1 0.7l1 0.2l1 -0.9l1 0.4l1 0l1 0.2l1 -0.6l1 1.4l1 -0.8l1 0.3l1 -0.6l1 1.1l1 -0.8l1 -1l1 1.3l1 -0.5l1 -0.5l1 0.4l1 -0.4l1 0.7l1 -0.1l1 -0.8l1 0.9l1 0.2l1 -1.5l1 1.7l1 -0.2l1 0.1l1 0.3l1 -0.6l1 -0.4l1 0.6l1 -0.3l1 0.2l1 -1.2l1 0.8l1 1.3l1 -1l1 0.2l1 -0.3l1 -0.3l1 0.4l1 -0.1l1 -0.6l1 0l1 0.3l1 -0.7l1 -0.1l1 0.8l1 -0.1l1 -0.7l1 0.7l1 -0.4l1 -0.3l1 -0.6l1 0.5l1 -0.7l1 0.1l1 -0.4l1 0.7l1 -0.6l1 0l1 0.3l1 0.8l1 -0.7l1 -1.1l1 0.7l1 0l1 -0.3l1 -0.2l1 1.2l1 -0.5l1 -0.1l1 -0.4l1 0.1l1 -0.3l1 -0.2l1 -0.3l1 -0.5l1 -0.1l1 0.2l1 -0.5l1 0.5l1 -0.6l1 0.7l1 -1.1l1 0.7l1 0.4l1 -0.3l1 -0.7l1 0.7l1 -0.7l1 0l1 -0.4l1 -1l1 0.8l1 -0.3l1 -0.1l1 -1.1l1 0.4l1 -1.1l1 -0.7l1 -0.6l1 -0.2l1 -1.1l1 -0.1l1 -1.2l1 -0.7l1 -1.1l1 -0.5l1 -0.1l1 1.1l1 1.2l1 0.5l1 -1l1 1.1l1 0.3l1 -0.9l1 0.3l1 -0.7l1 -0.1l1 -0.9l1 -1.6l1 -2.2l1 -3.9l1 -4.7l1 -7.3l1 -3.5l1 -3.6l1 -3.9l1 -1.9l1 -1.7l1 -2.6l1 -2.1l1 -1.9l1 -2.1l1 -2.5l1 -0.2l1 -0.4l1 -1.1l1 0.3l1 0l1 -2.1l1 -2.7l1 -3.5l1 -7.2l1 -8.8l1 -11.7l1 -16.2l1 -22.6l1 -26.5l1 -32.8l1 -38.9l1 -44.9l1 -48.1l1 -45.9l1 -39.8l1 -21.1l1 0.3l1 22.3l1 37.9l1 45.4l1 48.5l1 43.5l1 39l1 33.7l1 25.5l1 23.5l1 16.4l1 13.3l1 9.7l1 8.3l1 6.2l1 4.8l1 3.3l1 4.3l1 2.8l1 2.8l1 2l1 1.9l1 1.7l1 0.9l1 1.3l1 2.2l1 1l1 1.7l1 0.3l1 1.3l1 1.5l1 0.6l1 0.4l1 1.4l1 0.6l1 0.1l1 0.9l1 1l1 0.4l1 0.5l1 0.4l1 -0.4l1 1.9l1 0.5l1 0.3l1 -0.2l1 1.2l1 0.6l1 0.4l1 0.5l1 -0.5l1 1.7l1 0.4l1 0.3l1 0.5l1 -0.3l1 0.7l1 -1l1 1l1 -0.2l1 0.9l1 -0.7l1 0.1l1 0.3l1 0.8l1 -0.2l1 1l1 0.3l1 0l1 0.3l1 0l1 1.4l1 -0.2l1 -0.7l1 1.2l1 -0.8l1 0.8l1 0.3l1 -0.2l1 0l1 0.6l1 0.3l1 0l1 0.1l1 -0.7l1 0.6l1 -0.3l1 0.5l1 -0.5l1 0.2l1 -0.1l1 0.3l1 0.1l1 0.1l1 0.4l1 -0.6l1 1.2l1 -0.9l1 -0.1l1 0.5l1 -0.3l1 0l1 0.3l1 -0.5l1 1.1l1 -1.1l1 0.4l1 0.8l1 0l1 -0.4l1 -0.9l1 0.3l1 -0.6l1 -1l1 -2.9l1 -8.7l1 -16.5l1 -7.9l1 14.6l1 14.3l1 5.8l1 2l1 -0.1l1 0.5l1 0.1l1 -0.1l1 0.7l1 -0.5l1 0.4l1 -0.3l1 -0.9l1 -0.4l1 -1l1 -0.7l1 -1.1l1 -0.6l1 -1.9l1 -0.3l1 -1.1l1 -0.9l1 -1.1l1 0l1 0.7l1 0.5l1 -0.1l1 1.8l1 -0.4l1 -0.1l1 -0.1l1 -1.3l1 -1.7l1 -0.6l1 -2l1 -1.5l1 -1.7l1 -2l1 -0.1l1 1.2l1 1.5l1 1.2l1 2.4l1 2.4l1 2.3l1 3.2l1 1.5l1 0.5l1 1.5l1 1.7l1 0.6l1 0.9l1 0.4l1 -0.3l1 0.2l1 0.1l1 0.5l1 0.6l1 -0.3l1 1.3l1 -1.6l1 0.7l1 0.7l1 0.4l1 -1.2l1 0.5l1 0.2l1 -1.2l1 1.2l1 -0.2l1 -0.3l1 0.6l1 -0.4l1 -0.4l1 0.9l1 -0.8l1 0.9l1 -1.6l1 1.6l1 -0.5l1 0.3l1 0.1l1 0.4l1 -0.8l1 0.3l1 -0.1l1 0.3l1 -0.3l1 0.1l1 -0.1l1 -1l1 0.5l1 -0.1l1 -0.2l1 0.6l1 -1.2l1 -0.4l1 -1.7l1 -0.7l1 -1.2l1 -3.1l1 -2.6l1 -3.4l1 -3.4l1 -2.4l1 -5.3l1 -3l1 -2.7l1 -2.5l1 -1l1 0l1 1.4l1 0.3l1 1.6l1 0.9l1 -0.6l1 0l1 -0.8l1 -0.6l1 -2.2l1 0.3l1 -0.4l1 2.8l1 1.9l1 4.4l1 4.7l1 3.1l1 4l1 2.2l1 3.6l1 2.5l1 1.5l1 1.7l1 0.5l1 1.1l1 0.5l1 0.5l1 1.6l1 -0.3l1 0.9l1 1.1l1 0l1 -0.5l1 0.4l1 0.1l1 0.4l1 0.7l1 0l1 -1l1 -0.4l1 1.1l1 -1.6l1 1.3l1 -1.3l1 1.1l1 0.1l1 -0.1l1 -0.1l1 0.9l1 0.1l1 0l1 1.2l1 -1l1 0l1 1l1 0.5l1 -1.8l1 -0.1l1 -0.3l1 0.1l1 0l1 -1l1 -0.1l1 -0.6l1 0.1l1 -0.5l1 -0.1l1 -0.8l1 -0.7l1 -2.4l1 -2.3l1 -4.6l1 -7l1 -9.7l1 -7.6l1 -0.1l1 6.8l1 8.7l1 7.8l1 4.9l1 3.2l1 1.4l1 0.6l1 0.9l1 -0.4l1 1.3l1 0.4l1 0.2l1 -0.9l1 0.7l1 0.5l1 -0.2l1 0l1 -0.1l1 0.1l1 -0.9l1 -1.3l1 0l1 -0.2l1 -2.1l1 -1.9l1 -1.9l1 -4.5l1 -4.2l1 -5l1 -5.7l1 -6.7l1 -8.8l1 -9.8l1 -9.4l1 -10.7l1 -9.8l1 -8.8l1 -7l1 -3.6l1 -1.1l1 2.1l1 6.1l1 8.9l1 8.8l1 9.6l1 10.9l1 10.8l1 7.9l1 9l1 5.9l1 4.4l1 5.6l1 4.3l1 2l1 1.3l1 2.2l1 1.6l1 -0.5l1 1.4l1 0.6l1 0.8l1 -0.3l1 0.1l1 1l1 0.1l1 0.1l1 0l1 0.8l1 -0.4l1 1.4l1 -1l1 0.9l1 0.1l1 -0.1l1 -0.1l1 0.7l1 -0.3l1 -0.3l1 0.5l1 0.3l1 -0.8l1 1.4l1 -1.2l1 1.1l1 -0.1l1 -0.6l1 0.8l1 -0.2l1 0.7l1 -0.3l1 0.5l1 0.2l1 0.5l1 -0.8l1 1.3l1 -1.6l1 0.6l1 0.4l1 -0.4l1 -0.1l1 1l1 -0.9l1 0.4l1 0.8l1 0.1l1 -0.6l1 0.5l1 0l1 -0.1l1 -0.2l1 -0.1l1 0l1 1.5l1 -0.2l1 -0.1l1 0.2l1 0.6l1 0.2l1 -0.3l1 -0.4l1 0.9l1 -0.5l1 -0.4l1 1.3l1 0.3l1 -0.7l1 -0.1l1 0l1 -0.1l1 0.1l1 -0.1l1 0l1 0.2l1 0.3l1 0.2l1 0.2l1 -0.6l1 0.8l1 -0.6l1 0l1 0.8l1 -0.9l1 0.8l1 -0.8l1 0.8l1 0.6l1 0.1l1 -0.8l1 0.1l1 1.2l1 -0.6l1 0.5l1 -1.4l1 1.3l1 -0.5l1 -0.8l1 0.5l1 0.6l1 -0.4l1 -0.8l1 -0.2l1 1.3l1 -0.6l1 -0.2l1 0.1l1 -0.1l1 -0.3l1 0.6l1 0.2l1 -0.8l1 1.2l1 -0.8l1 0.5l1 0.2l1 0l1 0.3l1 -1.5l1 -0.2l1 0.1l1 0.2l1 0.1l1 -1.2l1 -0.5l1 -0.3l1 -0.8l1 0.3l1 -2.4l1 0.1l1 -1l1 -2.1l1 -1l1 -0.8l1 -0.6l1 0l1 0.2l1 1.6l1 1.2l1 0.4l1 1.8l1 0.4l1 0.7l1 1.1l1 0.4l1 1.3l1 0.2l1 0.2l1 0l1 -0.9l1 0.4l1 0.2l1 0.9l1 -1.2l1 0.9l1 -1.5l1 0.6l1 0l1 0.6l1 -0.2l1 -0.5l1 0.2l1 -0.9l1 -0.3l1 1.3l1 0.6l1 -1l1 -0.9l1 0.1l1 -1.5l1 0.3l1 -0.6l1 0.1l1 -1.1l1 -0.4l1 -1.9l1 -0.3l1 -1.1l1 0l1 -1l1 -0.6l1 -1.6l1 1.4l1 -1.1l1 0.3l1 1.5l1 0.1l1 0l1 1l1 0l1 1.1l1 1.5l1 0.2l1 0.9l1 0.1l1 1l1 0.6l1 0.5l1 1.5l1 -0.5l1 0.4l1 0.8l1 -0.3l1 0.7l1 -0.9l1 0.9l1 0.6l1 -0.4l1 0.7l1 -0.2l1 0.5l1 0.2l1 -0.6l1 -0.4l1 0l1 0.5l1 -0.2l1 -0.8l1 1.1l1 -0.1l1 -0.8l1 -0.1l1 -0.3l1 -0.9l1 0l1 -0.3l1 -0.8l1 -1.2l1 -0.8l1 -0.3l1 -0.8l1 -0.8l1 -1.3l1 0.2l1 -0.6l1 0l1 -0.6l1 1.1l1 0.1l1 1l1 -0.1l1 1.4l1 0.4l1 0.3l1 0.7l1 0l1 0.6l1 0.1l1 -0.1l1 -0.3l1 -0.4l1 -1.6l1 -0.3l1 -2.3l1 -0.5l1 0.8l1 -0.7l1 0.2l1 2.1l1 -0.5l1 1.5l1 0.6l1 1.4l1 0l1 -0.2l1 0.3l1 0.2l1 0.2l1 -0.5l1 -0.5l1 -0.9l1 -1.1l1 0.4l1 -1.7l1 0l1 -0.8l1 0.1l1 0.3l1 0.3l1 1.5l1 0.4l1 1.2l1 0.8l1 0.4l1 0.3l1 0.7l1 -0.1l1 0.8l1 -0.9l1 0.7l1 0.8l1 -0.7l1 1.1l1 0.4l1 -0.1l1 -0.2l1 1l1 0.6l1 -0.1l1 -1.2l1 1.6l1 -1l1 1.1l1 -0.6l1 0.4l1 0.4l1 -1l1 1.2l1 -0.5l1 0.4l1 -0.3l1 -0.1l1 -0.6l1 0.5l1 0.4l1 -0.8l1 1l1 -0.4l1 -1l1 0.6l1 0.1l1 -0.2l1 0.2l1 0.3l1 -0.6l1 0.4l1 -0.3l1 -0.4l1 0.7l1 -0.4l1 0.1l1 0.5l1 -1.3l1 1.2l1 0l1 -0.1l1 0.2l1 -0.1l1 0.1l1 -0.8l1 0.5l1 0.3l1 -0.2l1 0.1l1 -0.4l1 1.1l1 -0.8l1 0.3l1 0.1l1 -0.7l1 0l1 -0.3l1 0.7l1 0.4l1 -0.4l1 -0.9l1 1l1 0l1 -0.4l1 -0.9l1 -0.2l1 0.7l1 -0.4l1 1l1 0.4l1 0.1l1 -0.1l1 0.1l1 0.1l1 -0.4l1 -0.4l1 1.3l1 0l1 -1.8l1 1.6l1 -0.4l1 -0.4l1 1l1 -1.1l1 0.3l1 0.1l1 0.6l1 -0.8l1 0.4l1 -0.3l1 0.4l1 0.5l1 -0.2l1 -0.5l1 -0.1l1 -0.7l1 1.1l1 -0.7l1 0.4l1 -0.7l1 -0.3l1 -0.3l1 -0.9l1 0.8l1 -0.3l1 -0.9l1 0.3l1 -0.5l1 -0.5l1 -0.2l1 -0.4l1 0.2l1 1l1 0l1 -0.2l1 0.7l1 -0.2l1 0l1 0.6l1 -0.1l1 0.2l1 0.5l1 -0.5l1 1.2l1 -0.2l1 -0.4l1 0.6l1 -0.8l1 -0.1l1 0.5l1 0.3l1 -0.5l1 -0.3l1 1.4l1 -0.8l1 -0.6l1 0.5l1 0.7l1 -0.3l1 -0.3l1 1.8l1 -0.2l1 -1.2l1 1.2l1 0.1l1 -0.5l1 0.1l1 -0.2l1 0.4l1 0.5l1 -0.8l1 -0.3l1 0.7l1 -0.8l1 -0.5l1 0l1 0l1 0.5l1 0.1l1 0l1 -0.2l1 -1.2l1 0.9l1 -0.9l1 0.4l1 -0.2l1 -0.7l1 -0.2l1 -0.4l1 -0.3l1 -0.8l1 -0.3l1 -2l1 -1.6l1 -2.1l1 -2.9l1 -2.5l1 -4.1l1 -2.8l1 -3.3l1 -1.6l1 -0.9l1 1.6l1 3.7l1 3l1 3.5l1 2.7l1 2.3l1 2.9l1 2l1 0.5l1 0.5l1 1.6l1 0.8l1 -0.2l1 0.5l1 1.1l1 0.6l1 0.3l1 -0.7l1 0.6l1 -0.2l1 -0.2l1 0.3l1 0.6l1 -0.7l1 0.3l1 0.4l1 -0.2l1 -0.1l1 0.4l1 0.8l1 -0.3l1 -0.5l1 0.6l1 -0.2l1 0.3l1 -0.3l1 -0.7l1 0.2l1 0.3l1 -0.1l1 -0.4l1 0.2l1 -0.7l1 0.1l1 0.2l1 -0.8l1 1.3l1 -0.5l1 0.4l1 -0.3l1 0.8l1 -0.3l1 -0.1l1 0.8l1 -0.8l1 -0.5l1 1.3l1 -0.9l1 -0.4l1 0.2l1 0.6l1 -0.5l1 -0.8l1 0.2l1 0.9l1 -0.9l1 -0.1l1 -1l1 -0.1l1 0.7l1 -1.4l1 0l1 -0.1l1 -0.3l1 -0.8l1 0.2l1 -0.9l1 -0.4l1 0.7l1 -0.1l1 -0.1l1 0.4l1 -0.3l1 1l1 0.8l1 -1l1 0.8l1 0.5l1 0.1l1 0.9l1 0.8l1 -0.4l1 0.8l1 -0.4l1 0.3l1 -0.2l1 0.5l1 -0.5l1 1.2l1 -1l1 0.1l1 0.6l1 -0.4l1 0.6l1 0l1 -0.1l1 -0.9l1 0.7l1 0.1l1 -0.1l1 -0.2l1 -0.4l1 0l1 0.2l1 -0.3l1 -0.8l1 0.1l1 -0.1l1 -0.3l1 -0.9l1 0.9l1 -1.9l1 1l1 -0.2l1 0.2l1 0.3l1 0.1l1 0.7l1 0.2l1 0.2l1 0.2l1 0.1l1 0.6l1 0.3l1 -0.9l1 -0.1l1 0.1l1 -1.7l1 -0.1l1 -1.3l1 -0.7l1 -0.9l1 -0.7l1 -1.9l1 -0.2l1 -0.9l1 0.6l1 -0.6l1 1.8l1 1.2l1 1.1l1 0.6l1 0.4l1 0.4l1 1.3l1 0.4l1 -0.5l1 0.5l1 1l1 -0.1l1 -0.5l1 0.3l1 0.2l1 0.6l1 0.2l1 0.1l1 -0.2l1 0.2l1 -0.1l1 1l1 -1.4l1 1l1 0l1 -0.3l1 -1.4l1 0.7l1 -0.4l1 -0.7l1 -0.2l1 -0.3l1 -0.1l1 -1l1 0l1 -1.1l1 1l1 -1.9l1 0.3l1 -0.8l1 -0.2l1 0.4l1 0.3l1 -0.9l1 0.6l1 -0.3l1 0.6l1 -1.3l1 1.6l1 -0.2l1 0.4l1 0.2l1 -0.2l1 1.5l1 0.1l1 -0.3l1 0.5l1 0.4l1 -0.5l1 1.1l1 0.5l1 -0.1l1 0l1 -0.6l1 0.5l1 -0.4l1 0.5l1 0.5l1 1.2l1 -1.4l1 0l1 -0.3l1 -0.1l1 0.5l1 -0.9l1 0.1l1 0l1 -1l1 1.2l1 -1.3l1 0.2l1 0.6l1 -0.7l1 -0.9l1 1.6l1 0.6l1 0.1l1 0.8l1 0l1 1.1l1 0.3l1 -0.4l1 0.8l1 -0.5l1 0.7l1 0.3l1 -0.8l1 0.6l1 -1l1 0.4l1 -0.2l1 1l1 -0.8l1 1l1 -1.2l1 0.1l1 -0.4l1 0.4l1 -0.4l1 -0.1l1 0l1 -0.5l1 -0.8l1 -0.8l1 -0.1l1 -0.1l1 -1.2l1 -1.6l1 -1.6l1 -0.7l1 -1.8l1 -1.6l1 -1l1 -0.6l1 -0.1l1 1l1 1l1 1.7l1 1.2l1 1l1 2.1l1 1.8l1 -0.4l1 1.5l1 0.1l1 0.9l1 1.4l1 -0.5l1 -0.8l1 -0.1l1 -0.1l1 0.2l1 -0.7l1 -0.8l1 0.1l1 -1.7l1 -0.1l1 0.2l1 -1.5l1 -0.4l1 -0.7l1 0l1 0l1 0.6l1 0.3l1 0l1 2.1l1 0.4l1 1.6l1 0.5l1 0.6l1 0.8l1 0.5l1 -0.4l1 1.2l1 0.5l1 -0.6l1 -0.8l1 0.4l1 0.1l1 -0.5l1 -0.2l1 1l1 -0.9l1 -0.1l1 0.3l1 -0.5l1 1.4l1 -0.7l1 0.2l1 -0.6l1 0.5l1 0.8l1 -0.2l1 0l1 0.1l1 0.3l1 -1l1 1.6l1 -0.2l1 0l1 -1.3l1 1l1 0.6l1 -0.9l1 -0.2l1 -0.4l1 0.6l1 0.5l1 -1l1 0.3l1 0.9l1 -0.8l1 0.6l1 0l1 0.4l1 -0.8l1 0.4l1 -0.5l1 1l1 -0.7l1 0.9l1 -1.2l1 0.3l1 0.6l1 -0.5l1 0l1 -0.5l1 0l1 -0.3l1 0.2l1 0.2l1 0l1 -0.3l1 -1.2l1 1.1l1 0.1l1 -0.4l1 0.1l1 -0.8l1 0.7l1 0.9l1 0.5l1 -0.6l1 -0.3l1 0.4l1 0.2l1 -0.6l1 0.5l1 0.3l1 0.2l1 -0.6l1 -0.3l1 0.5l1 -0.1l1 0.1l1 -0.1l1 0.4l1 -0.3l1 0.6l1 -0.3l1 -0.1l1 1.1l1 -0.5l1 -0.1l1 -0.2l1 -0.7l1 1.1l1 0l1 -0.6l1 0.4l1 -0.5l1 0.4l1 0l1 -0.5l1 0.1l1 0.5l1 -0.5l1 -0.4l1 -0.1l1 0.8l1 0.9l1 -0.7l1 0.3l1 0.1l1 -0.3l1 0.6l1 -1.5l1 0.7l1 0.6l1 -0.5l1 0.3l1 0l1 -0.5l1 -0.8l1 0.2l1 0.6l1 0.9l1 -0.8l1 -1l1 1l1 0.1l1 0.1l1 0.3l1 -1.8l1 2.8l1 -0.7l1 -0.1l1 -0.2l1 -0.7l1 0.4l1 1l1 -0.6l1 0l1 -0.4l1 -0.1l1 0.2l1 0.4l1 0.1l1 -0.1l1 -1l1 0.3l1 0.1l1 -0.4l1 0.7l1 -0.8l1 1.5l1 -1.1l1 -0.2l1 -0.5l1 0.2l1 0.6l1 -1.5l1 0.3l1 0.6l1 -1.9l1 1.1l1 -0.6l1 0.8l1 -1.1l1 -0.3l1 0.4l1 0.8l1 -1.1l1 0.2l1 0l1 -0.5l1 0.2l1 0.1l1 0.4l1 -0.2l1 0l1 -0.5l1 1.8l1 -0.7l1 0.1l1 0.6l1 0.6l1 -0.5l1 0.2l1 -0.5l1 0.7l1 0.3l1 -0.4l1 0.7l1 -0.7l1 1.2l1 -1.5l1 1l1 -1l1 0.6l1 0.2l1 -1.5l1 0.6l1 -0.1l1 -0.7l1 0.5l1 1l1 -1l1 0.5l1 -0.3l1 0.3l1 0.9l1 0.5l1 -1l1 1.1l1 0l1 -1.1l1 1.1l1 -0.6l1 0l1 0.1l1 0.1l1 0.5l1 0.3l1 0.3l1 -1.1l1 1.4l1 -1.2l1 -0.5l1 1.1l1 0l1 0.2l1 -0.1l1 0.1l1 -1l1 0.1l1 -0.2l1 0.3l1 -0.5l1 0.7l1 -0.6l1 0l1 -0.7l1 -0.2l1 -0.2l1 0.1l1 -1.2l1 0.5l1 0.6l1 -0.3l1 0l1 -0.5l1 -0.4l1 0.1l1 -0.5l1 0.3l1 -0.6l1 -0.2l1 -0.2l1 -0.9l1 -0.3l1 -0.1l1 -0.1l1 0.5l1 -0.9l1 0l1 0.7l1 0.3l1 -0.3l1 0.5l1 -0.2l1 0.3l1 0.3l1 0.7l1 -0.1l1 0.2l1 -0.2l1 0.2l1 0.7l1 0.1l1 0.7l1 -0.4l1 0.6l1 -0.1l1 -0.3l1 0.2l1 0.6l1 0.4l1 -0.4l1 1.2l1 0l1 0.3l1 -0.2l1 0.4l1 0.1l1 -1.1l1 0.6l1 1.1l1 -1.2l1 0.6l1 0l1 -0.2l1 0.1l1 0.8l1 -1.8l1 0.3l1 1.4l1 -0.2l1 -0.7l1 1.1l1 -1.1l1 0.1l1 0.4l1 -0.1l1 0.3l1 -0.3l1 -0.1l1 0.3l1 0.6l1 -0.8l1 0l1 0.7l1 -0.4l1 1.1l1 0l1 -1.2l1 -0.6l1 0.4l1 0.7l1 -0.4l1 0.8l1 -1l1 0.3l1 0.3l1 0.6l1 -1l1 0.6l1 -0.1l1 0.1l1 -0.3l1 0l1 0.2l1 0.1l1 -0.6l1 0.6l1 0.1l1 0.5l1 -0.6l1 1l1 -1.5l1 0.2l1 0.4l1 0.4l1 0.7l1 -0.3l1 -0.1l1 -0.2l1 -0.6l1 1.2l1 -0.6l1 -0.8l1 0.2l1 -0.1l1 0.3l1 -0.1l1 0.1l1 -0.5l1 0.5l1 -0.1l1 -0.3l1 0.4l1 -0.2l1 0.1l1 0.3l1 -0.5l1 1.3l1 -0.7l1 -0.2l1 0.2l1 -0.5l1 0.6l1 -1.8l1 1.2l1 -0.4l1 -0.5l1 1.3l1 0l1 -0.6l1 0.8l1 0.4l1 -1.1l1 0.5l1 -0.1l1 -0.5l1 0l1 0.7l1 -1.1l1 0.5l1 0.3l1 0.1l1 -0.5l1 0.2l1 0.4l1 -0.2l1 0.3l1 -0.2l1 -0.2l1 -0.7l1 0.2l1 0l1 0.3l1 -0.6l1 -0.4l1 0.3l1 -0.6l1 0.6l1 1.1l1 -1.6l1 1.5l1 -1.2l1 0.3l1 0.4l1 0l1 0.1l1 0.3l1 0.3l1 0.2l1 -1.1l1 -0.3l1 -0.4l1 0.7l1 -0.3l1 0.2l1 -0.9l1 1.4l1 0l1 -0.4l1 0.1l1 -1l1 0.8l1 -0.2l1 -0.5l1 0.9l1 -1l1 0.1l1 0.6l1 -0.6l1 0.5l1 -0.5l1 -0.5l1 0.2l1 -0.3l1 0.2l1 0.2l1 0.2l1 0.2l1 -0.9l1 0.5l1 0.1l1 0.5l1 -0.1l1 -0.2l1 -0.4l1 0.4l1 -0.5l1 -0.2l1 0.8l1 -0.6l1 -0.3l1 0.7l1 -0.4l1 1.1l1 -0.5l1 -0.5l1 -0.6l1 -0.2l1 1.2l1 -1.1l1 -0.9l1 0.8l1 0.1l1 0.1l1 -1.1l1 1.2l1 0l1 0M281 1088.3l1 0l1 0l1 0.2l1 0.4l1 -0.4l1 0.4l1 -0.2l1 0.3l1 -1.1l1 0.1l1 -0.2l1 0.9l1 -0.3l1 0.6l1 -0.2l1 0l1 1l1 -0.6l1 -0.2l1 -0.4l1 1l1 -0.1l1 -0.9l1 0.4l1 0.2l1 -0.9l1 0.7l1 0.7l1 -1.3l1 0.9l1 0.8l1 -1l1 0.2l1 0.4l1 0.3l1 0l1 -0.7l1 0.4l1 0.6l1 -0.1l1 0.6l1 -0.7l1 -0.1l1 1l1 -1l1 -0.4l1 0.4l1 -0.2l1 0.4l1 -0.2l1 -0.3l1 0l1 0l1 0.8l1 0.4l1 -0.9l1 0.3l1 -0.1l1 -0.3l1 0l1 0.1l1 -0.6l1 0.6l1 0.6l1 0.2l1 -0.4l1 0l1 0.5l1 0.7l1 -1.3l1 0.2l1 0.3l1 0.5l1 -0.5l1 0.8l1 -0.5l1 0.8l1 -0.3l1 0.1l1 0.7l1 -0.9l1 0.2l1 0.8l1 0.1l1 -0.2l1 -1.1l1 1.4l1 -0.1l1 -0.3l1 -0.6l1 1.2l1 0.4l1 -0.6l1 0.3l1 -0.9l1 0.3l1 -0.4l1 -0.2l1 0.3l1 -0.3l1 0.2l1 0l1 0.2l1 0.1l1 0.2l1 -0.6l1 0.8l1 -0.9l1 0.9l1 0l1 -1l1 1l1 0.7l1 -0.2l1 -0.3l1 0l1 0.5l1 0l1 0.4l1 -0.3l1 0.5l1 -0.2l1 -0.5l1 0l1 0.3l1 0.4l1 -0.5l1 0.9l1 -1l1 0.6l1 -0.3l1 0.6l1 -0.1l1 -0.1l1 -0.4l1 0.1l1 0.2l1 0.7l1 -0.7l1 0.5l1 0.4l1 -0.7l1 0.3l1 -0.6l1 0.9l1 0.6l1 -0.6l1 0.8l1 0.3l1 -0.1l1 -0.4l1 0.2l1 -0.4l1 0l1 1.2l1 -1.3l1 -0.2l1 0.3l1 0l1 0.2l1 -0.6l1 -0.1l1 0.1l1 0.8l1 0.2l1 -0.7l1 0.2l1 0.3l1 -0.4l1 0.3l1 0.6l1 -0.9l1 0.7l1 0.4l1 -1l1 1l1 -0.5l1 -0.2l1 0.6l1 -0.3l1 -0.1l1 -0.1l1 0l1 0.2l1 0.2l1 0.5l1 -0.4l1 0.3l1 -0.2l1 0.5l1 -0.2l1 0.6l1 -0.4l1 -0.8l1 0.8l1 -0.1l1 0.7l1 -0.4l1 0.4l1 0l1 -0.6l1 0.2l1 0.2l1 -0.5l1 2l1 -1.3l1 -0.8l1 0l1 0.7l1 -0.3l1 -0.4l1 -0.1l1 0.8l1 -0.1l1 0.4l1 -0.2l1 0.6l1 -1.3l1 1.1l1 -0.6l1 -0.1l1 0.8l1 -1.3l1 0.8l1 -0.2l1 0.7l1 -1.2l1 0.7l1 0l1 -0.2l1 0.2l1 -0.1l1 -0.4l1 0.5l1 -0.5l1 1.4l1 0.1l1 -1l1 1.3l1 -0.5l1 -0.7l1 0.4l1 0.5l1 -0.4l1 -0.4l1 0.7l1 -0.5l1 -0.1l1 -0.4l1 0.7l1 0.2l1 -0.9l1 0.4l1 0l1 0.2l1 -0.6l1 1.4l1 -0.8l1 0.3l1 -0.6l1 1.1l1 -0.8l1 -1l1 1.3l1 -0.5l1 -0.5l1 0.4l1 -0.4l1 0.7l1 -0.1l1 -0.8l1 0.9l1 0.2l1 -1.5l1 1.7l1 -0.2l1 0.1l1 0.3l1 -0.6l1 -0.4l1 0.6l1 -0.3l1 0.2l1 -1.2l1 0.8l1 1.3l1 -1l1 0.2l1 -0.3l1 -0.3l1 0.4l1 -0.1l1 -0.6l1 0l1 0.3l1 -0.7l1 -0.1l1 0.8l1 -0.1l1 -0.7l1 0.7l1 -0.4l1 -0.3l1 -0.6l1 0.5l1 -0.7l1 0.1l1 -0.4l1 0.7l1 -0.6l1 0l1 0.3l1 0.8l1 -0.7l1 -1.1l1 0.7l1 0l1 -0.3l1 -0.2l1 1.2l1 -0.5l1 -0.1l1 -0.4l1 0.1l1 -0.3l1 -0.2l1 -0.3l1 -0.5l1 -0.1l1 0.2l1 -0.5l1 0.5l1 -0.6l1 0.7l1 -1.1l1 0.7l1 0.4l1 -0.3l1 -0.7l1 0.7l1 -0.7l1 0l1 -0.4l1 -1l1 0.8l1 -0.3l1 -0.1l1 -1.1l1 0.4l1 -1.1l1 -0.7l1 -0.6l1 -0.2l1 -1.1l1 -0.1l1 -1.2l1 -0.7l1 -1.1l1 -0.5l1 -0.1l1 1.1l1 1.2l1 0.5l1 -1l1 1.1l1 0.3l1 -0.9l1 0.3l1 -0.7l1 -0.1l1 -0.9l1 -1.6l1 -2.2l1 -3.9l1 -4.7l1 -7.3l1 -3.5l1 -3.6l1 -3.9l1 -1.9l1 -1.7l1 -2.6l1 -2.1l1 -1.9l1 -2.1l1 -2.5l1 -0.2l1 -0.4l1 -1.1l1 0.3l1 0l1 -2.1l1 -2.7l1 -3.5l1 -7.2l1 -8.8l1 -11.7l1 -16.2l1 -22.6l1 -26.5l1 -32.8l1 -38.9l1 -44.9l1 -48.1l1 -45.9l1 -39.8l1 -21.1l1 0.3l1 22.3l1 37.9l1 45.4l1 48.5l1 43.5l1 39l1 33.7l1 25.5l1 23.5l1 16.4l1 13.3l1 9.7l1 8.3l1 6.2l1 4.8l1 3.3l1 4.3l1 2.8l1 2.8l1 2l1 1.9l1 1.7l1 0.9l1 1.3l1 2.2l1 1l1 1.7l1 0.3l1 1.3l1 1.5l1 0.6l1 0.4l1 1.4l1 0.6l1 0.1l1 0.9l1 1l1 0.4l1 0.5l1 0.4l1 -0.4l1 1.9l1 0.5l1 0.3l1 -0.2l1 1.2l1 0.6l1 0.4l1 0.5l1 -0.5l1 1.7l1 0.4l1 0.3l1 0.5l1 -0.3l1 0.7l1 -1l1 1l1 -0.2l1 0.9l1 -0.7l1 0.1l1 0.3l1 0.8l1 -0.2l1 1l1 0.3l1 0l1 0.3l1 0l1 1.4l1 -0.2l1 -0.7l1 1.2l1 -0.8l1 0.8l1 0.3l1 -0.2l1 0l1 0.6l1 0.3l1 0l1 0.1l1 -0.7l1 0.6l1 -0.3l1 0.5l1 -0.5l1 0.2l1 -0.1l1 0.3l1 0.1l1 0.1l1 0.4l1 -0.6l1 1.2l1 -0.9l1 -0.1l1 0.5l1 -0.3l1 0l1 0.3l1 -0.5l1 1.1l1 -1.1l1 0.4l1 0.8l1 0l1 -0.4l1 -0.9l1 0.3l1 -0.6l1 -1l1 -2.9l1 -8.7l1 -16.5l1 -7.9l1 14.6l1 14.3l1 5.8l1 2l1 -0.1l1 0.5l1 0.1l1 -0.1l1 0.7l1 -0.5l1 0.4l1 -0.3l1 -0.9l1 -0.4l1 -1l1 -0.7l1 -1.1l1 -0.6l1 -1.9l1 -0.3l1 -1.1l1 -0.9l1 -1.1l1 0l1 0.7l1 0.5l1 -0.1l1 1.8l1 -0.4l1 -0.1l1 -0.1l1 -1.3l1 -1.7l1 -0.6l1 -2l1 -1.5l1 -1.7l1 -2l1 -0.1l1 1.2l1 1.5l1 1.2l1 2.4l1 2.4l1 2.3l1 3.2l1 1.5l1 0.5l1 1.5l1 1.7l1 0.6l1 0.9l1 0.4l1 -0.3l1 0.2l1 0.1l1 0.5l1 0.6l1 -0.3l1 1.3l1 -1.6l1 0.7l1 0.7l1 0.4l1 -1.2l1 0.5l1 0.2l1 -1.2l1 1.2l1 -0.2l1 -0.3l1 0.6l1 -0.4l1 -0.4l1 0.9l1 -0.8l1 0.9l1 -1.6l1 1.6l1 -0.5l1 0.3l1 0.1l1 0.4l1 -0.8l1 0.3l1 -0.1l1 0.3l1 -0.3l1 0.1l1 -0.1l1 -1l1 0.5l1 -0.1l1 -0.2l1 0.6l1 -1.2l1 -0.4l1 -1.7l1 -0.7l1 -1.2l1 -3.1l1 -2.6l1 -3.4l1 -3.4l1 -2.4l1 -5.3l1 -3l1 -2.7l1 -2.5l1 -1l1 0l1 1.4l1 0.3l1 1.6l1 0.9l1 -0.6l1 0l1 -0.8l1 -0.6l1 -2.2l1 0.3l1 -0.4l1 2.8l1 1.9l1 4.4l1 4.7l1 3.1l1 4l1 2.2l1 3.6l1 2.5l1 1.5l1 1.7l1 0.5l1 1.1l1 0.5l1 0.5l1 1.6l1 -0.3l1 0.9l1 1.1l1 0l1 -0.5l1 0.4l1 0.1l1 0.4l1 0.7l1 0l1 -1l1 -0.4l1 1.1l1 -1.6l1 1.3l1 -1.3l1 1.1l1 0.1l1 -0.1l1 -0.1l1 0.9l1 0.1l1 0l1 1.2l1 -1l1 0l1 1l1 0.5l1 -1.8l1 -0.1l1 -0.3l1 0.1l1 0l1 -1l1 -0.1l1 -0.6l1 0.1l1 -0.5l1 -0.1l1 -0.8l1 -0.7l1 -2.4l1 -2.3l1 -4.6l1 -7l1 -9.7l1 -7.6l1 -0.1l1 6.8l1 8.7l1 7.8l1 4.9l1 3.2l1 1.4l1 0.6l1 0.9l1 -0.4l1 1.3l1 0.4l1 0.2l1 -0.9l1 0.7l1 0.5l1 -0.2l1 0l1 -0.1l1 0.1l1 -0.9l1 -1.3l1 0l1 -0.2l1 -2.1l1 -1.9l1 -1.9l1 -4.5l1 -4.2l1 -5l1 -5.7l1 -6.7l1 -8.8l1 -9.8l1 -9.4l1 -10.7l1 -9.8l1 -8.8l1 -7l1 -3.6l1 -1.1l1 2.1l1 6.1l1 8.9l1 8.8l1 9.6l1 10.9l1 10.8l1 7.9l1 9l1 5.9l1 4.4l1 5.6l1 4.3l1 2l1 1.3l1 2.2l1 1.6l1 -0.5l1 1.4l1 0.6l1 0.8l1 -0.3l1 0.1l1 1l1 0.1l1 0.1l1 0l1 0.8l1 -0.4l1 1.4l1 -1l1 0.9l1 0.1l1 -0.1l1 -0.1l1 0.7l1 -0.3l1 -0.3l1 0.5l1 0.3l1 -0.8l1 1.4l1 -1.2l1 1.1l1 -0.1l1 -0.6l1 0.8l1 -0.2l1 0.7l1 -0.3l1 0.5l1 0.2l1 0.5l1 -0.8l1 1.3l1 -1.6l1 0.6l1 0.4l1 -0.4l1 -0.1l1 1l1 -0.9l1 0.4l1 0.8l1 0.1l1 -0.6l1 0.5l1 0l1 -0.1l1 -0.2l1 -0.1l1 0l1 1.5l1 -0.2l1 -0.1l1 0.2l1 0.6l1 0.2l1 -0.3l1 -0.4l1 0.9l1 -0.5l1 -0.4l1 1.3l1 0.3l1 -0.7l1 -0.1l1 0l1 -0.1l1 0.1l1 -0.1l1 0l1 0.2l1 0.3l1 0.2l1 0.2l1 -0.6l1 0.8l1 -0.6l1 0l1 0.8l1 -0.9l1 0.8l1 -0.8l1 0.8l1 0.6l1 0.1l1 -0.8l1 0.1l1 1.2l1 -0.6l1 0.5l1 -1.4l1 1.3l1 -0.5l1 -0.8l1 0.5l1 0.6l1 -0.4l1 -0.8l1 -0.2l1 1.3l1 -0.6l1 -0.2l1 0.1l1 -0.1l1 -0.3l1 0.6l1 0.2l1 -0.8l1 1.2l1 -0.8l1 0.5l1 0.2l1 0l1 0.3l1 -1.5l1 -0.2l1 0.1l1 0.2l1 0.1l1 -1.2l1 -0.5l1 -0.3l1 -0.8l1 0.3l1 -2.4l1 0.1l1 -1l1 -2.1l1 -1l1 -0.8l1 -0.6l1 0l1 0.2l1 1.6l1 1.2l1 0.4l1 1.8l1 0.4l1 0.7l1 1.1l1 0.4l1 1.3l1 0.2l1 0.2l1 0l1 -0.9l1 0.4l1 0.2l1 0.9l1 -1.2l1 0.9l1 -1.5l1 0.6l1 0l1 0.6l1 -0.2l1 -0.5l1 0.2l1 -0.9l1 -0.3l1 1.3l1 0.6l1 -1l1 -0.9l1 0.1l1 -1.5l1 0.3l1 -0.6l1 0.1l1 -1.1l1 -0.4l1 -1.9l1 -0.3l1 -1.1l1 0l1 -1l1 -0.6l1 -1.6l1 1.4l1 -1.1l1 0.3l1 1.5l1 0.1l1 0l1 1l1 0l1 1.1l1 1.5l1 0.2l1 0.9l1 0.1l1 1l1 0.6l1 0.5l1 1.5l1 -0.5l1 0.4l1 0.8l1 -0.3l1 0.7l1 -0.9l1 0.9l1 0.6l1 -0.4l1 0.7l1 -0.2l1 0.5l1 0.2l1 -0.6l1 -0.4l1 0l1 0.5l1 -0.2l1 -0.8l1 1.1l1 -0.1l1 -0.8l1 -0.1l1 -0.3l1 -0.9l1 0l1 -0.3l1 -0.8l1 -1.2l1 -0.8l1 -0.3l1 -0.8l1 -0.8l1 -1.3l1 0.2l1 -0.6l1 0l1 -0.6l1 1.1l1 0.1l1 1l1 -0.1l1 1.4l1 0.4l1 0.3l1 0.7l1 0l1 0.6l1 0.1l1 -0.1l1 -0.3l1 -0.4l1 -1.6l1 -0.3l1 -2.3l1 -0.5l1 0.8l1 -0.7l1 0.2l1 2.1l1 -0.5l1 1.5l1 0.6l1 1.4l1 0l1 -0.2l1 0.3l1 0.2l1 0.2l1 -0.5l1 -0.5l1 -0.9l1 -1.1l1 0.4l1 -1.7l1 0l1 -0.8l1 0.1l1 0.3l1 0.3l1 1.5l1 0.4l1 1.2l1 0.8l1 0.4l1 0.3l1 0.7l1 -0.1l1 0.8l1 -0.9l1 0.7l1 0.8l1 -0.7l1 1.1l1 0.4l1 -0.1l1 -0.2l1 1l1 0.6l1 -0.1l1 -1.2l1 1.6l1 -1l1 1.1l1 -0.6l1 0.4l1 0.4l1 -1l1 1.2l1 -0.5l1 0.4l1 -0.3l1 -0.1l1 -0.6l1 0.5l1 0.4l1 -0.8l1 1l1 -0.4l1 -1l1 0.6l1 0.1l1 -0.2l1 0.2l1 0.3l1 -0.6l1 0.4l1 -0.3l1 -0.4l1 0.7l1 -0.4l1 0.1l1 0.5l1 -1.3l1 1.2l1 0l1 -0.1l1 0.2l1 -0.1l1 0.1l1 -0.8l1 0.5l1 0.3l1 -0.2l1 0.1l1 -0.4l1 1.1l1 -0.8l1 0.3l1 0.1l1 -0.7l1 0l1 -0.3l1 0.7l1 0.4l1 -0.4l1 -0.9l1 1l1 0l1 -0.4l1 -0.9l1 -0.2l1 0.7l1 -0.4l1 1l1 0.4l1 0.1l1 -0.1l1 0.1l1 0.1l1 -0.4l1 -0.4l1 1.3l1 0l1 -1.8l1 1.6l1 -0.4l1 -0.4l1 1l1 -1.1l1 0.3l1 0.1l1 0.6l1 -0.8l1 0.4l1 -0.3l1 0.4l1 0.5l1 -0.2l1 -0.5l1 -0.1l1 -0.7l1 1.1l1 -0.7l1 0.4l1 -0.7l1 -0.3l1 -0.3l1 -0.9l1 0.8l1 -0.3l1 -0.9l1 0.3l1 -0.5l1 -0.5l1 -0.2l1 -0.4l1 0.2l1 1l1 0l1 -0.2l1 0.7l1 -0.2l1 0l1 0.6l1 -0.1l1 0.2l1 0.5l1 -0.5l1 1.2l1 -0.2l1 -0.4l1 0.6l1 -0.8l1 -0.1l1 0.5l1 0.3l1 -0.5l1 -0.3l1 1.4l1 -0.8l1 -0.6l1 0.5l1 0.7l1 -0.3l1 -0.3l1 1.8l1 -0.2l1 -1.2l1 1.2l1 0.1l1 -0.5l1 0.1l1 -0.2l1 0.4l1 0.5l1 -0.8l1 -0.3l1 0.7l1 -0.8l1 -0.5l1 0l1 0l1 0.5l1 0.1l1 0l1 -0.2l1 -1.2l1 0.9l1 -0.9l1 0.4l1 -0.2l1 -0.7l1 -0.2l1 -0.4l1 -0.3l1 -0.8l1 -0.3l1 -2l1 -1.6l1 -2.1l1 -2.9l1 -2.5l1 -4.1l1 -2.8l1 -3.3l1 -1.6l1 -0.9l1 1.6l1 3.7l1 3l1 3.5l1 2.7l1 2.3l1 2.9l1 2l1 0.5l1 0.5l1 1.6l1 0.8l1 -0.2l1 0.5l1 1.1l1 0.6l1 0.3l1 -0.7l1 0.6l1 -0.2l1 -0.2l1 0.3l1 0.6l1 -0.7l1 0.3l1 0.4l1 -0.2l1 -0.1l1 0.4l1 0.8l1 -0.3l1 -0.5l1 0.6l1 -0.2l1 0.3l1 -0.3l1 -0.7l1 0.2l1 0.3l1 -0.1l1 -0.4l1 0.2l1 -0.7l1 0.1l1 0.2l1 -0.8l1 1.3l1 -0.5l1 0.4l1 -0.3l1 0.8l1 -0.3l1 -0.1l1 0.8l1 -0.8l1 -0.5l1 1.3l1 -0.9l1 -0.4l1 0.2l1 0.6l1 -0.5l1 -0.8l1 0.2l1 0.9l1 -0.9l1 -0.1l1 -1l1 -0.1l1 0.7l1 -1.4l1 0l1 -0.1l1 -0.3l1 -0.8l1 0.2l1 -0.9l1 -0.4l1 0.7l1 -0.1l1 -0.1l1 0.4l1 -0.3l1 1l1 0.8l1 -1l1 0.8l1 0.5l1 0.1l1 0.9l1 0.8l1 -0.4l1 0.8l1 -0.4l1 0.3l1 -0.2l1 0.5l1 -0.5l1 1.2l1 -1l1 0.1l1 0.6l1 -0.4l1 0.6l1 0l1 -0.1l1 -0.9l1 0.7l1 0.1l1 -0.1l1 -0.2l1 -0.4l1 0l1 0.2l1 -0.3l1 -0.8l1 0.1l1 -0.1l1 -0.3l1 -0.9l1 0.9l1 -1.9l1 1l1 -0.2l1 0.2l1 0.3l1 0.1l1 0.7l1 0.2l1 0.2l1 0.2l1 0.1l1 0.6l1 0.3l1 -0.9l1 -0.1l1 0.1l1 -1.7l1 -0.1l1 -1.3l1 -0.7l1 -0.9l1 -0.7l1 -1.9l1 -0.2l1 -0.9l1 0.6l1 -0.6l1 1.8l1 1.2l1 1.1l1 0.6l1 0.4l1 0.4l1 1.3l1 0.4l1 -0.5l1 0.5l1 1l1 -0.1l1 -0.5l1 0.3l1 0.2l1 0.6l1 0.2l1 0.1l1 -0.2l1 0.2l1 -0.1l1 1l1 -1.4l1 1l1 0l1 -0.3l1 -1.4l1 0.7l1 -0.4l1 -0.7l1 -0.2l1 -0.3l1 -0.1l1 -1l1 0l1 -1.1l1 1l1 -1.9l1 0.3l1 -0.8l1 -0.2l1 0.4l1 0.3l1 -0.9l1 0.6l1 -0.3l1 0.6l1 -1.3l1 1.6l1 -0.2l1 0.4l1 0.2l1 -0.2l1 1.5l1 0.1l1 -0.3l1 0.5l1 0.4l1 -0.5l1 1.1l1 0.5l1 -0.1l1 0l1 -0.6l1 0.5l1 -0.4l1 0.5l1 0.5l1 1.2l1 -1.4l1 0l1 -0.3l1 -0.1l1 0.5l1 -0.9l1 0.1l1 0l1 -1l1 1.2l1 -1.3l1 0.2l1 0.6l1 -0.7l1 -0.9l1 1.6l1 0.6l1 0.1l1 0.8l1 0l1 1.1l1 0.3l1 -0.4l1 0.8l1 -0.5l1 0.7l1 0.3l1 -0.8l1 0.6l1 -1l1 0.4l1 -0.2l1 1l1 -0.8l1 1l1 -1.2l1 0.1l1 -0.4l1 0.4l1 -0.4l1 -0.1l1 0l1 -0.5l1 -0.8l1 -0.8l1 -0.1l1 -0.1l1 -1.2l1 -1.6l1 -1.6l1 -0.7l1 -1.8l1 -1.6l1 -1l1 -0.6l1 -0.1l1 1l1 1l1 1.7l1 1.2l1 1l1 2.1l1 1.8l1 -0.4l1 1.5l1 0.1l1 0.9l1 1.4l1 -0.5l1 -0.8l1 -0.1l1 -0.1l1 0.2l1 -0.7l1 -0.8l1 0.1l1 -1.7l1 -0.1l1 0.2l1 -1.5l1 -0.4l1 -0.7l1 0l1 0l1 0.6l1 0.3l1 0l1 2.1l1 0.4l1 1.6l1 0.5l1 0.6l1 0.8l1 0.5l1 -0.4l1 1.2l1 0.5l1 -0.6l1 -0.8l1 0.4l1 0.1l1 -0.5l1 -0.2l1 1l1 -0.9l1 -0.1l1 0.3l1 -0.5l1 1.4l1 -0.7l1 0.2l1 -0.6l1 0.5l1 0.8l1 -0.2l1 0l1 0.1l1 0.3l1 -1l1 1.6l1 -0.2l1 0l1 -1.3l1 1l1 0.6l1 -0.9l1 -0.2l1 -0.4l1 0.6l1 0.5l1 -1l1 0.3l1 0.9l1 -0.8l1 0.6l1 0l1 0.4l1 -0.8l1 0.4l1 -0.5l1 1l1 -0.7l1 0.9l1 -1.2l1 0.3l1 0.6l1 -0.5l1 0l1 -0.5l1 0l1 -0.3l1 0.2l1 0.2l1 0l1 -0.3l1 -1.2l1 1.1l1 0.1l1 -0.4l1 0.1l1 -0.8l1 0.7l1 0.9l1 0.5l1 -0.6l1 -0.3l1 0.4l1 0.2l1 -0.6l1 0.5l1 0.3l1 0.2l1 -0.6l1 -0.3l1 0.5l1 -0.1l1 0.1l1 -0.1l1 0.4l1 -0.3l1 0.6l1 -0.3l1 -0.1l1 1.1l1 -0.5l1 -0.1l1 -0.2l1 -0.7l1 1.1l1 0l1 -0.6l1 0.4l1 -0.5l1 0.4l1 0l1 -0.5l1 0.1l1 0.5l1 -0.5l1 -0.4l1 -0.1l1 0.8l1 0.9l1 -0.7l1 0.3l1 0.1l1 -0.3l1 0.6l1 -1.5l1 0.7l1 0.6l1 -0.5l1 0.3l1 0l1 -0.5l1 -0.8l1 0.2l1 0.6l1 0.9l1 -0.8l1 -1l1 1l1 0.1l1 0.1l1 0.3l1 -1.8l1 2.8l1 -0.7l1 -0.1l1 -0.2l1 -0.7l1 0.4l1 1l1 -0.6l1 0l1 -0.4l1 -0.1l1 0.2l1 0.4l1 0.1l1 -0.1l1 -1l1 0.3l1 0.1l1 -0.4l1 0.7l1 -0.8l1 1.5l1 -1.1l1 -0.2l1 -0.5l1 0.2l1 0.6l1 -1.5l1 0.3l1 0.6l1 -1.9l1 1.1l1 -0.6l1 0.8l1 -1.1l1 -0.3l1 0.4l1 0.8l1 -1.1l1 0.2l1 0l1 -0.5l1 0.2l1 0.1l1 0.4l1 -0.2l1 0l1 -0.5l1 1.8l1 -0.7l1 0.1l1 0.6l1 0.6l1 -0.5l1 0.2l1 -0.5l1 0.7l1 0.3l1 -0.4l1 0.7l1 -0.7l1 1.2l1 -1.5l1 1l1 -1l1 0.6l1 0.2l1 -1.5l1 0.6l1 -0.1l1 -0.7l1 0.5l1 1l1 -1l1 0.5l1 -0.3l1 0.3l1 0.9l1 0.5l1 -1l1 1.1l1 0l1 -1.1l1 1.1l1 -0.6l1 0l1 0.1l1 0.1l1 0.5l1 0.3l1 0.3l1 -1.1l1 1.4l1 -1.2l1 -0.5l1 1.1l1 0l1 0.2l1 -0.1l1 0.1l1 -1l1 0.1l1 -0.2l1 0.3l1 -0.5l1 0.7l1 -0.6l1 0l1 -0.7l1 -0.2l1 -0.2l1 0.1l1 -1.2l1 0.5l1 0.6l1 -0.3l1 0l1 -0.5l1 -0.4l1 0.1l1 -0.5l1 0.3l1 -0.6l1 -0.2l1 -0.2l1 -0.9l1 -0.3l1 -0.1l1 -0.1l1 0.5l1 -0.9l1 0l1 0.7l1 0.3l1 -0.3l1 0.5l1 -0.2l1 0.3l1 0.3l1 0.7l1 -0.1l1 0.2l1 -0.2l1 0.2l1 0.7l1 0.1l1 0.7l1 -0.4l1 0.6l1 -0.1l1 -0.3l1 0.2l1 0.6l1 0.4l1 -0.4l1 1.2l1 0l1 0.3l1 -0.2l1 0.4l1 0.1l1 -1.1l1 0.6l1 1.1l1 -1.2l1 0.6l1 0l1 -0.2l1 0.1l1 0.8l1 -1.8l1 0.3l1 1.4l1 -0.2l1 -0.7l1 1.1l1 -1.1l1 0.1l1 0.4l1 -0.1l1 0.3l1 -0.3l1 -0.1l1 0.3l1 0.6l1 -0.8l1 0l1 0.7l1 -0.4l1 1.1l1 0l1 -1.2l1 -0.6l1 0.4l1 0.7l1 -0.4l1 0.8l1 -1l1 0.3l1 0.3l1 0.6l1 -1l1 0.6l1 -0.1l1 0.1l1 -0.3l1 0l1 0.2l1 0.1l1 -0.6l1 0.6l1 0.1l1 0.5l1 -0.6l1 1l1 -1.5l1 0.2l1 0.4l1 0.4l1 0.7l1 -0.3l1 -0.1l1 -0.2l1 -0.6l1 1.2l1 -0.6l1 -0.8l1 0.2l1 -0.1l1 0.3l1 -0.1l1 0.1l1 -0.5l1 0.5l1 -0.1l1 -0.3l1 0.4l1 -0.2l1 0.1l1 0.3l1 -0.5l1 1.3l1 -0.7l1 -0.2l1 0.2l1 -0.5l1 0.6l1 -1.8l1 1.2l1 -0.4l1 -0.5l1 1.3l1 0l1 -0.6l1 0.8l1 0.4l1 -1.1l1 0.5l1 -0.1l1 -0.5l1 0l1 0.7l1 -1.1l1 0.5l1 0.3l1 0.1l1 -0.5l1 0.2l1 0.4l1 -0.2l1 0.3l1 -0.2l1 -0.2l1 -0.7l1 0.2l1 0l1 0.3l1 -0.6l1 -0.4l1 0.3l1 -0.6l1 0.6l1 1.1l1 -1.6l1 1.5l1 -1.2l1 0.3l1 0.4l1 0l1 0.1l1 0.3l1 0.3l1 0.2l1 -1.1l1 -0.3l1 -0.4l1 0.7l1 -0.3l1 0.2l1 -0.9l1 1.4l1 0l1 -0.4l1 0.1l1 -1l1 0.8l1 -0.2l1 -0.5l1 0.9l1 -1l1 0.1l1 0.6l1 -0.6l1 0.5l1 -0.5l1 -0.5l1 0.2l1 -0.3l1 0.2l1 0.2l1 0.2l1 0.2l1 -0.9l1 0.5l1 0.1l1 0.5l1 -0.1l1 -0.2l1 -0.4l1 0.4l1 -0.5l1 -0.2l1 0.8l1 -0.6l1 -0.3l1 0.7l1 -0.4l1 1.1l1 -0.5l1 -0.5l1 -0.6l1 -0.2l1 1.2l1 -1.1l1 -0.9l1 0.8l1 0.1l1 0.1l1 -1.1l1 1.2l1 0l1 0" stroke="#B177DE"/>
<path d="M281 931.5l1 0l1 0l1 -1.3l1 1l1 -0.1l1 -0.2l1 0.3l1 0l1 -0.7l1 0l1 0.2l1 0.5l1 0l1 -0.8l1 0.1l1 0.8l1 0.3l1 -0.6l1 -0.2l1 0.7l1 -0.5l1 0.5l1 0.5l1 -0.3l1 -0.1l1 0.3l1 -0.4l1 0.3l1 -0.1l1 0.3l1 -0.3l1 0l1 -0.2l1 0.1l1 -0.2l1 0l1 0.3l1 -1.3l1 1l1 -0.7l1 -0.4l1 0.4l1 0.1l1 0.3l1 -0.9l1 0.5l1 0l1 -0.8l1 0.2l1 0.7l1 0.1l1 0.2l1 -0.1l1 0l1 -0.1l1 0.5l1 -0.7l1 0.3l1 0.3l1 -0.8l1 1.2l1 -0.9l1 0.3l1 0.8l1 -1.2l1 0.1l1 0.8l1 -1.1l1 0.2l1 0.4l1 0l1 0l1 -0.1l1 0.4l1 -0.1l1 -0.2l1 -0.5l1 0l1 -0.5l1 1.1l1 -1l1 1.1l1 0.5l1 -1.2l1 0.2l1 0.1l1 0.6l1 -0.6l1 0.3l1 -0.1l1 0.1l1 0.7l1 -0.9l1 0.4l1 0.2l1 0.2l1 -0.8l1 1l1 -0.3l1 0.3l1 -0.5l1 -0.8l1 0.3l1 0.5l1 -0.4l1 -0.1l1 0.6l1 0.1l1 -1.1l1 0.7l1 -1.5l1 0l1 1.3l1 -0.4l1 0.4l1 0l1 -0.2l1 0.4l1 -0.1l1 -0.7l1 0.7l1 -0.1l1 0.6l1 -1.3l1 0.4l1 -0.3l1 0l1 0.7l1 -0.6l1 -0.5l1 0.4l1 0.4l1 -0.6l1 0.4l1 0.9l1 -0.2l1 -0.2l1 -0.1l1 0.2l1 -0.6l1 0.8l1 -0.6l1 -0.5l1 -1.1l1 -0.1l1 0.3l1 -0.1l1 -0.1l1 0.7l1 0.5l1 -0.4l1 0.4l1 0.1l1 0l1 0.9l1 0l1 0.1l1 -0.6l1 0.2l1 0.5l1 -0.1l1 0.3l1 -0.3l1 0.6l1 0.6l1 -0.1l1 0.1l1 -0.6l1 0.4l1 -0.4l1 0.5l1 -0.5l1 -0.1l1 -0.1l1 0.6l1 -0.2l1 -0.1l1 -0.5l1 0.5l1 -0.7l1 1.2l1 -0.7l1 0.1l1 -0.1l1 -0.7l1 0.1l1 0.5l1 0.6l1 -1.1l1 0.1l1 0.2l1 -0.8l1 -0.1l1 0.4l1 0.1l1 -0.3l1 0.7l1 -0.8l1 0.1l1 0.4l1 0.3l1 -1.2l1 0.7l1 0.8l1 -0.9l1 0.4l1 0l1 0.2l1 0.3l1 0.7l1 0.3l1 0l1 -0.7l1 -0.9l1 0.7l1 -0.2l1 0.2l1 -0.3l1 -0.8l1 0.8l1 -0.9l1 0.6l1 0.5l1 0l1 0.6l1 -1.5l1 1.1l1 0.2l1 -0.3l1 0.4l1 -0.7l1 0.6l1 -0.1l1 -0.6l1 0l1 0.2l1 -0.3l1 0.7l1 -0.4l1 0.4l1 -0.1l1 -0.4l1 -0.1l1 -0.3l1 0.1l1 0l1 0.5l1 -0.5l1 0.4l1 0.1l1 -0.2l1 0.2l1 0.8l1 0.1l1 -0.9l1 0.4l1 0l1 0.1l1 0.8l1 -0.2l1 0l1 0.1l1 -1l1 -0.1l1 0l1 0.2l1 -0.6l1 0.2l1 0l1 -0.1l1 -0.3l1 -0.5l1 -0.2l1 1.1l1 -0.3l1 -0.5l1 0.2l1 0l1 -0.5l1 0.8l1 -0.4l1 0.3l1 0.4l1 -0.3l1 0.3l1 0l1 -0.1l1 0l1 0.8l1 -0.8l1 0.8l1 -1l1 0.7l1 -0.1l1 -0.3l1 -0.8l1 1.8l1 -1.1l1 0.2l1 0.5l1 -0.2l1 -0.1l1 -0.4l1 -0.7l1 0.8l1 -0.9l1 0.3l1 0l1 0l1 -0.7l1 0.1l1 0.2l1 -0.5l1 0.6l1 0l1 0.1l1 0.7l1 -0.1l1 0.9l1 0.1l1 -1.4l1 0.7l1 -0.6l1 0.5l1 -0.2l1 0.2l1 -0.4l1 0.1l1 -0.6l1 -1l1 0.5l1 0.2l1 0.1l1 -0.2l1 1.1l1 -0.8l1 0.6l1 -0.7l1 0.8l1 -1.2l1 0.8l1 -0.8l1 0.6l1 0.4l1 -1.3l1 0.2l1 0.3l1 -0.3l1 -0.7l1 0.9l1 -0.6l1 0.3l1 -0.5l1 -0.7l1 0.2l1 0.6l1 -1.2l1 0.2l1 0.2l1 -0.1l1 -0.2l1 -1.1l1 1.1l1 -1.3l1 -0.4l1 -0.7l1 -0.9l1 -1.3l1 -1l1 -0.7l1 -2.5l1 -1.9l1 -0.1l1 -1.2l1 -0.8l1 -0.3l1 -1.6l1 -0.1l1 -0.5l1 -0.4l1 -0.9l1 -1.7l1 -1.1l1 -0.5l1 -1.5l1 0.2l1 -1.4l1 -0.9l1 -1.2l1 -0.2l1 -1.9l1 -2.2l1 -2.1l1 -3.7l1 -4.4l1 -5.8l1 -8.9l1 -10.7l1 -15l1 -19.8l1 -26.1l1 -30.5l1 -28.5l1 -13.7l1 8l1 26.4l1 30.3l1 27.5l1 21l1 16.1l1 12l1 9.9l1 6.3l1 5.4l1 3.6l1 4l1 1.4l1 4.2l1 1.3l1 1.7l1 0.7l1 1.4l1 1.7l1 0.6l1 1l1 1.1l1 0.4l1 -0.4l1 0.9l1 0.4l1 0.6l1 0l1 0.4l1 0.9l1 0.4l1 0.8l1 -0.1l1 0.9l1 -1.2l1 0.2l1 0.7l1 -0.4l1 -0.5l1 0.4l1 -0.1l1 -0.1l1 -0.6l1 0.4l1 0.7l1 0.7l1 1.2l1 0.1l1 1.1l1 -0.4l1 1.7l1 0.8l1 -0.3l1 0.8l1 -0.8l1 0.8l1 -0.4l1 0.8l1 0.2l1 -0.7l1 0.2l1 0.2l1 1.3l1 -1l1 0.1l1 0.1l1 0.2l1 -0.1l1 -0.2l1 0.4l1 1.1l1 -0.4l1 -0.1l1 -0.2l1 0.6l1 0.2l1 -0.1l1 0.7l1 -0.4l1 0.3l1 0.5l1 -0.1l1 0.5l1 -0.4l1 0l1 0.5l1 -0.2l1 0.3l1 -0.4l1 -0.2l1 0.1l1 0l1 -0.8l1 0.3l1 -0.1l1 0.5l1 -0.7l1 0.7l1 -1l1 0.5l1 0.5l1 -0.6l1 0.6l1 -1.3l1 0.8l1 0l1 -0.1l1 -0.6l1 0.8l1 -1.5l1 0.6l1 -1.6l1 -1.9l1 -3.1l1 -2.3l1 0.3l1 2.1l1 3l1 1.8l1 1.6l1 0.7l1 0.6l1 -1.4l1 0.5l1 0.1l1 -0.3l1 -0.9l1 -0.3l1 -0.3l1 -0.2l1 -0.6l1 -0.1l1 -0.1l1 0.6l1 1l1 -0.5l1 1.2l1 0.8l1 -0.3l1 1.1l1 -0.8l1 0.8l1 -0.8l1 -0.6l1 0.4l1 0.3l1 -1.4l1 -0.2l1 -1.1l1 -0.6l1 -0.1l1 -0.7l1 -0.1l1 0.1l1 -1l1 0.4l1 0.7l1 1.5l1 -0.5l1 0.5l1 1l1 1.2l1 -0.5l1 0.5l1 0.5l1 0.6l1 0.9l1 -1.2l1 0.1l1 0.9l1 0.3l1 -1.1l1 0.8l1 0.7l1 -0.5l1 0.4l1 -0.1l1 0.2l1 -0.1l1 -0.1l1 0.3l1 -0.7l1 0.2l1 0.4l1 -0.7l1 0l1 -0.1l1 0l1 1.2l1 -0.6l1 0.6l1 -0.4l1 -0.2l1 -0.1l1 0.2l1 -0.1l1 0.4l1 -0.7l1 0.4l1 0.2l1 -0.3l1 0l1 0.3l1 -0.1l1 -0.3l1 0l1 -0.3l1 0.3l1 -0.5l1 -0.8l1 0.2l1 0l1 -0.5l1 -1.1l1 0l1 -0.8l1 -0.8l1 -0.6l1 -1.8l1 -0.7l1 -1.3l1 -0.5l1 -0.7l1 -0.9l1 -0.4l1 -0.8l1 0.6l1 -0.5l1 1.6l1 -0.2l1 -0.9l1 -0.5l1 1.5l1 -1.2l1 0.1l1 -1.2l1 0l1 -0.7l1 0.3l1 -0.2l1 1.2l1 -0.1l1 1.9l1 0.7l1 1.5l1 0.4l1 1.2l1 2.4l1 0.1l1 1.3l1 0.8l1 0.5l1 1l1 -0.2l1 0.4l1 1.2l1 -0.5l1 0.7l1 0.1l1 0.4l1 -0.4l1 -0.9l1 0.5l1 0.1l1 0.7l1 -0.3l1 -0.4l1 0.4l1 -0.4l1 0.4l1 -0.2l1 0.3l1 -0.3l1 0.2l1 -0.4l1 0.2l1 -0.3l1 0.4l1 -0.1l1 -0.1l1 0l1 0.1l1 0.3l1 -1l1 1.4l1 -1.4l1 0.8l1 -0.1l1 0.4l1 -0.4l1 -0.2l1 -0.3l1 0l1 -0.1l1 -1.7l1 -2.2l1 -1.1l1 -1.7l1 -1.1l1 -3.9l1 -1.4l1 0l1 0.9l1 1.3l1 3.3l1 1.4l1 2.3l1 2.2l1 0l1 1.2l1 1.3l1 -0.4l1 -0.1l1 0.3l1 0.6l1 -0.9l1 0.4l1 -0.3l1 0.1l1 1l1 -0.6l1 -0.2l1 0.2l1 -0.5l1 -0.4l1 0.8l1 -0.4l1 -1.1l1 0.2l1 -0.4l1 -1.3l1 -1.2l1 -2.2l1 -1.6l1 -3.2l1 -1.8l1 -4l1 -3.2l1 -4.9l1 -3.4l1 -4.7l1 -2.4l1 -1.3l1 -0.2l1 1.3l1 2.2l1 4.9l1 3.8l1 4.4l1 4l1 3l1 3.5l1 3.5l1 0.8l1 2.2l1 0.9l1 1.9l1 0.1l1 0l1 0.6l1 0l1 -0.1l1 0l1 1l1 0l1 0.7l1 -0.3l1 0.5l1 0.8l1 -1.2l1 0.1l1 1l1 0.6l1 -1.2l1 -0.3l1 0.6l1 0l1 0.5l1 -0.7l1 0.4l1 0l1 -0.5l1 0l1 0.8l1 0.1l1 -0.5l1 1l1 -0.2l1 -0.2l1 0.1l1 0l1 0.2l1 0.1l1 -0.3l1 -0.9l1 0.9l1 -0.3l1 0l1 0.8l1 -1l1 1.2l1 -0.6l1 -0.2l1 0.3l1 1.3l1 -0.3l1 -0.7l1 0.5l1 0.3l1 -1.2l1 0.2l1 0.5l1 -0.2l1 -0.4l1 0.8l1 -0.5l1 0.1l1 0.7l1 -0.8l1 0.8l1 -0.9l1 -0.2l1 0.1l1 0.3l1 -0.1l1 -0.2l1 -0.8l1 0.2l1 0.3l1 0.4l1 0.3l1 -1.7l1 1l1 -0.2l1 0.1l1 0.1l1 -0.3l1 -0.1l1 1l1 0l1 -0.4l1 0.2l1 -0.2l1 -0.2l1 0.9l1 -0.4l1 -0.2l1 0.3l1 0.9l1 -0.4l1 -0.1l1 0l1 0.4l1 0l1 -0.8l1 0.4l1 -0.2l1 0.3l1 -0.1l1 -0.8l1 1.2l1 -0.4l1 -0.9l1 1.2l1 -0.5l1 0.1l1 -0.1l1 0.2l1 -0.2l1 -0.4l1 0.5l1 0.4l1 0l1 0.4l1 -0.3l1 -0.8l1 1.1l1 -0.7l1 -0.4l1 0.3l1 -0.6l1 0.6l1 -0.7l1 0.9l1 -1.1l1 -0.4l1 -0.2l1 -0.8l1 0.4l1 -0.2l1 -0.1l1 -1l1 0.7l1 0.3l1 -0.9l1 0.1l1 0.2l1 -0.4l1 0.4l1 0.8l1 0l1 -0.3l1 0l1 2l1 -0.5l1 -0.7l1 0.9l1 0.3l1 -0.2l1 -0.8l1 1.5l1 -0.5l1 -0.3l1 0.3l1 -0.4l1 -0.1l1 0.6l1 -1l1 1.3l1 -0.2l1 0.2l1 0.2l1 0.3l1 0l1 -0.2l1 -0.5l1 0.2l1 -0.7l1 -0.4l1 0.4l1 -0.3l1 0l1 -1.7l1 0.8l1 -0.3l1 -0.6l1 0.3l1 -1.2l1 0.2l1 -0.5l1 0l1 -0.5l1 0.3l1 0.3l1 -0.1l1 0.3l1 -0.3l1 1.2l1 -0.7l1 0.5l1 0.5l1 -0.1l1 0.6l1 0l1 0.8l1 -0.3l1 0.2l1 -0.2l1 0.7l1 0.5l1 0l1 -0.4l1 0.3l1 0.3l1 0.3l1 -0.4l1 1.4l1 -0.8l1 0.1l1 -0.2l1 0.2l1 0.8l1 -1.2l1 0.2l1 -0.2l1 0.2l1 0.7l1 -1.1l1 0l1 -0.8l1 0.4l1 0.1l1 -0.6l1 -0.2l1 0.2l1 -0.4l1 -0.5l1 -0.5l1 -0.6l1 1.1l1 -1.6l1 0.6l1 -0.7l1 -0.4l1 0.4l1 -0.8l1 0.8l1 -0.9l1 0.7l1 0.5l1 -0.7l1 1.5l1 -0.2l1 -0.9l1 1.8l1 0.5l1 -0.6l1 0.3l1 0.5l1 -0.7l1 1l1 0.5l1 -0.4l1 0.8l1 0.5l1 -1.6l1 0.1l1 0.5l1 0.6l1 -0.1l1 -0.6l1 -0.1l1 0.1l1 0.9l1 -1.1l1 0l1 0.6l1 -0.6l1 -0.4l1 0.8l1 -0.6l1 -0.7l1 0l1 0.3l1 -0.8l1 0.2l1 0l1 -0.1l1 -1.1l1 0.6l1 0.2l1 0.4l1 0.4l1 0.4l1 -0.4l1 -0.1l1 0.9l1 0l1 1.2l1 -0.2l1 0.1l1 0.6l1 -0.5l1 0.4l1 0.2l1 0.6l1 0.2l1 -0.3l1 -0.1l1 -0.4l1 0.2l1 -0.3l1 0.5l1 -0.8l1 0.1l1 0.1l1 0.3l1 -0.6l1 0.2l1 -0.2l1 -0.2l1 1.1l1 -0.2l1 -0.8l1 0.2l1 0.7l1 -0.5l1 -0.3l1 0.9l1 -0.8l1 0l1 0.4l1 -0.6l1 0.2l1 0l1 0.2l1 -0.5l1 0.8l1 -0.3l1 0.7l1 -0.6l1 -0.2l1 0l1 -0.1l1 0.5l1 0l1 0.4l1 -0.2l1 -0.4l1 0.8l1 -0.5l1 0.3l1 0.5l1 -0.1l1 -0.7l1 0.3l1 0.4l1 -0.2l1 -0.3l1 0l1 -1.3l1 0.7l1 -0.6l1 0.2l1 0l1 0.3l1 0.3l1 -0.1l1 -0.2l1 -0.2l1 0.7l1 -0.4l1 -0.8l1 0.8l1 0.2l1 -0.5l1 0.5l1 0.6l1 -0.7l1 0.1l1 0.1l1 -0.4l1 0.3l1 -0.2l1 0.3l1 -0.1l1 0.7l1 -0.5l1 0.4l1 -0.9l1 0.5l1 0.2l1 0l1 -0.5l1 0.2l1 0l1 -0.2l1 -0.1l1 0.3l1 -0.7l1 -0.3l1 0.5l1 0.2l1 -1.1l1 1.5l1 -0.6l1 0.2l1 -0.5l1 0.3l1 0.8l1 0l1 -0.5l1 -0.3l1 0.1l1 0.6l1 -0.8l1 -0.1l1 0.4l1 0.5l1 -0.8l1 0.7l1 0l1 0l1 -0.1l1 0.5l1 -0.1l1 -0.8l1 1.2l1 -0.5l1 0l1 -0.3l1 0l1 -0.9l1 0.9l1 0.3l1 0l1 -0.5l1 -0.8l1 0.5l1 0.3l1 0.6l1 -1.3l1 0.7l1 0.2l1 -0.1l1 -0.3l1 -1.1l1 1.5l1 -0.2l1 0.2l1 -0.5l1 0.2l1 0.8l1 -0.6l1 0.1l1 -0.3l1 0.7l1 -1.3l1 0.3l1 0.3l1 -0.3l1 0.2l1 -0.3l1 0.3l1 -0.9l1 -0.1l1 0.2l1 -0.8l1 1.4l1 -1l1 0.8l1 0.1l1 -0.3l1 -0.5l1 -0.6l1 -1l1 0.6l1 -1l1 0l1 -1.7l1 -0.6l1 -1.3l1 -0.4l1 -0.9l1 0l1 -0.4l1 1.1l1 1.1l1 1.6l1 0.5l1 0.3l1 2l1 0.2l1 0.8l1 -0.3l1 -0.7l1 1.3l1 0l1 0.7l1 -0.7l1 0.3l1 -0.2l1 0.7l1 -0.5l1 1l1 -0.3l1 0.1l1 -0.4l1 0.3l1 0.3l1 -0.7l1 1l1 -0.5l1 0.6l1 0.4l1 -0.2l1 -1.1l1 1l1 -0.6l1 -0.1l1 0.1l1 -0.4l1 0.6l1 -0.4l1 0.8l1 -0.3l1 -1.2l1 0.7l1 -0.1l1 0.1l1 0.1l1 0.3l1 -0.2l1 -0.3l1 0.6l1 0.2l1 -0.4l1 0.4l1 -0.3l1 -0.4l1 0l1 0.1l1 0.2l1 -0.1l1 0.3l1 0l1 -0.9l1 -0.1l1 0.4l1 0.2l1 0.2l1 -0.1l1 -0.1l1 -0.6l1 0.5l1 -0.5l1 0.5l1 0.3l1 -0.6l1 0.2l1 1.1l1 -1.2l1 0.1l1 -0.2l1 -0.1l1 1l1 -0.7l1 0l1 -0.1l1 -0.8l1 1.4l1 -0.5l1 0.1l1 0.6l1 -0.7l1 0.1l1 0l1 0.4l1 -1.1l1 0.3l1 -0.7l1 0.9l1 0.2l1 -0.5l1 1l1 -0.5l1 0.6l1 -0.6l1 0.8l1 -0.8l1 0.5l1 0.1l1 -0.1l1 1l1 0l1 -0.6l1 0.4l1 -0.4l1 -0.1l1 0.1l1 -0.6l1 0.2l1 -0.1l1 -0.5l1 -0.1l1 0.5l1 -0.3l1 1l1 -0.1l1 -1.2l1 0.5l1 -0.9l1 0.5l1 -0.1l1 0.1l1 -0.6l1 1l1 -0.1l1 -0.5l1 0.2l1 0.3l1 0.1l1 -1.4l1 1l1 -1.7l1 0.1l1 -0.2l1 0.4l1 -0.8l1 -0.4l1 0l1 -0.8l1 -0.4l1 0.7l1 -0.6l1 -0.2l1 0.2l1 1.2l1 1.2l1 0l1 0.1l1 0.9l1 -0.7l1 1.1l1 -0.1l1 1l1 -0.9l1 0.7l1 -0.2l1 -0.1l1 0.2l1 -0.4l1 0.6l1 -0.7l1 -0.9l1 1.4l1 0.1l1 -0.1l1 0.5l1 -0.1l1 -0.5l1 -0.3l1 0.6l1 0.5l1 0.5l1 -0.7l1 0.1l1 0.9l1 -1.1l1 -0.1l1 -0.2l1 0.9l1 -0.5l1 -0.1l1 0.2l1 -0.4l1 0.1l1 -0.3l1 0.2l1 0l1 0l1 -0.7l1 0.4l1 0l1 -0.1l1 0.3l1 0.8l1 -0.4l1 -0.3l1 0.2l1 0.4l1 -1l1 0.7l1 0.5l1 0.1l1 -0.3l1 -0.1l1 -1l1 0.4l1 0.3l1 0.2l1 0l1 -1.1l1 0.7l1 0.4l1 -0.4l1 0.2l1 0.3l1 -0.1l1 0l1 0.2l1 0.2l1 -0.6l1 -0.3l1 0.2l1 0.1l1 0.2l1 -0.5l1 0.3l1 0.3l1 0.7l1 -0.3l1 -0.2l1 0.4l1 -0.2l1 0.1l1 0.3l1 -0.2l1 -0.1l1 0.2l1 -0.5l1 0.3l1 -0.9l1 0.7l1 0.8l1 -0.8l1 0.2l1 -0.1l1 -0.2l1 0.6l1 -0.2l1 0.5l1 -0.8l1 0.4l1 -0.2l1 -0.1l1 0.4l1 -1l1 -0.3l1 0.9l1 -1.4l1 -0.5l1 -0.2l1 -1.1l1 0.1l1 -1.2l1 0.1l1 -0.3l1 0.7l1 -0.3l1 0.6l1 0.2l1 -0.6l1 0.9l1 0.1l1 0.4l1 1l1 0.4l1 -0.3l1 0.3l1 0.2l1 0.1l1 0.1l1 -0.6l1 0.7l1 -0.6l1 -0.4l1 0.3l1 0l1 0l1 -0.4l1 -0.2l1 -0.5l1 0.4l1 -0.1l1 0l1 -0.3l1 1.1l1 -0.2l1 0.1l1 -0.1l1 0l1 0.6l1 -0.8l1 0.4l1 0.1l1 0.6l1 -0.1l1 1l1 -1.1l1 1.5l1 -0.3l1 0.5l1 -0.4l1 0.8l1 -0.4l1 0.2l1 -0.7l1 0.8l1 -0.2l1 -0.9l1 0.7l1 -0.2l1 0.5l1 -0.7l1 0.3l1 0.3l1 -1l1 1l1 -0.8l1 -0.3l1 -0.6l1 -0.3l1 1l1 -0.7l1 -0.2l1 0.8l1 0l1 0l1 -0.5l1 -0.1l1 1.4l1 -0.3l1 0.1l1 1l1 -0.8l1 0.3l1 0.7l1 -0.7l1 -0.5l1 -0.1l1 0.8l1 -1.1l1 0.8l1 0.3l1 -0.7l1 0.3l1 -0.3l1 0.6l1 -0.5l1 -0.4l1 0.4l1 -0.1l1 -0.3l1 0.1l1 -0.4l1 0.2l1 0.7l1 -1l1 0.9l1 -0.1l1 -0.2l1 0.8l1 -0.3l1 -0.5l1 0.4l1 0.2l1 -1l1 0.6l1 -0.2l1 0.2l1 0.6l1 -1.2l1 0.1l1 -0.4l1 0.5l1 0.2l1 -1.3l1 1.7l1 0l1 -1.7l1 0.5l1 0.8l1 -0.1l1 0.5l1 -0.6l1 0.7l1 -1l1 0.7l1 -0.3l1 0.1l1 -0.5l1 0.6l1 0.8l1 -0.8l1 0.2l1 0.1l1 -0.6l1 0.4l1 0.1l1 -0.5l1 -0.7l1 1.3l1 -0.7l1 -0.2l1 -0.1l1 -0.2l1 -0.4l1 0.6l1 0.1l1 0.3l1 0.3l1 -1l1 0.9l1 -0.6l1 0.2l1 -0.7l1 0.6l1 -0.6l1 0.7l1 -0.8l1 0.5l1 -0.2l1 0.3l1 -0.1l1 0l1 -0.2l1 0.7l1 0l1 -0.5l1 0.8l1 -0.5l1 0.4l1 0.1l1 0.1l1 0.4l1 -1.1l1 1.2l1 -1.3l1 1.1l1 -0.4l1 -0.9l1 0.7l1 -0.4l1 -0.4l1 0.9l1 0l1 -0.3l1 0.6l1 -0.6l1 -0.2l1 0.7l1 -0.8l1 0.7l1 0.1l1 -0.3l1 0l1 0.1l1 -0.1l1 -0.4l1 -1.2l1 1.3l1 -0.4l1 1l1 -0.6l1 0.2l1 0.3l1 0.2l1 -0.8l1 1.3l1 -0.4l1 -0.1l1 -0.6l1 1.3l1 -0.5l1 0.2l1 -0.6l1 0.9l1 -0.2l1 -0.6l1 0.8l1 -1.3l1 0.8l1 -0.1l1 0l1 -0.6l1 0.1l1 0.5l1 0l1 -0.5l1 -0.2l1 -0.1l1 0.7l1 -0.7l1 -0.2l1 -0.6l1 0.1l1 0.4l1 -0.3l1 0.8l1 0.1l1 -0.2l1 0.4l1 0.2l1 -0.6l1 1.1l1 -1.4l1 1.8l1 -1.4l1 0.6l1 -0.2l1 0.2l1 -0.5l1 0.5l1 -0.9l1 0.9l1 -0.4l1 0.2l1 0.3l1 -0.9l1 0.2l1 -0.1l1 0.3l1 0.1l1 0.2l1 -0.2l1 -0.2l1 0.3l1 0.1l1 0l1 0.4l1 -1.1l1 0.3l1 -0.7l1 0.2l1 0.5l1 0.3l1 -0.7l1 0.4l1 -0.2l1 0.2l1 -0.1l1 -0.3l1 -0.7l1 0.3l1 0.8l1 -0.2l1 0.9l1 -0.9l1 0.4l1 -0.9l1 0l1 0.6l1 0.6l1 -0.5l1 -0.3l1 0.3l1 0.1l1 0l1 -0.2l1 -0.4l1 -0.1l1 0.3l1 0.2l1 -0.5l1 1.2l1 -0.4l1 -0.4l1 0.5l1 0.7l1 -0.9l1 0.1l1 0.3l1 -1l1 0.4l1 -0.1l1 0.7l1 -1l1 0.8l1 -0.4l1 0.1l1 -0.1l1 0.8l1 -0.9l1 -0.2l1 0.7l1 -0.4l1 0.4l1 -0.3l1 0l1 0l1 -0.7l1 -0.2l1 1.6l1 -1.3l1 0.6l1 -0.6l1 0.4l1 -0.1l1 0.7l1 -0.6l1 -0.6l1 0.1l1 0.7l1 0.2l1 0.5l1 0.1l1 -1.4l1 0.5l1 -0.4l1 0.7l1 0.2l1 -1l1 1.1l1 0l1 -0.4l1 -0.1l1 0.9l1 -0.7l1 -0.3l1 0.5l1 0.4l1 -0.1l1 -1.1l1 0.3l1 0.4l1 0.2l1 0l1 -0.6l1 0.9l1 -0.2l1 -0.8l1 0.3l1 0.3l1 -0.6l1 0.7l1 0l1 -0.3l1 0.3l1 0.5l1 -1.1l1 0.4l1 -0.4l1 0.7l1 -0.2l1 -0.5l1 -0.3l1 0.5l1 -0.4l1 -0.5l1 0l1 0.3l1 0.9l1 -0.5l1 0l1 -0.2l1 0.2l1 0.2l1 -1l1 0.7l1 0.1l1 0l1 0l1 -1.1l1 1.2l1 -0.6l1 0.9l1 -0.6l1 0.1l1 0.1l1 -0.8l1 0.8l1 -0.5l1 0.9l1 -0.6l1 -0.2l1 0.9l1 -0.6l1 -0.3l1 0.4l1 -0.1l1 0.2l1 -0.5l1 0.8l1 -0.3l1 0.6l1 -0.5l1 -0.6l1 0.9l1 -0.5l1 0.1l1 -1l1 0.5l1 1.1l1 -0.1l1 -1.1l1 0.8l1 -0.1l1 0.4l1 -1l1 -0.3l1 0.7l1 -0.4l1 0l1 -0.2l1 0.8l1 -0.8l1 0.8l1 -0.1l1 -0.5l1 0.7l1 0.1l1 -0.3l1 -0.2l1 0.4l1 -0.6l1 0.4l1 0.3l1 -1.3l1 -0.3l1 0.9l1 -0.7l1 0l1 0.2l1 -0.4l1 0.1l1 -0.2l1 0.3l1 0.4l1 0.5l1 -0.3l1 0.5l1 0.3l1 0.2l1 -0.1l1 0.8l1 -1l1 0.7l1 -0.1l1 -0.1l1 -0.7l1 0.6l1 -0.3l1 -0.8l1 0.3l1 -0.5l1 0.7l1 0.4l1 -0.2l1 -0.8l1 0l1 0.3l1 0l1 0.3l1 -0.4l1 0.5l1 -0.6l1 0.7l1 -1l1 0.4l1 0.3l1 0.3l1 0l1 -0.6l1 -0.1l1 0.5l1 0l1 -0.2l1 0.1l1 -0.5l1 0.7l1 0.1l1 -0.7l1 -0.1l1 0.8l1 -0.1l1 -0.7l1 0l1 -0.5l1 0.9l1 -0.1l1 -0.1l1 0.9l1 -1l1 0l1 0l1 0M281 934.1l1 0l1 0l1 -1.3l1 1l1 -0.1l1 -0.2l1 0.3l1 0l1 -0.7l1 0l1 0.2l1 0.5l1 0l1 -0.8l1 0.1l1 0.8l1 0.3l1 -0.6l1 -0.2l1 0.7l1 -0.5l1 0.5l1 0.5l1 -0.3l1 -0.1l1 0.3l1 -0.4l1 0.3l1 -0.1l1 0.3l1 -0.3l1 0l1 -0.2l1 0.1l1 -0.2l1 0l1 0.3l1 -1.3l1 1l1 -0.7l1 -0.4l1 0.4l1 0.1l1 0.3l1 -0.9l1 0.5l1 0l1 -0.8l1 0.2l1 0.7l1 0.1l1 0.2l1 -0.1l1 0l1 -0.1l1 0.5l1 -0.7l1 0.3l1 0.3l1 -0.8l1 1.2l1 -0.9l1 0.3l1 0.8l1 -1.2l1 0.1l1 0.8l1 -1.1l1 0.2l1 0.4l1 0l1 0l1 -0.1l1 0.4l1 -0.1l1 -0.2l1 -0.5l1 0l1 -0.5l1 1.1l1 -1l1 1.1l1 0.5l1 -1.2l1 0.2l1 0.1l1 0.6l1 -0.6l1 0.3l1 -0.1l1 0.1l1 0.7l1 -0.9l1 0.4l1 0.2l1 0.2l1 -0.8l1 1l1 -0.3l1 0.3l1 -0.5l1 -0.8l1 0.3l1 0.5l1 -0.4l1 -0.1l1 0.6l1 0.1l1 -1.1l1 0.7l1 -1.5l1 0l1 1.3l1 -0.4l1 0.4l1 0l1 -0.2l1 0.4l1 -0.1l1 -0.7l1 0.7l1 -0.1l1 0.6l1 -1.3l1 0.4l1 -0.3l1 0l1 0.7l1 -0.6l1 -0.5l1 0.4l1 0.4l1 -0.6l1 0.4l1 0.9l1 -0.2l1 -0.2l1 -0.1l1 0.2l1 -0.6l1 0.8l1 -0.6l1 -0.5l1 -1.1l1 -0.1l1 0.3l1 -0.1l1 -0.1l1 0.7l1 0.5l1 -0.4l1 0.4l1 0.1l1 0l1 0.9l1 0l1 0.1l1 -0.6l1 0.2l1 0.5l1 -0.1l1 0.3l1 -0.3l1 0.6l1 0.6l1 -0.1l1 0.1l1 -0.6l1 0.4l1 -0.4l1 0.5l1 -0.5l1 -0.1l1 -0.1l1 0.6l1 -0.2l1 -0.1l1 -0.5l1 0.5l1 -0.7l1 1.2l1 -0.7l1 0.1l1 -0.1l1 -0.7l1 0.1l1 0.5l1 0.6l1 -1.1l1 0.1l1 0.2l1 -0.8l1 -0.1l1 0.4l1 0.1l1 -0.3l1 0.7l1 -0.8l1 0.1l1 0.4l1 0.3l1 -1.2l1 0.7l1 0.8l1 -0.9l1 0.4l1 0l1 0.2l1 0.3l1 0.7l1 0.3l1 0l1 -0.7l1 -0.9l1 0.7l1 -0.2l1 0.2l1 -0.3l1 -0.8l1 0.8l1 -0.9l1 0.6l1 0.5l1 0l1 0.6l1 -1.5l1 1.1l1 0.2l1 -0.3l1 0.4l1 -0.7l1 0.6l1 -0.1l1 -0.6l1 0l1 0.2l1 -0.3l1 0.7l1 -0.4l1 0.4l1 -0.1l1 -0.4l1 -0.1l1 -0.3l1 0.1l1 0l1 0.5l1 -0.5l1 0.4l1 0.1l1 -0.2l1 0.2l1 0.8l1 0.1l1 -0.9l1 0.4l1 0l1 0.1l1 0.8l1 -0.2l1 0l1 0.1l1 -1l1 -0.1l1 0l1 0.2l1 -0.6l1 0.2l1 0l1 -0.1l1 -0.3l1 -0.5l1 -0.2l1 1.1l1 -0.3l1 -0.5l1 0.2l1 0l1 -0.5l1 0.8l1 -0.4l1 0.3l1 0.4l1 -0.3l1 0.3l1 0l1 -0.1l1 0l1 0.8l1 -0.8l1 0.8l1 -1l1 0.7l1 -0.1l1 -0.3l1 -0.8l1 1.8l1 -1.1l1 0.2l1 0.5l1 -0.2l1 -0.1l1 -0.4l1 -0.7l1 0.8l1 -0.9l1 0.3l1 0l1 0l1 -0.7l1 0.1l1 0.2l1 -0.5l1 0.6l1 0l1 0.1l1 0.7l1 -0.1l1 0.9l1 0.1l1 -1.4l1 0.7l1 -0.6l1 0.5l1 -0.2l1 0.2l1 -0.4l1 0.1l1 -0.6l1 -1l1 0.5l1 0.2l1 0.1l1 -0.2l1 1.1l1 -0.8l1 0.6l1 -0.7l1 0.8l1 -1.2l1 0.8l1 -0.8l1 0.6l1 0.4l1 -1.3l1 0.2l1 0.3l1 -0.3l1 -0.7l1 0.9l1 -0.6l1 0.3l1 -0.5l1 -0.7l1 0.2l1 0.6l1 -1.2l1 0.2l1 0.2l1 -0.1l1 -0.2l1 -1.1l1 1.1l1 -1.3l1 -0.4l1 -0.7l1 -0.9l1 -1.3l1 -1l1 -0.7l1 -2.5l1 -1.9l1 -0.1l1 -1.2l1 -0.8l1 -0.3l1 -1.6l1 -0.1l1 -0.5l1 -0.4l1 -0.9l1 -1.7l1 -1.1l1 -0.5l1 -1.5l1 0.2l1 -1.4l1 -0.9l1 -1.2l1 -0.2l1 -1.9l1 -2.2l1 -2.1l1 -3.7l1 -4.4l1 -5.8l1 -8.9l1 -10.7l1 -15l1 -19.8l1 -26.1l1 -30.5l1 -28.5l1 -13.7l1 8l1 26.4l1 30.3l1 27.5l1 21l1 16.1l1 12l1 9.9l1 6.3l1 5.4l1 3.6l1 4l1 1.4l1 4.2l1 1.3l1 1.7l1 0.7l1 1.4l1 1.7l1 0.6l1 1l1 1.1l1 0.4l1 -0.4l1 0.9l1 0.4l1 0.6l1 0l1 0.4l1 0.9l1 0.4l1 0.8l1 -0.1l1 0.9l1 -1.2l1 0.2l1 0.7l1 -0.4l1 -0.5l1 0.4l1 -0.1l1 -0.1l1 -0.6l1 0.4l1 0.7l1 0.7l1 1.2l1 0.1l1 1.1l1 -0.4l1 1.7l1 0.8l1 -0.3l1 0.8l1 -0.8l1 0.8l1 -0.4l1 0.8l1 0.2l1 -0.7l1 0.2l1 0.2l1 1.3l1 -1l1 0.1l1 0.1l1 0.2l1 -0.1l1 -0.2l1 0.4l1 1.1l1 -0.4l1 -0.1l1 -0.2l1 0.6l1 0.2l1 -0.1l1 0.7l1 -0.4l1 0.3l1 0.5l1 -0.1l1 0.5l1 -0.4l1 0l1 0.5l1 -0.2l1 0.3l1 -0.4l1 -0.2l1 0.1l1 0l1 -0.8l1 0.3l1 -0.1l1 0.5l1 -0.7l1 0.7l1 -1l1 0.5l1 0.5l1 -0.6l1 0.6l1 -1.3l1 0.8l1 0l1 -0.1l1 -0.6l1 0.8l1 -1.5l1 0.6l1 -1.6l1 -1.9l1 -3.1l1 -2.3l1 0.3l1 2.1l1 3l1 1.8l1 1.6l1 0.7l1 0.6l1 -1.4l1 0.5l1 0.1l1 -0.3l1 -0.9l1 -0.3l1 -0.3l1 -0.2l1 -0.6l1 -0.1l1 -0.1l1 0.6l1 1l1 -0.5l1 1.2l1 0.8l1 -0.3l1 1.1l1 -0.8l1 0.8l1 -0.8l1 -0.6l1 0.4l1 0.3l1 -1.4l1 -0.2l1 -1.1l1 -0.6l1 -0.1l1 -0.7l1 -0.1l1 0.1l1 -1l1 0.4l1 0.7l1 1.5l1 -0.5l1 0.5l1 1l1 1.2l1 -0.5l1 0.5l1 0.5l1 0.6l1 0.9l1 -1.2l1 0.1l1 0.9l1 0.3l1 -1.1l1 0.8l1 0.7l1 -0.5l1 0.4l1 -0.1l1 0.2l1 -0.1l1 -0.1l1 0.3l1 -0.7l1 0.2l1 0.4l1 -0.7l1 0l1 -0.1l1 0l1 1.2l1 -0.6l1 0.6l1 -0.4l1 -0.2l1 -0.1l1 0.2l1 -0.1l1 0.4l1 -0.7l1 0.4l1 0.2l1 -0.3l1 0l1 0.3l1 -0.1l1 -0.3l1 0l1 -0.3l1 0.3l1 -0.5l1 -0.8l1 0.2l1 0l1 -0.5l1 -1.1l1 0l1 -0.8l1 -0.8l1 -0.6l1 -1.8l1 -0.7l1 -1.3l1 -0.5l1 -0.7l1 -0.9l1 -0.4l1 -0.8l1 0.6l1 -0.5l1 1.6l1 -0.2l1 -0.9l1 -0.5l1 1.5l1 -1.2l1 0.1l1 -1.2l1 0l1 -0.7l1 0.3l1 -0.2l1 1.2l1 -0.1l1 1.9l1 0.7l1 1.5l1 0.4l1 1.2l1 2.4l1 0.1l1 1.3l1 0.8l1 0.5l1 1l1 -0.2l1 0.4l1 1.2l1 -0.5l1 0.7l1 0.1l1 0.4l1 -0.4l1 -0.9l1 0.5l1 0.1l1 0.7l1 -0.3l1 -0.4l1 0.4l1 -0.4l1 0.4l1 -0.2l1 0.3l1 -0.3l1 0.2l1 -0.4l1 0.2l1 -0.3l1 0.4l1 -0.1l1 -0.1l1 0l1 0.1l1 0.3l1 -1l1 1.4l1 -1.4l1 0.8l1 -0.1l1 0.4l1 -0.4l1 -0.2l1 -0.3l1 0l1 -0.1l1 -1.7l1 -2.2l1 -1.1l1 -1.7l1 -1.1l1 -3.9l1 -1.4l1 0l1 0.9l1 1.3l1 3.3l1 1.4l1 2.3l1 2.2l1 0l1 1.2l1 1.3l1 -0.4l1 -0.1l1 0.3l1 0.6l1 -0.9l1 0.4l1 -0.3l1 0.1l1 1l1 -0.6l1 -0.2l1 0.2l1 -0.5l1 -0.4l1 0.8l1 -0.4l1 -1.1l1 0.2l1 -0.4l1 -1.3l1 -1.2l1 -2.2l1 -1.6l1 -3.2l1 -1.8l1 -4l1 -3.2l1 -4.9l1 -3.4l1 -4.7l1 -2.4l1 -1.3l1 -0.2l1 1.3l1 2.2l1 4.9l1 3.8l1 4.4l1 4l1 3l1 3.5l1 3.5l1 0.8l1 2.2l1 0.9l1 1.9l1 0.1l1 0l1 0.6l1 0l1 -0.1l1 0l1 1l1 0l1 0.7l1 -0.3l1 0.5l1 0.8l1 -1.2l1 0.1l1 1l1 0.6l1 -1.2l1 -0.3l1 0.6l1 0l1 0.5l1 -0.7l1 0.4l1 0l1 -0.5l1 0l1 0.8l1 0.1l1 -0.5l1 1l1 -0.2l1 -0.2l1 0.1l1 0l1 0.2l1 0.1l1 -0.3l1 -0.9l1 0.9l1 -0.3l1 0l1 0.8l1 -1l1 1.2l1 -0.6l1 -0.2l1 0.3l1 1.3l1 -0.3l1 -0.7l1 0.5l1 0.3l1 -1.2l1 0.2l1 0.5l1 -0.2l1 -0.4l1 0.8l1 -0.5l1 0.1l1 0.7l1 -0.8l1 0.8l1 -0.9l1 -0.2l1 0.1l1 0.3l1 -0.1l1 -0.2l1 -0.8l1 0.2l1 0.3l1 0.4l1 0.3l1 -1.7l1 1l1 -0.2l1 0.1l1 0.1l1 -0.3l1 -0.1l1 1l1 0l1 -0.4l1 0.2l1 -0.2l1 -0.2l1 0.9l1 -0.4l1 -0.2l1 0.3l1 0.9l1 -0.4l1 -0.1l1 0l1 0.4l1 0l1 -0.8l1 0.4l1 -0.2l1 0.3l1 -0.1l1 -0.8l1 1.2l1 -0.4l1 -0.9l1 1.2l1 -0.5l1 0.1l1 -0.1l1 0.2l1 -0.2l1 -0.4l1 0.5l1 0.4l1 0l1 0.4l1 -0.3l1 -0.8l1 1.1l1 -0.7l1 -0.4l1 0.3l1 -0.6l1 0.6l1 -0.7l1 0.9l1 -1.1l1 -0.4l1 -0.2l1 -0.8l1 0.4l1 -0.2l1 -0.1l1 -1l1 0.7l1 0.3l1 -0.9l1 0.1l1 0.2l1 -0.4l1 0.4l1 0.8l1 0l1 -0.3l1 0l1 2l1 -0.5l1 -0.7l1 0.9l1 0.3l1 -0.2l1 -0.8l1 1.5l1 -0.5l1 -0.3l1 0.3l1 -0.4l1 -0.1l1 0.6l1 -1l1 1.3l1 -0.2l1 0.2l1 0.2l1 0.3l1 0l1 -0.2l1 -0.5l1 0.2l1 -0.7l1 -0.4l1 0.4l1 -0.3l1 0l1 -1.7l1 0.8l1 -0.3l1 -0.6l1 0.3l1 -1.2l1 0.2l1 -0.5l1 0l1 -0.5l1 0.3l1 0.3l1 -0.1l1 0.3l1 -0.3l1 1.2l1 -0.7l1 0.5l1 0.5l1 -0.1l1 0.6l1 0l1 0.8l1 -0.3l1 0.2l1 -0.2l1 0.7l1 0.5l1 0l1 -0.4l1 0.3l1 0.3l1 0.3l1 -0.4l1 1.4l1 -0.8l1 0.1l1 -0.2l1 0.2l1 0.8l1 -1.2l1 0.2l1 -0.2l1 0.2l1 0.7l1 -1.1l1 0l1 -0.8l1 0.4l1 0.1l1 -0.6l1 -0.2l1 0.2l1 -0.4l1 -0.5l1 -0.5l1 -0.6l1 1.1l1 -1.6l1 0.6l1 -0.7l1 -0.4l1 0.4l1 -0.8l1 0.8l1 -0.9l1 0.7l1 0.5l1 -0.7l1 1.5l1 -0.2l1 -0.9l1 1.8l1 0.5l1 -0.6l1 0.3l1 0.5l1 -0.7l1 1l1 0.5l1 -0.4l1 0.8l1 0.5l1 -1.6l1 0.1l1 0.5l1 0.6l1 -0.1l1 -0.6l1 -0.1l1 0.1l1 0.9l1 -1.1l1 0l1 0.6l1 -0.6l1 -0.4l1 0.8l1 -0.6l1 -0.7l1 0l1 0.3l1 -0.8l1 0.2l1 0l1 -0.1l1 -1.1l1 0.6l1 0.2l1 0.4l1 0.4l1 0.4l1 -0.4l1 -0.1l1 0.9l1 0l1 1.2l1 -0.2l1 0.1l1 0.6l1 -0.5l1 0.4l1 0.2l1 0.6l1 0.2l1 -0.3l1 -0.1l1 -0.4l1 0.2l1 -0.3l1 0.5l1 -0.8l1 0.1l1 0.1l1 0.3l1 -0.6l1 0.2l1 -0.2l1 -0.2l1 1.1l1 -0.2l1 -0.8l1 0.2l1 0.7l1 -0.5l1 -0.3l1 0.9l1 -0.8l1 0l1 0.4l1 -0.6l1 0.2l1 0l1 0.2l1 -0.5l1 0.8l1 -0.3l1 0.7l1 -0.6l1 -0.2l1 0l1 -0.1l1 0.5l1 0l1 0.4l1 -0.2l1 -0.4l1 0.8l1 -0.5l1 0.3l1 0.5l1 -0.1l1 -0.7l1 0.3l1 0.4l1 -0.2l1 -0.3l1 0l1 -1.3l1 0.7l1 -0.6l1 0.2l1 0l1 0.3l1 0.3l1 -0.1l1 -0.2l1 -0.2l1 0.7l1 -0.4l1 -0.8l1 0.8l1 0.2l1 -0.5l1 0.5l1 0.6l1 -0.7l1 0.1l1 0.1l1 -0.4l1 0.3l1 -0.2l1 0.3l1 -0.1l1 0.7l1 -0.5l1 0.4l1 -0.9l1 0.5l1 0.2l1 0l1 -0.5l1 0.2l1 0l1 -0.2l1 -0.1l1 0.3l1 -0.7l1 -0.3l1 0.5l1 0.2l1 -1.1l1 1.5l1 -0.6l1 0.2l1 -0.5l1 0.3l1 0.8l1 0l1 -0.5l1 -0.3l1 0.1l1 0.6l1 -0.8l1 -0.1l1 0.4l1 0.5l1 -0.8l1 0.7l1 0l1 0l1 -0.1l1 0.5l1 -0.1l1 -0.8l1 1.2l1 -0.5l1 0l1 -0.3l1 0l1 -0.9l1 0.9l1 0.3l1 0l1 -0.5l1 -0.8l1 0.5l1 0.3l1 0.6l1 -1.3l1 0.7l1 0.2l1 -0.1l1 -0.3l1 -1.1l1 1.5l1 -0.2l1 0.2l1 -0.5l1 0.2l1 0.8l1 -0.6l1 0.1l1 -0.3l1 0.7l1 -1.3l1 0.3l1 0.3l1 -0.3l1 0.2l1 -0.3l1 0.3l1 -0.9l1 -0.1l1 0.2l1 -0.8l1 1.4l1 -1l1 0.8l1 0.1l1 -0.3l1 -0.5l1 -0.6l1 -1l1 0.6l1 -1l1 0l1 -1.7l1 -0.6l1 -1.3l1 -0.4l1 -0.9l1 0l1 -0.4l1 1.1l1 1.1l1 1.6l1 0.5l1 0.3l1 2l1 0.2l1 0.8l1 -0.3l1 -0.7l1 1.3l1 0l1 0.7l1 -0.7l1 0.3l1 -0.2l1 0.7l1 -0.5l1 1l1 -0.3l1 0.1l1 -0.4l1 0.3l1 0.3l1 -0.7l1 1l1 -0.5l1 0.6l1 0.4l1 -0.2l1 -1.1l1 1l1 -0.6l1 -0.1l1 0.1l1 -0.4l1 0.6l1 -0.4l1 0.8l1 -0.3l1 -1.2l1 0.7l1 -0.1l1 0.1l1 0.1l1 0.3l1 -0.2l1 -0.3l1 0.6l1 0.2l1 -0.4l1 0.4l1 -0.3l1 -0.4l1 0l1 0.1l1 0.2l1 -0.1l1 0.3l1 0l1 -0.9l1 -0.1l1 0.4l1 0.2l1 0.2l1 -0.1l1 -0.1l1 -0.6l1 0.5l1 -0.5l1 0.5l1 0.3l1 -0.6l1 0.2l1 1.1l1 -1.2l1 0.1l1 -0.2l1 -0.1l1 1l1 -0.7l1 0l1 -0.1l1 -0.8l1 1.4l1 -0.5l1 0.1l1 0.6l1 -0.7l1 0.1l1 0l1 0.4l1 -1.1l1 0.3l1 -0.7l1 0.9l1 0.2l1 -0.5l1 1l1 -0.5l1 0.6l1 -0.6l1 0.8l1 -0.8l1 0.5l1 0.1l1 -0.1l1 1l1 0l1 -0.6l1 0.4l1 -0.4l1 -0.1l1 0.1l1 -0.6l1 0.2l1 -0.1l1 -0.5l1 -0.1l1 0.5l1 -0.3l1 1l1 -0.1l1 -1.2l1 0.5l1 -0.9l1 0.5l1 -0.1l1 0.1l1 -0.6l1 1l1 -0.1l1 -0.5l1 0.2l1 0.3l1 0.1l1 -1.4l1 1l1 -1.7l1 0.1l1 -0.2l1 0.4l1 -0.8l1 -0.4l1 0l1 -0.8l1 -0.4l1 0.7l1 -0.6l1 -0.2l1 0.2l1 1.2l1 1.2l1 0l1 0.1l1 0.9l1 -0.7l1 1.1l1 -0.1l1 1l1 -0.9l1 0.7l1 -0.2l1 -0.1l1 0.2l1 -0.4l1 0.6l1 -0.7l1 -0.9l1 1.4l1 0.1l1 -0.1l1 0.5l1 -0.1l1 -0.5l1 -0.3l1 0.6l1 0.5l1 0.5l1 -0.7l1 0.1l1 0.9l1 -1.1l1 -0.1l1 -0.2l1 0.9l1 -0.5l1 -0.1l1 0.2l1 -0.4l1 0.1l1 -0.3l1 0.2l1 0l1 0l1 -0.7l1 0.4l1 0l1 -0.1l1 0.3l1 0.8l1 -0.4l1 -0.3l1 0.2l1 0.4l1 -1l1 0.7l1 0.5l1 0.1l1 -0.3l1 -0.1l1 -1l1 0.4l1 0.3l1 0.2l1 0l1 -1.1l1 0.7l1 0.4l1 -0.4l1 0.2l1 0.3l1 -0.1l1 0l1 0.2l1 0.2l1 -0.6l1 -0.3l1 0.2l1 0.1l1 0.2l1 -0.5l1 0.3l1 0.3l1 0.7l1 -0.3l1 -0.2l1 0.4l1 -0.2l1 0.1l1 0.3l1 -0.2l1 -0.1l1 0.2l1 -0.5l1 0.3l1 -0.9l1 0.7l1 0.8l1 -0.8l1 0.2l1 -0.1l1 -0.2l1 0.6l1 -0.2l1 0.5l1 -0.8l1 0.4l1 -0.2l1 -0.1l1 0.4l1 -1l1 -0.3l1 0.9l1 -1.4l1 -0.5l1 -0.2l1 -1.1l1 0.1l1 -1.2l1 0.1l1 -0.3l1 0.7l1 -0.3l1 0.6l1 0.2l1 -0.6l1 0.9l1 0.1l1 0.4l1 1l1 0.4l1 -0.3l1 0.3l1 0.2l1 0.1l1 0.1l1 -0.6l1 0.7l1 -0.6l1 -0.4l1 0.3l1 0l1 0l1 -0.4l1 -0.2l1 -0.5l1 0.4l1 -0.1l1 0l1 -0.3l1 1.1l1 -0.2l1 0.1l1 -0.1l1 0l1 0.6l1 -0.8l1 0.4l1 0.1l1 0.6l1 -0.1l1 1l1 -1.1l1 1.5l1 -0.3l1 0.5l1 -0.4l1 0.8l1 -0.4l1 0.2l1 -0.7l1 0.8l1 -0.2l1 -0.9l1 0.7l1 -0.2l1 0.5l1 -0.7l1 0.3l1 0.3l1 -1l1 1l1 -0.8l1 -0.3l1 -0.6l1 -0.3l1 1l1 -0.7l1 -0.2l1 0.8l1 0l1 0l1 -0.5l1 -0.1l1 1.4l1 -0.3l1 0.1l1 1l1 -0.8l1 0.3l1 0.7l1 -0.7l1 -0.5l1 -0.1l1 0.8l1 -1.1l1 0.8l1 0.3l1 -0.7l1 0.3l1 -0.3l1 0.6l1 -0.5l1 -0.4l1 0.4l1 -0.1l1 -0.3l1 0.1l1 -0.4l1 0.2l1 0.7l1 -1l1 0.9l1 -0.1l1 -0.2l1 0.8l1 -0.3l1 -0.5l1 0.4l1 0.2l1 -1l1 0.6l1 -0.2l1 0.2l1 0.6l1 -1.2l1 0.1l1 -0.4l1 0.5l1 0.2l1 -1.3l1 1.7l1 0l1 -1.7l1 0.5l1 0.8l1 -0.1l1 0.5l1 -0.6l1 0.7l1 -1l1 0.7l1 -0.3l1 0.1l1 -0.5l1 0.6l1 0.8l1 -0.8l1 0.2l1 0.1l1 -0.6l1 0.4l1 0.1l1 -0.5l1 -0.7l1 1.3l1 -0.7l1 -0.2l1 -0.1l1 -0.2l1 -0.4l1 0.6l1 0.1l1 0.3l1 0.3l1 -1l1 0.9l1 -0.6l1 0.2l1 -0.7l1 0.6l1 -0.6l1 0.7l1 -0.8l1 0.5l1 -0.2l1 0.3l1 -0.1l1 0l1 -0.2l1 0.7l1 0l1 -0.5l1 0.8l1 -0.5l1 0.4l1 0.1l1 0.1l1 0.4l1 -1.1l1 1.2l1 -1.3l1 1.1l1 -0.4l1 -0.9l1 0.7l1 -0.4l1 -0.4l1 0.9l1 0l1 -0.3l1 0.6l1 -0.6l1 -0.2l1 0.7l1 -0.8l1 0.7l1 0.1l1 -0.3l1 0l1 0.1l1 -0.1l1 -0.4l1 -1.2l1 1.3l1 -0.4l1 1l1 -0.6l1 0.2l1 0.3l1 0.2l1 -0.8l1 1.3l1 -0.4l1 -0.1l1 -0.6l1 1.3l1 -0.5l1 0.2l1 -0.6l1 0.9l1 -0.2l1 -0.6l1 0.8l1 -1.3l1 0.8l1 -0.1l1 0l1 -0.6l1 0.1l1 0.5l1 0l1 -0.5l1 -0.2l1 -0.1l1 0.7l1 -0.7l1 -0.2l1 -0.6l1 0.1l1 0.4l1 -0.3l1 0.8l1 0.1l1 -0.2l1 0.4l1 0.2l1 -0.6l1 1.1l1 -1.4l1 1.8l1 -1.4l1 0.6l1 -0.2l1 0.2l1 -0.5l1 0.5l1 -0.9l1 0.9l1 -0.4l1 0.2l1 0.3l1 -0.9l1 0.2l1 -0.1l1 0.3l1 0.1l1 0.2l1 -0.2l1 -0.2l1 0.3l1 0.1l1 0l1 0.4l1 -1.1l1 0.3l1 -0.7l1 0.2l1 0.5l1 0.3l1 -0.7l1 0.4l1 -0.2l1 0.2l1 -0.1l1 -0.3l1 -0.7l1 0.3l1 0.8l1 -0.2l1 0.9l1 -0.9l1 0.4l1 -0.9l1 0l1 0.6l1 0.6l1 -0.5l1 -0.3l1 0.3l1 0.1l1 0l1 -0.2l1 -0.4l1 -0.1l1 0.3l1 0.2l1 -0.5l1 1.2l1 -0.4l1 -0.4l1 0.5l1 0.7l1 -0.9l1 0.1l1 0.3l1 -1l1 0.4l1 -0.1l1 0.7l1 -1l1 0.8l1 -0.4l1 0.1l1 -0.1l1 0.8l1 -0.9l1 -0.2l1 0.7l1 -0.4l1 0.4l1 -0.3l1 0l1 0l1 -0.7l1 -0.2l1 1.6l1 -1.3l1 0.6l1 -0.6l1 0.4l1 -0.1l1 0.7l1 -0.6l1 -0.6l1 0.1l1 0.7l1 0.2l1 0.5l1 0.1l1 -1.4l1 0.5l1 -0.4l1 0.7l1 0.2l1 -1l1 1.1l1 0l1 -0.4l1 -0.1l1 0.9l1 -0.7l1 -0.3l1 0.5l1 0.4l1 -0.1l1 -1.1l1 0.3l1 0.4l1 0.2l1 0l1 -0.6l1 0.9l1 -0.2l1 -0.8l1 0.3l1 0.3l1 -0.6l1 0.7l1 0l1 -0.3l1 0.3l1 0.5l1 -1.1l1 0.4l1 -0.4l1 0.7l1 -0.2l1 -0.5l1 -0.3l1 0.5l1 -0.4l1 -0.5l1 0l1 0.3l1 0.9l1 -0.5l1 0l1 -0.2l1 0.2l1 0.2l1 -1l1 0.7l1 0.1l1 0l1 0l1 -1.1l1 1.2l1 -0.6l1 0.9l1 -0.6l1 0.1l1 0.1l1 -0.8l1 0.8l1 -0.5l1 0.9l1 -0.6l1 -0.2l1 0.9l1 -0.6l1 -0.3l1 0.4l1 -0.1l1 0.2l1 -0.5l1 0.8l1 -0.3l1 0.6l1 -0.5l1 -0.6l1 0.9l1 -0.5l1 0.1l1 -1l1 0.5l1 1.1l1 -0.1l1 -1.1l1 0.8l1 -0.1l1 0.4l1 -1l1 -0.3l1 0.7l1 -0.4l1 0l1 -0.2l1 0.8l1 -0.8l1 0.8l1 -0.1l1 -0.5l1 0.7l1 0.1l1 -0.3l1 -0.2l1 0.4l1 -0.6l1 0.4l1 0.3l1 -1.3l1 -0.3l1 0.9l1 -0.7l1 0l1 0.2l1 -0.4l1 0.1l1 -0.2l1 0.3l1 0.4l1 0.5l1 -0.3l1 0.5l1 0.3l1 0.2l1 -0.1l1 0.8l1 -1l1 0.7l1 -0.1l1 -0.1l1 -0.7l1 0.6l1 -0.3l1 -0.8l1 0.3l1 -0.5l1 0.7l1 0.4l1 -0.2l1 -0.8l1 0l1 0.3l1 0l1 0.3l1 -0.4l1 0.5l1 -0.6l1 0.7l1 -1l1 0.4l1 0.3l1 0.3l1 0l1 -0.6l1 -0.1l1 0.5l1 0l1 -0.2l1 0.1l1 -0.5l1 0.7l1 0.1l1 -0.7l1 -0.1l1 0.8l1 -0.1l1 -0.7l1 0l1 -0.5l1 0.9l1 -0.1l1 -0.1l1 0.9l1 -1l1 0l1 0l1 0" stroke="#CC9900"/>
<path d="M281 789.6l1 0l1 0l1 0.2l1 -0.4l1 0.5l1 0.1l1 -0.6l1 1.3l1 0l1 -0.4l1 0.1l1 0.3l1 -0.4l1 -0.1l1 -0.6l1 0.9l1 -0.3l1 0l1 -0.8l1 1.4l1 -0.5l1 -0.1l1 1.3l1 -0.8l1 -0.4l1 0.6l1 -0.6l1 1.7l1 -0.5l1 0l1 0.9l1 -1.2l1 1.1l1 -1.2l1 0.7l1 -0.2l1 1.3l1 0.1l1 -0.8l1 0.5l1 -0.2l1 0.5l1 -0.4l1 -0.2l1 0.1l1 1.2l1 1l1 -0.7l1 -0.1l1 1.3l1 -0.7l1 0.1l1 0.2l1 -0.1l1 0l1 -0.4l1 1l1 -0.2l1 0.7l1 -0.7l1 -0.6l1 0.9l1 0.9l1 -0.9l1 -0.2l1 -0.1l1 0.1l1 0.4l1 -0.3l1 1.2l1 -0.6l1 0.4l1 0.8l1 0.2l1 -0.5l1 0.4l1 0.4l1 -0.2l1 -0.6l1 1.3l1 0.1l1 -0.3l1 -0.7l1 0.3l1 -0.2l1 0l1 0.7l1 0l1 -0.4l1 -0.2l1 0.2l1 -0.2l1 0.1l1 -0.2l1 0.4l1 1.1l1 -0.5l1 -0.4l1 0l1 -0.1l1 0.5l1 -0.1l1 -0.9l1 0.8l1 -0.5l1 0.8l1 -0.7l1 0.7l1 -1.1l1 0l1 0.4l1 0.4l1 -0.1l1 -0.7l1 0.7l1 0l1 -0.1l1 0l1 1.2l1 -0.9l1 -0.1l1 0.7l1 -0.2l1 0l1 0.4l1 -0.1l1 0l1 0.3l1 -0.2l1 -0.4l1 0.2l1 -0.1l1 0.4l1 -0.6l1 -0.3l1 0.9l1 -0.6l1 -0.2l1 1.1l1 -0.5l1 0.6l1 -0.5l1 -0.2l1 -0.1l1 0.4l1 0.1l1 -0.2l1 0.2l1 -0.5l1 0.7l1 -0.8l1 0.7l1 0.4l1 0.2l1 0.3l1 -1.5l1 1.1l1 0.2l1 -0.1l1 -0.9l1 0.6l1 0.5l1 -1.6l1 0.9l1 0.2l1 -0.9l1 0.5l1 -0.9l1 0.1l1 -0.1l1 0.6l1 0l1 0.7l1 -0.7l1 0.5l1 0.7l1 -0.1l1 -0.7l1 1.1l1 -0.4l1 0.4l1 0l1 0.4l1 -0.4l1 -0.9l1 0.2l1 1l1 -0.5l1 0.7l1 -0.4l1 -0.4l1 0.9l1 -0.8l1 -0.5l1 1.9l1 -1.7l1 1.2l1 0.2l1 -0.3l1 -0.8l1 1.3l1 -1l1 0.1l1 0.5l1 0.6l1 -0.1l1 0.3l1 -0.5l1 0.2l1 -0.3l1 0.4l1 0.5l1 -0.3l1 0.4l1 -0.3l1 0l1 0.4l1 0l1 0.4l1 -0.1l1 0.7l1 -1l1 0l1 -0.5l1 0.4l1 0.3l1 -0.7l1 0.2l1 0.3l1 -0.5l1 -0.1l1 0.7l1 -0.3l1 0.1l1 0.4l1 0l1 -0.6l1 0l1 0.4l1 -0.2l1 -0.8l1 1.4l1 -0.5l1 0.3l1 -0.9l1 1.1l1 -0.8l1 0.2l1 -0.6l1 0.5l1 0l1 0.1l1 0.3l1 -0.2l1 0.4l1 -0.6l1 -0.2l1 0.4l1 0.3l1 0.3l1 -0.2l1 -1.1l1 0.9l1 0.5l1 -0.6l1 -0.3l1 0.4l1 -0.4l1 0.5l1 -0.3l1 0.6l1 -0.4l1 -0.6l1 0.5l1 0.1l1 -0.7l1 0l1 -0.9l1 1.4l1 -0.7l1 -0.7l1 0.1l1 0.7l1 0.4l1 -0.4l1 0.3l1 -0.7l1 -0.2l1 1l1 -0.2l1 -0.2l1 0.6l1 -1l1 0.3l1 0.6l1 0.4l1 -0.8l1 0.7l1 -1l1 0.5l1 -0.2l1 -0.6l1 0.9l1 0.3l1 -0.5l1 0.1l1 0.7l1 -1.1l1 -0.1l1 0.4l1 -0.3l1 1l1 -0.6l1 -0.6l1 0l1 1.5l1 -1.7l1 -0.2l1 0.4l1 0.1l1 -0.2l1 -0.6l1 -0.1l1 0.7l1 -0.3l1 -0.7l1 1.2l1 -0.2l1 -0.5l1 -0.1l1 0l1 -0.6l1 -0.6l1 0.5l1 -1l1 0.6l1 -1.1l1 0.3l1 -0.3l1 0.6l1 -1.4l1 -0.2l1 0.3l1 -0.3l1 0.1l1 0.3l1 0l1 0.2l1 -1.3l1 1.2l1 -0.7l1 -1.5l1 -1.6l1 0.3l1 -0.8l1 -1.8l1 0.4l1 -0.6l1 -0.5l1 0.7l1 0.4l1 -0.5l1 0.5l1 -0.3l1 -0.1l1 0.3l1 0l1 -0.9l1 -1.1l1 0.7l1 -1.9l1 -0.5l1 -1.2l1 -3.9l1 -4.8l1 -5l1 -3.2l1 -3.8l1 -2.2l1 -1.8l1 -2.2l1 -1.8l1 -2l1 -2.7l1 -1.2l1 -0.6l1 -0.7l1 0.1l1 -0.2l1 0.2l1 0.3l1 -1.2l1 -0.8l1 -2.5l1 -1.6l1 -4.3l1 -5.1l1 -6.3l1 -9.1l1 -12.1l1 -14.7l1 -21.2l1 -26.8l1 -38.4l1 -54.1l1 -71.1l1 -90.2l1 -83.2l1 -33.8l1 42.9l1 87l1 86.9l1 69.7l1 51.8l1 37.1l1 25.9l1 19.3l1 15.1l1 9.8l1 9.7l1 6.5l1 6.3l1 4.1l1 3.7l1 3.6l1 2.3l1 3.2l1 1.9l1 2.2l1 1.7l1 2.5l1 1.2l1 1.9l1 1.5l1 0.8l1 2l1 1.3l1 1.2l1 0.9l1 1.2l1 1.7l1 1.8l1 -0.3l1 1.6l1 0.4l1 1.3l1 0.5l1 0.8l1 -1.2l1 1.4l1 0l1 0.5l1 -0.1l1 0l1 0.7l1 0.5l1 -2.1l1 1.1l1 0.3l1 -0.1l1 0l1 -0.3l1 0.3l1 0.9l1 0.4l1 -0.3l1 -0.2l1 0.7l1 0.1l1 0.6l1 0l1 -0.1l1 0.5l1 -0.4l1 1.1l1 0.3l1 -0.8l1 0.9l1 -0.5l1 1.1l1 0.1l1 -0.4l1 0.7l1 -0.5l1 0.1l1 0.1l1 0.3l1 0.1l1 0.3l1 -0.2l1 0.8l1 0.3l1 -0.6l1 -0.2l1 1.1l1 0.4l1 -0.5l1 -0.3l1 0.8l1 0.7l1 -1.3l1 1.2l1 -0.2l1 -0.1l1 0.7l1 -0.7l1 0.9l1 0.6l1 -0.4l1 -0.4l1 -0.4l1 0.2l1 -0.3l1 1.5l1 -0.9l1 -0.4l1 -0.3l1 -0.2l1 -0.1l1 -1.5l1 -0.6l1 -4.8l1 -5.6l1 -5.9l1 -2.7l1 3l1 5.6l1 6.1l1 3.9l1 2.3l1 0.7l1 -0.2l1 0l1 0.5l1 -0.8l1 0.9l1 -1l1 -0.9l1 -0.3l1 -0.9l1 -0.4l1 -0.3l1 -1.9l1 -1.1l1 0.1l1 -1.1l1 -0.6l1 -0.5l1 -0.6l1 0.5l1 -0.7l1 0.8l1 0l1 0.2l1 1.1l1 0.1l1 -1.3l1 0l1 0l1 -0.6l1 -1.8l1 -1l1 -1.8l1 0.7l1 -1.8l1 -0.2l1 -0.1l1 0.8l1 1l1 1l1 2.2l1 1.4l1 2.3l1 0.7l1 1.6l1 1.9l1 1.4l1 0.4l1 0.5l1 0.9l1 0.3l1 1.4l1 -0.2l1 0.3l1 -0.3l1 -0.2l1 0.8l1 0.3l1 -0.5l1 -0.2l1 0.6l1 -0.6l1 0.6l1 -0.6l1 -0.1l1 0.8l1 -0.1l1 0.8l1 -0.9l1 0.1l1 -0.4l1 -0.3l1 0l1 1.1l1 -0.7l1 1l1 0.2l1 -0.8l1 0.9l1 -0.7l1 0.4l1 -0.6l1 0.4l1 -0.9l1 0.6l1 -0.5l1 0l1 0.1l1 -0.4l1 -0.4l1 -0.1l1 -0.5l1 -1.8l1 -0.2l1 -1.4l1 -2.4l1 -1.8l1 -3.4l1 -1.7l1 -4.1l1 -3.2l1 -2.5l1 -3.2l1 -1.3l1 -1.1l1 0.9l1 1.3l1 2.8l1 2.8l1 1.6l1 1.2l1 -1.3l1 -2.6l1 -5.1l1 -7.8l1 -11.1l1 -12.2l1 -9.3l1 -2.8l1 6.5l1 12.7l1 12.2l1 11.7l1 9.5l1 5.7l1 4.5l1 2.1l1 2.9l1 -0.7l1 1.4l1 0.9l1 1.8l1 0.1l1 0.2l1 0l1 1.2l1 0.2l1 0l1 0l1 0.4l1 0.6l1 0.1l1 -0.1l1 -0.2l1 -0.7l1 0.7l1 -0.5l1 0.4l1 0.1l1 -0.5l1 -0.1l1 0.9l1 -0.2l1 -0.4l1 -1l1 1.3l1 0.4l1 0.2l1 -0.8l1 0l1 0l1 0.5l1 -1l1 0.4l1 -0.5l1 0.4l1 -1l1 0.7l1 -0.6l1 -0.2l1 0.1l1 -0.2l1 -1.7l1 0.6l1 -1.1l1 -1.6l1 -1.1l1 -3.6l1 -4.4l1 -8l1 -9.8l1 -10.3l1 -9.6l1 -4.6l1 5l1 9.9l1 10.9l1 9.9l1 7.6l1 3.1l1 3.4l1 1.1l1 1.9l1 1.1l1 -0.5l1 0.7l1 1l1 -0.5l1 -0.5l1 0l1 -0.4l1 1.1l1 -1l1 0.5l1 -0.7l1 -1.4l1 -1.1l1 -1l1 -2.5l1 -3l1 -4.8l1 -3.9l1 -6.9l1 -7.6l1 -6.8l1 -7.2l1 -6.4l1 -6.9l1 -4.7l1 -1.5l1 -4.2l1 -5.6l1 -9.3l1 -12.6l1 -13l1 -11l1 0.8l1 14.1l1 22.4l1 21.1l1 19.4l1 14.2l1 10.2l1 6.4l1 5.1l1 3.4l1 1.3l1 1.1l1 0.9l1 1.6l1 0.6l1 0.7l1 0.6l1 -0.2l1 1.4l1 0.1l1 0.2l1 0.4l1 0.6l1 -0.2l1 -0.2l1 1l1 -0.6l1 0l1 -0.2l1 0.8l1 -0.4l1 0.3l1 0.5l1 -0.1l1 0.6l1 -0.2l1 -0.2l1 0.2l1 0l1 0.6l1 -0.2l1 0l1 0.6l1 -0.2l1 -0.2l1 -0.3l1 0.9l1 0l1 0l1 -0.1l1 -0.1l1 0.4l1 0.3l1 -0.1l1 0l1 0l1 0.4l1 0l1 -0.4l1 0.8l1 0.1l1 0.1l1 -0.4l1 0l1 -0.2l1 1.1l1 -1.1l1 1l1 0.2l1 0.7l1 -0.2l1 -0.2l1 0l1 0.5l1 0.3l1 -0.1l1 -0.1l1 -0.3l1 0.1l1 0.5l1 -1l1 0.5l1 0.6l1 -0.6l1 -0.3l1 0.6l1 -0.5l1 0.5l1 0.8l1 0.2l1 -1.5l1 1.2l1 0.7l1 -1l1 0.4l1 0.6l1 -0.8l1 0.4l1 -0.1l1 -0.8l1 1.1l1 -0.2l1 0.5l1 0.6l1 -0.7l1 -0.6l1 0.3l1 -0.2l1 0.2l1 -1.2l1 0l1 -0.5l1 1.1l1 -0.4l1 -0.1l1 0.1l1 0.2l1 0l1 0.4l1 0.1l1 1l1 -0.4l1 -0.3l1 0.2l1 0.7l1 -0.4l1 -0.1l1 0.1l1 0.3l1 -1.3l1 0.1l1 -0.6l1 0.9l1 -0.5l1 -0.2l1 -0.2l1 0.5l1 -0.6l1 -0.5l1 0.3l1 -1.6l1 -0.8l1 0.9l1 -2.3l1 -1.2l1 -1.2l1 -0.7l1 -0.4l1 -0.5l1 -0.2l1 0.1l1 0.2l1 1.8l1 1.6l1 0.8l1 0.4l1 1.2l1 0.2l1 0.7l1 -0.2l1 0.8l1 0.4l1 0l1 0.5l1 0.7l1 -0.1l1 -0.6l1 -0.1l1 0.1l1 0l1 0.5l1 0.3l1 -0.1l1 0l1 0l1 -0.3l1 -0.4l1 1l1 -0.5l1 -1.1l1 -0.2l1 -0.2l1 -0.1l1 0.1l1 -0.5l1 -0.5l1 -0.5l1 -0.6l1 -0.8l1 -0.8l1 -1l1 -1.4l1 0.1l1 0.2l1 -1.6l1 -0.4l1 0.5l1 -0.5l1 -0.1l1 1.3l1 0.1l1 0.6l1 0.1l1 1.2l1 0.6l1 0.8l1 0.8l1 0.6l1 0l1 0.7l1 -0.4l1 1.1l1 0.3l1 -0.2l1 0.2l1 0.7l1 -0.2l1 1l1 0.2l1 -0.3l1 0.7l1 0.7l1 0.2l1 0.1l1 -0.5l1 -0.1l1 0l1 0.4l1 0.8l1 -0.5l1 0l1 -0.2l1 -1.4l1 0.5l1 -0.3l1 0.6l1 -0.1l1 -1.3l1 0l1 -0.2l1 -0.9l1 -0.6l1 -0.6l1 0.1l1 -1.4l1 0.2l1 -1.1l1 -0.2l1 -0.2l1 -1.3l1 -0.3l1 0.6l1 -0.5l1 0.5l1 0.6l1 0.6l1 -0.2l1 0.8l1 0.7l1 0.6l1 -1.4l1 1.3l1 -0.6l1 -1.5l1 -1.1l1 -0.5l1 -2l1 -1.7l1 -1.8l1 -2.6l1 -1.5l1 -0.9l1 0.2l1 1.4l1 1.7l1 1.4l1 2l1 3.2l1 0.9l1 1.3l1 0.3l1 1.4l1 -0.4l1 0.1l1 -0.5l1 0.1l1 -0.1l1 -1.2l1 -0.3l1 0l1 -0.9l1 -0.1l1 0.4l1 0.2l1 1.2l1 -0.1l1 1.4l1 0.8l1 -0.3l1 1.2l1 0.4l1 0.2l1 0.8l1 0.3l1 0.8l1 0.4l1 -0.7l1 0.5l1 0.5l1 0.4l1 -1.6l1 1.7l1 -0.6l1 0.7l1 -0.8l1 -0.1l1 0.4l1 0.5l1 -0.5l1 -1.1l1 1.3l1 -1.1l1 0.1l1 -0.2l1 -0.5l1 0.2l1 -0.1l1 0l1 0.1l1 -0.2l1 -0.5l1 0.6l1 0.7l1 0.2l1 -0.2l1 0.4l1 0.3l1 0.4l1 0.3l1 -0.8l1 0.2l1 0.9l1 0.1l1 0l1 -1.7l1 0.9l1 -1.3l1 1.7l1 -0.3l1 -0.1l1 -0.1l1 0.6l1 -0.8l1 0.5l1 0l1 0.1l1 0.3l1 0l1 -0.3l1 1l1 0.2l1 -0.2l1 0.6l1 0.3l1 -1l1 0.5l1 -0.2l1 -0.3l1 0.5l1 -0.6l1 0.2l1 0.2l1 0l1 0l1 0.8l1 -1.3l1 0.3l1 -0.7l1 0.7l1 0.3l1 0l1 -0.9l1 0.1l1 0.7l1 -0.6l1 0.6l1 -0.8l1 1.1l1 -0.1l1 -0.2l1 -0.6l1 0.4l1 0.2l1 0.1l1 -0.3l1 -0.2l1 0.1l1 0.4l1 -1.6l1 0.1l1 -0.2l1 0.2l1 -0.6l1 0.8l1 -0.4l1 -0.3l1 -0.4l1 0.2l1 -0.2l1 -0.2l1 -0.8l1 0.4l1 -1.3l1 1l1 -2.1l1 1l1 -0.4l1 0.9l1 -1l1 1.6l1 -1.3l1 1.8l1 -0.4l1 0.2l1 0.3l1 1l1 -0.3l1 -1.3l1 1.8l1 -0.3l1 -0.7l1 1.2l1 -0.8l1 0.7l1 0.2l1 -0.2l1 0.7l1 -0.6l1 0.7l1 -0.3l1 0.3l1 1l1 -0.7l1 -0.5l1 0.4l1 -0.3l1 0.4l1 0l1 -0.1l1 0l1 -0.3l1 0.4l1 0.2l1 -0.8l1 0.3l1 0.1l1 0.5l1 -0.1l1 -0.8l1 0.4l1 -0.7l1 0.2l1 0.4l1 0.3l1 0l1 -0.7l1 -0.6l1 0.6l1 -0.4l1 0.1l1 -0.4l1 0l1 -0.3l1 -0.2l1 -1.1l1 0.2l1 -1.3l1 -0.5l1 -0.1l1 -1.8l1 -2.2l1 -0.7l1 -2.6l1 -3l1 -4l1 -4.3l1 -5.2l1 -5.4l1 -3.7l1 -3.7l1 -0.1l1 2.8l1 5.8l1 5.1l1 4.5l1 4.7l1 4l1 3.2l1 1.2l1 2.9l1 0.9l1 0.8l1 0.9l1 1.1l1 1.1l1 -0.2l1 0.6l1 -0.3l1 0.9l1 0.5l1 -0.8l1 0.7l1 0.8l1 -1l1 0.7l1 0.5l1 -1l1 0.7l1 0.2l1 0.4l1 -0.9l1 1.1l1 -0.4l1 0.4l1 0.1l1 -0.3l1 0.2l1 -0.9l1 0.3l1 0.2l1 0.4l1 0.6l1 -1.1l1 0.7l1 -0.5l1 -0.2l1 1.3l1 -0.7l1 0.6l1 -0.3l1 -1.1l1 -0.5l1 1.7l1 -1.3l1 -0.4l1 0.7l1 -0.4l1 -0.6l1 0l1 0l1 -0.3l1 0l1 -0.8l1 -0.3l1 0.3l1 -0.4l1 0.1l1 -0.9l1 -0.2l1 -0.8l1 0.9l1 -1.6l1 0.4l1 -0.7l1 0.3l1 0.1l1 -1.1l1 0.8l1 -0.5l1 1.7l1 -0.5l1 -0.1l1 0.9l1 1.3l1 0.5l1 0.2l1 -0.5l1 0.6l1 1l1 -0.8l1 0.4l1 -0.1l1 0.1l1 1.2l1 -0.2l1 0.1l1 0.1l1 0.3l1 0.3l1 -0.7l1 -0.1l1 -0.3l1 1l1 -0.7l1 -0.3l1 0.7l1 0.2l1 0.5l1 0.1l1 -0.6l1 0l1 0.3l1 -0.3l1 0.6l1 0.2l1 -0.3l1 -0.8l1 0.1l1 1l1 -1.2l1 0.7l1 -0.1l1 -0.6l1 -0.4l1 0.5l1 -0.4l1 0.3l1 0.1l1 -0.4l1 0.2l1 -0.1l1 -0.5l1 0.4l1 -0.3l1 -0.8l1 0.4l1 -0.4l1 -0.6l1 -1.2l1 0.5l1 -1l1 -1.3l1 -1.7l1 -2.7l1 -1.8l1 -3.3l1 -1.6l1 -4.3l1 -2l1 -2.6l1 0l1 1.6l1 2.9l1 2.8l1 2.8l1 1.8l1 3.8l1 1l1 2.8l1 1.3l1 0.5l1 0.8l1 -0.4l1 2.1l1 -0.7l1 0.6l1 -0.6l1 0.5l1 -0.4l1 0.6l1 0.2l1 0.1l1 0.5l1 -0.4l1 -0.1l1 -0.2l1 0.8l1 -1.3l1 0.7l1 -1.6l1 0.2l1 0.4l1 -0.6l1 1.2l1 -0.7l1 -2.2l1 -0.3l1 -0.1l1 0.4l1 -0.7l1 -0.9l1 -1.2l1 -0.1l1 -1.2l1 0.3l1 0.8l1 0.1l1 -1l1 0.8l1 0.9l1 -0.4l1 0.1l1 0.8l1 0.3l1 0.3l1 0.1l1 0.5l1 0.7l1 0.1l1 1.3l1 0.1l1 0.5l1 0.7l1 0l1 0.2l1 -0.3l1 -0.1l1 1.2l1 -1.2l1 0l1 -0.1l1 0.4l1 -0.1l1 0.1l1 -0.8l1 -1l1 0.6l1 -0.1l1 -0.8l1 -0.4l1 0l1 0.1l1 -0.9l1 -0.8l1 0.5l1 0.3l1 -0.5l1 1.5l1 -0.4l1 1l1 0.3l1 0.1l1 1.3l1 -0.7l1 0.3l1 0.8l1 0.6l1 -0.1l1 -0.2l1 1l1 0.1l1 0.8l1 -0.9l1 0.3l1 -0.5l1 -0.6l1 0.4l1 0.1l1 -1.2l1 -0.3l1 -0.8l1 0.4l1 -1.8l1 -0.6l1 -2.1l1 -1.2l1 -2.4l1 -3.1l1 -1.4l1 -2.3l1 -3.5l1 -1l1 -1.1l1 -0.3l1 1.6l1 1.2l1 3.4l1 2.9l1 1.3l1 2.8l1 2.5l1 0.9l1 1l1 0.7l1 1.2l1 0.4l1 0.6l1 -0.9l1 1.1l1 -0.9l1 0.1l1 -1.2l1 -0.9l1 -0.5l1 -1.2l1 -0.8l1 -0.5l1 -0.8l1 -1.1l1 -0.8l1 -0.1l1 0.8l1 0.8l1 0.2l1 1.2l1 0.8l1 1.5l1 1.3l1 -0.8l1 2.3l1 0.3l1 -0.2l1 1.7l1 0.2l1 0.5l1 -0.6l1 1.8l1 -0.8l1 -0.1l1 0.8l1 -0.3l1 0.1l1 0.1l1 -1.4l1 1.7l1 -0.9l1 0.3l1 0.4l1 -0.8l1 0.5l1 0.2l1 -0.3l1 0.2l1 -0.9l1 0.3l1 0.1l1 0.8l1 1.6l1 -1.5l1 -0.1l1 0.1l1 0.6l1 -0.1l1 -0.7l1 1l1 -0.5l1 0.5l1 -1.3l1 0.2l1 1l1 -1l1 1l1 0l1 -0.1l1 0.1l1 -0.2l1 0.1l1 -0.5l1 0.1l1 1.3l1 -0.9l1 -0.3l1 -0.2l1 -0.5l1 0.4l1 -0.2l1 0.6l1 -0.8l1 -0.7l1 0.9l1 0.6l1 0.8l1 -0.6l1 -0.9l1 0.4l1 -0.3l1 0.5l1 -0.3l1 -0.3l1 1.1l1 -0.1l1 -0.1l1 0.3l1 0.9l1 -1l1 -0.3l1 0.4l1 -1.2l1 1l1 -0.8l1 -0.1l1 0.3l1 0.6l1 -1.2l1 0.8l1 -0.2l1 -0.8l1 1.1l1 -0.8l1 -0.3l1 0.4l1 0l1 0.7l1 -0.6l1 1.1l1 -0.5l1 -0.3l1 0l1 0.6l1 -1l1 0.1l1 0.6l1 0.8l1 -0.1l1 0l1 -0.1l1 -0.9l1 0.9l1 -0.6l1 1.2l1 -0.3l1 0l1 0.2l1 0l1 0l1 0l1 -0.4l1 -0.4l1 0.8l1 0.5l1 -0.2l1 -0.6l1 0.4l1 -0.5l1 0.4l1 -0.4l1 0.4l1 0.8l1 -0.5l1 0.4l1 -1l1 0.1l1 0.3l1 0.3l1 -0.3l1 0.6l1 -0.7l1 0.9l1 -0.2l1 -0.9l1 0.8l1 -0.3l1 0.6l1 -0.7l1 0.3l1 0.1l1 -1.5l1 0.3l1 0.9l1 -0.2l1 0.5l1 -0.4l1 -0.7l1 0.6l1 -0.6l1 0.2l1 -0.2l1 0.2l1 -0.9l1 0l1 -0.6l1 1.8l1 -1.5l1 -0.1l1 -0.2l1 0.3l1 0.1l1 0.4l1 -0.2l1 0l1 -0.4l1 0.2l1 0.5l1 -0.6l1 0l1 -1.2l1 1.1l1 -0.2l1 0.4l1 -1.8l1 1.3l1 -0.1l1 0.2l1 -0.2l1 0.5l1 0.3l1 -0.1l1 0l1 0.1l1 0.1l1 0.3l1 -0.2l1 -0.5l1 1.7l1 -1.4l1 0.8l1 -0.5l1 0.4l1 -0.3l1 0.4l1 -0.3l1 -0.3l1 0.7l1 0.5l1 -0.4l1 0l1 -0.4l1 0.5l1 0.4l1 -0.4l1 0.8l1 -0.4l1 0.3l1 -0.3l1 -0.1l1 0.2l1 0l1 -0.2l1 -0.7l1 0l1 0.2l1 -0.9l1 1.2l1 -0.5l1 0l1 -0.2l1 0.8l1 -0.4l1 1.1l1 -0.6l1 -0.8l1 1.1l1 -0.5l1 0.1l1 0l1 0l1 0l1 0.1l1 -0.2l1 -0.7l1 -0.4l1 0.1l1 0.4l1 0.1l1 0.5l1 -1.4l1 0.7l1 -0.1l1 -0.1l1 0.3l1 -0.2l1 0l1 -0.2l1 0.5l1 0.2l1 0.2l1 -1.1l1 -0.3l1 0.3l1 -0.4l1 0.8l1 -0.9l1 0.3l1 -0.8l1 0.3l1 0.1l1 0.4l1 -1.1l1 0.4l1 -1.2l1 0.3l1 0.2l1 0.1l1 0.5l1 0.3l1 -0.8l1 1.2l1 -0.4l1 1.6l1 -0.5l1 0.2l1 0.2l1 0.3l1 0.3l1 -0.2l1 0.7l1 -0.1l1 0.3l1 -0.3l1 0.4l1 -0.6l1 2l1 -1.9l1 0.2l1 0.7l1 0.2l1 -0.8l1 -0.3l1 0.2l1 0.2l1 0.2l1 0.3l1 0.6l1 0.1l1 -0.8l1 0.6l1 0.1l1 0.3l1 -0.7l1 -0.3l1 0.7l1 0.4l1 -0.9l1 1.1l1 -0.1l1 -0.8l1 -0.5l1 0.5l1 0.2l1 0.4l1 -0.9l1 1.9l1 0l1 -1.3l1 -0.5l1 0.7l1 0.3l1 0.4l1 -0.3l1 -0.4l1 -0.8l1 1.1l1 0.1l1 -0.5l1 0.3l1 0.1l1 -0.1l1 -0.4l1 0.8l1 -0.7l1 1.3l1 -0.9l1 0.7l1 -0.5l1 0.5l1 -0.2l1 0.3l1 -0.5l1 -0.4l1 0.7l1 0l1 -0.5l1 0.4l1 -0.4l1 0.7l1 -0.3l1 0.1l1 1.2l1 -1.2l1 0l1 0.1l1 -0.4l1 -0.3l1 0.6l1 0l1 -1.8l1 1.2l1 -0.2l1 -0.2l1 0.8l1 -0.9l1 0.5l1 -0.7l1 0l1 0.6l1 -0.6l1 0.4l1 -0.4l1 0.2l1 0.8l1 0l1 -0.7l1 0.1l1 1.8l1 -1.4l1 -0.1l1 0.6l1 -0.5l1 0.2l1 0.6l1 0.1l1 -0.5l1 0.7l1 -0.6l1 -0.1l1 0l1 -0.1l1 0.3l1 -0.2l1 -0.5l1 0.4l1 -0.4l1 0l1 0.1l1 0.5l1 -0.3l1 0.4l1 0.1l1 -0.8l1 -0.3l1 -0.1l1 0.5l1 0.2l1 0.3l1 -1.3l1 1.1l1 0.1l1 0.6l1 -1l1 -0.1l1 -0.6l1 0.3l1 -0.1l1 0l1 0.1l1 -0.3l1 0.6l1 0.2l1 0.2l1 -0.4l1 0.5l1 0l1 -1.1l1 0.5l1 -0.7l1 -0.1l1 0.3l1 -0.3l1 0.5l1 0l1 -1l1 -0.5l1 -0.2l1 -0.2l1 0.5l1 -0.5l1 0.8l1 -0.2l1 0.7l1 0.3l1 0.4l1 -0.7l1 -0.4l1 0l1 0.6l1 -0.6l1 -0.2l1 0.5l1 -0.4l1 0.7l1 0.5l1 -1.1l1 0.2l1 -0.9l1 0.7l1 -0.4l1 -0.3l1 -0.4l1 1.5l1 -1.5l1 0.1l1 0.5l1 0.1l1 0l1 -0.2l1 -0.6l1 0.7l1 -0.3l1 -0.9l1 1.3l1 -0.9l1 0.5l1 -1.1l1 0l1 0M281 793.1l1 0l1 0l1 0.2l1 -0.4l1 0.5l1 0.1l1 -0.6l1 1.3l1 0l1 -0.4l1 0.1l1 0.3l1 -0.4l1 -0.1l1 -0.6l1 0.9l1 -0.3l1 0l1 -0.8l1 1.4l1 -0.5l1 -0.1l1 1.3l1 -0.8l1 -0.4l1 0.6l1 -0.6l1 1.7l1 -0.5l1 0l1 0.9l1 -1.2l1 1.1l1 -1.2l1 0.7l1 -0.2l1 1.3l1 0.1l1 -0.8l1 0.5l1 -0.2l1 0.5l1 -0.4l1 -0.2l1 0.1l1 1.2l1 1l1 -0.7l1 -0.1l1 1.3l1 -0.7l1 0.1l1 0.2l1 -0.1l1 0l1 -0.4l1 1l1 -0.2l1 0.7l1 -0.7l1 -0.6l1 0.9l1 0.9l1 -0.9l1 -0.2l1 -0.1l1 0.1l1 0.4l1 -0.3l1 1.2l1 -0.6l1 0.4l1 0.8l1 0.2l1 -0.5l1 0.4l1 0.4l1 -0.2l1 -0.6l1 1.3l1 0.1l1 -0.3l1 -0.7l1 0.3l1 -0.2l1 0l1 0.7l1 0l1 -0.4l1 -0.2l1 0.2l1 -0.2l1 0.1l1 -0.2l1 0.4l1 1.1l1 -0.5l1 -0.4l1 0l1 -0.1l1 0.5l1 -0.1l1 -0.9l1 0.8l1 -0.5l1 0.8l1 -0.7l1 0.7l1 -1.1l1 0l1 0.4l1 0.4l1 -0.1l1 -0.7l1 0.7l1 0l1 -0.1l1 0l1 1.2l1 -0.9l1 -0.1l1 0.7l1 -0.2l1 0l1 0.4l1 -0.1l1 0l1 0.3l1 -0.2l1 -0.4l1 0.2l1 -0.1l1 0.4l1 -0.6l1 -0.3l1 0.9l1 -0.6l1 -0.2l1 1.1l1 -0.5l1 0.6l1 -0.5l1 -0.2l1 -0.1l1 0.4l1 0.1l1 -0.2l1 0.2l1 -0.5l1 0.7l1 -0.8l1 0.7l1 0.4l1 0.2l1 0.3l1 -1.5l1 1.1l1 0.2l1 -0.1l1 -0.9l1 0.6l1 0.5l1 -1.6l1 0.9l1 0.2l1 -0.9l1 0.5l1 -0.9l1 0.1l1 -0.1l1 0.6l1 0l1 0.7l1 -0.7l1 0.5l1 0.7l1 -0.1l1 -0.7l1 1.1l1 -0.4l1 0.4l1 0l1 0.4l1 -0.4l1 -0.9l1 0.2l1 1l1 -0.5l1 0.7l1 -0.4l1 -0.4l1 0.9l1 -0.8l1 -0.5l1 1.9l1 -1.7l1 1.2l1 0.2l1 -0.3l1 -0.8l1 1.3l1 -1l1 0.1l1 0.5l1 0.6l1 -0.1l1 0.3l1 -0.5l1 0.2l1 -0.3l1 0.4l1 0.5l1 -0.3l1 0.4l1 -0.3l1 0l1 0.4l1 0l1 0.4l1 -0.1l1 0.7l1 -1l1 0l1 -0.5l1 0.4l1 0.3l1 -0.7l1 0.2l1 0.3l1 -0.5l1 -0.1l1 0.7l1 -0.3l1 0.1l1 0.4l1 0l1 -0.6l1 0l1 0.4l1 -0.2l1 -0.8l1 1.4l1 -0.5l1 0.3l1 -0.9l1 1.1l1 -0.8l1 0.2l1 -0.6l1 0.5l1 0l1 0.1l1 0.3l1 -0.2l1 0.4l1 -0.6l1 -0.2l1 0.4l1 0.3l1 0.3l1 -0.2l1 -1.1l1 0.9l1 0.5l1 -0.6l1 -0.3l1 0.4l1 -0.4l1 0.5l1 -0.3l1 0.6l1 -0.4l1 -0.6l1 0.5l1 0.1l1 -0.7l1 0l1 -0.9l1 1.4l1 -0.7l1 -0.7l1 0.1l1 0.7l1 0.4l1 -0.4l1 0.3l1 -0.7l1 -0.2l1 1l1 -0.2l1 -0.2l1 0.6l1 -1l1 0.3l1 0.6l1 0.4l1 -0.8l1 0.7l1 -1l1 0.5l1 -0.2l1 -0.6l1 0.9l1 0.3l1 -0.5l1 0.1l1 0.7l1 -1.1l1 -0.1l1 0.4l1 -0.3l1 1l1 -0.6l1 -0.6l1 0l1 1.5l1 -1.7l1 -0.2l1 0.4l1 0.1l1 -0.2l1 -0.6l1 -0.1l1 0.7l1 -0.3l1 -0.7l1 1.2l1 -0.2l1 -0.5l1 -0.1l1 0l1 -0.6l1 -0.6l1 0.5l1 -1l1 0.6l1 -1.1l1 0.3l1 -0.3l1 0.6l1 -1.4l1 -0.2l1 0.3l1 -0.3l1 0.1l1 0.3l1 0l1 0.2l1 -1.3l1 1.2l1 -0.7l1 -1.5l1 -1.6l1 0.3l1 -0.8l1 -1.8l1 0.4l1 -0.6l1 -0.5l1 0.7l1 0.4l1 -0.5l1 0.5l1 -0.3l1 -0.1l1 0.3l1 0l1 -0.9l1 -1.1l1 0.7l1 -1.9l1 -0.5l1 -1.2l1 -3.9l1 -4.8l1 -5l1 -3.2l1 -3.8l1 -2.2l1 -1.8l1 -2.2l1 -1.8l1 -2l1 -2.7l1 -1.2l1 -0.6l1 -0.7l1 0.1l1 -0.2l1 0.2l1 0.3l1 -1.2l1 -0.8l1 -2.5l1 -1.6l1 -4.3l1 -5.1l1 -6.3l1 -9.1l1 -12.1l1 -14.7l1 -21.2l1 -26.8l1 -38.4l1 -54.1l1 -71.1l1 -90.2l1 -83.2l1 -33.8l1 42.9l1 87l1 86.9l1 69.7l1 51.8l1 37.1l1 25.9l1 19.3l1 15.1l1 9.8l1 9.7l1 6.5l1 6.3l1 4.1l1 3.7l1 3.6l1 2.3l1 3.2l1 1.9l1 2.2l1 1.7l1 2.5l1 1.2l1 1.9l1 1.5l1 0.8l1 2l1 1.3l1 1.2l1 0.9l1 1.2l1 1.7l1 1.8l1 -0.3l1 1.6l1 0.4l1 1.3l1 0.5l1 0.8l1 -1.2l1 1.4l1 0l1 0.5l1 -0.1l1 0l1 0.7l1 0.5l1 -2.1l1 1.1l1 0.3l1 -0.1l1 0l1 -0.3l1 0.3l1 0.9l1 0.4l1 -0.3l1 -0.2l1 0.7l1 0.1l1 0.6l1 0l1 -0.1l1 0.5l1 -0.4l1 1.1l1 0.3l1 -0.8l1 0.9l1 -0.5l1 1.1l1 0.1l1 -0.4l1 0.7l1 -0.5l1 0.1l1 0.1l1 0.3l1 0.1l1 0.3l1 -0.2l1 0.8l1 0.3l1 -0.6l1 -0.2l1 1.1l1 0.4l1 -0.5l1 -0.3l1 0.8l1 0.7l1 -1.3l1 1.2l1 -0.2l1 -0.1l1 0.7l1 -0.7l1 0.9l1 0.6l1 -0.4l1 -0.4l1 -0.4l1 0.2l1 -0.3l1 1.5l1 -0.9l1 -0.4l1 -0.3l1 -0.2l1 -0.1l1 -1.5l1 -0.6l1 -4.8l1 -5.6l1 -5.9l1 -2.7l1 3l1 5.6l1 6.1l1 3.9l1 2.3l1 0.7l1 -0.2l1 0l1 0.5l1 -0.8l1 0.9l1 -1l1 -0.9l1 -0.3l1 -0.9l1 -0.4l1 -0.3l1 -1.9l1 -1.1l1 0.1l1 -1.1l1 -0.6l1 -0.5l1 -0.6l1 0.5l1 -0.7l1 0.8l1 0l1 0.2l1 1.1l1 0.1l1 -1.3l1 0l1 0l1 -0.6l1 -1.8l1 -1l1 -1.8l1 0.7l1 -1.8l1 -0.2l1 -0.1l1 0.8l1 1l1 1l1 2.2l1 1.4l1 2.3l1 0.7l1 1.6l1 1.9l1 1.4l1 0.4l1 0.5l1 0.9l1 0.3l1 1.4l1 -0.2l1 0.3l1 -0.3l1 -0.2l1 0.8l1 0.3l1 -0.5l1 -0.2l1 0.6l1 -0.6l1 0.6l1 -0.6l1 -0.1l1 0.8l1 -0.1l1 0.8l1 -0.9l1 0.1l1 -0.4l1 -0.3l1 0l1 1.1l1 -0.7l1 1l1 0.2l1 -0.8l1 0.9l1 -0.7l1 0.4l1 -0.6l1 0.4l1 -0.9l1 0.6l1 -0.5l1 0l1 0.1l1 -0.4l1 -0.4l1 -0.1l1 -0.5l1 -1.8l1 -0.2l1 -1.4l1 -2.4l1 -1.8l1 -3.4l1 -1.7l1 -4.1l1 -3.2l1 -2.5l1 -3.2l1 -1.3l1 -1.1l1 0.9l1 1.3l1 2.8l1 2.8l1 1.6l1 1.2l1 -1.3l1 -2.6l1 -5.1l1 -7.8l1 -11.1l1 -12.2l1 -9.3l1 -2.8l1 6.5l1 12.7l1 12.2l1 11.7l1 9.5l1 5.7l1 4.5l1 2.1l1 2.9l1 -0.7l1 1.4l1 0.9l1 1.8l1 0.1l1 0.2l1 0l1 1.2l1 0.2l1 0l1 0l1 0.4l1 0.6l1 0.1l1 -0.1l1 -0.2l1 -0.7l1 0.7l1 -0.5l1 0.4l1 0.1l1 -0.5l1 -0.1l1 0.9l1 -0.2l1 -0.4l1 -1l1 1.3l1 0.4l1 0.2l1 -0.8l1 0l1 0l1 0.5l1 -1l1 0.4l1 -0.5l1 0.4l1 -1l1 0.7l1 -0.6l1 -0.2l1 0.1l1 -0.2l1 -1.7l1 0.6l1 -1.1l1 -1.6l1 -1.1l1 -3.6l1 -4.4l1 -8l1 -9.8l1 -10.3l1 -9.6l1 -4.6l1 5l1 9.9l1 10.9l1 9.9l1 7.6l1 3.1l1 3.4l1 1.1l1 1.9l1 1.1l1 -0.5l1 0.7l1 1l1 -0.5l1 -0.5l1 0l1 -0.4l1 1.1l1 -1l1 0.5l1 -0.7l1 -1.4l1 -1.1l1 -1l1 -2.5l1 -3l1 -4.8l1 -3.9l1 -6.9l1 -7.6l1 -6.8l1 -7.2l1 -6.4l1 -6.9l1 -4.7l1 -1.5l1 -4.2l1 -5.6l1 -9.3l1 -12.6l1 -13l1 -11l1 0.8l1 14.1l1 22.4l1 21.1l1 19.4l1 14.2l1 10.2l1 6.4l1 5.1l1 3.4l1 1.3l1 1.1l1 0.9l1 1.6l1 0.6l1 0.7l1 0.6l1 -0.2l1 1.4l1 0.1l1 0.2l1 0.4l1 0.6l1 -0.2l1 -0.2l1 1l1 -0.6l1 0l1 -0.2l1 0.8l1 -0.4l1 0.3l1 0.5l1 -0.1l1 0.6l1 -0.2l1 -0.2l1 0.2l1 0l1 0.6l1 -0.2l1 0l1 0.6l1 -0.2l1 -0.2l1 -0.3l1 0.9l1 0l1 0l1 -0.1l1 -0.1l1 0.4l1 0.3l1 -0.1l1 0l1 0l1 0.4l1 0l1 -0.4l1 0.8l1 0.1l1 0.1l1 -0.4l1 0l1 -0.2l1 1.1l1 -1.1l1 1l1 0.2l1 0.7l1 -0.2l1 -0.2l1 0l1 0.5l1 0.3l1 -0.1l1 -0.1l1 -0.3l1 0.1l1 0.5l1 -1l1 0.5l1 0.6l1 -0.6l1 -0.3l1 0.6l1 -0.5l1 0.5l1 0.8l1 0.2l1 -1.5l1 1.2l1 0.7l1 -1l1 0.4l1 0.6l1 -0.8l1 0.4l1 -0.1l1 -0.8l1 1.1l1 -0.2l1 0.5l1 0.6l1 -0.7l1 -0.6l1 0.3l1 -0.2l1 0.2l1 -1.2l1 0l1 -0.5l1 1.1l1 -0.4l1 -0.1l1 0.1l1 0.2l1 0l1 0.4l1 0.1l1 1l1 -0.4l1 -0.3l1 0.2l1 0.7l1 -0.4l1 -0.1l1 0.1l1 0.3l1 -1.3l1 0.1l1 -0.6l1 0.9l1 -0.5l1 -0.2l1 -0.2l1 0.5l1 -0.6l1 -0.5l1 0.3l1 -1.6l1 -0.8l1 0.9l1 -2.3l1 -1.2l1 -1.2l1 -0.7l1 -0.4l1 -0.5l1 -0.2l1 0.1l1 0.2l1 1.8l1 1.6l1 0.8l1 0.4l1 1.2l1 0.2l1 0.7l1 -0.2l1 0.8l1 0.4l1 0l1 0.5l1 0.7l1 -0.1l1 -0.6l1 -0.1l1 0.1l1 0l1 0.5l1 0.3l1 -0.1l1 0l1 0l1 -0.3l1 -0.4l1 1l1 -0.5l1 -1.1l1 -0.2l1 -0.2l1 -0.1l1 0.1l1 -0.5l1 -0.5l1 -0.5l1 -0.6l1 -0.8l1 -0.8l1 -1l1 -1.4l1 0.1l1 0.2l1 -1.6l1 -0.4l1 0.5l1 -0.5l1 -0.1l1 1.3l1 0.1l1 0.6l1 0.1l1 1.2l1 0.6l1 0.8l1 0.8l1 0.6l1 0l1 0.7l1 -0.4l1 1.1l1 0.3l1 -0.2l1 0.2l1 0.7l1 -0.2l1 1l1 0.2l1 -0.3l1 0.7l1 0.7l1 0.2l1 0.1l1 -0.5l1 -0.1l1 0l1 0.4l1 0.8l1 -0.5l1 0l1 -0.2l1 -1.4l1 0.5l1 -0.3l1 0.6l1 -0.1l1 -1.3l1 0l1 -0.2l1 -0.9l1 -0.6l1 -0.6l1 0.1l1 -1.4l1 0.2l1 -1.1l1 -0.2l1 -0.2l1 -1.3l1 -0.3l1 0.6l1 -0.5l1 0.5l1 0.6l1 0.6l1 -0.2l1 0.8l1 0.7l1 0.6l1 -1.4l1 1.3l1 -0.6l1 -1.5l1 -1.1l1 -0.5l1 -2l1 -1.7l1 -1.8l1 -2.6l1 -1.5l1 -0.9l1 0.2l1 1.4l1 1.7l1 1.4l1 2l1 3.2l1 0.9l1 1.3l1 0.3l1 1.4l1 -0.4l1 0.1l1 -0.5l1 0.1l1 -0.1l1 -1.2l1 -0.3l1 0l1 -0.9l1 -0.1l1 0.4l1 0.2l1 1.2l1 -0.1l1 1.4l1 0.8l1 -0.3l1 1.2l1 0.4l1 0.2l1 0.8l1 0.3l1 0.8l1 0.4l1 -0.7l1 0.5l1 0.5l1 0.4l1 -1.6l1 1.7l1 -0.6l1 0.7l1 -0.8l1 -0.1l1 0.4l1 0.5l1 -0.5l1 -1.1l1 1.3l1 -1.1l1 0.1l1 -0.2l1 -0.5l1 0.2l1 -0.1l1 0l1 0.1l1 -0.2l1 -0.5l1 0.6l1 0.7l1 0.2l1 -0.2l1 0.4l1 0.3l1 0.4l1 0.3l1 -0.8l1 0.2l1 0.9l1 0.1l1 0l1 -1.7l1 0.9l1 -1.3l1 1.7l1 -0.3l1 -0.1l1 -0.1l1 0.6l1 -0.8l1 0.5l1 0l1 0.1l1 0.3l1 0l1 -0.3l1 1l1 0.2l1 -0.2l1 0.6l1 0.3l1 -1l1 0.5l1 -0.2l1 -0.3l1 0.5l1 -0.6l1 0.2l1 0.2l1 0l1 0l1 0.8l1 -1.3l1 0.3l1 -0.7l1 0.7l1 0.3l1 0l1 -0.9l1 0.1l1 0.7l1 -0.6l1 0.6l1 -0.8l1 1.1l1 -0.1l1 -0.2l1 -0.6l1 0.4l1 0.2l1 0.1l1 -0.3l1 -0.2l1 0.1l1 0.4l1 -1.6l1 0.1l1 -0.2l1 0.2l1 -0.6l1 0.8l1 -0.4l1 -0.3l1 -0.4l1 0.2l1 -0.2l1 -0.2l1 -0.8l1 0.4l1 -1.3l1 1l1 -2.1l1 1l1 -0.4l1 0.9l1 -1l1 1.6l1 -1.3l1 1.8l1 -0.4l1 0.2l1 0.3l1 1l1 -0.3l1 -1.3l1 1.8l1 -0.3l1 -0.7l1 1.2l1 -0.8l1 0.7l1 0.2l1 -0.2l1 0.7l1 -0.6l1 0.7l1 -0.3l1 0.3l1 1l1 -0.7l1 -0.5l1 0.4l1 -0.3l1 0.4l1 0l1 -0.1l1 0l1 -0.3l1 0.4l1 0.2l1 -0.8l1 0.3l1 0.1l1 0.5l1 -0.1l1 -0.8l1 0.4l1 -0.7l1 0.2l1 0.4l1 0.3l1 0l1 -0.7l1 -0.6l1 0.6l1 -0.4l1 0.1l1 -0.4l1 0l1 -0.3l1 -0.2l1 -1.1l1 0.2l1 -1.3l1 -0.5l1 -0.1l1 -1.8l1 -2.2l1 -0.7l1 -2.6l1 -3l1 -4l1 -4.3l1 -5.2l1 -5.4l1 -3.7l1 -3.7l1 -0.1l1 2.8l1 5.8l1 5.1l1 4.5l1 4.7l1 4l1 3.2l1 1.2l1 2.9l1 0.9l1 0.8l1 0.9l1 1.1l1 1.1l1 -0.2l1 0.6l1 -0.3l1 0.9l1 0.5l1 -0.8l1 0.7l1 0.8l1 -1l1 0.7l1 0.5l1 -1l1 0.7l1 0.2l1 0.4l1 -0.9l1 1.1l1 -0.4l1 0.4l1 0.1l1 -0.3l1 0.2l1 -0.9l1 0.3l1 0.2l1 0.4l1 0.6l1 -1.1l1 0.7l1 -0.5l1 -0.2l1 1.3l1 -0.7l1 0.6l1 -0.3l1 -1.1l1 -0.5l1 1.7l1 -1.3l1 -0.4l1 0.7l1 -0.4l1 -0.6l1 0l1 0l1 -0.3l1 0l1 -0.8l1 -0.3l1 0.3l1 -0.4l1 0.1l1 -0.9l1 -0.2l1 -0.8l1 0.9l1 -1.6l1 0.4l1 -0.7l1 0.3l1 0.1l1 -1.1l1 0.8l1 -0.5l1 1.7l1 -0.5l1 -0.1l1 0.9l1 1.3l1 0.5l1 0.2l1 -0.5l1 0.6l1 1l1 -0.8l1 0.4l1 -0.1l1 0.1l1 1.2l1 -0.2l1 0.1l1 0.1l1 0.3l1 0.3l1 -0.7l1 -0.1l1 -0.3l1 1l1 -0.7l1 -0.3l1 0.7l1 0.2l1 0.5l1 0.1l1 -0.6l1 0l1 0.3l1 -0.3l1 0.6l1 0.2l1 -0.3l1 -0.8l1 0.1l1 1l1 -1.2l1 0.7l1 -0.1l1 -0.6l1 -0.4l1 0.5l1 -0.4l1 0.3l1 0.1l1 -0.4l1 0.2l1 -0.1l1 -0.5l1 0.4l1 -0.3l1 -0.8l1 0.4l1 -0.4l1 -0.6l1 -1.2l1 0.5l1 -1l1 -1.3l1 -1.7l1 -2.7l1 -1.8l1 -3.3l1 -1.6l1 -4.3l1 -2l1 -2.6l1 0l1 1.6l1 2.9l1 2.8l1 2.8l1 1.8l1 3.8l1 1l1 2.8l1 1.3l1 0.5l1 0.8l1 -0.4l1 2.1l1 -0.7l1 0.6l1 -0.6l1 0.5l1 -0.4l1 0.6l1 0.2l1 0.1l1 0.5l1 -0.4l1 -0.1l1 -0.2l1 0.8l1 -1.3l1 0.7l1 -1.6l1 0.2l1 0.4l1 -0.6l1 1.2l1 -0.7l1 -2.2l1 -0.3l1 -0.1l1 0.4l1 -0.7l1 -0.9l1 -1.2l1 -0.1l1 -1.2l1 0.3l1 0.8l1 0.1l1 -1l1 0.8l1 0.9l1 -0.4l1 0.1l1 0.8l1 0.3l1 0.3l1 0.1l1 0.5l1 0.7l1 0.1l1 1.3l1 0.1l1 0.5l1 0.7l1 0l1 0.2l1 -0.3l1 -0.1l1 1.2l1 -1.2l1 0l1 -0.1l1 0.4l1 -0.1l1 0.1l1 -0.8l1 -1l1 0.6l1 -0.1l1 -0.8l1 -0.4l1 0l1 0.1l1 -0.9l1 -0.8l1 0.5l1 0.3l1 -0.5l1 1.5l1 -0.4l1 1l1 0.3l1 0.1l1 1.3l1 -0.7l1 0.3l1 0.8l1 0.6l1 -0.1l1 -0.2l1 1l1 0.1l1 0.8l1 -0.9l1 0.3l1 -0.5l1 -0.6l1 0.4l1 0.1l1 -1.2l1 -0.3l1 -0.8l1 0.4l1 -1.8l1 -0.6l1 -2.1l1 -1.2l1 -2.4l1 -3.1l1 -1.4l1 -2.3l1 -3.5l1 -1l1 -1.1l1 -0.3l1 1.6l1 1.2l1 3.4l1 2.9l1 1.3l1 2.8l1 2.5l1 0.9l1 1l1 0.7l1 1.2l1 0.4l1 0.6l1 -0.9l1 1.1l1 -0.9l1 0.1l1 -1.2l1 -0.9l1 -0.5l1 -1.2l1 -0.8l1 -0.5l1 -0.8l1 -1.1l1 -0.8l1 -0.1l1 0.8l1 0.8l1 0.2l1 1.2l1 0.8l1 1.5l1 1.3l1 -0.8l1 2.3l1 0.3l1 -0.2l1 1.7l1 0.2l1 0.5l1 -0.6l1 1.8l1 -0.8l1 -0.1l1 0.8l1 -0.3l1 0.1l1 0.1l1 -1.4l1 1.7l1 -0.9l1 0.3l1 0.4l1 -0.8l1 0.5l1 0.2l1 -0.3l1 0.2l1 -0.9l1 0.3l1 0.1l1 0.8l1 1.6l1 -1.5l1 -0.1l1 0.1l1 0.6l1 -0.1l1 -0.7l1 1l1 -0.5l1 0.5l1 -1.3l1 0.2l1 1l1 -1l1 1l1 0l1 -0.1l1 0.1l1 -0.2l1 0.1l1 -0.5l1 0.1l1 1.3l1 -0.9l1 -0.3l1 -0.2l1 -0.5l1 0.4l1 -0.2l1 0.6l1 -0.8l1 -0.7l1 0.9l1 0.6l1 0.8l1 -0.6l1 -0.9l1 0.4l1 -0.3l1 0.5l1 -0.3l1 -0.3l1 1.1l1 -0.1l1 -0.1l1 0.3l1 0.9l1 -1l1 -0.3l1 0.4l1 -1.2l1 1l1 -0.8l1 -0.1l1 0.3l1 0.6l1 -1.2l1 0.8l1 -0.2l1 -0.8l1 1.1l1 -0.8l1 -0.3l1 0.4l1 0l1 0.7l1 -0.6l1 1.1l1 -0.5l1 -0.3l1 0l1 0.6l1 -1l1 0.1l1 0.6l1 0.8l1 -0.1l1 0l1 -0.1l1 -0.9l1 0.9l1 -0.6l1 1.2l1 -0.3l1 0l1 0.2l1 0l1 0l1 0l1 -0.4l1 -0.4l1 0.8l1 0.5l1 -0.2l1 -0.6l1 0.4l1 -0.5l1 0.4l1 -0.4l1 0.4l1 0.8l1 -0.5l1 0.4l1 -1l1 0.1l1 0.3l1 0.3l1 -0.3l1 0.6l1 -0.7l1 0.9l1 -0.2l1 -0.9l1 0.8l1 -0.3l1 0.6l1 -0.7l1 0.3l1 0.1l1 -1.5l1 0.3l1 0.9l1 -0.2l1 0.5l1 -0.4l1 -0.7l1 0.6l1 -0.6l1 0.2l1 -0.2l1 0.2l1 -0.9l1 0l1 -0.6l1 1.8l1 -1.5l1 -0.1l1 -0.2l1 0.3l1 0.1l1 0.4l1 -0.2l1 0l1 -0.4l1 0.2l1 0.5l1 -0.6l1 0l1 -1.2l1 1.1l1 -0.2l1 0.4l1 -1.8l1 1.3l1 -0.1l1 0.2l1 -0.2l1 0.5l1 0.3l1 -0.1l1 0l1 0.1l1 0.1l1 0.3l1 -0.2l1 -0.5l1 1.7l1 -1.4l1 0.8l1 -0.5l1 0.4l1 -0.3l1 0.4l1 -0.3l1 -0.3l1 0.7l1 0.5l1 -0.4l1 0l1 -0.4l1 0.5l1 0.4l1 -0.4l1 0.8l1 -0.4l1 0.3l1 -0.3l1 -0.1l1 0.2l1 0l1 -0.2l1 -0.7l1 0l1 0.2l1 -0.9l1 1.2l1 -0.5l1 0l1 -0.2l1 0.8l1 -0.4l1 1.1l1 -0.6l1 -0.8l1 1.1l1 -0.5l1 0.1l1 0l1 0l1 0l1 0.1l1 -0.2l1 -0.7l1 -0.4l1 0.1l1 0.4l1 0.1l1 0.5l1 -1.4l1 0.7l1 -0.1l1 -0.1l1 0.3l1 -0.2l1 0l1 -0.2l1 0.5l1 0.2l1 0.2l1 -1.1l1 -0.3l1 0.3l1 -0.4l1 0.8l1 -0.9l1 0.3l1 -0.8l1 0.3l1 0.1l1 0.4l1 -1.1l1 0.4l1 -1.2l1 0.3l1 0.2l1 0.1l1 0.5l1 0.3l1 -0.8l1 1.2l1 -0.4l1 1.6l1 -0.5l1 0.2l1 0.2l1 0.3l1 0.3l1 -0.2l1 0.7l1 -0.1l1 0.3l1 -0.3l1 0.4l1 -0.6l1 2l1 -1.9l1 0.2l1 0.7l1 0.2l1 -0.8l1 -0.3l1 0.2l1 0.2l1 0.2l1 0.3l1 0.6l1 0.1l1 -0.8l1 0.6l1 0.1l1 0.3l1 -0.7l1 -0.3l1 0.7l1 0.4l1 -0.9l1 1.1l1 -0.1l1 -0.8l1 -0.5l1 0.5l1 0.2l1 0.4l1 -0.9l1 1.9l1 0l1 -1.3l1 -0.5l1 0.7l1 0.3l1 0.4l1 -0.3l1 -0.4l1 -0.8l1 1.1l1 0.1l1 -0.5l1 0.3l1 0.1l1 -0.1l1 -0.4l1 0.8l1 -0.7l1 1.3l1 -0.9l1 0.7l1 -0.5l1 0.5l1 -0.2l1 0.3l1 -0.5l1 -0.4l1 0.7l1 0l1 -0.5l1 0.4l1 -0.4l1 0.7l1 -0.3l1 0.1l1 1.2l1 -1.2l1 0l1 0.1l1 -0.4l1 -0.3l1 0.6l1 0l1 -1.8l1 1.2l1 -0.2l1 -0.2l1 0.8l1 -0.9l1 0.5l1 -0.7l1 0l1 0.6l1 -0.6l1 0.4l1 -0.4l1 0.2l1 0.8l1 0l1 -0.7l1 0.1l1 1.8l1 -1.4l1 -0.1l1 0.6l1 -0.5l1 0.2l1 0.6l1 0.1l1 -0.5l1 0.7l1 -0.6l1 -0.1l1 0l1 -0.1l1 0.3l1 -0.2l1 -0.5l1 0.4l1 -0.4l1 0l1 0.1l1 0.5l1 -0.3l1 0.4l1 0.1l1 -0.8l1 -0.3l1 -0.1l1 0.5l1 0.2l1 0.3l1 -1.3l1 1.1l1 0.1l1 0.6l1 -1l1 -0.1l1 -0.6l1 0.3l1 -0.1l1 0l1 0.1l1 -0.3l1 0.6l1 0.2l1 0.2l1 -0.4l1 0.5l1 0l1 -1.1l1 0.5l1 -0.7l1 -0.1l1 0.3l1 -0.3l1 0.5l1 0l1 -1l1 -0.5l1 -0.2l1 -0.2l1 0.5l1 -0.5l1 0.8l1 -0.2l1 0.7l1 0.3l1 0.4l1 -0.7l1 -0.4l1 0l1 0.6l1 -0.6l1 -0.2l1 0.5l1 -0.4l1 0.7l1 0.5l1 -1.1l1 0.2l1 -0.9l1 0.7l1 -0.4l1 -0.3l1 -0.4l1 1.5l1 -1.5l1 0.1l1 0.5l1 0.1l1 0l1 -0.2l1 -0.6l1 0.7l1 -0.3l1 -0.9l1 1.3l1 -0.9l1 0.5l1 -1.1l1 0l1 0" stroke="#00CBCC"/>
</g>
</svg>
</body></html>
